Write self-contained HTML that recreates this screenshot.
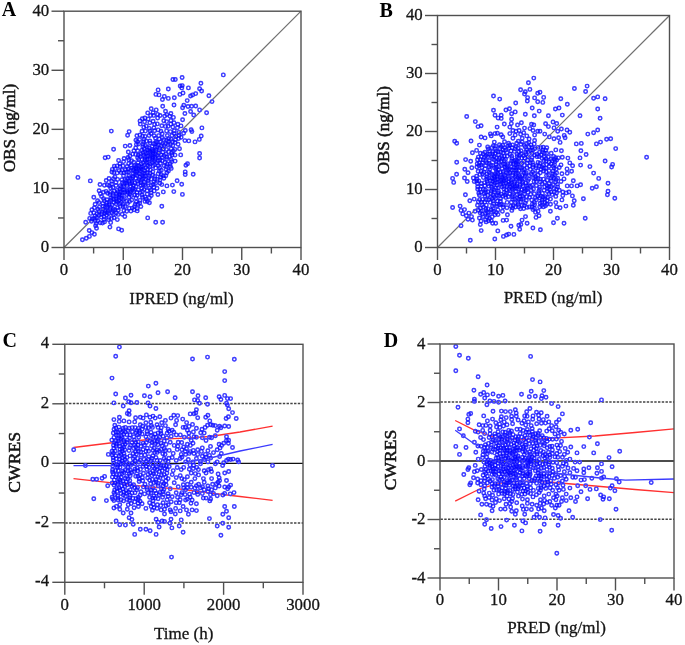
<!DOCTYPE html>
<html><head><meta charset="utf-8"><style>
html,body{margin:0;padding:0;background:#fff;}
body{width:685px;height:645px;overflow:hidden;}
svg{display:block;font-family:"Liberation Serif",serif;filter:blur(0.35px);}
</style></head><body>
<svg width="685" height="645" viewBox="0 0 685 645">
<line x1="64.00" y1="247.50" x2="301.00" y2="11.20" stroke="#707070" stroke-width="1.2" />
<path d="M225.05 74.9a1.75 1.75 0 1 0 -3.5 0a1.75 1.75 0 1 0 3.5 0M183.85 77.5a1.75 1.75 0 1 0 -3.5 0a1.75 1.75 0 1 0 3.5 0M174.65 79.5a1.75 1.75 0 1 0 -3.5 0a1.75 1.75 0 1 0 3.5 0M177.05 79.5a1.75 1.75 0 1 0 -3.5 0a1.75 1.75 0 1 0 3.5 0M202.65 83.3a1.75 1.75 0 1 0 -3.5 0a1.75 1.75 0 1 0 3.5 0M181.95 86.0a1.75 1.75 0 1 0 -3.5 0a1.75 1.75 0 1 0 3.5 0M183.95 85.6a1.75 1.75 0 1 0 -3.5 0a1.75 1.75 0 1 0 3.5 0M183.55 87.9a1.75 1.75 0 1 0 -3.5 0a1.75 1.75 0 1 0 3.5 0M190.15 87.9a1.75 1.75 0 1 0 -3.5 0a1.75 1.75 0 1 0 3.5 0M170.05 89.0a1.75 1.75 0 1 0 -3.5 0a1.75 1.75 0 1 0 3.5 0M201.35 88.7a1.75 1.75 0 1 0 -3.5 0a1.75 1.75 0 1 0 3.5 0M203.35 91.0a1.75 1.75 0 1 0 -3.5 0a1.75 1.75 0 1 0 3.5 0M159.85 89.9a1.75 1.75 0 1 0 -3.5 0a1.75 1.75 0 1 0 3.5 0M184.75 93.0a1.75 1.75 0 1 0 -3.5 0a1.75 1.75 0 1 0 3.5 0M181.65 94.4a1.75 1.75 0 1 0 -3.5 0a1.75 1.75 0 1 0 3.5 0M157.65 94.4a1.75 1.75 0 1 0 -3.5 0a1.75 1.75 0 1 0 3.5 0M160.75 94.9a1.75 1.75 0 1 0 -3.5 0a1.75 1.75 0 1 0 3.5 0M210.65 95.7a1.75 1.75 0 1 0 -3.5 0a1.75 1.75 0 1 0 3.5 0M197.45 93.6a1.75 1.75 0 1 0 -3.5 0a1.75 1.75 0 1 0 3.5 0M194.35 94.9a1.75 1.75 0 1 0 -3.5 0a1.75 1.75 0 1 0 3.5 0M192.35 96.0a1.75 1.75 0 1 0 -3.5 0a1.75 1.75 0 1 0 3.5 0M166.05 96.4a1.75 1.75 0 1 0 -3.5 0a1.75 1.75 0 1 0 3.5 0M170.05 98.4a1.75 1.75 0 1 0 -3.5 0a1.75 1.75 0 1 0 3.5 0M164.15 99.5a1.75 1.75 0 1 0 -3.5 0a1.75 1.75 0 1 0 3.5 0M176.05 97.7a1.75 1.75 0 1 0 -3.5 0a1.75 1.75 0 1 0 3.5 0M188.95 100.6a1.75 1.75 0 1 0 -3.5 0a1.75 1.75 0 1 0 3.5 0M213.75 101.6a1.75 1.75 0 1 0 -3.5 0a1.75 1.75 0 1 0 3.5 0M164.45 106.2a1.75 1.75 0 1 0 -3.5 0a1.75 1.75 0 1 0 3.5 0M175.75 105.0a1.75 1.75 0 1 0 -3.5 0a1.75 1.75 0 1 0 3.5 0M185.55 105.3a1.75 1.75 0 1 0 -3.5 0a1.75 1.75 0 1 0 3.5 0M184.35 107.8a1.75 1.75 0 1 0 -3.5 0a1.75 1.75 0 1 0 3.5 0M189.75 106.5a1.75 1.75 0 1 0 -3.5 0a1.75 1.75 0 1 0 3.5 0M193.35 106.2a1.75 1.75 0 1 0 -3.5 0a1.75 1.75 0 1 0 3.5 0M197.45 106.0a1.75 1.75 0 1 0 -3.5 0a1.75 1.75 0 1 0 3.5 0M201.35 109.9a1.75 1.75 0 1 0 -3.5 0a1.75 1.75 0 1 0 3.5 0M192.35 111.5a1.75 1.75 0 1 0 -3.5 0a1.75 1.75 0 1 0 3.5 0M195.45 115.0a1.75 1.75 0 1 0 -3.5 0a1.75 1.75 0 1 0 3.5 0M208.35 112.7a1.75 1.75 0 1 0 -3.5 0a1.75 1.75 0 1 0 3.5 0M152.95 108.8a1.75 1.75 0 1 0 -3.5 0a1.75 1.75 0 1 0 3.5 0M157.95 109.9a1.75 1.75 0 1 0 -3.5 0a1.75 1.75 0 1 0 3.5 0M154.85 112.7a1.75 1.75 0 1 0 -3.5 0a1.75 1.75 0 1 0 3.5 0M167.25 111.2a1.75 1.75 0 1 0 -3.5 0a1.75 1.75 0 1 0 3.5 0M172.65 113.5a1.75 1.75 0 1 0 -3.5 0a1.75 1.75 0 1 0 3.5 0M168.45 114.6a1.75 1.75 0 1 0 -3.5 0a1.75 1.75 0 1 0 3.5 0M161.85 115.5a1.75 1.75 0 1 0 -3.5 0a1.75 1.75 0 1 0 3.5 0M166.45 116.1a1.75 1.75 0 1 0 -3.5 0a1.75 1.75 0 1 0 3.5 0M186.65 113.5a1.75 1.75 0 1 0 -3.5 0a1.75 1.75 0 1 0 3.5 0M184.35 119.7a1.75 1.75 0 1 0 -3.5 0a1.75 1.75 0 1 0 3.5 0M154.85 121.2a1.75 1.75 0 1 0 -3.5 0a1.75 1.75 0 1 0 3.5 0M172.65 120.5a1.75 1.75 0 1 0 -3.5 0a1.75 1.75 0 1 0 3.5 0M175.75 122.8a1.75 1.75 0 1 0 -3.5 0a1.75 1.75 0 1 0 3.5 0M179.65 124.3a1.75 1.75 0 1 0 -3.5 0a1.75 1.75 0 1 0 3.5 0M182.75 125.9a1.75 1.75 0 1 0 -3.5 0a1.75 1.75 0 1 0 3.5 0M187.05 130.5a1.75 1.75 0 1 0 -3.5 0a1.75 1.75 0 1 0 3.5 0M192.85 129.8a1.75 1.75 0 1 0 -3.5 0a1.75 1.75 0 1 0 3.5 0M193.65 131.6a1.75 1.75 0 1 0 -3.5 0a1.75 1.75 0 1 0 3.5 0M203.65 127.9a1.75 1.75 0 1 0 -3.5 0a1.75 1.75 0 1 0 3.5 0M202.95 136.0a1.75 1.75 0 1 0 -3.5 0a1.75 1.75 0 1 0 3.5 0M201.05 139.4a1.75 1.75 0 1 0 -3.5 0a1.75 1.75 0 1 0 3.5 0M186.65 140.6a1.75 1.75 0 1 0 -3.5 0a1.75 1.75 0 1 0 3.5 0M190.55 140.9a1.75 1.75 0 1 0 -3.5 0a1.75 1.75 0 1 0 3.5 0M196.75 141.9a1.75 1.75 0 1 0 -3.5 0a1.75 1.75 0 1 0 3.5 0M181.25 148.7a1.75 1.75 0 1 0 -3.5 0a1.75 1.75 0 1 0 3.5 0M182.45 154.9a1.75 1.75 0 1 0 -3.5 0a1.75 1.75 0 1 0 3.5 0M201.35 153.5a1.75 1.75 0 1 0 -3.5 0a1.75 1.75 0 1 0 3.5 0M201.35 158.0a1.75 1.75 0 1 0 -3.5 0a1.75 1.75 0 1 0 3.5 0M173.45 152.7a1.75 1.75 0 1 0 -3.5 0a1.75 1.75 0 1 0 3.5 0M149.45 112.9a1.75 1.75 0 1 0 -3.5 0a1.75 1.75 0 1 0 3.5 0M144.05 118.7a1.75 1.75 0 1 0 -3.5 0a1.75 1.75 0 1 0 3.5 0M141.75 121.0a1.75 1.75 0 1 0 -3.5 0a1.75 1.75 0 1 0 3.5 0M146.35 121.8a1.75 1.75 0 1 0 -3.5 0a1.75 1.75 0 1 0 3.5 0M145.55 127.2a1.75 1.75 0 1 0 -3.5 0a1.75 1.75 0 1 0 3.5 0M147.15 131.1a1.75 1.75 0 1 0 -3.5 0a1.75 1.75 0 1 0 3.5 0M113.05 131.1a1.75 1.75 0 1 0 -3.5 0a1.75 1.75 0 1 0 3.5 0M130.85 131.6a1.75 1.75 0 1 0 -3.5 0a1.75 1.75 0 1 0 3.5 0M129.35 135.3a1.75 1.75 0 1 0 -3.5 0a1.75 1.75 0 1 0 3.5 0M138.65 135.7a1.75 1.75 0 1 0 -3.5 0a1.75 1.75 0 1 0 3.5 0M141.75 135.0a1.75 1.75 0 1 0 -3.5 0a1.75 1.75 0 1 0 3.5 0M115.35 149.2a1.75 1.75 0 1 0 -3.5 0a1.75 1.75 0 1 0 3.5 0M126.95 146.1a1.75 1.75 0 1 0 -3.5 0a1.75 1.75 0 1 0 3.5 0M131.65 145.5a1.75 1.75 0 1 0 -3.5 0a1.75 1.75 0 1 0 3.5 0M130.05 152.0a1.75 1.75 0 1 0 -3.5 0a1.75 1.75 0 1 0 3.5 0M106.85 157.8a1.75 1.75 0 1 0 -3.5 0a1.75 1.75 0 1 0 3.5 0M109.95 157.1a1.75 1.75 0 1 0 -3.5 0a1.75 1.75 0 1 0 3.5 0M79.65 177.4a1.75 1.75 0 1 0 -3.5 0a1.75 1.75 0 1 0 3.5 0M92.05 180.9a1.75 1.75 0 1 0 -3.5 0a1.75 1.75 0 1 0 3.5 0M101.75 184.5a1.75 1.75 0 1 0 -3.5 0a1.75 1.75 0 1 0 3.5 0M107.95 180.5a1.75 1.75 0 1 0 -3.5 0a1.75 1.75 0 1 0 3.5 0M95.55 197.3a1.75 1.75 0 1 0 -3.5 0a1.75 1.75 0 1 0 3.5 0M100.85 190.8a1.75 1.75 0 1 0 -3.5 0a1.75 1.75 0 1 0 3.5 0M87.45 222.3a1.75 1.75 0 1 0 -3.5 0a1.75 1.75 0 1 0 3.5 0M91.45 218.4a1.75 1.75 0 1 0 -3.5 0a1.75 1.75 0 1 0 3.5 0M92.45 213.4a1.75 1.75 0 1 0 -3.5 0a1.75 1.75 0 1 0 3.5 0M95.55 212.8a1.75 1.75 0 1 0 -3.5 0a1.75 1.75 0 1 0 3.5 0M90.95 230.5a1.75 1.75 0 1 0 -3.5 0a1.75 1.75 0 1 0 3.5 0M93.65 232.6a1.75 1.75 0 1 0 -3.5 0a1.75 1.75 0 1 0 3.5 0M96.15 234.2a1.75 1.75 0 1 0 -3.5 0a1.75 1.75 0 1 0 3.5 0M91.15 236.4a1.75 1.75 0 1 0 -3.5 0a1.75 1.75 0 1 0 3.5 0M88.05 238.2a1.75 1.75 0 1 0 -3.5 0a1.75 1.75 0 1 0 3.5 0M84.15 239.8a1.75 1.75 0 1 0 -3.5 0a1.75 1.75 0 1 0 3.5 0M97.35 225.8a1.75 1.75 0 1 0 -3.5 0a1.75 1.75 0 1 0 3.5 0M98.25 228.3a1.75 1.75 0 1 0 -3.5 0a1.75 1.75 0 1 0 3.5 0M120.35 228.9a1.75 1.75 0 1 0 -3.5 0a1.75 1.75 0 1 0 3.5 0M123.45 230.2a1.75 1.75 0 1 0 -3.5 0a1.75 1.75 0 1 0 3.5 0M111.65 227.1a1.75 1.75 0 1 0 -3.5 0a1.75 1.75 0 1 0 3.5 0M126.55 216.5a1.75 1.75 0 1 0 -3.5 0a1.75 1.75 0 1 0 3.5 0M135.85 209.7a1.75 1.75 0 1 0 -3.5 0a1.75 1.75 0 1 0 3.5 0M138.95 210.9a1.75 1.75 0 1 0 -3.5 0a1.75 1.75 0 1 0 3.5 0M142.65 206.6a1.75 1.75 0 1 0 -3.5 0a1.75 1.75 0 1 0 3.5 0M185.35 133.2a1.75 1.75 0 1 0 -3.5 0a1.75 1.75 0 1 0 3.5 0M189.25 163.7a1.75 1.75 0 1 0 -3.5 0a1.75 1.75 0 1 0 3.5 0M187.65 165.3a1.75 1.75 0 1 0 -3.5 0a1.75 1.75 0 1 0 3.5 0M176.85 161.1a1.75 1.75 0 1 0 -3.5 0a1.75 1.75 0 1 0 3.5 0M172.95 168.4a1.75 1.75 0 1 0 -3.5 0a1.75 1.75 0 1 0 3.5 0M168.65 172.7a1.75 1.75 0 1 0 -3.5 0a1.75 1.75 0 1 0 3.5 0M167.55 175.8a1.75 1.75 0 1 0 -3.5 0a1.75 1.75 0 1 0 3.5 0M186.95 171.9a1.75 1.75 0 1 0 -3.5 0a1.75 1.75 0 1 0 3.5 0M186.95 174.6a1.75 1.75 0 1 0 -3.5 0a1.75 1.75 0 1 0 3.5 0M194.95 174.3a1.75 1.75 0 1 0 -3.5 0a1.75 1.75 0 1 0 3.5 0M178.85 180.8a1.75 1.75 0 1 0 -3.5 0a1.75 1.75 0 1 0 3.5 0M174.15 185.1a1.75 1.75 0 1 0 -3.5 0a1.75 1.75 0 1 0 3.5 0M183.45 184.3a1.75 1.75 0 1 0 -3.5 0a1.75 1.75 0 1 0 3.5 0M168.65 185.9a1.75 1.75 0 1 0 -3.5 0a1.75 1.75 0 1 0 3.5 0M175.55 191.6a1.75 1.75 0 1 0 -3.5 0a1.75 1.75 0 1 0 3.5 0M184.15 194.4a1.75 1.75 0 1 0 -3.5 0a1.75 1.75 0 1 0 3.5 0M168.35 121.6a1.75 1.75 0 1 0 -3.5 0a1.75 1.75 0 1 0 3.5 0M169.85 126.2a1.75 1.75 0 1 0 -3.5 0a1.75 1.75 0 1 0 3.5 0M174.55 127.0a1.75 1.75 0 1 0 -3.5 0a1.75 1.75 0 1 0 3.5 0M179.15 127.8a1.75 1.75 0 1 0 -3.5 0a1.75 1.75 0 1 0 3.5 0M168.35 130.9a1.75 1.75 0 1 0 -3.5 0a1.75 1.75 0 1 0 3.5 0M172.15 131.6a1.75 1.75 0 1 0 -3.5 0a1.75 1.75 0 1 0 3.5 0M176.05 130.9a1.75 1.75 0 1 0 -3.5 0a1.75 1.75 0 1 0 3.5 0M180.75 132.4a1.75 1.75 0 1 0 -3.5 0a1.75 1.75 0 1 0 3.5 0M169.05 135.5a1.75 1.75 0 1 0 -3.5 0a1.75 1.75 0 1 0 3.5 0M173.75 135.5a1.75 1.75 0 1 0 -3.5 0a1.75 1.75 0 1 0 3.5 0M177.65 136.3a1.75 1.75 0 1 0 -3.5 0a1.75 1.75 0 1 0 3.5 0M180.75 135.5a1.75 1.75 0 1 0 -3.5 0a1.75 1.75 0 1 0 3.5 0M168.35 140.2a1.75 1.75 0 1 0 -3.5 0a1.75 1.75 0 1 0 3.5 0M172.95 139.4a1.75 1.75 0 1 0 -3.5 0a1.75 1.75 0 1 0 3.5 0M176.85 142.5a1.75 1.75 0 1 0 -3.5 0a1.75 1.75 0 1 0 3.5 0M169.85 144.8a1.75 1.75 0 1 0 -3.5 0a1.75 1.75 0 1 0 3.5 0M174.55 145.6a1.75 1.75 0 1 0 -3.5 0a1.75 1.75 0 1 0 3.5 0M168.35 149.5a1.75 1.75 0 1 0 -3.5 0a1.75 1.75 0 1 0 3.5 0M172.95 148.7a1.75 1.75 0 1 0 -3.5 0a1.75 1.75 0 1 0 3.5 0M167.55 154.1a1.75 1.75 0 1 0 -3.5 0a1.75 1.75 0 1 0 3.5 0M171.45 156.4a1.75 1.75 0 1 0 -3.5 0a1.75 1.75 0 1 0 3.5 0M168.35 159.5a1.75 1.75 0 1 0 -3.5 0a1.75 1.75 0 1 0 3.5 0M172.95 159.5a1.75 1.75 0 1 0 -3.5 0a1.75 1.75 0 1 0 3.5 0M169.05 164.2a1.75 1.75 0 1 0 -3.5 0a1.75 1.75 0 1 0 3.5 0M172.15 166.5a1.75 1.75 0 1 0 -3.5 0a1.75 1.75 0 1 0 3.5 0M167.95 169.6a1.75 1.75 0 1 0 -3.5 0a1.75 1.75 0 1 0 3.5 0M165.05 191.9a1.75 1.75 0 1 0 -3.5 0a1.75 1.75 0 1 0 3.5 0M159.65 194.5a1.75 1.75 0 1 0 -3.5 0a1.75 1.75 0 1 0 3.5 0M158.75 188.2a1.75 1.75 0 1 0 -3.5 0a1.75 1.75 0 1 0 3.5 0M163.55 184.6a1.75 1.75 0 1 0 -3.5 0a1.75 1.75 0 1 0 3.5 0M152.65 190.1a1.75 1.75 0 1 0 -3.5 0a1.75 1.75 0 1 0 3.5 0M151.15 197.7a1.75 1.75 0 1 0 -3.5 0a1.75 1.75 0 1 0 3.5 0M151.15 202.8a1.75 1.75 0 1 0 -3.5 0a1.75 1.75 0 1 0 3.5 0M146.75 201.4a1.75 1.75 0 1 0 -3.5 0a1.75 1.75 0 1 0 3.5 0M163.55 206.2a1.75 1.75 0 1 0 -3.5 0a1.75 1.75 0 1 0 3.5 0M149.45 217.9a1.75 1.75 0 1 0 -3.5 0a1.75 1.75 0 1 0 3.5 0M157.45 222.3a1.75 1.75 0 1 0 -3.5 0a1.75 1.75 0 1 0 3.5 0M164.35 222.3a1.75 1.75 0 1 0 -3.5 0a1.75 1.75 0 1 0 3.5 0M119.05 219.6a1.75 1.75 0 1 0 -3.5 0a1.75 1.75 0 1 0 3.5 0M112.45 222.6a1.75 1.75 0 1 0 -3.5 0a1.75 1.75 0 1 0 3.5 0M136.05 168.5a1.75 1.75 0 1 0 -3.5 0a1.75 1.75 0 1 0 3.5 0M138.65 170.9a1.75 1.75 0 1 0 -3.5 0a1.75 1.75 0 1 0 3.5 0M164.25 143.6a1.75 1.75 0 1 0 -3.5 0a1.75 1.75 0 1 0 3.5 0M121.45 203.7a1.75 1.75 0 1 0 -3.5 0a1.75 1.75 0 1 0 3.5 0M142.65 169.0a1.75 1.75 0 1 0 -3.5 0a1.75 1.75 0 1 0 3.5 0M145.25 173.4a1.75 1.75 0 1 0 -3.5 0a1.75 1.75 0 1 0 3.5 0M121.85 185.7a1.75 1.75 0 1 0 -3.5 0a1.75 1.75 0 1 0 3.5 0M148.45 162.5a1.75 1.75 0 1 0 -3.5 0a1.75 1.75 0 1 0 3.5 0M138.85 175.6a1.75 1.75 0 1 0 -3.5 0a1.75 1.75 0 1 0 3.5 0M132.05 191.8a1.75 1.75 0 1 0 -3.5 0a1.75 1.75 0 1 0 3.5 0M154.35 162.2a1.75 1.75 0 1 0 -3.5 0a1.75 1.75 0 1 0 3.5 0M126.45 192.2a1.75 1.75 0 1 0 -3.5 0a1.75 1.75 0 1 0 3.5 0M125.35 184.2a1.75 1.75 0 1 0 -3.5 0a1.75 1.75 0 1 0 3.5 0M134.75 188.2a1.75 1.75 0 1 0 -3.5 0a1.75 1.75 0 1 0 3.5 0M131.55 177.7a1.75 1.75 0 1 0 -3.5 0a1.75 1.75 0 1 0 3.5 0M154.75 152.6a1.75 1.75 0 1 0 -3.5 0a1.75 1.75 0 1 0 3.5 0M103.25 214.2a1.75 1.75 0 1 0 -3.5 0a1.75 1.75 0 1 0 3.5 0M112.45 200.2a1.75 1.75 0 1 0 -3.5 0a1.75 1.75 0 1 0 3.5 0M118.35 194.0a1.75 1.75 0 1 0 -3.5 0a1.75 1.75 0 1 0 3.5 0M123.05 202.5a1.75 1.75 0 1 0 -3.5 0a1.75 1.75 0 1 0 3.5 0M148.15 153.3a1.75 1.75 0 1 0 -3.5 0a1.75 1.75 0 1 0 3.5 0M111.15 204.5a1.75 1.75 0 1 0 -3.5 0a1.75 1.75 0 1 0 3.5 0M124.15 182.8a1.75 1.75 0 1 0 -3.5 0a1.75 1.75 0 1 0 3.5 0M154.65 156.5a1.75 1.75 0 1 0 -3.5 0a1.75 1.75 0 1 0 3.5 0M110.15 211.0a1.75 1.75 0 1 0 -3.5 0a1.75 1.75 0 1 0 3.5 0M133.85 181.5a1.75 1.75 0 1 0 -3.5 0a1.75 1.75 0 1 0 3.5 0M140.95 179.4a1.75 1.75 0 1 0 -3.5 0a1.75 1.75 0 1 0 3.5 0M130.75 181.6a1.75 1.75 0 1 0 -3.5 0a1.75 1.75 0 1 0 3.5 0M155.55 150.7a1.75 1.75 0 1 0 -3.5 0a1.75 1.75 0 1 0 3.5 0M137.25 174.4a1.75 1.75 0 1 0 -3.5 0a1.75 1.75 0 1 0 3.5 0M105.85 216.8a1.75 1.75 0 1 0 -3.5 0a1.75 1.75 0 1 0 3.5 0M154.15 160.2a1.75 1.75 0 1 0 -3.5 0a1.75 1.75 0 1 0 3.5 0M106.35 213.2a1.75 1.75 0 1 0 -3.5 0a1.75 1.75 0 1 0 3.5 0M107.15 206.8a1.75 1.75 0 1 0 -3.5 0a1.75 1.75 0 1 0 3.5 0M150.35 162.6a1.75 1.75 0 1 0 -3.5 0a1.75 1.75 0 1 0 3.5 0M161.55 148.3a1.75 1.75 0 1 0 -3.5 0a1.75 1.75 0 1 0 3.5 0M126.95 179.5a1.75 1.75 0 1 0 -3.5 0a1.75 1.75 0 1 0 3.5 0M139.25 181.3a1.75 1.75 0 1 0 -3.5 0a1.75 1.75 0 1 0 3.5 0M108.45 205.2a1.75 1.75 0 1 0 -3.5 0a1.75 1.75 0 1 0 3.5 0M148.95 159.7a1.75 1.75 0 1 0 -3.5 0a1.75 1.75 0 1 0 3.5 0M148.45 156.0a1.75 1.75 0 1 0 -3.5 0a1.75 1.75 0 1 0 3.5 0M144.95 162.7a1.75 1.75 0 1 0 -3.5 0a1.75 1.75 0 1 0 3.5 0M134.85 176.2a1.75 1.75 0 1 0 -3.5 0a1.75 1.75 0 1 0 3.5 0M158.95 155.5a1.75 1.75 0 1 0 -3.5 0a1.75 1.75 0 1 0 3.5 0M116.55 210.0a1.75 1.75 0 1 0 -3.5 0a1.75 1.75 0 1 0 3.5 0M161.05 149.9a1.75 1.75 0 1 0 -3.5 0a1.75 1.75 0 1 0 3.5 0M120.85 197.6a1.75 1.75 0 1 0 -3.5 0a1.75 1.75 0 1 0 3.5 0M115.05 210.7a1.75 1.75 0 1 0 -3.5 0a1.75 1.75 0 1 0 3.5 0M128.25 180.9a1.75 1.75 0 1 0 -3.5 0a1.75 1.75 0 1 0 3.5 0M156.95 156.8a1.75 1.75 0 1 0 -3.5 0a1.75 1.75 0 1 0 3.5 0M157.65 141.7a1.75 1.75 0 1 0 -3.5 0a1.75 1.75 0 1 0 3.5 0M143.05 163.7a1.75 1.75 0 1 0 -3.5 0a1.75 1.75 0 1 0 3.5 0M135.35 185.5a1.75 1.75 0 1 0 -3.5 0a1.75 1.75 0 1 0 3.5 0M145.45 155.5a1.75 1.75 0 1 0 -3.5 0a1.75 1.75 0 1 0 3.5 0M154.25 158.0a1.75 1.75 0 1 0 -3.5 0a1.75 1.75 0 1 0 3.5 0M115.95 199.3a1.75 1.75 0 1 0 -3.5 0a1.75 1.75 0 1 0 3.5 0M113.65 213.0a1.75 1.75 0 1 0 -3.5 0a1.75 1.75 0 1 0 3.5 0M144.25 169.5a1.75 1.75 0 1 0 -3.5 0a1.75 1.75 0 1 0 3.5 0M159.15 142.4a1.75 1.75 0 1 0 -3.5 0a1.75 1.75 0 1 0 3.5 0M118.55 195.9a1.75 1.75 0 1 0 -3.5 0a1.75 1.75 0 1 0 3.5 0M162.15 141.9a1.75 1.75 0 1 0 -3.5 0a1.75 1.75 0 1 0 3.5 0M129.25 178.5a1.75 1.75 0 1 0 -3.5 0a1.75 1.75 0 1 0 3.5 0M140.65 165.6a1.75 1.75 0 1 0 -3.5 0a1.75 1.75 0 1 0 3.5 0M114.35 198.7a1.75 1.75 0 1 0 -3.5 0a1.75 1.75 0 1 0 3.5 0M138.05 169.1a1.75 1.75 0 1 0 -3.5 0a1.75 1.75 0 1 0 3.5 0M111.55 209.0a1.75 1.75 0 1 0 -3.5 0a1.75 1.75 0 1 0 3.5 0M138.75 165.5a1.75 1.75 0 1 0 -3.5 0a1.75 1.75 0 1 0 3.5 0M118.35 200.7a1.75 1.75 0 1 0 -3.5 0a1.75 1.75 0 1 0 3.5 0M127.05 182.9a1.75 1.75 0 1 0 -3.5 0a1.75 1.75 0 1 0 3.5 0M152.05 157.3a1.75 1.75 0 1 0 -3.5 0a1.75 1.75 0 1 0 3.5 0M154.85 154.3a1.75 1.75 0 1 0 -3.5 0a1.75 1.75 0 1 0 3.5 0M134.85 169.9a1.75 1.75 0 1 0 -3.5 0a1.75 1.75 0 1 0 3.5 0M128.65 185.4a1.75 1.75 0 1 0 -3.5 0a1.75 1.75 0 1 0 3.5 0M128.95 191.4a1.75 1.75 0 1 0 -3.5 0a1.75 1.75 0 1 0 3.5 0M160.35 152.9a1.75 1.75 0 1 0 -3.5 0a1.75 1.75 0 1 0 3.5 0M150.15 152.4a1.75 1.75 0 1 0 -3.5 0a1.75 1.75 0 1 0 3.5 0M153.95 151.2a1.75 1.75 0 1 0 -3.5 0a1.75 1.75 0 1 0 3.5 0M142.05 170.8a1.75 1.75 0 1 0 -3.5 0a1.75 1.75 0 1 0 3.5 0M124.85 199.6a1.75 1.75 0 1 0 -3.5 0a1.75 1.75 0 1 0 3.5 0M141.15 173.7a1.75 1.75 0 1 0 -3.5 0a1.75 1.75 0 1 0 3.5 0M141.65 177.0a1.75 1.75 0 1 0 -3.5 0a1.75 1.75 0 1 0 3.5 0M110.35 213.1a1.75 1.75 0 1 0 -3.5 0a1.75 1.75 0 1 0 3.5 0M137.75 167.3a1.75 1.75 0 1 0 -3.5 0a1.75 1.75 0 1 0 3.5 0M143.05 174.6a1.75 1.75 0 1 0 -3.5 0a1.75 1.75 0 1 0 3.5 0M134.15 190.0a1.75 1.75 0 1 0 -3.5 0a1.75 1.75 0 1 0 3.5 0M104.85 209.4a1.75 1.75 0 1 0 -3.5 0a1.75 1.75 0 1 0 3.5 0M123.25 198.5a1.75 1.75 0 1 0 -3.5 0a1.75 1.75 0 1 0 3.5 0M147.25 160.7a1.75 1.75 0 1 0 -3.5 0a1.75 1.75 0 1 0 3.5 0M118.75 190.1a1.75 1.75 0 1 0 -3.5 0a1.75 1.75 0 1 0 3.5 0M149.55 165.5a1.75 1.75 0 1 0 -3.5 0a1.75 1.75 0 1 0 3.5 0M106.75 211.0a1.75 1.75 0 1 0 -3.5 0a1.75 1.75 0 1 0 3.5 0M108.55 212.5a1.75 1.75 0 1 0 -3.5 0a1.75 1.75 0 1 0 3.5 0M150.25 156.0a1.75 1.75 0 1 0 -3.5 0a1.75 1.75 0 1 0 3.5 0M123.95 195.0a1.75 1.75 0 1 0 -3.5 0a1.75 1.75 0 1 0 3.5 0M156.95 147.1a1.75 1.75 0 1 0 -3.5 0a1.75 1.75 0 1 0 3.5 0M158.75 146.7a1.75 1.75 0 1 0 -3.5 0a1.75 1.75 0 1 0 3.5 0M108.25 215.1a1.75 1.75 0 1 0 -3.5 0a1.75 1.75 0 1 0 3.5 0M121.75 189.0a1.75 1.75 0 1 0 -3.5 0a1.75 1.75 0 1 0 3.5 0M128.65 194.5a1.75 1.75 0 1 0 -3.5 0a1.75 1.75 0 1 0 3.5 0M115.75 202.5a1.75 1.75 0 1 0 -3.5 0a1.75 1.75 0 1 0 3.5 0M131.75 183.8a1.75 1.75 0 1 0 -3.5 0a1.75 1.75 0 1 0 3.5 0M124.35 189.8a1.75 1.75 0 1 0 -3.5 0a1.75 1.75 0 1 0 3.5 0M156.15 160.9a1.75 1.75 0 1 0 -3.5 0a1.75 1.75 0 1 0 3.5 0M129.15 189.7a1.75 1.75 0 1 0 -3.5 0a1.75 1.75 0 1 0 3.5 0M143.75 159.5a1.75 1.75 0 1 0 -3.5 0a1.75 1.75 0 1 0 3.5 0M133.15 178.9a1.75 1.75 0 1 0 -3.5 0a1.75 1.75 0 1 0 3.5 0M163.25 145.9a1.75 1.75 0 1 0 -3.5 0a1.75 1.75 0 1 0 3.5 0M134.45 177.8a1.75 1.75 0 1 0 -3.5 0a1.75 1.75 0 1 0 3.5 0M128.75 183.2a1.75 1.75 0 1 0 -3.5 0a1.75 1.75 0 1 0 3.5 0M144.45 175.7a1.75 1.75 0 1 0 -3.5 0a1.75 1.75 0 1 0 3.5 0M154.05 146.2a1.75 1.75 0 1 0 -3.5 0a1.75 1.75 0 1 0 3.5 0M112.35 207.2a1.75 1.75 0 1 0 -3.5 0a1.75 1.75 0 1 0 3.5 0M129.85 192.8a1.75 1.75 0 1 0 -3.5 0a1.75 1.75 0 1 0 3.5 0M111.05 202.2a1.75 1.75 0 1 0 -3.5 0a1.75 1.75 0 1 0 3.5 0M123.05 187.3a1.75 1.75 0 1 0 -3.5 0a1.75 1.75 0 1 0 3.5 0M118.05 198.6a1.75 1.75 0 1 0 -3.5 0a1.75 1.75 0 1 0 3.5 0M132.25 186.0a1.75 1.75 0 1 0 -3.5 0a1.75 1.75 0 1 0 3.5 0M152.15 152.2a1.75 1.75 0 1 0 -3.5 0a1.75 1.75 0 1 0 3.5 0M159.95 145.0a1.75 1.75 0 1 0 -3.5 0a1.75 1.75 0 1 0 3.5 0M155.35 143.7a1.75 1.75 0 1 0 -3.5 0a1.75 1.75 0 1 0 3.5 0M104.05 212.4a1.75 1.75 0 1 0 -3.5 0a1.75 1.75 0 1 0 3.5 0M113.65 204.9a1.75 1.75 0 1 0 -3.5 0a1.75 1.75 0 1 0 3.5 0M125.55 186.4a1.75 1.75 0 1 0 -3.5 0a1.75 1.75 0 1 0 3.5 0M122.25 195.5a1.75 1.75 0 1 0 -3.5 0a1.75 1.75 0 1 0 3.5 0M126.15 198.6a1.75 1.75 0 1 0 -3.5 0a1.75 1.75 0 1 0 3.5 0M117.75 203.7a1.75 1.75 0 1 0 -3.5 0a1.75 1.75 0 1 0 3.5 0M151.45 166.4a1.75 1.75 0 1 0 -3.5 0a1.75 1.75 0 1 0 3.5 0M135.05 173.8a1.75 1.75 0 1 0 -3.5 0a1.75 1.75 0 1 0 3.5 0M114.65 195.4a1.75 1.75 0 1 0 -3.5 0a1.75 1.75 0 1 0 3.5 0M156.95 158.6a1.75 1.75 0 1 0 -3.5 0a1.75 1.75 0 1 0 3.5 0M137.35 178.3a1.75 1.75 0 1 0 -3.5 0a1.75 1.75 0 1 0 3.5 0M120.65 200.2a1.75 1.75 0 1 0 -3.5 0a1.75 1.75 0 1 0 3.5 0M124.35 192.7a1.75 1.75 0 1 0 -3.5 0a1.75 1.75 0 1 0 3.5 0M138.35 172.6a1.75 1.75 0 1 0 -3.5 0a1.75 1.75 0 1 0 3.5 0M140.65 169.6a1.75 1.75 0 1 0 -3.5 0a1.75 1.75 0 1 0 3.5 0M130.65 175.7a1.75 1.75 0 1 0 -3.5 0a1.75 1.75 0 1 0 3.5 0M121.35 193.9a1.75 1.75 0 1 0 -3.5 0a1.75 1.75 0 1 0 3.5 0M133.65 183.2a1.75 1.75 0 1 0 -3.5 0a1.75 1.75 0 1 0 3.5 0M147.55 167.6a1.75 1.75 0 1 0 -3.5 0a1.75 1.75 0 1 0 3.5 0M144.25 166.6a1.75 1.75 0 1 0 -3.5 0a1.75 1.75 0 1 0 3.5 0M157.55 149.6a1.75 1.75 0 1 0 -3.5 0a1.75 1.75 0 1 0 3.5 0M122.25 191.7a1.75 1.75 0 1 0 -3.5 0a1.75 1.75 0 1 0 3.5 0M146.55 159.4a1.75 1.75 0 1 0 -3.5 0a1.75 1.75 0 1 0 3.5 0M146.25 170.7a1.75 1.75 0 1 0 -3.5 0a1.75 1.75 0 1 0 3.5 0M119.85 191.6a1.75 1.75 0 1 0 -3.5 0a1.75 1.75 0 1 0 3.5 0M108.95 207.2a1.75 1.75 0 1 0 -3.5 0a1.75 1.75 0 1 0 3.5 0M151.35 150.7a1.75 1.75 0 1 0 -3.5 0a1.75 1.75 0 1 0 3.5 0M147.05 173.2a1.75 1.75 0 1 0 -3.5 0a1.75 1.75 0 1 0 3.5 0M112.55 198.1a1.75 1.75 0 1 0 -3.5 0a1.75 1.75 0 1 0 3.5 0M142.45 167.3a1.75 1.75 0 1 0 -3.5 0a1.75 1.75 0 1 0 3.5 0M136.95 171.7a1.75 1.75 0 1 0 -3.5 0a1.75 1.75 0 1 0 3.5 0M146.85 157.0a1.75 1.75 0 1 0 -3.5 0a1.75 1.75 0 1 0 3.5 0M151.45 164.1a1.75 1.75 0 1 0 -3.5 0a1.75 1.75 0 1 0 3.5 0M151.55 158.9a1.75 1.75 0 1 0 -3.5 0a1.75 1.75 0 1 0 3.5 0M115.15 208.9a1.75 1.75 0 1 0 -3.5 0a1.75 1.75 0 1 0 3.5 0M157.05 154.2a1.75 1.75 0 1 0 -3.5 0a1.75 1.75 0 1 0 3.5 0M136.55 182.8a1.75 1.75 0 1 0 -3.5 0a1.75 1.75 0 1 0 3.5 0M146.15 165.3a1.75 1.75 0 1 0 -3.5 0a1.75 1.75 0 1 0 3.5 0M149.35 169.5a1.75 1.75 0 1 0 -3.5 0a1.75 1.75 0 1 0 3.5 0M131.25 190.0a1.75 1.75 0 1 0 -3.5 0a1.75 1.75 0 1 0 3.5 0M157.25 143.4a1.75 1.75 0 1 0 -3.5 0a1.75 1.75 0 1 0 3.5 0M154.05 149.6a1.75 1.75 0 1 0 -3.5 0a1.75 1.75 0 1 0 3.5 0M157.55 151.4a1.75 1.75 0 1 0 -3.5 0a1.75 1.75 0 1 0 3.5 0M153.05 155.6a1.75 1.75 0 1 0 -3.5 0a1.75 1.75 0 1 0 3.5 0M119.25 202.1a1.75 1.75 0 1 0 -3.5 0a1.75 1.75 0 1 0 3.5 0M120.45 195.4a1.75 1.75 0 1 0 -3.5 0a1.75 1.75 0 1 0 3.5 0M126.05 190.0a1.75 1.75 0 1 0 -3.5 0a1.75 1.75 0 1 0 3.5 0M149.05 172.7a1.75 1.75 0 1 0 -3.5 0a1.75 1.75 0 1 0 3.5 0M145.85 148.7a1.75 1.75 0 1 0 -3.5 0a1.75 1.75 0 1 0 3.5 0M150.55 177.7a1.75 1.75 0 1 0 -3.5 0a1.75 1.75 0 1 0 3.5 0M119.35 207.9a1.75 1.75 0 1 0 -3.5 0a1.75 1.75 0 1 0 3.5 0M144.85 152.5a1.75 1.75 0 1 0 -3.5 0a1.75 1.75 0 1 0 3.5 0M133.45 200.1a1.75 1.75 0 1 0 -3.5 0a1.75 1.75 0 1 0 3.5 0M138.85 192.4a1.75 1.75 0 1 0 -3.5 0a1.75 1.75 0 1 0 3.5 0M135.45 162.2a1.75 1.75 0 1 0 -3.5 0a1.75 1.75 0 1 0 3.5 0M139.35 157.8a1.75 1.75 0 1 0 -3.5 0a1.75 1.75 0 1 0 3.5 0M117.75 185.5a1.75 1.75 0 1 0 -3.5 0a1.75 1.75 0 1 0 3.5 0M141.95 192.6a1.75 1.75 0 1 0 -3.5 0a1.75 1.75 0 1 0 3.5 0M154.75 166.0a1.75 1.75 0 1 0 -3.5 0a1.75 1.75 0 1 0 3.5 0M154.45 175.1a1.75 1.75 0 1 0 -3.5 0a1.75 1.75 0 1 0 3.5 0M114.65 187.5a1.75 1.75 0 1 0 -3.5 0a1.75 1.75 0 1 0 3.5 0M158.35 162.7a1.75 1.75 0 1 0 -3.5 0a1.75 1.75 0 1 0 3.5 0M154.55 171.8a1.75 1.75 0 1 0 -3.5 0a1.75 1.75 0 1 0 3.5 0M124.75 204.2a1.75 1.75 0 1 0 -3.5 0a1.75 1.75 0 1 0 3.5 0M131.25 201.5a1.75 1.75 0 1 0 -3.5 0a1.75 1.75 0 1 0 3.5 0M135.65 191.4a1.75 1.75 0 1 0 -3.5 0a1.75 1.75 0 1 0 3.5 0M146.15 182.4a1.75 1.75 0 1 0 -3.5 0a1.75 1.75 0 1 0 3.5 0M130.85 197.1a1.75 1.75 0 1 0 -3.5 0a1.75 1.75 0 1 0 3.5 0M163.05 155.0a1.75 1.75 0 1 0 -3.5 0a1.75 1.75 0 1 0 3.5 0M150.95 175.7a1.75 1.75 0 1 0 -3.5 0a1.75 1.75 0 1 0 3.5 0M151.85 143.1a1.75 1.75 0 1 0 -3.5 0a1.75 1.75 0 1 0 3.5 0M128.55 201.4a1.75 1.75 0 1 0 -3.5 0a1.75 1.75 0 1 0 3.5 0M152.05 170.0a1.75 1.75 0 1 0 -3.5 0a1.75 1.75 0 1 0 3.5 0M147.45 186.5a1.75 1.75 0 1 0 -3.5 0a1.75 1.75 0 1 0 3.5 0M147.25 145.5a1.75 1.75 0 1 0 -3.5 0a1.75 1.75 0 1 0 3.5 0M156.25 164.7a1.75 1.75 0 1 0 -3.5 0a1.75 1.75 0 1 0 3.5 0M165.85 145.4a1.75 1.75 0 1 0 -3.5 0a1.75 1.75 0 1 0 3.5 0M114.65 193.5a1.75 1.75 0 1 0 -3.5 0a1.75 1.75 0 1 0 3.5 0M132.35 170.4a1.75 1.75 0 1 0 -3.5 0a1.75 1.75 0 1 0 3.5 0M146.75 175.9a1.75 1.75 0 1 0 -3.5 0a1.75 1.75 0 1 0 3.5 0M116.05 191.1a1.75 1.75 0 1 0 -3.5 0a1.75 1.75 0 1 0 3.5 0M161.55 160.0a1.75 1.75 0 1 0 -3.5 0a1.75 1.75 0 1 0 3.5 0M150.95 147.9a1.75 1.75 0 1 0 -3.5 0a1.75 1.75 0 1 0 3.5 0M108.65 199.8a1.75 1.75 0 1 0 -3.5 0a1.75 1.75 0 1 0 3.5 0M108.55 202.7a1.75 1.75 0 1 0 -3.5 0a1.75 1.75 0 1 0 3.5 0M164.55 152.2a1.75 1.75 0 1 0 -3.5 0a1.75 1.75 0 1 0 3.5 0M136.25 189.4a1.75 1.75 0 1 0 -3.5 0a1.75 1.75 0 1 0 3.5 0M140.15 189.9a1.75 1.75 0 1 0 -3.5 0a1.75 1.75 0 1 0 3.5 0M149.05 147.2a1.75 1.75 0 1 0 -3.5 0a1.75 1.75 0 1 0 3.5 0M144.65 184.6a1.75 1.75 0 1 0 -3.5 0a1.75 1.75 0 1 0 3.5 0M131.65 194.1a1.75 1.75 0 1 0 -3.5 0a1.75 1.75 0 1 0 3.5 0M125.25 175.7a1.75 1.75 0 1 0 -3.5 0a1.75 1.75 0 1 0 3.5 0M150.15 182.8a1.75 1.75 0 1 0 -3.5 0a1.75 1.75 0 1 0 3.5 0M144.15 179.1a1.75 1.75 0 1 0 -3.5 0a1.75 1.75 0 1 0 3.5 0M149.85 180.8a1.75 1.75 0 1 0 -3.5 0a1.75 1.75 0 1 0 3.5 0M157.45 167.9a1.75 1.75 0 1 0 -3.5 0a1.75 1.75 0 1 0 3.5 0M142.15 156.4a1.75 1.75 0 1 0 -3.5 0a1.75 1.75 0 1 0 3.5 0M160.25 157.7a1.75 1.75 0 1 0 -3.5 0a1.75 1.75 0 1 0 3.5 0M128.15 172.0a1.75 1.75 0 1 0 -3.5 0a1.75 1.75 0 1 0 3.5 0M143.45 188.2a1.75 1.75 0 1 0 -3.5 0a1.75 1.75 0 1 0 3.5 0M140.05 155.1a1.75 1.75 0 1 0 -3.5 0a1.75 1.75 0 1 0 3.5 0M123.55 179.7a1.75 1.75 0 1 0 -3.5 0a1.75 1.75 0 1 0 3.5 0M136.45 195.1a1.75 1.75 0 1 0 -3.5 0a1.75 1.75 0 1 0 3.5 0M151.85 173.2a1.75 1.75 0 1 0 -3.5 0a1.75 1.75 0 1 0 3.5 0M164.95 148.9a1.75 1.75 0 1 0 -3.5 0a1.75 1.75 0 1 0 3.5 0M149.45 149.9a1.75 1.75 0 1 0 -3.5 0a1.75 1.75 0 1 0 3.5 0M136.75 165.6a1.75 1.75 0 1 0 -3.5 0a1.75 1.75 0 1 0 3.5 0M145.75 189.6a1.75 1.75 0 1 0 -3.5 0a1.75 1.75 0 1 0 3.5 0M104.85 206.1a1.75 1.75 0 1 0 -3.5 0a1.75 1.75 0 1 0 3.5 0M121.95 206.4a1.75 1.75 0 1 0 -3.5 0a1.75 1.75 0 1 0 3.5 0M129.95 168.9a1.75 1.75 0 1 0 -3.5 0a1.75 1.75 0 1 0 3.5 0M132.75 165.3a1.75 1.75 0 1 0 -3.5 0a1.75 1.75 0 1 0 3.5 0M112.15 192.4a1.75 1.75 0 1 0 -3.5 0a1.75 1.75 0 1 0 3.5 0M152.85 179.1a1.75 1.75 0 1 0 -3.5 0a1.75 1.75 0 1 0 3.5 0M138.75 195.4a1.75 1.75 0 1 0 -3.5 0a1.75 1.75 0 1 0 3.5 0M142.75 180.5a1.75 1.75 0 1 0 -3.5 0a1.75 1.75 0 1 0 3.5 0M137.75 197.9a1.75 1.75 0 1 0 -3.5 0a1.75 1.75 0 1 0 3.5 0M142.65 182.8a1.75 1.75 0 1 0 -3.5 0a1.75 1.75 0 1 0 3.5 0M124.75 206.5a1.75 1.75 0 1 0 -3.5 0a1.75 1.75 0 1 0 3.5 0M133.15 195.6a1.75 1.75 0 1 0 -3.5 0a1.75 1.75 0 1 0 3.5 0M144.25 191.4a1.75 1.75 0 1 0 -3.5 0a1.75 1.75 0 1 0 3.5 0M133.45 168.1a1.75 1.75 0 1 0 -3.5 0a1.75 1.75 0 1 0 3.5 0M130.35 172.0a1.75 1.75 0 1 0 -3.5 0a1.75 1.75 0 1 0 3.5 0M120.05 210.1a1.75 1.75 0 1 0 -3.5 0a1.75 1.75 0 1 0 3.5 0M140.45 159.4a1.75 1.75 0 1 0 -3.5 0a1.75 1.75 0 1 0 3.5 0M142.35 154.3a1.75 1.75 0 1 0 -3.5 0a1.75 1.75 0 1 0 3.5 0M139.85 183.7a1.75 1.75 0 1 0 -3.5 0a1.75 1.75 0 1 0 3.5 0M125.75 172.9a1.75 1.75 0 1 0 -3.5 0a1.75 1.75 0 1 0 3.5 0M147.35 179.2a1.75 1.75 0 1 0 -3.5 0a1.75 1.75 0 1 0 3.5 0M145.65 177.8a1.75 1.75 0 1 0 -3.5 0a1.75 1.75 0 1 0 3.5 0M143.65 150.3a1.75 1.75 0 1 0 -3.5 0a1.75 1.75 0 1 0 3.5 0M160.15 165.8a1.75 1.75 0 1 0 -3.5 0a1.75 1.75 0 1 0 3.5 0M137.65 186.5a1.75 1.75 0 1 0 -3.5 0a1.75 1.75 0 1 0 3.5 0M146.65 151.7a1.75 1.75 0 1 0 -3.5 0a1.75 1.75 0 1 0 3.5 0M117.65 182.4a1.75 1.75 0 1 0 -3.5 0a1.75 1.75 0 1 0 3.5 0M146.85 184.7a1.75 1.75 0 1 0 -3.5 0a1.75 1.75 0 1 0 3.5 0M139.85 162.7a1.75 1.75 0 1 0 -3.5 0a1.75 1.75 0 1 0 3.5 0M159.75 160.8a1.75 1.75 0 1 0 -3.5 0a1.75 1.75 0 1 0 3.5 0M111.85 194.5a1.75 1.75 0 1 0 -3.5 0a1.75 1.75 0 1 0 3.5 0M164.15 157.4a1.75 1.75 0 1 0 -3.5 0a1.75 1.75 0 1 0 3.5 0M142.55 185.5a1.75 1.75 0 1 0 -3.5 0a1.75 1.75 0 1 0 3.5 0M129.25 203.6a1.75 1.75 0 1 0 -3.5 0a1.75 1.75 0 1 0 3.5 0M144.35 136.1a1.75 1.75 0 1 0 -3.5 0a1.75 1.75 0 1 0 3.5 0M125.85 158.5a1.75 1.75 0 1 0 -3.5 0a1.75 1.75 0 1 0 3.5 0M148.05 140.9a1.75 1.75 0 1 0 -3.5 0a1.75 1.75 0 1 0 3.5 0M99.35 200.8a1.75 1.75 0 1 0 -3.5 0a1.75 1.75 0 1 0 3.5 0M161.05 139.1a1.75 1.75 0 1 0 -3.5 0a1.75 1.75 0 1 0 3.5 0M115.75 217.8a1.75 1.75 0 1 0 -3.5 0a1.75 1.75 0 1 0 3.5 0M125.35 161.6a1.75 1.75 0 1 0 -3.5 0a1.75 1.75 0 1 0 3.5 0M164.05 137.8a1.75 1.75 0 1 0 -3.5 0a1.75 1.75 0 1 0 3.5 0M106.15 185.3a1.75 1.75 0 1 0 -3.5 0a1.75 1.75 0 1 0 3.5 0M155.65 187.2a1.75 1.75 0 1 0 -3.5 0a1.75 1.75 0 1 0 3.5 0M101.15 207.1a1.75 1.75 0 1 0 -3.5 0a1.75 1.75 0 1 0 3.5 0M137.45 147.9a1.75 1.75 0 1 0 -3.5 0a1.75 1.75 0 1 0 3.5 0M110.15 219.6a1.75 1.75 0 1 0 -3.5 0a1.75 1.75 0 1 0 3.5 0M165.95 155.6a1.75 1.75 0 1 0 -3.5 0a1.75 1.75 0 1 0 3.5 0M167.35 143.8a1.75 1.75 0 1 0 -3.5 0a1.75 1.75 0 1 0 3.5 0M113.45 183.9a1.75 1.75 0 1 0 -3.5 0a1.75 1.75 0 1 0 3.5 0M162.25 177.0a1.75 1.75 0 1 0 -3.5 0a1.75 1.75 0 1 0 3.5 0M120.35 160.4a1.75 1.75 0 1 0 -3.5 0a1.75 1.75 0 1 0 3.5 0M136.95 204.2a1.75 1.75 0 1 0 -3.5 0a1.75 1.75 0 1 0 3.5 0M125.65 210.5a1.75 1.75 0 1 0 -3.5 0a1.75 1.75 0 1 0 3.5 0M182.85 137.3a1.75 1.75 0 1 0 -3.5 0a1.75 1.75 0 1 0 3.5 0M122.75 172.6a1.75 1.75 0 1 0 -3.5 0a1.75 1.75 0 1 0 3.5 0M105.85 219.5a1.75 1.75 0 1 0 -3.5 0a1.75 1.75 0 1 0 3.5 0M129.75 157.5a1.75 1.75 0 1 0 -3.5 0a1.75 1.75 0 1 0 3.5 0M119.35 179.4a1.75 1.75 0 1 0 -3.5 0a1.75 1.75 0 1 0 3.5 0M163.05 174.7a1.75 1.75 0 1 0 -3.5 0a1.75 1.75 0 1 0 3.5 0M166.85 162.2a1.75 1.75 0 1 0 -3.5 0a1.75 1.75 0 1 0 3.5 0M131.65 156.0a1.75 1.75 0 1 0 -3.5 0a1.75 1.75 0 1 0 3.5 0M162.15 163.4a1.75 1.75 0 1 0 -3.5 0a1.75 1.75 0 1 0 3.5 0M141.45 203.0a1.75 1.75 0 1 0 -3.5 0a1.75 1.75 0 1 0 3.5 0M118.95 165.9a1.75 1.75 0 1 0 -3.5 0a1.75 1.75 0 1 0 3.5 0M106.05 200.8a1.75 1.75 0 1 0 -3.5 0a1.75 1.75 0 1 0 3.5 0M100.75 202.6a1.75 1.75 0 1 0 -3.5 0a1.75 1.75 0 1 0 3.5 0M113.45 181.3a1.75 1.75 0 1 0 -3.5 0a1.75 1.75 0 1 0 3.5 0M115.15 214.6a1.75 1.75 0 1 0 -3.5 0a1.75 1.75 0 1 0 3.5 0M168.15 166.5a1.75 1.75 0 1 0 -3.5 0a1.75 1.75 0 1 0 3.5 0M107.85 191.4a1.75 1.75 0 1 0 -3.5 0a1.75 1.75 0 1 0 3.5 0M139.45 150.7a1.75 1.75 0 1 0 -3.5 0a1.75 1.75 0 1 0 3.5 0M100.75 211.4a1.75 1.75 0 1 0 -3.5 0a1.75 1.75 0 1 0 3.5 0M179.85 144.2a1.75 1.75 0 1 0 -3.5 0a1.75 1.75 0 1 0 3.5 0M93.85 219.0a1.75 1.75 0 1 0 -3.5 0a1.75 1.75 0 1 0 3.5 0M134.05 208.1a1.75 1.75 0 1 0 -3.5 0a1.75 1.75 0 1 0 3.5 0M146.75 136.4a1.75 1.75 0 1 0 -3.5 0a1.75 1.75 0 1 0 3.5 0M144.55 146.8a1.75 1.75 0 1 0 -3.5 0a1.75 1.75 0 1 0 3.5 0M99.55 220.8a1.75 1.75 0 1 0 -3.5 0a1.75 1.75 0 1 0 3.5 0M109.15 184.9a1.75 1.75 0 1 0 -3.5 0a1.75 1.75 0 1 0 3.5 0M151.45 188.0a1.75 1.75 0 1 0 -3.5 0a1.75 1.75 0 1 0 3.5 0M123.75 170.2a1.75 1.75 0 1 0 -3.5 0a1.75 1.75 0 1 0 3.5 0M116.65 176.9a1.75 1.75 0 1 0 -3.5 0a1.75 1.75 0 1 0 3.5 0M96.15 207.8a1.75 1.75 0 1 0 -3.5 0a1.75 1.75 0 1 0 3.5 0M113.25 218.6a1.75 1.75 0 1 0 -3.5 0a1.75 1.75 0 1 0 3.5 0M131.05 208.2a1.75 1.75 0 1 0 -3.5 0a1.75 1.75 0 1 0 3.5 0M120.95 170.6a1.75 1.75 0 1 0 -3.5 0a1.75 1.75 0 1 0 3.5 0M161.15 171.3a1.75 1.75 0 1 0 -3.5 0a1.75 1.75 0 1 0 3.5 0M116.05 166.2a1.75 1.75 0 1 0 -3.5 0a1.75 1.75 0 1 0 3.5 0M173.35 161.7a1.75 1.75 0 1 0 -3.5 0a1.75 1.75 0 1 0 3.5 0M97.95 223.6a1.75 1.75 0 1 0 -3.5 0a1.75 1.75 0 1 0 3.5 0M148.95 194.1a1.75 1.75 0 1 0 -3.5 0a1.75 1.75 0 1 0 3.5 0M141.75 200.4a1.75 1.75 0 1 0 -3.5 0a1.75 1.75 0 1 0 3.5 0M93.65 209.8a1.75 1.75 0 1 0 -3.5 0a1.75 1.75 0 1 0 3.5 0M161.65 183.2a1.75 1.75 0 1 0 -3.5 0a1.75 1.75 0 1 0 3.5 0M98.95 213.8a1.75 1.75 0 1 0 -3.5 0a1.75 1.75 0 1 0 3.5 0M140.35 144.1a1.75 1.75 0 1 0 -3.5 0a1.75 1.75 0 1 0 3.5 0M124.65 165.9a1.75 1.75 0 1 0 -3.5 0a1.75 1.75 0 1 0 3.5 0M121.65 163.9a1.75 1.75 0 1 0 -3.5 0a1.75 1.75 0 1 0 3.5 0M137.95 202.1a1.75 1.75 0 1 0 -3.5 0a1.75 1.75 0 1 0 3.5 0M180.35 138.5a1.75 1.75 0 1 0 -3.5 0a1.75 1.75 0 1 0 3.5 0M98.25 217.8a1.75 1.75 0 1 0 -3.5 0a1.75 1.75 0 1 0 3.5 0M152.95 192.7a1.75 1.75 0 1 0 -3.5 0a1.75 1.75 0 1 0 3.5 0M177.25 139.7a1.75 1.75 0 1 0 -3.5 0a1.75 1.75 0 1 0 3.5 0M139.65 204.3a1.75 1.75 0 1 0 -3.5 0a1.75 1.75 0 1 0 3.5 0M123.95 214.3a1.75 1.75 0 1 0 -3.5 0a1.75 1.75 0 1 0 3.5 0M156.85 179.0a1.75 1.75 0 1 0 -3.5 0a1.75 1.75 0 1 0 3.5 0M153.05 185.5a1.75 1.75 0 1 0 -3.5 0a1.75 1.75 0 1 0 3.5 0M133.35 160.7a1.75 1.75 0 1 0 -3.5 0a1.75 1.75 0 1 0 3.5 0M135.65 150.8a1.75 1.75 0 1 0 -3.5 0a1.75 1.75 0 1 0 3.5 0M106.25 221.9a1.75 1.75 0 1 0 -3.5 0a1.75 1.75 0 1 0 3.5 0M149.05 201.5a1.75 1.75 0 1 0 -3.5 0a1.75 1.75 0 1 0 3.5 0M119.85 214.4a1.75 1.75 0 1 0 -3.5 0a1.75 1.75 0 1 0 3.5 0M163.05 170.2a1.75 1.75 0 1 0 -3.5 0a1.75 1.75 0 1 0 3.5 0M121.75 166.4a1.75 1.75 0 1 0 -3.5 0a1.75 1.75 0 1 0 3.5 0M155.75 181.8a1.75 1.75 0 1 0 -3.5 0a1.75 1.75 0 1 0 3.5 0M111.15 185.8a1.75 1.75 0 1 0 -3.5 0a1.75 1.75 0 1 0 3.5 0M137.65 140.3a1.75 1.75 0 1 0 -3.5 0a1.75 1.75 0 1 0 3.5 0M114.05 169.4a1.75 1.75 0 1 0 -3.5 0a1.75 1.75 0 1 0 3.5 0M159.15 179.4a1.75 1.75 0 1 0 -3.5 0a1.75 1.75 0 1 0 3.5 0M148.85 190.8a1.75 1.75 0 1 0 -3.5 0a1.75 1.75 0 1 0 3.5 0M96.85 204.2a1.75 1.75 0 1 0 -3.5 0a1.75 1.75 0 1 0 3.5 0M112.35 188.0a1.75 1.75 0 1 0 -3.5 0a1.75 1.75 0 1 0 3.5 0M136.15 206.6a1.75 1.75 0 1 0 -3.5 0a1.75 1.75 0 1 0 3.5 0M127.25 169.7a1.75 1.75 0 1 0 -3.5 0a1.75 1.75 0 1 0 3.5 0M93.15 221.2a1.75 1.75 0 1 0 -3.5 0a1.75 1.75 0 1 0 3.5 0M173.75 155.0a1.75 1.75 0 1 0 -3.5 0a1.75 1.75 0 1 0 3.5 0M115.25 178.8a1.75 1.75 0 1 0 -3.5 0a1.75 1.75 0 1 0 3.5 0M157.25 183.4a1.75 1.75 0 1 0 -3.5 0a1.75 1.75 0 1 0 3.5 0M176.75 155.1a1.75 1.75 0 1 0 -3.5 0a1.75 1.75 0 1 0 3.5 0M157.15 138.1a1.75 1.75 0 1 0 -3.5 0a1.75 1.75 0 1 0 3.5 0M161.65 180.0a1.75 1.75 0 1 0 -3.5 0a1.75 1.75 0 1 0 3.5 0M144.75 144.3a1.75 1.75 0 1 0 -3.5 0a1.75 1.75 0 1 0 3.5 0M105.25 198.6a1.75 1.75 0 1 0 -3.5 0a1.75 1.75 0 1 0 3.5 0M165.95 165.7a1.75 1.75 0 1 0 -3.5 0a1.75 1.75 0 1 0 3.5 0M155.95 135.7a1.75 1.75 0 1 0 -3.5 0a1.75 1.75 0 1 0 3.5 0M172.15 144.5a1.75 1.75 0 1 0 -3.5 0a1.75 1.75 0 1 0 3.5 0M156.45 176.4a1.75 1.75 0 1 0 -3.5 0a1.75 1.75 0 1 0 3.5 0M115.65 172.8a1.75 1.75 0 1 0 -3.5 0a1.75 1.75 0 1 0 3.5 0M151.65 141.0a1.75 1.75 0 1 0 -3.5 0a1.75 1.75 0 1 0 3.5 0M155.85 190.9a1.75 1.75 0 1 0 -3.5 0a1.75 1.75 0 1 0 3.5 0M113.65 172.0a1.75 1.75 0 1 0 -3.5 0a1.75 1.75 0 1 0 3.5 0M138.15 144.4a1.75 1.75 0 1 0 -3.5 0a1.75 1.75 0 1 0 3.5 0M161.45 167.7a1.75 1.75 0 1 0 -3.5 0a1.75 1.75 0 1 0 3.5 0M170.25 141.2a1.75 1.75 0 1 0 -3.5 0a1.75 1.75 0 1 0 3.5 0M96.85 215.9a1.75 1.75 0 1 0 -3.5 0a1.75 1.75 0 1 0 3.5 0M104.55 203.4a1.75 1.75 0 1 0 -3.5 0a1.75 1.75 0 1 0 3.5 0M97.05 220.5a1.75 1.75 0 1 0 -3.5 0a1.75 1.75 0 1 0 3.5 0M130.45 163.6a1.75 1.75 0 1 0 -3.5 0a1.75 1.75 0 1 0 3.5 0M103.35 196.4a1.75 1.75 0 1 0 -3.5 0a1.75 1.75 0 1 0 3.5 0M101.95 222.8a1.75 1.75 0 1 0 -3.5 0a1.75 1.75 0 1 0 3.5 0M109.35 193.3a1.75 1.75 0 1 0 -3.5 0a1.75 1.75 0 1 0 3.5 0M138.95 208.6a1.75 1.75 0 1 0 -3.5 0a1.75 1.75 0 1 0 3.5 0M170.35 138.8a1.75 1.75 0 1 0 -3.5 0a1.75 1.75 0 1 0 3.5 0M147.75 199.1a1.75 1.75 0 1 0 -3.5 0a1.75 1.75 0 1 0 3.5 0M165.15 175.9a1.75 1.75 0 1 0 -3.5 0a1.75 1.75 0 1 0 3.5 0M126.85 206.6a1.75 1.75 0 1 0 -3.5 0a1.75 1.75 0 1 0 3.5 0M165.65 178.2a1.75 1.75 0 1 0 -3.5 0a1.75 1.75 0 1 0 3.5 0M170.45 151.8a1.75 1.75 0 1 0 -3.5 0a1.75 1.75 0 1 0 3.5 0M118.15 213.0a1.75 1.75 0 1 0 -3.5 0a1.75 1.75 0 1 0 3.5 0M110.75 178.5a1.75 1.75 0 1 0 -3.5 0a1.75 1.75 0 1 0 3.5 0M160.45 135.6a1.75 1.75 0 1 0 -3.5 0a1.75 1.75 0 1 0 3.5 0M168.45 157.3a1.75 1.75 0 1 0 -3.5 0a1.75 1.75 0 1 0 3.5 0M137.45 154.4a1.75 1.75 0 1 0 -3.5 0a1.75 1.75 0 1 0 3.5 0M143.65 195.0a1.75 1.75 0 1 0 -3.5 0a1.75 1.75 0 1 0 3.5 0M99.65 209.2a1.75 1.75 0 1 0 -3.5 0a1.75 1.75 0 1 0 3.5 0M139.25 141.8a1.75 1.75 0 1 0 -3.5 0a1.75 1.75 0 1 0 3.5 0M144.35 197.2a1.75 1.75 0 1 0 -3.5 0a1.75 1.75 0 1 0 3.5 0M118.85 172.9a1.75 1.75 0 1 0 -3.5 0a1.75 1.75 0 1 0 3.5 0M110.55 217.4a1.75 1.75 0 1 0 -3.5 0a1.75 1.75 0 1 0 3.5 0M134.55 154.1a1.75 1.75 0 1 0 -3.5 0a1.75 1.75 0 1 0 3.5 0M176.65 149.4a1.75 1.75 0 1 0 -3.5 0a1.75 1.75 0 1 0 3.5 0M128.85 166.5a1.75 1.75 0 1 0 -3.5 0a1.75 1.75 0 1 0 3.5 0M102.15 193.8a1.75 1.75 0 1 0 -3.5 0a1.75 1.75 0 1 0 3.5 0M141.35 139.6a1.75 1.75 0 1 0 -3.5 0a1.75 1.75 0 1 0 3.5 0M145.35 142.0a1.75 1.75 0 1 0 -3.5 0a1.75 1.75 0 1 0 3.5 0M163.95 160.7a1.75 1.75 0 1 0 -3.5 0a1.75 1.75 0 1 0 3.5 0M132.65 211.1a1.75 1.75 0 1 0 -3.5 0a1.75 1.75 0 1 0 3.5 0M100.75 215.3a1.75 1.75 0 1 0 -3.5 0a1.75 1.75 0 1 0 3.5 0M146.75 196.9a1.75 1.75 0 1 0 -3.5 0a1.75 1.75 0 1 0 3.5 0M155.05 184.4a1.75 1.75 0 1 0 -3.5 0a1.75 1.75 0 1 0 3.5 0M165.55 139.6a1.75 1.75 0 1 0 -3.5 0a1.75 1.75 0 1 0 3.5 0M95.95 218.4a1.75 1.75 0 1 0 -3.5 0a1.75 1.75 0 1 0 3.5 0M159.95 173.8a1.75 1.75 0 1 0 -3.5 0a1.75 1.75 0 1 0 3.5 0M102.95 217.1a1.75 1.75 0 1 0 -3.5 0a1.75 1.75 0 1 0 3.5 0M130.55 159.7a1.75 1.75 0 1 0 -3.5 0a1.75 1.75 0 1 0 3.5 0M104.25 223.1a1.75 1.75 0 1 0 -3.5 0a1.75 1.75 0 1 0 3.5 0M150.85 135.5a1.75 1.75 0 1 0 -3.5 0a1.75 1.75 0 1 0 3.5 0M170.15 171.0a1.75 1.75 0 1 0 -3.5 0a1.75 1.75 0 1 0 3.5 0M153.05 195.6a1.75 1.75 0 1 0 -3.5 0a1.75 1.75 0 1 0 3.5 0M175.15 151.0a1.75 1.75 0 1 0 -3.5 0a1.75 1.75 0 1 0 3.5 0M128.45 211.3a1.75 1.75 0 1 0 -3.5 0a1.75 1.75 0 1 0 3.5 0M116.95 168.6a1.75 1.75 0 1 0 -3.5 0a1.75 1.75 0 1 0 3.5 0M145.95 139.4a1.75 1.75 0 1 0 -3.5 0a1.75 1.75 0 1 0 3.5 0M171.75 163.9a1.75 1.75 0 1 0 -3.5 0a1.75 1.75 0 1 0 3.5 0M105.15 192.3a1.75 1.75 0 1 0 -3.5 0a1.75 1.75 0 1 0 3.5 0M174.25 141.8a1.75 1.75 0 1 0 -3.5 0a1.75 1.75 0 1 0 3.5 0M151.75 131.0a1.75 1.75 0 1 0 -3.5 0a1.75 1.75 0 1 0 3.5 0M163.95 133.7a1.75 1.75 0 1 0 -3.5 0a1.75 1.75 0 1 0 3.5 0M142.05 124.1a1.75 1.75 0 1 0 -3.5 0a1.75 1.75 0 1 0 3.5 0M143.75 131.3a1.75 1.75 0 1 0 -3.5 0a1.75 1.75 0 1 0 3.5 0M152.75 133.5a1.75 1.75 0 1 0 -3.5 0a1.75 1.75 0 1 0 3.5 0M151.55 122.7a1.75 1.75 0 1 0 -3.5 0a1.75 1.75 0 1 0 3.5 0M172.55 124.1a1.75 1.75 0 1 0 -3.5 0a1.75 1.75 0 1 0 3.5 0M156.35 130.7a1.75 1.75 0 1 0 -3.5 0a1.75 1.75 0 1 0 3.5 0M159.05 123.9a1.75 1.75 0 1 0 -3.5 0a1.75 1.75 0 1 0 3.5 0M175.95 133.5a1.75 1.75 0 1 0 -3.5 0a1.75 1.75 0 1 0 3.5 0M155.65 127.9a1.75 1.75 0 1 0 -3.5 0a1.75 1.75 0 1 0 3.5 0M159.45 114.4a1.75 1.75 0 1 0 -3.5 0a1.75 1.75 0 1 0 3.5 0M171.55 116.1a1.75 1.75 0 1 0 -3.5 0a1.75 1.75 0 1 0 3.5 0M167.25 126.4a1.75 1.75 0 1 0 -3.5 0a1.75 1.75 0 1 0 3.5 0M147.95 126.1a1.75 1.75 0 1 0 -3.5 0a1.75 1.75 0 1 0 3.5 0M163.55 125.8a1.75 1.75 0 1 0 -3.5 0a1.75 1.75 0 1 0 3.5 0M149.95 119.0a1.75 1.75 0 1 0 -3.5 0a1.75 1.75 0 1 0 3.5 0M159.35 118.0a1.75 1.75 0 1 0 -3.5 0a1.75 1.75 0 1 0 3.5 0M162.65 131.2a1.75 1.75 0 1 0 -3.5 0a1.75 1.75 0 1 0 3.5 0M175.15 117.4a1.75 1.75 0 1 0 -3.5 0a1.75 1.75 0 1 0 3.5 0M146.65 118.0a1.75 1.75 0 1 0 -3.5 0a1.75 1.75 0 1 0 3.5 0M165.55 120.8a1.75 1.75 0 1 0 -3.5 0a1.75 1.75 0 1 0 3.5 0M156.35 124.4a1.75 1.75 0 1 0 -3.5 0a1.75 1.75 0 1 0 3.5 0M155.35 115.4a1.75 1.75 0 1 0 -3.5 0a1.75 1.75 0 1 0 3.5 0M159.95 129.9a1.75 1.75 0 1 0 -3.5 0a1.75 1.75 0 1 0 3.5 0M152.35 115.5a1.75 1.75 0 1 0 -3.5 0a1.75 1.75 0 1 0 3.5 0M151.05 128.4a1.75 1.75 0 1 0 -3.5 0a1.75 1.75 0 1 0 3.5 0" fill="none" stroke="#9a9aff" stroke-width="1.4"/>
<g fill="none" stroke="#0000ff" stroke-width="1.4" stroke-opacity="0.6"><circle cx="223.3" cy="74.9" r="1.75"/><circle cx="182.1" cy="77.5" r="1.75"/><circle cx="172.9" cy="79.5" r="1.75"/><circle cx="175.3" cy="79.5" r="1.75"/><circle cx="200.9" cy="83.3" r="1.75"/><circle cx="180.2" cy="86.0" r="1.75"/><circle cx="182.2" cy="85.6" r="1.75"/><circle cx="181.8" cy="87.9" r="1.75"/><circle cx="188.4" cy="87.9" r="1.75"/><circle cx="168.3" cy="89.0" r="1.75"/><circle cx="199.6" cy="88.7" r="1.75"/><circle cx="201.6" cy="91.0" r="1.75"/><circle cx="158.1" cy="89.9" r="1.75"/><circle cx="183.0" cy="93.0" r="1.75"/><circle cx="179.9" cy="94.4" r="1.75"/><circle cx="155.9" cy="94.4" r="1.75"/><circle cx="159.0" cy="94.9" r="1.75"/><circle cx="208.9" cy="95.7" r="1.75"/><circle cx="195.7" cy="93.6" r="1.75"/><circle cx="192.6" cy="94.9" r="1.75"/><circle cx="190.6" cy="96.0" r="1.75"/><circle cx="164.3" cy="96.4" r="1.75"/><circle cx="168.3" cy="98.4" r="1.75"/><circle cx="162.4" cy="99.5" r="1.75"/><circle cx="174.3" cy="97.7" r="1.75"/><circle cx="187.2" cy="100.6" r="1.75"/><circle cx="212.0" cy="101.6" r="1.75"/><circle cx="162.7" cy="106.2" r="1.75"/><circle cx="174.0" cy="105.0" r="1.75"/><circle cx="183.8" cy="105.3" r="1.75"/><circle cx="182.6" cy="107.8" r="1.75"/><circle cx="188.0" cy="106.5" r="1.75"/><circle cx="191.6" cy="106.2" r="1.75"/><circle cx="195.7" cy="106.0" r="1.75"/><circle cx="199.6" cy="109.9" r="1.75"/><circle cx="190.6" cy="111.5" r="1.75"/><circle cx="193.7" cy="115.0" r="1.75"/><circle cx="206.6" cy="112.7" r="1.75"/><circle cx="151.2" cy="108.8" r="1.75"/><circle cx="156.2" cy="109.9" r="1.75"/><circle cx="153.1" cy="112.7" r="1.75"/><circle cx="165.5" cy="111.2" r="1.75"/><circle cx="170.9" cy="113.5" r="1.75"/><circle cx="166.7" cy="114.6" r="1.75"/><circle cx="160.1" cy="115.5" r="1.75"/><circle cx="164.7" cy="116.1" r="1.75"/><circle cx="184.9" cy="113.5" r="1.75"/><circle cx="182.6" cy="119.7" r="1.75"/><circle cx="153.1" cy="121.2" r="1.75"/><circle cx="170.9" cy="120.5" r="1.75"/><circle cx="174.0" cy="122.8" r="1.75"/><circle cx="177.9" cy="124.3" r="1.75"/><circle cx="181.0" cy="125.9" r="1.75"/><circle cx="185.3" cy="130.5" r="1.75"/><circle cx="191.1" cy="129.8" r="1.75"/><circle cx="191.9" cy="131.6" r="1.75"/><circle cx="201.9" cy="127.9" r="1.75"/><circle cx="201.2" cy="136.0" r="1.75"/><circle cx="199.3" cy="139.4" r="1.75"/><circle cx="184.9" cy="140.6" r="1.75"/><circle cx="188.8" cy="140.9" r="1.75"/><circle cx="195.0" cy="141.9" r="1.75"/><circle cx="179.5" cy="148.7" r="1.75"/><circle cx="180.7" cy="154.9" r="1.75"/><circle cx="199.6" cy="153.5" r="1.75"/><circle cx="199.6" cy="158.0" r="1.75"/><circle cx="171.7" cy="152.7" r="1.75"/><circle cx="147.7" cy="112.9" r="1.75"/><circle cx="142.3" cy="118.7" r="1.75"/><circle cx="140.0" cy="121.0" r="1.75"/><circle cx="144.6" cy="121.8" r="1.75"/><circle cx="143.8" cy="127.2" r="1.75"/><circle cx="145.4" cy="131.1" r="1.75"/><circle cx="111.3" cy="131.1" r="1.75"/><circle cx="129.1" cy="131.6" r="1.75"/><circle cx="127.6" cy="135.3" r="1.75"/><circle cx="136.9" cy="135.7" r="1.75"/><circle cx="140.0" cy="135.0" r="1.75"/><circle cx="113.6" cy="149.2" r="1.75"/><circle cx="125.2" cy="146.1" r="1.75"/><circle cx="129.9" cy="145.5" r="1.75"/><circle cx="128.3" cy="152.0" r="1.75"/><circle cx="105.1" cy="157.8" r="1.75"/><circle cx="108.2" cy="157.1" r="1.75"/><circle cx="77.9" cy="177.4" r="1.75"/><circle cx="90.3" cy="180.9" r="1.75"/><circle cx="100.0" cy="184.5" r="1.75"/><circle cx="106.2" cy="180.5" r="1.75"/><circle cx="93.8" cy="197.3" r="1.75"/><circle cx="99.1" cy="190.8" r="1.75"/><circle cx="85.7" cy="222.3" r="1.75"/><circle cx="89.7" cy="218.4" r="1.75"/><circle cx="90.7" cy="213.4" r="1.75"/><circle cx="93.8" cy="212.8" r="1.75"/><circle cx="89.2" cy="230.5" r="1.75"/><circle cx="91.9" cy="232.6" r="1.75"/><circle cx="94.4" cy="234.2" r="1.75"/><circle cx="89.4" cy="236.4" r="1.75"/><circle cx="86.3" cy="238.2" r="1.75"/><circle cx="82.4" cy="239.8" r="1.75"/><circle cx="95.6" cy="225.8" r="1.75"/><circle cx="96.5" cy="228.3" r="1.75"/><circle cx="118.6" cy="228.9" r="1.75"/><circle cx="121.7" cy="230.2" r="1.75"/><circle cx="109.9" cy="227.1" r="1.75"/><circle cx="124.8" cy="216.5" r="1.75"/><circle cx="134.1" cy="209.7" r="1.75"/><circle cx="137.2" cy="210.9" r="1.75"/><circle cx="140.9" cy="206.6" r="1.75"/><circle cx="183.6" cy="133.2" r="1.75"/><circle cx="187.5" cy="163.7" r="1.75"/><circle cx="185.9" cy="165.3" r="1.75"/><circle cx="175.1" cy="161.1" r="1.75"/><circle cx="171.2" cy="168.4" r="1.75"/><circle cx="166.9" cy="172.7" r="1.75"/><circle cx="165.8" cy="175.8" r="1.75"/><circle cx="185.2" cy="171.9" r="1.75"/><circle cx="185.2" cy="174.6" r="1.75"/><circle cx="193.2" cy="174.3" r="1.75"/><circle cx="177.1" cy="180.8" r="1.75"/><circle cx="172.4" cy="185.1" r="1.75"/><circle cx="181.7" cy="184.3" r="1.75"/><circle cx="166.9" cy="185.9" r="1.75"/><circle cx="173.8" cy="191.6" r="1.75"/><circle cx="182.4" cy="194.4" r="1.75"/><circle cx="166.6" cy="121.6" r="1.75"/><circle cx="168.1" cy="126.2" r="1.75"/><circle cx="172.8" cy="127.0" r="1.75"/><circle cx="177.4" cy="127.8" r="1.75"/><circle cx="166.6" cy="130.9" r="1.75"/><circle cx="170.4" cy="131.6" r="1.75"/><circle cx="174.3" cy="130.9" r="1.75"/><circle cx="179.0" cy="132.4" r="1.75"/><circle cx="167.3" cy="135.5" r="1.75"/><circle cx="172.0" cy="135.5" r="1.75"/><circle cx="175.9" cy="136.3" r="1.75"/><circle cx="179.0" cy="135.5" r="1.75"/><circle cx="166.6" cy="140.2" r="1.75"/><circle cx="171.2" cy="139.4" r="1.75"/><circle cx="175.1" cy="142.5" r="1.75"/><circle cx="168.1" cy="144.8" r="1.75"/><circle cx="172.8" cy="145.6" r="1.75"/><circle cx="166.6" cy="149.5" r="1.75"/><circle cx="171.2" cy="148.7" r="1.75"/><circle cx="165.8" cy="154.1" r="1.75"/><circle cx="169.7" cy="156.4" r="1.75"/><circle cx="166.6" cy="159.5" r="1.75"/><circle cx="171.2" cy="159.5" r="1.75"/><circle cx="167.3" cy="164.2" r="1.75"/><circle cx="170.4" cy="166.5" r="1.75"/><circle cx="166.2" cy="169.6" r="1.75"/><circle cx="163.3" cy="191.9" r="1.75"/><circle cx="157.9" cy="194.5" r="1.75"/><circle cx="157.0" cy="188.2" r="1.75"/><circle cx="161.8" cy="184.6" r="1.75"/><circle cx="150.9" cy="190.1" r="1.75"/><circle cx="149.4" cy="197.7" r="1.75"/><circle cx="149.4" cy="202.8" r="1.75"/><circle cx="145.0" cy="201.4" r="1.75"/><circle cx="161.8" cy="206.2" r="1.75"/><circle cx="147.7" cy="217.9" r="1.75"/><circle cx="155.7" cy="222.3" r="1.75"/><circle cx="162.6" cy="222.3" r="1.75"/><circle cx="117.3" cy="219.6" r="1.75"/><circle cx="110.7" cy="222.6" r="1.75"/><circle cx="134.3" cy="168.5" r="1.75"/><circle cx="136.9" cy="170.9" r="1.75"/><circle cx="162.5" cy="143.6" r="1.75"/><circle cx="119.7" cy="203.7" r="1.75"/><circle cx="140.9" cy="169.0" r="1.75"/><circle cx="143.5" cy="173.4" r="1.75"/><circle cx="120.1" cy="185.7" r="1.75"/><circle cx="146.7" cy="162.5" r="1.75"/><circle cx="137.1" cy="175.6" r="1.75"/><circle cx="130.3" cy="191.8" r="1.75"/><circle cx="152.6" cy="162.2" r="1.75"/><circle cx="124.7" cy="192.2" r="1.75"/><circle cx="123.6" cy="184.2" r="1.75"/><circle cx="133.0" cy="188.2" r="1.75"/><circle cx="129.8" cy="177.7" r="1.75"/><circle cx="153.0" cy="152.6" r="1.75"/><circle cx="101.5" cy="214.2" r="1.75"/><circle cx="110.7" cy="200.2" r="1.75"/><circle cx="116.6" cy="194.0" r="1.75"/><circle cx="121.3" cy="202.5" r="1.75"/><circle cx="146.4" cy="153.3" r="1.75"/><circle cx="109.4" cy="204.5" r="1.75"/><circle cx="122.4" cy="182.8" r="1.75"/><circle cx="152.9" cy="156.5" r="1.75"/><circle cx="108.4" cy="211.0" r="1.75"/><circle cx="132.1" cy="181.5" r="1.75"/><circle cx="139.2" cy="179.4" r="1.75"/><circle cx="129.0" cy="181.6" r="1.75"/><circle cx="153.8" cy="150.7" r="1.75"/><circle cx="135.5" cy="174.4" r="1.75"/><circle cx="104.1" cy="216.8" r="1.75"/><circle cx="152.4" cy="160.2" r="1.75"/><circle cx="104.6" cy="213.2" r="1.75"/><circle cx="105.4" cy="206.8" r="1.75"/><circle cx="148.6" cy="162.6" r="1.75"/><circle cx="159.8" cy="148.3" r="1.75"/><circle cx="125.2" cy="179.5" r="1.75"/><circle cx="137.5" cy="181.3" r="1.75"/><circle cx="106.7" cy="205.2" r="1.75"/><circle cx="147.2" cy="159.7" r="1.75"/><circle cx="146.7" cy="156.0" r="1.75"/><circle cx="143.2" cy="162.7" r="1.75"/><circle cx="133.1" cy="176.2" r="1.75"/><circle cx="157.2" cy="155.5" r="1.75"/><circle cx="114.8" cy="210.0" r="1.75"/><circle cx="159.3" cy="149.9" r="1.75"/><circle cx="119.1" cy="197.6" r="1.75"/><circle cx="113.3" cy="210.7" r="1.75"/><circle cx="126.5" cy="180.9" r="1.75"/><circle cx="155.2" cy="156.8" r="1.75"/><circle cx="155.9" cy="141.7" r="1.75"/><circle cx="141.3" cy="163.7" r="1.75"/><circle cx="133.6" cy="185.5" r="1.75"/><circle cx="143.7" cy="155.5" r="1.75"/><circle cx="152.5" cy="158.0" r="1.75"/><circle cx="114.2" cy="199.3" r="1.75"/><circle cx="111.9" cy="213.0" r="1.75"/><circle cx="142.5" cy="169.5" r="1.75"/><circle cx="157.4" cy="142.4" r="1.75"/><circle cx="116.8" cy="195.9" r="1.75"/><circle cx="160.4" cy="141.9" r="1.75"/><circle cx="127.5" cy="178.5" r="1.75"/><circle cx="138.9" cy="165.6" r="1.75"/><circle cx="112.6" cy="198.7" r="1.75"/><circle cx="136.3" cy="169.1" r="1.75"/><circle cx="109.8" cy="209.0" r="1.75"/><circle cx="137.0" cy="165.5" r="1.75"/><circle cx="116.6" cy="200.7" r="1.75"/><circle cx="125.3" cy="182.9" r="1.75"/><circle cx="150.3" cy="157.3" r="1.75"/><circle cx="153.1" cy="154.3" r="1.75"/><circle cx="133.1" cy="169.9" r="1.75"/><circle cx="126.9" cy="185.4" r="1.75"/><circle cx="127.2" cy="191.4" r="1.75"/><circle cx="158.6" cy="152.9" r="1.75"/><circle cx="148.4" cy="152.4" r="1.75"/><circle cx="152.2" cy="151.2" r="1.75"/><circle cx="140.3" cy="170.8" r="1.75"/><circle cx="123.1" cy="199.6" r="1.75"/><circle cx="139.4" cy="173.7" r="1.75"/><circle cx="139.9" cy="177.0" r="1.75"/><circle cx="108.6" cy="213.1" r="1.75"/><circle cx="136.0" cy="167.3" r="1.75"/><circle cx="141.3" cy="174.6" r="1.75"/><circle cx="132.4" cy="190.0" r="1.75"/><circle cx="103.1" cy="209.4" r="1.75"/><circle cx="121.5" cy="198.5" r="1.75"/><circle cx="145.5" cy="160.7" r="1.75"/><circle cx="117.0" cy="190.1" r="1.75"/><circle cx="147.8" cy="165.5" r="1.75"/><circle cx="105.0" cy="211.0" r="1.75"/><circle cx="106.8" cy="212.5" r="1.75"/><circle cx="148.5" cy="156.0" r="1.75"/><circle cx="122.2" cy="195.0" r="1.75"/><circle cx="155.2" cy="147.1" r="1.75"/><circle cx="157.0" cy="146.7" r="1.75"/><circle cx="106.5" cy="215.1" r="1.75"/><circle cx="120.0" cy="189.0" r="1.75"/><circle cx="126.9" cy="194.5" r="1.75"/><circle cx="114.0" cy="202.5" r="1.75"/><circle cx="130.0" cy="183.8" r="1.75"/><circle cx="122.6" cy="189.8" r="1.75"/><circle cx="154.4" cy="160.9" r="1.75"/><circle cx="127.4" cy="189.7" r="1.75"/><circle cx="142.0" cy="159.5" r="1.75"/><circle cx="131.4" cy="178.9" r="1.75"/><circle cx="161.5" cy="145.9" r="1.75"/><circle cx="132.7" cy="177.8" r="1.75"/><circle cx="127.0" cy="183.2" r="1.75"/><circle cx="142.7" cy="175.7" r="1.75"/><circle cx="152.3" cy="146.2" r="1.75"/><circle cx="110.6" cy="207.2" r="1.75"/><circle cx="128.1" cy="192.8" r="1.75"/><circle cx="109.3" cy="202.2" r="1.75"/><circle cx="121.3" cy="187.3" r="1.75"/><circle cx="116.3" cy="198.6" r="1.75"/><circle cx="130.5" cy="186.0" r="1.75"/><circle cx="150.4" cy="152.2" r="1.75"/><circle cx="158.2" cy="145.0" r="1.75"/><circle cx="153.6" cy="143.7" r="1.75"/><circle cx="102.3" cy="212.4" r="1.75"/><circle cx="111.9" cy="204.9" r="1.75"/><circle cx="123.8" cy="186.4" r="1.75"/><circle cx="120.5" cy="195.5" r="1.75"/><circle cx="124.4" cy="198.6" r="1.75"/><circle cx="116.0" cy="203.7" r="1.75"/><circle cx="149.7" cy="166.4" r="1.75"/><circle cx="133.3" cy="173.8" r="1.75"/><circle cx="112.9" cy="195.4" r="1.75"/><circle cx="155.2" cy="158.6" r="1.75"/><circle cx="135.6" cy="178.3" r="1.75"/><circle cx="118.9" cy="200.2" r="1.75"/><circle cx="122.6" cy="192.7" r="1.75"/><circle cx="136.6" cy="172.6" r="1.75"/><circle cx="138.9" cy="169.6" r="1.75"/><circle cx="128.9" cy="175.7" r="1.75"/><circle cx="119.6" cy="193.9" r="1.75"/><circle cx="131.9" cy="183.2" r="1.75"/><circle cx="145.8" cy="167.6" r="1.75"/><circle cx="142.5" cy="166.6" r="1.75"/><circle cx="155.8" cy="149.6" r="1.75"/><circle cx="120.5" cy="191.7" r="1.75"/><circle cx="144.8" cy="159.4" r="1.75"/><circle cx="144.5" cy="170.7" r="1.75"/><circle cx="118.1" cy="191.6" r="1.75"/><circle cx="107.2" cy="207.2" r="1.75"/><circle cx="149.6" cy="150.7" r="1.75"/><circle cx="145.3" cy="173.2" r="1.75"/><circle cx="110.8" cy="198.1" r="1.75"/><circle cx="140.7" cy="167.3" r="1.75"/><circle cx="135.2" cy="171.7" r="1.75"/><circle cx="145.1" cy="157.0" r="1.75"/><circle cx="149.7" cy="164.1" r="1.75"/><circle cx="149.8" cy="158.9" r="1.75"/><circle cx="113.4" cy="208.9" r="1.75"/><circle cx="155.3" cy="154.2" r="1.75"/><circle cx="134.8" cy="182.8" r="1.75"/><circle cx="144.4" cy="165.3" r="1.75"/><circle cx="147.6" cy="169.5" r="1.75"/><circle cx="129.5" cy="190.0" r="1.75"/><circle cx="155.5" cy="143.4" r="1.75"/><circle cx="152.3" cy="149.6" r="1.75"/><circle cx="155.8" cy="151.4" r="1.75"/><circle cx="151.3" cy="155.6" r="1.75"/><circle cx="117.5" cy="202.1" r="1.75"/><circle cx="118.7" cy="195.4" r="1.75"/><circle cx="124.3" cy="190.0" r="1.75"/><circle cx="147.3" cy="172.7" r="1.75"/><circle cx="144.1" cy="148.7" r="1.75"/><circle cx="148.8" cy="177.7" r="1.75"/><circle cx="117.6" cy="207.9" r="1.75"/><circle cx="143.1" cy="152.5" r="1.75"/><circle cx="131.7" cy="200.1" r="1.75"/><circle cx="137.1" cy="192.4" r="1.75"/><circle cx="133.7" cy="162.2" r="1.75"/><circle cx="137.6" cy="157.8" r="1.75"/><circle cx="116.0" cy="185.5" r="1.75"/><circle cx="140.2" cy="192.6" r="1.75"/><circle cx="153.0" cy="166.0" r="1.75"/><circle cx="152.7" cy="175.1" r="1.75"/><circle cx="112.9" cy="187.5" r="1.75"/><circle cx="156.6" cy="162.7" r="1.75"/><circle cx="152.8" cy="171.8" r="1.75"/><circle cx="123.0" cy="204.2" r="1.75"/><circle cx="129.5" cy="201.5" r="1.75"/><circle cx="133.9" cy="191.4" r="1.75"/><circle cx="144.4" cy="182.4" r="1.75"/><circle cx="129.1" cy="197.1" r="1.75"/><circle cx="161.3" cy="155.0" r="1.75"/><circle cx="149.2" cy="175.7" r="1.75"/><circle cx="150.1" cy="143.1" r="1.75"/><circle cx="126.8" cy="201.4" r="1.75"/><circle cx="150.3" cy="170.0" r="1.75"/><circle cx="145.7" cy="186.5" r="1.75"/><circle cx="145.5" cy="145.5" r="1.75"/><circle cx="154.5" cy="164.7" r="1.75"/><circle cx="164.1" cy="145.4" r="1.75"/><circle cx="112.9" cy="193.5" r="1.75"/><circle cx="130.6" cy="170.4" r="1.75"/><circle cx="145.0" cy="175.9" r="1.75"/><circle cx="114.3" cy="191.1" r="1.75"/><circle cx="159.8" cy="160.0" r="1.75"/><circle cx="149.2" cy="147.9" r="1.75"/><circle cx="106.9" cy="199.8" r="1.75"/><circle cx="106.8" cy="202.7" r="1.75"/><circle cx="162.8" cy="152.2" r="1.75"/><circle cx="134.5" cy="189.4" r="1.75"/><circle cx="138.4" cy="189.9" r="1.75"/><circle cx="147.3" cy="147.2" r="1.75"/><circle cx="142.9" cy="184.6" r="1.75"/><circle cx="129.9" cy="194.1" r="1.75"/><circle cx="123.5" cy="175.7" r="1.75"/><circle cx="148.4" cy="182.8" r="1.75"/><circle cx="142.4" cy="179.1" r="1.75"/><circle cx="148.1" cy="180.8" r="1.75"/><circle cx="155.7" cy="167.9" r="1.75"/><circle cx="140.4" cy="156.4" r="1.75"/><circle cx="158.5" cy="157.7" r="1.75"/><circle cx="126.4" cy="172.0" r="1.75"/><circle cx="141.7" cy="188.2" r="1.75"/><circle cx="138.3" cy="155.1" r="1.75"/><circle cx="121.8" cy="179.7" r="1.75"/><circle cx="134.7" cy="195.1" r="1.75"/><circle cx="150.1" cy="173.2" r="1.75"/><circle cx="163.2" cy="148.9" r="1.75"/><circle cx="147.7" cy="149.9" r="1.75"/><circle cx="135.0" cy="165.6" r="1.75"/><circle cx="144.0" cy="189.6" r="1.75"/><circle cx="103.1" cy="206.1" r="1.75"/><circle cx="120.2" cy="206.4" r="1.75"/><circle cx="128.2" cy="168.9" r="1.75"/><circle cx="131.0" cy="165.3" r="1.75"/><circle cx="110.4" cy="192.4" r="1.75"/><circle cx="151.1" cy="179.1" r="1.75"/><circle cx="137.0" cy="195.4" r="1.75"/><circle cx="141.0" cy="180.5" r="1.75"/><circle cx="136.0" cy="197.9" r="1.75"/><circle cx="140.9" cy="182.8" r="1.75"/><circle cx="123.0" cy="206.5" r="1.75"/><circle cx="131.4" cy="195.6" r="1.75"/><circle cx="142.5" cy="191.4" r="1.75"/><circle cx="131.7" cy="168.1" r="1.75"/><circle cx="128.6" cy="172.0" r="1.75"/><circle cx="118.3" cy="210.1" r="1.75"/><circle cx="138.7" cy="159.4" r="1.75"/><circle cx="140.6" cy="154.3" r="1.75"/><circle cx="138.1" cy="183.7" r="1.75"/><circle cx="124.0" cy="172.9" r="1.75"/><circle cx="145.6" cy="179.2" r="1.75"/><circle cx="143.9" cy="177.8" r="1.75"/><circle cx="141.9" cy="150.3" r="1.75"/><circle cx="158.4" cy="165.8" r="1.75"/><circle cx="135.9" cy="186.5" r="1.75"/><circle cx="144.9" cy="151.7" r="1.75"/><circle cx="115.9" cy="182.4" r="1.75"/><circle cx="145.1" cy="184.7" r="1.75"/><circle cx="138.1" cy="162.7" r="1.75"/><circle cx="158.0" cy="160.8" r="1.75"/><circle cx="110.1" cy="194.5" r="1.75"/><circle cx="162.4" cy="157.4" r="1.75"/><circle cx="140.8" cy="185.5" r="1.75"/><circle cx="127.5" cy="203.6" r="1.75"/><circle cx="142.6" cy="136.1" r="1.75"/><circle cx="124.1" cy="158.5" r="1.75"/><circle cx="146.3" cy="140.9" r="1.75"/><circle cx="97.6" cy="200.8" r="1.75"/><circle cx="159.3" cy="139.1" r="1.75"/><circle cx="114.0" cy="217.8" r="1.75"/><circle cx="123.6" cy="161.6" r="1.75"/><circle cx="162.3" cy="137.8" r="1.75"/><circle cx="104.4" cy="185.3" r="1.75"/><circle cx="153.9" cy="187.2" r="1.75"/><circle cx="99.4" cy="207.1" r="1.75"/><circle cx="135.7" cy="147.9" r="1.75"/><circle cx="108.4" cy="219.6" r="1.75"/><circle cx="164.2" cy="155.6" r="1.75"/><circle cx="165.6" cy="143.8" r="1.75"/><circle cx="111.7" cy="183.9" r="1.75"/><circle cx="160.5" cy="177.0" r="1.75"/><circle cx="118.6" cy="160.4" r="1.75"/><circle cx="135.2" cy="204.2" r="1.75"/><circle cx="123.9" cy="210.5" r="1.75"/><circle cx="181.1" cy="137.3" r="1.75"/><circle cx="121.0" cy="172.6" r="1.75"/><circle cx="104.1" cy="219.5" r="1.75"/><circle cx="128.0" cy="157.5" r="1.75"/><circle cx="117.6" cy="179.4" r="1.75"/><circle cx="161.3" cy="174.7" r="1.75"/><circle cx="165.1" cy="162.2" r="1.75"/><circle cx="129.9" cy="156.0" r="1.75"/><circle cx="160.4" cy="163.4" r="1.75"/><circle cx="139.7" cy="203.0" r="1.75"/><circle cx="117.2" cy="165.9" r="1.75"/><circle cx="104.3" cy="200.8" r="1.75"/><circle cx="99.0" cy="202.6" r="1.75"/><circle cx="111.7" cy="181.3" r="1.75"/><circle cx="113.4" cy="214.6" r="1.75"/><circle cx="166.4" cy="166.5" r="1.75"/><circle cx="106.1" cy="191.4" r="1.75"/><circle cx="137.7" cy="150.7" r="1.75"/><circle cx="99.0" cy="211.4" r="1.75"/><circle cx="178.1" cy="144.2" r="1.75"/><circle cx="92.1" cy="219.0" r="1.75"/><circle cx="132.3" cy="208.1" r="1.75"/><circle cx="145.0" cy="136.4" r="1.75"/><circle cx="142.8" cy="146.8" r="1.75"/><circle cx="97.8" cy="220.8" r="1.75"/><circle cx="107.4" cy="184.9" r="1.75"/><circle cx="149.7" cy="188.0" r="1.75"/><circle cx="122.0" cy="170.2" r="1.75"/><circle cx="114.9" cy="176.9" r="1.75"/><circle cx="94.4" cy="207.8" r="1.75"/><circle cx="111.5" cy="218.6" r="1.75"/><circle cx="129.3" cy="208.2" r="1.75"/><circle cx="119.2" cy="170.6" r="1.75"/><circle cx="159.4" cy="171.3" r="1.75"/><circle cx="114.3" cy="166.2" r="1.75"/><circle cx="171.6" cy="161.7" r="1.75"/><circle cx="96.2" cy="223.6" r="1.75"/><circle cx="147.2" cy="194.1" r="1.75"/><circle cx="140.0" cy="200.4" r="1.75"/><circle cx="91.9" cy="209.8" r="1.75"/><circle cx="159.9" cy="183.2" r="1.75"/><circle cx="97.2" cy="213.8" r="1.75"/><circle cx="138.6" cy="144.1" r="1.75"/><circle cx="122.9" cy="165.9" r="1.75"/><circle cx="119.9" cy="163.9" r="1.75"/><circle cx="136.2" cy="202.1" r="1.75"/><circle cx="178.6" cy="138.5" r="1.75"/><circle cx="96.5" cy="217.8" r="1.75"/><circle cx="151.2" cy="192.7" r="1.75"/><circle cx="175.5" cy="139.7" r="1.75"/><circle cx="137.9" cy="204.3" r="1.75"/><circle cx="122.2" cy="214.3" r="1.75"/><circle cx="155.1" cy="179.0" r="1.75"/><circle cx="151.3" cy="185.5" r="1.75"/><circle cx="131.6" cy="160.7" r="1.75"/><circle cx="133.9" cy="150.8" r="1.75"/><circle cx="104.5" cy="221.9" r="1.75"/><circle cx="147.3" cy="201.5" r="1.75"/><circle cx="118.1" cy="214.4" r="1.75"/><circle cx="161.3" cy="170.2" r="1.75"/><circle cx="120.0" cy="166.4" r="1.75"/><circle cx="154.0" cy="181.8" r="1.75"/><circle cx="109.4" cy="185.8" r="1.75"/><circle cx="135.9" cy="140.3" r="1.75"/><circle cx="112.3" cy="169.4" r="1.75"/><circle cx="157.4" cy="179.4" r="1.75"/><circle cx="147.1" cy="190.8" r="1.75"/><circle cx="95.1" cy="204.2" r="1.75"/><circle cx="110.6" cy="188.0" r="1.75"/><circle cx="134.4" cy="206.6" r="1.75"/><circle cx="125.5" cy="169.7" r="1.75"/><circle cx="91.4" cy="221.2" r="1.75"/><circle cx="172.0" cy="155.0" r="1.75"/><circle cx="113.5" cy="178.8" r="1.75"/><circle cx="155.5" cy="183.4" r="1.75"/><circle cx="175.0" cy="155.1" r="1.75"/><circle cx="155.4" cy="138.1" r="1.75"/><circle cx="159.9" cy="180.0" r="1.75"/><circle cx="143.0" cy="144.3" r="1.75"/><circle cx="103.5" cy="198.6" r="1.75"/><circle cx="164.2" cy="165.7" r="1.75"/><circle cx="154.2" cy="135.7" r="1.75"/><circle cx="170.4" cy="144.5" r="1.75"/><circle cx="154.7" cy="176.4" r="1.75"/><circle cx="113.9" cy="172.8" r="1.75"/><circle cx="149.9" cy="141.0" r="1.75"/><circle cx="154.1" cy="190.9" r="1.75"/><circle cx="111.9" cy="172.0" r="1.75"/><circle cx="136.4" cy="144.4" r="1.75"/><circle cx="159.7" cy="167.7" r="1.75"/><circle cx="168.5" cy="141.2" r="1.75"/><circle cx="95.1" cy="215.9" r="1.75"/><circle cx="102.8" cy="203.4" r="1.75"/><circle cx="95.3" cy="220.5" r="1.75"/><circle cx="128.7" cy="163.6" r="1.75"/><circle cx="101.6" cy="196.4" r="1.75"/><circle cx="100.2" cy="222.8" r="1.75"/><circle cx="107.6" cy="193.3" r="1.75"/><circle cx="137.2" cy="208.6" r="1.75"/><circle cx="168.6" cy="138.8" r="1.75"/><circle cx="146.0" cy="199.1" r="1.75"/><circle cx="163.4" cy="175.9" r="1.75"/><circle cx="125.1" cy="206.6" r="1.75"/><circle cx="163.9" cy="178.2" r="1.75"/><circle cx="168.7" cy="151.8" r="1.75"/><circle cx="116.4" cy="213.0" r="1.75"/><circle cx="109.0" cy="178.5" r="1.75"/><circle cx="158.7" cy="135.6" r="1.75"/><circle cx="166.7" cy="157.3" r="1.75"/><circle cx="135.7" cy="154.4" r="1.75"/><circle cx="141.9" cy="195.0" r="1.75"/><circle cx="97.9" cy="209.2" r="1.75"/><circle cx="137.5" cy="141.8" r="1.75"/><circle cx="142.6" cy="197.2" r="1.75"/><circle cx="117.1" cy="172.9" r="1.75"/><circle cx="108.8" cy="217.4" r="1.75"/><circle cx="132.8" cy="154.1" r="1.75"/><circle cx="174.9" cy="149.4" r="1.75"/><circle cx="127.1" cy="166.5" r="1.75"/><circle cx="100.4" cy="193.8" r="1.75"/><circle cx="139.6" cy="139.6" r="1.75"/><circle cx="143.6" cy="142.0" r="1.75"/><circle cx="162.2" cy="160.7" r="1.75"/><circle cx="130.9" cy="211.1" r="1.75"/><circle cx="99.0" cy="215.3" r="1.75"/><circle cx="145.0" cy="196.9" r="1.75"/><circle cx="153.3" cy="184.4" r="1.75"/><circle cx="163.8" cy="139.6" r="1.75"/><circle cx="94.2" cy="218.4" r="1.75"/><circle cx="158.2" cy="173.8" r="1.75"/><circle cx="101.2" cy="217.1" r="1.75"/><circle cx="128.8" cy="159.7" r="1.75"/><circle cx="102.5" cy="223.1" r="1.75"/><circle cx="149.1" cy="135.5" r="1.75"/><circle cx="168.4" cy="171.0" r="1.75"/><circle cx="151.3" cy="195.6" r="1.75"/><circle cx="173.4" cy="151.0" r="1.75"/><circle cx="126.7" cy="211.3" r="1.75"/><circle cx="115.2" cy="168.6" r="1.75"/><circle cx="144.2" cy="139.4" r="1.75"/><circle cx="170.0" cy="163.9" r="1.75"/><circle cx="103.4" cy="192.3" r="1.75"/><circle cx="172.5" cy="141.8" r="1.75"/><circle cx="150.0" cy="131.0" r="1.75"/><circle cx="162.2" cy="133.7" r="1.75"/><circle cx="140.3" cy="124.1" r="1.75"/><circle cx="142.0" cy="131.3" r="1.75"/><circle cx="151.0" cy="133.5" r="1.75"/><circle cx="149.8" cy="122.7" r="1.75"/><circle cx="170.8" cy="124.1" r="1.75"/><circle cx="154.6" cy="130.7" r="1.75"/><circle cx="157.3" cy="123.9" r="1.75"/><circle cx="174.2" cy="133.5" r="1.75"/><circle cx="153.9" cy="127.9" r="1.75"/><circle cx="157.7" cy="114.4" r="1.75"/><circle cx="169.8" cy="116.1" r="1.75"/><circle cx="165.5" cy="126.4" r="1.75"/><circle cx="146.2" cy="126.1" r="1.75"/><circle cx="161.8" cy="125.8" r="1.75"/><circle cx="148.2" cy="119.0" r="1.75"/><circle cx="157.6" cy="118.0" r="1.75"/><circle cx="160.9" cy="131.2" r="1.75"/><circle cx="173.4" cy="117.4" r="1.75"/><circle cx="144.9" cy="118.0" r="1.75"/><circle cx="163.8" cy="120.8" r="1.75"/><circle cx="154.6" cy="124.4" r="1.75"/><circle cx="153.6" cy="115.4" r="1.75"/><circle cx="158.2" cy="129.9" r="1.75"/><circle cx="150.6" cy="115.5" r="1.75"/><circle cx="149.3" cy="128.4" r="1.75"/></g>
<rect x="64.00" y="11.20" width="237.00" height="236.30" fill="none" stroke="#505050" stroke-width="1.4"/>
<line x1="64.00" y1="247.50" x2="64.00" y2="260.00" stroke="#505050" stroke-width="1.4" />
<text x="64.00" y="275.00" font-size="16.8" text-anchor="middle" font-weight="normal" fill="#151515" stroke="#151515" stroke-width="0.3">0</text>
<line x1="123.25" y1="247.50" x2="123.25" y2="260.00" stroke="#505050" stroke-width="1.4" />
<text x="123.25" y="275.00" font-size="16.8" text-anchor="middle" font-weight="normal" fill="#151515" stroke="#151515" stroke-width="0.3">10</text>
<line x1="182.50" y1="247.50" x2="182.50" y2="260.00" stroke="#505050" stroke-width="1.4" />
<text x="182.50" y="275.00" font-size="16.8" text-anchor="middle" font-weight="normal" fill="#151515" stroke="#151515" stroke-width="0.3">20</text>
<line x1="241.75" y1="247.50" x2="241.75" y2="260.00" stroke="#505050" stroke-width="1.4" />
<text x="241.75" y="275.00" font-size="16.8" text-anchor="middle" font-weight="normal" fill="#151515" stroke="#151515" stroke-width="0.3">30</text>
<line x1="301.00" y1="247.50" x2="301.00" y2="260.00" stroke="#505050" stroke-width="1.4" />
<text x="301.00" y="275.00" font-size="16.8" text-anchor="middle" font-weight="normal" fill="#151515" stroke="#151515" stroke-width="0.3">40</text>
<line x1="93.62" y1="247.50" x2="93.62" y2="253.50" stroke="#505050" stroke-width="1.4" />
<line x1="152.88" y1="247.50" x2="152.88" y2="253.50" stroke="#505050" stroke-width="1.4" />
<line x1="212.12" y1="247.50" x2="212.12" y2="253.50" stroke="#505050" stroke-width="1.4" />
<line x1="271.38" y1="247.50" x2="271.38" y2="253.50" stroke="#505050" stroke-width="1.4" />
<line x1="51.50" y1="247.50" x2="64.00" y2="247.50" stroke="#505050" stroke-width="1.4" />
<text x="49.20" y="252.30" font-size="16.8" text-anchor="end" font-weight="normal" fill="#151515" stroke="#151515" stroke-width="0.3">0</text>
<line x1="51.50" y1="188.43" x2="64.00" y2="188.43" stroke="#505050" stroke-width="1.4" />
<text x="49.20" y="193.23" font-size="16.8" text-anchor="end" font-weight="normal" fill="#151515" stroke="#151515" stroke-width="0.3">10</text>
<line x1="51.50" y1="129.35" x2="64.00" y2="129.35" stroke="#505050" stroke-width="1.4" />
<text x="49.20" y="134.15" font-size="16.8" text-anchor="end" font-weight="normal" fill="#151515" stroke="#151515" stroke-width="0.3">20</text>
<line x1="51.50" y1="70.28" x2="64.00" y2="70.28" stroke="#505050" stroke-width="1.4" />
<text x="49.20" y="75.08" font-size="16.8" text-anchor="end" font-weight="normal" fill="#151515" stroke="#151515" stroke-width="0.3">30</text>
<line x1="51.50" y1="11.20" x2="64.00" y2="11.20" stroke="#505050" stroke-width="1.4" />
<text x="49.20" y="16.00" font-size="16.8" text-anchor="end" font-weight="normal" fill="#151515" stroke="#151515" stroke-width="0.3">40</text>
<line x1="58.00" y1="217.96" x2="64.00" y2="217.96" stroke="#505050" stroke-width="1.4" />
<line x1="58.00" y1="158.89" x2="64.00" y2="158.89" stroke="#505050" stroke-width="1.4" />
<line x1="58.00" y1="99.81" x2="64.00" y2="99.81" stroke="#505050" stroke-width="1.4" />
<line x1="58.00" y1="40.74" x2="64.00" y2="40.74" stroke="#505050" stroke-width="1.4" />
<line x1="437.50" y1="247.50" x2="669.50" y2="15.50" stroke="#707070" stroke-width="1.2" />
<path d="M535.55 78.1a1.75 1.75 0 1 0 -3.5 0a1.75 1.75 0 1 0 3.5 0M530.15 82.7a1.75 1.75 0 1 0 -3.5 0a1.75 1.75 0 1 0 3.5 0M522.35 89.8a1.75 1.75 0 1 0 -3.5 0a1.75 1.75 0 1 0 3.5 0M527.05 91.7a1.75 1.75 0 1 0 -3.5 0a1.75 1.75 0 1 0 3.5 0M531.65 89.4a1.75 1.75 0 1 0 -3.5 0a1.75 1.75 0 1 0 3.5 0M526.25 94.0a1.75 1.75 0 1 0 -3.5 0a1.75 1.75 0 1 0 3.5 0M529.35 97.6a1.75 1.75 0 1 0 -3.5 0a1.75 1.75 0 1 0 3.5 0M529.05 101.0a1.75 1.75 0 1 0 -3.5 0a1.75 1.75 0 1 0 3.5 0M536.35 97.9a1.75 1.75 0 1 0 -3.5 0a1.75 1.75 0 1 0 3.5 0M539.45 93.3a1.75 1.75 0 1 0 -3.5 0a1.75 1.75 0 1 0 3.5 0M539.45 101.8a1.75 1.75 0 1 0 -3.5 0a1.75 1.75 0 1 0 3.5 0M495.25 96.0a1.75 1.75 0 1 0 -3.5 0a1.75 1.75 0 1 0 3.5 0M501.45 99.1a1.75 1.75 0 1 0 -3.5 0a1.75 1.75 0 1 0 3.5 0M517.45 103.0a1.75 1.75 0 1 0 -3.5 0a1.75 1.75 0 1 0 3.5 0M533.95 108.0a1.75 1.75 0 1 0 -3.5 0a1.75 1.75 0 1 0 3.5 0M540.95 111.1a1.75 1.75 0 1 0 -3.5 0a1.75 1.75 0 1 0 3.5 0M495.25 110.3a1.75 1.75 0 1 0 -3.5 0a1.75 1.75 0 1 0 3.5 0M507.65 110.0a1.75 1.75 0 1 0 -3.5 0a1.75 1.75 0 1 0 3.5 0M511.25 108.8a1.75 1.75 0 1 0 -3.5 0a1.75 1.75 0 1 0 3.5 0M516.95 111.9a1.75 1.75 0 1 0 -3.5 0a1.75 1.75 0 1 0 3.5 0M513.35 113.7a1.75 1.75 0 1 0 -3.5 0a1.75 1.75 0 1 0 3.5 0M468.45 116.5a1.75 1.75 0 1 0 -3.5 0a1.75 1.75 0 1 0 3.5 0M496.75 115.3a1.75 1.75 0 1 0 -3.5 0a1.75 1.75 0 1 0 3.5 0M499.85 118.1a1.75 1.75 0 1 0 -3.5 0a1.75 1.75 0 1 0 3.5 0M502.95 115.3a1.75 1.75 0 1 0 -3.5 0a1.75 1.75 0 1 0 3.5 0M502.95 118.4a1.75 1.75 0 1 0 -3.5 0a1.75 1.75 0 1 0 3.5 0M527.05 114.2a1.75 1.75 0 1 0 -3.5 0a1.75 1.75 0 1 0 3.5 0M536.05 115.7a1.75 1.75 0 1 0 -3.5 0a1.75 1.75 0 1 0 3.5 0M513.35 119.3a1.75 1.75 0 1 0 -3.5 0a1.75 1.75 0 1 0 3.5 0M477.05 121.6a1.75 1.75 0 1 0 -3.5 0a1.75 1.75 0 1 0 3.5 0M479.75 126.6a1.75 1.75 0 1 0 -3.5 0a1.75 1.75 0 1 0 3.5 0M482.85 125.8a1.75 1.75 0 1 0 -3.5 0a1.75 1.75 0 1 0 3.5 0M506.05 124.0a1.75 1.75 0 1 0 -3.5 0a1.75 1.75 0 1 0 3.5 0M513.05 123.5a1.75 1.75 0 1 0 -3.5 0a1.75 1.75 0 1 0 3.5 0M523.15 122.7a1.75 1.75 0 1 0 -3.5 0a1.75 1.75 0 1 0 3.5 0M519.25 125.0a1.75 1.75 0 1 0 -3.5 0a1.75 1.75 0 1 0 3.5 0M533.25 124.3a1.75 1.75 0 1 0 -3.5 0a1.75 1.75 0 1 0 3.5 0M535.55 125.0a1.75 1.75 0 1 0 -3.5 0a1.75 1.75 0 1 0 3.5 0M498.85 127.1a1.75 1.75 0 1 0 -3.5 0a1.75 1.75 0 1 0 3.5 0M511.55 127.1a1.75 1.75 0 1 0 -3.5 0a1.75 1.75 0 1 0 3.5 0M526.25 128.1a1.75 1.75 0 1 0 -3.5 0a1.75 1.75 0 1 0 3.5 0M531.65 128.6a1.75 1.75 0 1 0 -3.5 0a1.75 1.75 0 1 0 3.5 0M539.45 131.2a1.75 1.75 0 1 0 -3.5 0a1.75 1.75 0 1 0 3.5 0M514.65 130.5a1.75 1.75 0 1 0 -3.5 0a1.75 1.75 0 1 0 3.5 0M517.75 131.2a1.75 1.75 0 1 0 -3.5 0a1.75 1.75 0 1 0 3.5 0M520.85 130.5a1.75 1.75 0 1 0 -3.5 0a1.75 1.75 0 1 0 3.5 0M525.45 132.8a1.75 1.75 0 1 0 -3.5 0a1.75 1.75 0 1 0 3.5 0M534.75 130.5a1.75 1.75 0 1 0 -3.5 0a1.75 1.75 0 1 0 3.5 0M536.35 135.1a1.75 1.75 0 1 0 -3.5 0a1.75 1.75 0 1 0 3.5 0M482.85 137.0a1.75 1.75 0 1 0 -3.5 0a1.75 1.75 0 1 0 3.5 0M486.75 137.9a1.75 1.75 0 1 0 -3.5 0a1.75 1.75 0 1 0 3.5 0M492.15 133.9a1.75 1.75 0 1 0 -3.5 0a1.75 1.75 0 1 0 3.5 0M492.95 135.9a1.75 1.75 0 1 0 -3.5 0a1.75 1.75 0 1 0 3.5 0M496.75 133.6a1.75 1.75 0 1 0 -3.5 0a1.75 1.75 0 1 0 3.5 0M499.15 133.3a1.75 1.75 0 1 0 -3.5 0a1.75 1.75 0 1 0 3.5 0M502.95 134.8a1.75 1.75 0 1 0 -3.5 0a1.75 1.75 0 1 0 3.5 0M504.55 137.0a1.75 1.75 0 1 0 -3.5 0a1.75 1.75 0 1 0 3.5 0M511.55 133.6a1.75 1.75 0 1 0 -3.5 0a1.75 1.75 0 1 0 3.5 0M516.95 135.1a1.75 1.75 0 1 0 -3.5 0a1.75 1.75 0 1 0 3.5 0M514.65 138.2a1.75 1.75 0 1 0 -3.5 0a1.75 1.75 0 1 0 3.5 0M522.35 134.3a1.75 1.75 0 1 0 -3.5 0a1.75 1.75 0 1 0 3.5 0M523.95 138.2a1.75 1.75 0 1 0 -3.5 0a1.75 1.75 0 1 0 3.5 0M528.55 135.9a1.75 1.75 0 1 0 -3.5 0a1.75 1.75 0 1 0 3.5 0M530.85 139.0a1.75 1.75 0 1 0 -3.5 0a1.75 1.75 0 1 0 3.5 0M456.45 141.3a1.75 1.75 0 1 0 -3.5 0a1.75 1.75 0 1 0 3.5 0M458.45 143.3a1.75 1.75 0 1 0 -3.5 0a1.75 1.75 0 1 0 3.5 0M472.75 141.0a1.75 1.75 0 1 0 -3.5 0a1.75 1.75 0 1 0 3.5 0M496.05 142.1a1.75 1.75 0 1 0 -3.5 0a1.75 1.75 0 1 0 3.5 0M520.05 141.3a1.75 1.75 0 1 0 -3.5 0a1.75 1.75 0 1 0 3.5 0M523.95 142.1a1.75 1.75 0 1 0 -3.5 0a1.75 1.75 0 1 0 3.5 0M530.45 142.6a1.75 1.75 0 1 0 -3.5 0a1.75 1.75 0 1 0 3.5 0M536.35 140.5a1.75 1.75 0 1 0 -3.5 0a1.75 1.75 0 1 0 3.5 0M458.45 162.2a1.75 1.75 0 1 0 -3.5 0a1.75 1.75 0 1 0 3.5 0M467.35 159.6a1.75 1.75 0 1 0 -3.5 0a1.75 1.75 0 1 0 3.5 0M472.45 161.2a1.75 1.75 0 1 0 -3.5 0a1.75 1.75 0 1 0 3.5 0M478.95 163.8a1.75 1.75 0 1 0 -3.5 0a1.75 1.75 0 1 0 3.5 0M466.55 169.2a1.75 1.75 0 1 0 -3.5 0a1.75 1.75 0 1 0 3.5 0M473.55 167.7a1.75 1.75 0 1 0 -3.5 0a1.75 1.75 0 1 0 3.5 0M576.15 88.5a1.75 1.75 0 1 0 -3.5 0a1.75 1.75 0 1 0 3.5 0M588.85 86.1a1.75 1.75 0 1 0 -3.5 0a1.75 1.75 0 1 0 3.5 0M587.35 91.5a1.75 1.75 0 1 0 -3.5 0a1.75 1.75 0 1 0 3.5 0M541.75 92.2a1.75 1.75 0 1 0 -3.5 0a1.75 1.75 0 1 0 3.5 0M545.45 97.4a1.75 1.75 0 1 0 -3.5 0a1.75 1.75 0 1 0 3.5 0M544.55 102.4a1.75 1.75 0 1 0 -3.5 0a1.75 1.75 0 1 0 3.5 0M562.55 98.7a1.75 1.75 0 1 0 -3.5 0a1.75 1.75 0 1 0 3.5 0M569.05 104.3a1.75 1.75 0 1 0 -3.5 0a1.75 1.75 0 1 0 3.5 0M595.35 98.2a1.75 1.75 0 1 0 -3.5 0a1.75 1.75 0 1 0 3.5 0M599.45 96.9a1.75 1.75 0 1 0 -3.5 0a1.75 1.75 0 1 0 3.5 0M606.85 98.7a1.75 1.75 0 1 0 -3.5 0a1.75 1.75 0 1 0 3.5 0M557.15 109.0a1.75 1.75 0 1 0 -3.5 0a1.75 1.75 0 1 0 3.5 0M560.75 108.0a1.75 1.75 0 1 0 -3.5 0a1.75 1.75 0 1 0 3.5 0M599.45 109.0a1.75 1.75 0 1 0 -3.5 0a1.75 1.75 0 1 0 3.5 0M550.15 115.8a1.75 1.75 0 1 0 -3.5 0a1.75 1.75 0 1 0 3.5 0M564.05 115.1a1.75 1.75 0 1 0 -3.5 0a1.75 1.75 0 1 0 3.5 0M581.75 115.8a1.75 1.75 0 1 0 -3.5 0a1.75 1.75 0 1 0 3.5 0M601.85 118.3a1.75 1.75 0 1 0 -3.5 0a1.75 1.75 0 1 0 3.5 0M554.75 122.0a1.75 1.75 0 1 0 -3.5 0a1.75 1.75 0 1 0 3.5 0M558.45 123.5a1.75 1.75 0 1 0 -3.5 0a1.75 1.75 0 1 0 3.5 0M547.35 123.8a1.75 1.75 0 1 0 -3.5 0a1.75 1.75 0 1 0 3.5 0M550.15 126.6a1.75 1.75 0 1 0 -3.5 0a1.75 1.75 0 1 0 3.5 0M555.75 127.9a1.75 1.75 0 1 0 -3.5 0a1.75 1.75 0 1 0 3.5 0M559.45 131.3a1.75 1.75 0 1 0 -3.5 0a1.75 1.75 0 1 0 3.5 0M563.15 129.0a1.75 1.75 0 1 0 -3.5 0a1.75 1.75 0 1 0 3.5 0M568.75 130.0a1.75 1.75 0 1 0 -3.5 0a1.75 1.75 0 1 0 3.5 0M571.55 132.2a1.75 1.75 0 1 0 -3.5 0a1.75 1.75 0 1 0 3.5 0M565.95 135.4a1.75 1.75 0 1 0 -3.5 0a1.75 1.75 0 1 0 3.5 0M566.85 137.8a1.75 1.75 0 1 0 -3.5 0a1.75 1.75 0 1 0 3.5 0M599.45 130.0a1.75 1.75 0 1 0 -3.5 0a1.75 1.75 0 1 0 3.5 0M595.35 132.8a1.75 1.75 0 1 0 -3.5 0a1.75 1.75 0 1 0 3.5 0M589.55 134.1a1.75 1.75 0 1 0 -3.5 0a1.75 1.75 0 1 0 3.5 0M541.75 131.3a1.75 1.75 0 1 0 -3.5 0a1.75 1.75 0 1 0 3.5 0M546.45 134.1a1.75 1.75 0 1 0 -3.5 0a1.75 1.75 0 1 0 3.5 0M551.05 136.9a1.75 1.75 0 1 0 -3.5 0a1.75 1.75 0 1 0 3.5 0M555.75 138.7a1.75 1.75 0 1 0 -3.5 0a1.75 1.75 0 1 0 3.5 0M560.35 137.8a1.75 1.75 0 1 0 -3.5 0a1.75 1.75 0 1 0 3.5 0M578.05 143.9a1.75 1.75 0 1 0 -3.5 0a1.75 1.75 0 1 0 3.5 0M583.05 143.4a1.75 1.75 0 1 0 -3.5 0a1.75 1.75 0 1 0 3.5 0M561.85 142.4a1.75 1.75 0 1 0 -3.5 0a1.75 1.75 0 1 0 3.5 0M563.15 150.8a1.75 1.75 0 1 0 -3.5 0a1.75 1.75 0 1 0 3.5 0M564.05 157.3a1.75 1.75 0 1 0 -3.5 0a1.75 1.75 0 1 0 3.5 0M558.45 160.1a1.75 1.75 0 1 0 -3.5 0a1.75 1.75 0 1 0 3.5 0M557.55 149.9a1.75 1.75 0 1 0 -3.5 0a1.75 1.75 0 1 0 3.5 0M598.15 143.9a1.75 1.75 0 1 0 -3.5 0a1.75 1.75 0 1 0 3.5 0M602.25 142.1a1.75 1.75 0 1 0 -3.5 0a1.75 1.75 0 1 0 3.5 0M608.35 139.3a1.75 1.75 0 1 0 -3.5 0a1.75 1.75 0 1 0 3.5 0M612.45 138.7a1.75 1.75 0 1 0 -3.5 0a1.75 1.75 0 1 0 3.5 0M617.45 148.6a1.75 1.75 0 1 0 -3.5 0a1.75 1.75 0 1 0 3.5 0M582.65 150.8a1.75 1.75 0 1 0 -3.5 0a1.75 1.75 0 1 0 3.5 0M587.85 154.5a1.75 1.75 0 1 0 -3.5 0a1.75 1.75 0 1 0 3.5 0M581.75 157.9a1.75 1.75 0 1 0 -3.5 0a1.75 1.75 0 1 0 3.5 0M606.85 161.0a1.75 1.75 0 1 0 -3.5 0a1.75 1.75 0 1 0 3.5 0M614.35 164.4a1.75 1.75 0 1 0 -3.5 0a1.75 1.75 0 1 0 3.5 0M613.35 167.0a1.75 1.75 0 1 0 -3.5 0a1.75 1.75 0 1 0 3.5 0M591.65 166.6a1.75 1.75 0 1 0 -3.5 0a1.75 1.75 0 1 0 3.5 0M595.35 173.1a1.75 1.75 0 1 0 -3.5 0a1.75 1.75 0 1 0 3.5 0M582.35 165.1a1.75 1.75 0 1 0 -3.5 0a1.75 1.75 0 1 0 3.5 0M571.55 162.9a1.75 1.75 0 1 0 -3.5 0a1.75 1.75 0 1 0 3.5 0M574.35 165.7a1.75 1.75 0 1 0 -3.5 0a1.75 1.75 0 1 0 3.5 0M568.75 168.9a1.75 1.75 0 1 0 -3.5 0a1.75 1.75 0 1 0 3.5 0M573.35 171.3a1.75 1.75 0 1 0 -3.5 0a1.75 1.75 0 1 0 3.5 0M648.35 157.3a1.75 1.75 0 1 0 -3.5 0a1.75 1.75 0 1 0 3.5 0M469.75 172.8a1.75 1.75 0 1 0 -3.5 0a1.75 1.75 0 1 0 3.5 0M458.35 174.2a1.75 1.75 0 1 0 -3.5 0a1.75 1.75 0 1 0 3.5 0M454.35 178.4a1.75 1.75 0 1 0 -3.5 0a1.75 1.75 0 1 0 3.5 0M455.45 182.4a1.75 1.75 0 1 0 -3.5 0a1.75 1.75 0 1 0 3.5 0M466.25 178.0a1.75 1.75 0 1 0 -3.5 0a1.75 1.75 0 1 0 3.5 0M468.95 181.5a1.75 1.75 0 1 0 -3.5 0a1.75 1.75 0 1 0 3.5 0M475.05 178.0a1.75 1.75 0 1 0 -3.5 0a1.75 1.75 0 1 0 3.5 0M475.95 181.5a1.75 1.75 0 1 0 -3.5 0a1.75 1.75 0 1 0 3.5 0M479.45 186.8a1.75 1.75 0 1 0 -3.5 0a1.75 1.75 0 1 0 3.5 0M467.15 194.7a1.75 1.75 0 1 0 -3.5 0a1.75 1.75 0 1 0 3.5 0M471.55 200.8a1.75 1.75 0 1 0 -3.5 0a1.75 1.75 0 1 0 3.5 0M475.95 199.1a1.75 1.75 0 1 0 -3.5 0a1.75 1.75 0 1 0 3.5 0M454.35 207.5a1.75 1.75 0 1 0 -3.5 0a1.75 1.75 0 1 0 3.5 0M461.85 206.1a1.75 1.75 0 1 0 -3.5 0a1.75 1.75 0 1 0 3.5 0M462.75 210.4a1.75 1.75 0 1 0 -3.5 0a1.75 1.75 0 1 0 3.5 0M466.25 209.6a1.75 1.75 0 1 0 -3.5 0a1.75 1.75 0 1 0 3.5 0M464.55 213.9a1.75 1.75 0 1 0 -3.5 0a1.75 1.75 0 1 0 3.5 0M468.05 215.7a1.75 1.75 0 1 0 -3.5 0a1.75 1.75 0 1 0 3.5 0M470.65 213.1a1.75 1.75 0 1 0 -3.5 0a1.75 1.75 0 1 0 3.5 0M473.25 216.6a1.75 1.75 0 1 0 -3.5 0a1.75 1.75 0 1 0 3.5 0M474.15 220.1a1.75 1.75 0 1 0 -3.5 0a1.75 1.75 0 1 0 3.5 0M469.75 219.2a1.75 1.75 0 1 0 -3.5 0a1.75 1.75 0 1 0 3.5 0M476.75 211.3a1.75 1.75 0 1 0 -3.5 0a1.75 1.75 0 1 0 3.5 0M462.75 225.7a1.75 1.75 0 1 0 -3.5 0a1.75 1.75 0 1 0 3.5 0M482.05 224.5a1.75 1.75 0 1 0 -3.5 0a1.75 1.75 0 1 0 3.5 0M482.95 230.6a1.75 1.75 0 1 0 -3.5 0a1.75 1.75 0 1 0 3.5 0M494.35 223.2a1.75 1.75 0 1 0 -3.5 0a1.75 1.75 0 1 0 3.5 0M497.45 223.2a1.75 1.75 0 1 0 -3.5 0a1.75 1.75 0 1 0 3.5 0M499.55 230.9a1.75 1.75 0 1 0 -3.5 0a1.75 1.75 0 1 0 3.5 0M512.75 226.2a1.75 1.75 0 1 0 -3.5 0a1.75 1.75 0 1 0 3.5 0M508.35 220.1a1.75 1.75 0 1 0 -3.5 0a1.75 1.75 0 1 0 3.5 0M504.85 220.4a1.75 1.75 0 1 0 -3.5 0a1.75 1.75 0 1 0 3.5 0M472.05 240.2a1.75 1.75 0 1 0 -3.5 0a1.75 1.75 0 1 0 3.5 0M496.55 239.0a1.75 1.75 0 1 0 -3.5 0a1.75 1.75 0 1 0 3.5 0M505.15 236.4a1.75 1.75 0 1 0 -3.5 0a1.75 1.75 0 1 0 3.5 0M508.35 235.0a1.75 1.75 0 1 0 -3.5 0a1.75 1.75 0 1 0 3.5 0M510.45 234.1a1.75 1.75 0 1 0 -3.5 0a1.75 1.75 0 1 0 3.5 0M515.65 234.4a1.75 1.75 0 1 0 -3.5 0a1.75 1.75 0 1 0 3.5 0M520.55 225.3a1.75 1.75 0 1 0 -3.5 0a1.75 1.75 0 1 0 3.5 0M521.45 229.2a1.75 1.75 0 1 0 -3.5 0a1.75 1.75 0 1 0 3.5 0M522.65 224.5a1.75 1.75 0 1 0 -3.5 0a1.75 1.75 0 1 0 3.5 0M527.25 216.6a1.75 1.75 0 1 0 -3.5 0a1.75 1.75 0 1 0 3.5 0M523.75 220.1a1.75 1.75 0 1 0 -3.5 0a1.75 1.75 0 1 0 3.5 0M528.85 223.2a1.75 1.75 0 1 0 -3.5 0a1.75 1.75 0 1 0 3.5 0M534.65 228.0a1.75 1.75 0 1 0 -3.5 0a1.75 1.75 0 1 0 3.5 0M542.15 229.7a1.75 1.75 0 1 0 -3.5 0a1.75 1.75 0 1 0 3.5 0M531.05 206.9a1.75 1.75 0 1 0 -3.5 0a1.75 1.75 0 1 0 3.5 0M534.65 209.6a1.75 1.75 0 1 0 -3.5 0a1.75 1.75 0 1 0 3.5 0M537.25 212.2a1.75 1.75 0 1 0 -3.5 0a1.75 1.75 0 1 0 3.5 0M537.75 217.4a1.75 1.75 0 1 0 -3.5 0a1.75 1.75 0 1 0 3.5 0M540.75 215.7a1.75 1.75 0 1 0 -3.5 0a1.75 1.75 0 1 0 3.5 0M539.85 211.3a1.75 1.75 0 1 0 -3.5 0a1.75 1.75 0 1 0 3.5 0M545.15 206.9a1.75 1.75 0 1 0 -3.5 0a1.75 1.75 0 1 0 3.5 0M546.85 202.6a1.75 1.75 0 1 0 -3.5 0a1.75 1.75 0 1 0 3.5 0M552.15 211.3a1.75 1.75 0 1 0 -3.5 0a1.75 1.75 0 1 0 3.5 0M555.25 222.7a1.75 1.75 0 1 0 -3.5 0a1.75 1.75 0 1 0 3.5 0M559.15 218.3a1.75 1.75 0 1 0 -3.5 0a1.75 1.75 0 1 0 3.5 0M558.25 206.9a1.75 1.75 0 1 0 -3.5 0a1.75 1.75 0 1 0 3.5 0M520.55 206.9a1.75 1.75 0 1 0 -3.5 0a1.75 1.75 0 1 0 3.5 0M513.55 210.4a1.75 1.75 0 1 0 -3.5 0a1.75 1.75 0 1 0 3.5 0M509.15 214.8a1.75 1.75 0 1 0 -3.5 0a1.75 1.75 0 1 0 3.5 0M560.15 157.9a1.75 1.75 0 1 0 -3.5 0a1.75 1.75 0 1 0 3.5 0M562.75 164.9a1.75 1.75 0 1 0 -3.5 0a1.75 1.75 0 1 0 3.5 0M561.05 167.5a1.75 1.75 0 1 0 -3.5 0a1.75 1.75 0 1 0 3.5 0M568.95 173.3a1.75 1.75 0 1 0 -3.5 0a1.75 1.75 0 1 0 3.5 0M563.65 173.7a1.75 1.75 0 1 0 -3.5 0a1.75 1.75 0 1 0 3.5 0M600.45 178.4a1.75 1.75 0 1 0 -3.5 0a1.75 1.75 0 1 0 3.5 0M575.05 180.7a1.75 1.75 0 1 0 -3.5 0a1.75 1.75 0 1 0 3.5 0M565.75 178.9a1.75 1.75 0 1 0 -3.5 0a1.75 1.75 0 1 0 3.5 0M562.75 181.5a1.75 1.75 0 1 0 -3.5 0a1.75 1.75 0 1 0 3.5 0M559.25 184.2a1.75 1.75 0 1 0 -3.5 0a1.75 1.75 0 1 0 3.5 0M568.95 185.9a1.75 1.75 0 1 0 -3.5 0a1.75 1.75 0 1 0 3.5 0M573.25 185.9a1.75 1.75 0 1 0 -3.5 0a1.75 1.75 0 1 0 3.5 0M578.85 185.9a1.75 1.75 0 1 0 -3.5 0a1.75 1.75 0 1 0 3.5 0M582.35 184.7a1.75 1.75 0 1 0 -3.5 0a1.75 1.75 0 1 0 3.5 0M593.95 188.2a1.75 1.75 0 1 0 -3.5 0a1.75 1.75 0 1 0 3.5 0M598.15 186.8a1.75 1.75 0 1 0 -3.5 0a1.75 1.75 0 1 0 3.5 0M609.75 183.3a1.75 1.75 0 1 0 -3.5 0a1.75 1.75 0 1 0 3.5 0M609.75 191.2a1.75 1.75 0 1 0 -3.5 0a1.75 1.75 0 1 0 3.5 0M609.15 194.7a1.75 1.75 0 1 0 -3.5 0a1.75 1.75 0 1 0 3.5 0M616.55 198.2a1.75 1.75 0 1 0 -3.5 0a1.75 1.75 0 1 0 3.5 0M585.15 198.7a1.75 1.75 0 1 0 -3.5 0a1.75 1.75 0 1 0 3.5 0M574.15 195.9a1.75 1.75 0 1 0 -3.5 0a1.75 1.75 0 1 0 3.5 0M575.95 200.8a1.75 1.75 0 1 0 -3.5 0a1.75 1.75 0 1 0 3.5 0M575.05 205.2a1.75 1.75 0 1 0 -3.5 0a1.75 1.75 0 1 0 3.5 0M567.65 206.1a1.75 1.75 0 1 0 -3.5 0a1.75 1.75 0 1 0 3.5 0M563.65 199.9a1.75 1.75 0 1 0 -3.5 0a1.75 1.75 0 1 0 3.5 0M561.85 207.8a1.75 1.75 0 1 0 -3.5 0a1.75 1.75 0 1 0 3.5 0M557.55 202.6a1.75 1.75 0 1 0 -3.5 0a1.75 1.75 0 1 0 3.5 0M552.25 204.3a1.75 1.75 0 1 0 -3.5 0a1.75 1.75 0 1 0 3.5 0M565.75 223.2a1.75 1.75 0 1 0 -3.5 0a1.75 1.75 0 1 0 3.5 0M586.95 218.3a1.75 1.75 0 1 0 -3.5 0a1.75 1.75 0 1 0 3.5 0M561.05 190.3a1.75 1.75 0 1 0 -3.5 0a1.75 1.75 0 1 0 3.5 0M564.55 192.0a1.75 1.75 0 1 0 -3.5 0a1.75 1.75 0 1 0 3.5 0M568.05 192.9a1.75 1.75 0 1 0 -3.5 0a1.75 1.75 0 1 0 3.5 0M570.65 192.0a1.75 1.75 0 1 0 -3.5 0a1.75 1.75 0 1 0 3.5 0M564.55 195.6a1.75 1.75 0 1 0 -3.5 0a1.75 1.75 0 1 0 3.5 0M557.55 196.4a1.75 1.75 0 1 0 -3.5 0a1.75 1.75 0 1 0 3.5 0M552.25 199.1a1.75 1.75 0 1 0 -3.5 0a1.75 1.75 0 1 0 3.5 0M548.75 200.8a1.75 1.75 0 1 0 -3.5 0a1.75 1.75 0 1 0 3.5 0M519.05 194.5a1.75 1.75 0 1 0 -3.5 0a1.75 1.75 0 1 0 3.5 0M505.95 160.6a1.75 1.75 0 1 0 -3.5 0a1.75 1.75 0 1 0 3.5 0M523.35 168.3a1.75 1.75 0 1 0 -3.5 0a1.75 1.75 0 1 0 3.5 0M519.35 177.6a1.75 1.75 0 1 0 -3.5 0a1.75 1.75 0 1 0 3.5 0M507.25 159.2a1.75 1.75 0 1 0 -3.5 0a1.75 1.75 0 1 0 3.5 0M497.75 187.9a1.75 1.75 0 1 0 -3.5 0a1.75 1.75 0 1 0 3.5 0M507.95 193.3a1.75 1.75 0 1 0 -3.5 0a1.75 1.75 0 1 0 3.5 0M523.25 179.4a1.75 1.75 0 1 0 -3.5 0a1.75 1.75 0 1 0 3.5 0M505.35 179.3a1.75 1.75 0 1 0 -3.5 0a1.75 1.75 0 1 0 3.5 0M494.35 181.2a1.75 1.75 0 1 0 -3.5 0a1.75 1.75 0 1 0 3.5 0M499.65 173.3a1.75 1.75 0 1 0 -3.5 0a1.75 1.75 0 1 0 3.5 0M508.25 169.6a1.75 1.75 0 1 0 -3.5 0a1.75 1.75 0 1 0 3.5 0M495.25 184.7a1.75 1.75 0 1 0 -3.5 0a1.75 1.75 0 1 0 3.5 0M515.35 161.2a1.75 1.75 0 1 0 -3.5 0a1.75 1.75 0 1 0 3.5 0M497.55 169.3a1.75 1.75 0 1 0 -3.5 0a1.75 1.75 0 1 0 3.5 0M503.75 177.6a1.75 1.75 0 1 0 -3.5 0a1.75 1.75 0 1 0 3.5 0M513.05 183.0a1.75 1.75 0 1 0 -3.5 0a1.75 1.75 0 1 0 3.5 0M521.95 177.2a1.75 1.75 0 1 0 -3.5 0a1.75 1.75 0 1 0 3.5 0M490.75 172.3a1.75 1.75 0 1 0 -3.5 0a1.75 1.75 0 1 0 3.5 0M523.65 175.4a1.75 1.75 0 1 0 -3.5 0a1.75 1.75 0 1 0 3.5 0M504.95 183.6a1.75 1.75 0 1 0 -3.5 0a1.75 1.75 0 1 0 3.5 0M489.55 183.9a1.75 1.75 0 1 0 -3.5 0a1.75 1.75 0 1 0 3.5 0M517.95 162.5a1.75 1.75 0 1 0 -3.5 0a1.75 1.75 0 1 0 3.5 0M506.15 192.2a1.75 1.75 0 1 0 -3.5 0a1.75 1.75 0 1 0 3.5 0M499.25 179.2a1.75 1.75 0 1 0 -3.5 0a1.75 1.75 0 1 0 3.5 0M502.95 180.1a1.75 1.75 0 1 0 -3.5 0a1.75 1.75 0 1 0 3.5 0M504.95 171.8a1.75 1.75 0 1 0 -3.5 0a1.75 1.75 0 1 0 3.5 0M528.45 185.7a1.75 1.75 0 1 0 -3.5 0a1.75 1.75 0 1 0 3.5 0M508.25 172.6a1.75 1.75 0 1 0 -3.5 0a1.75 1.75 0 1 0 3.5 0M525.85 172.7a1.75 1.75 0 1 0 -3.5 0a1.75 1.75 0 1 0 3.5 0M517.65 165.1a1.75 1.75 0 1 0 -3.5 0a1.75 1.75 0 1 0 3.5 0M511.65 168.8a1.75 1.75 0 1 0 -3.5 0a1.75 1.75 0 1 0 3.5 0M527.95 172.7a1.75 1.75 0 1 0 -3.5 0a1.75 1.75 0 1 0 3.5 0M529.65 180.7a1.75 1.75 0 1 0 -3.5 0a1.75 1.75 0 1 0 3.5 0M514.95 163.6a1.75 1.75 0 1 0 -3.5 0a1.75 1.75 0 1 0 3.5 0M524.35 183.6a1.75 1.75 0 1 0 -3.5 0a1.75 1.75 0 1 0 3.5 0M516.25 170.2a1.75 1.75 0 1 0 -3.5 0a1.75 1.75 0 1 0 3.5 0M521.35 179.1a1.75 1.75 0 1 0 -3.5 0a1.75 1.75 0 1 0 3.5 0M521.75 185.2a1.75 1.75 0 1 0 -3.5 0a1.75 1.75 0 1 0 3.5 0M524.75 185.8a1.75 1.75 0 1 0 -3.5 0a1.75 1.75 0 1 0 3.5 0M504.65 196.2a1.75 1.75 0 1 0 -3.5 0a1.75 1.75 0 1 0 3.5 0M506.85 178.0a1.75 1.75 0 1 0 -3.5 0a1.75 1.75 0 1 0 3.5 0M524.35 181.8a1.75 1.75 0 1 0 -3.5 0a1.75 1.75 0 1 0 3.5 0M508.25 190.1a1.75 1.75 0 1 0 -3.5 0a1.75 1.75 0 1 0 3.5 0M488.65 174.0a1.75 1.75 0 1 0 -3.5 0a1.75 1.75 0 1 0 3.5 0M498.75 182.3a1.75 1.75 0 1 0 -3.5 0a1.75 1.75 0 1 0 3.5 0M503.35 182.3a1.75 1.75 0 1 0 -3.5 0a1.75 1.75 0 1 0 3.5 0M527.25 174.4a1.75 1.75 0 1 0 -3.5 0a1.75 1.75 0 1 0 3.5 0M501.95 176.9a1.75 1.75 0 1 0 -3.5 0a1.75 1.75 0 1 0 3.5 0M512.95 166.9a1.75 1.75 0 1 0 -3.5 0a1.75 1.75 0 1 0 3.5 0M516.15 183.6a1.75 1.75 0 1 0 -3.5 0a1.75 1.75 0 1 0 3.5 0M500.75 162.1a1.75 1.75 0 1 0 -3.5 0a1.75 1.75 0 1 0 3.5 0M500.45 166.5a1.75 1.75 0 1 0 -3.5 0a1.75 1.75 0 1 0 3.5 0M499.85 187.8a1.75 1.75 0 1 0 -3.5 0a1.75 1.75 0 1 0 3.5 0M523.55 189.9a1.75 1.75 0 1 0 -3.5 0a1.75 1.75 0 1 0 3.5 0M488.85 181.5a1.75 1.75 0 1 0 -3.5 0a1.75 1.75 0 1 0 3.5 0M514.35 175.0a1.75 1.75 0 1 0 -3.5 0a1.75 1.75 0 1 0 3.5 0M508.45 165.5a1.75 1.75 0 1 0 -3.5 0a1.75 1.75 0 1 0 3.5 0M517.35 191.4a1.75 1.75 0 1 0 -3.5 0a1.75 1.75 0 1 0 3.5 0M505.55 188.7a1.75 1.75 0 1 0 -3.5 0a1.75 1.75 0 1 0 3.5 0M493.55 178.2a1.75 1.75 0 1 0 -3.5 0a1.75 1.75 0 1 0 3.5 0M517.85 179.4a1.75 1.75 0 1 0 -3.5 0a1.75 1.75 0 1 0 3.5 0M514.25 179.0a1.75 1.75 0 1 0 -3.5 0a1.75 1.75 0 1 0 3.5 0M526.15 165.4a1.75 1.75 0 1 0 -3.5 0a1.75 1.75 0 1 0 3.5 0M519.45 173.1a1.75 1.75 0 1 0 -3.5 0a1.75 1.75 0 1 0 3.5 0M518.55 185.9a1.75 1.75 0 1 0 -3.5 0a1.75 1.75 0 1 0 3.5 0M519.25 164.1a1.75 1.75 0 1 0 -3.5 0a1.75 1.75 0 1 0 3.5 0M498.35 175.6a1.75 1.75 0 1 0 -3.5 0a1.75 1.75 0 1 0 3.5 0M513.35 161.3a1.75 1.75 0 1 0 -3.5 0a1.75 1.75 0 1 0 3.5 0M510.05 169.6a1.75 1.75 0 1 0 -3.5 0a1.75 1.75 0 1 0 3.5 0M490.45 186.1a1.75 1.75 0 1 0 -3.5 0a1.75 1.75 0 1 0 3.5 0M510.25 176.2a1.75 1.75 0 1 0 -3.5 0a1.75 1.75 0 1 0 3.5 0M521.25 193.8a1.75 1.75 0 1 0 -3.5 0a1.75 1.75 0 1 0 3.5 0M531.15 175.5a1.75 1.75 0 1 0 -3.5 0a1.75 1.75 0 1 0 3.5 0M500.25 191.2a1.75 1.75 0 1 0 -3.5 0a1.75 1.75 0 1 0 3.5 0M508.45 167.9a1.75 1.75 0 1 0 -3.5 0a1.75 1.75 0 1 0 3.5 0M517.75 168.4a1.75 1.75 0 1 0 -3.5 0a1.75 1.75 0 1 0 3.5 0M511.45 193.8a1.75 1.75 0 1 0 -3.5 0a1.75 1.75 0 1 0 3.5 0M506.75 167.2a1.75 1.75 0 1 0 -3.5 0a1.75 1.75 0 1 0 3.5 0M511.45 183.9a1.75 1.75 0 1 0 -3.5 0a1.75 1.75 0 1 0 3.5 0M512.25 187.1a1.75 1.75 0 1 0 -3.5 0a1.75 1.75 0 1 0 3.5 0M504.95 163.9a1.75 1.75 0 1 0 -3.5 0a1.75 1.75 0 1 0 3.5 0M518.75 160.7a1.75 1.75 0 1 0 -3.5 0a1.75 1.75 0 1 0 3.5 0M493.25 186.7a1.75 1.75 0 1 0 -3.5 0a1.75 1.75 0 1 0 3.5 0M510.15 196.7a1.75 1.75 0 1 0 -3.5 0a1.75 1.75 0 1 0 3.5 0M502.85 175.4a1.75 1.75 0 1 0 -3.5 0a1.75 1.75 0 1 0 3.5 0M512.75 180.3a1.75 1.75 0 1 0 -3.5 0a1.75 1.75 0 1 0 3.5 0M492.25 180.6a1.75 1.75 0 1 0 -3.5 0a1.75 1.75 0 1 0 3.5 0M528.65 167.7a1.75 1.75 0 1 0 -3.5 0a1.75 1.75 0 1 0 3.5 0M513.95 189.0a1.75 1.75 0 1 0 -3.5 0a1.75 1.75 0 1 0 3.5 0M490.85 167.3a1.75 1.75 0 1 0 -3.5 0a1.75 1.75 0 1 0 3.5 0M521.35 187.1a1.75 1.75 0 1 0 -3.5 0a1.75 1.75 0 1 0 3.5 0M516.25 167.5a1.75 1.75 0 1 0 -3.5 0a1.75 1.75 0 1 0 3.5 0M514.75 173.1a1.75 1.75 0 1 0 -3.5 0a1.75 1.75 0 1 0 3.5 0M518.25 188.4a1.75 1.75 0 1 0 -3.5 0a1.75 1.75 0 1 0 3.5 0M506.85 195.1a1.75 1.75 0 1 0 -3.5 0a1.75 1.75 0 1 0 3.5 0M496.15 167.8a1.75 1.75 0 1 0 -3.5 0a1.75 1.75 0 1 0 3.5 0M509.25 163.8a1.75 1.75 0 1 0 -3.5 0a1.75 1.75 0 1 0 3.5 0M505.65 186.4a1.75 1.75 0 1 0 -3.5 0a1.75 1.75 0 1 0 3.5 0M499.15 177.1a1.75 1.75 0 1 0 -3.5 0a1.75 1.75 0 1 0 3.5 0M500.75 195.4a1.75 1.75 0 1 0 -3.5 0a1.75 1.75 0 1 0 3.5 0M493.95 174.5a1.75 1.75 0 1 0 -3.5 0a1.75 1.75 0 1 0 3.5 0M526.25 191.0a1.75 1.75 0 1 0 -3.5 0a1.75 1.75 0 1 0 3.5 0M493.45 184.0a1.75 1.75 0 1 0 -3.5 0a1.75 1.75 0 1 0 3.5 0M511.75 172.8a1.75 1.75 0 1 0 -3.5 0a1.75 1.75 0 1 0 3.5 0M519.05 166.8a1.75 1.75 0 1 0 -3.5 0a1.75 1.75 0 1 0 3.5 0M493.85 189.0a1.75 1.75 0 1 0 -3.5 0a1.75 1.75 0 1 0 3.5 0M495.85 190.0a1.75 1.75 0 1 0 -3.5 0a1.75 1.75 0 1 0 3.5 0M521.25 175.5a1.75 1.75 0 1 0 -3.5 0a1.75 1.75 0 1 0 3.5 0M503.95 168.6a1.75 1.75 0 1 0 -3.5 0a1.75 1.75 0 1 0 3.5 0M506.75 164.1a1.75 1.75 0 1 0 -3.5 0a1.75 1.75 0 1 0 3.5 0M497.85 164.3a1.75 1.75 0 1 0 -3.5 0a1.75 1.75 0 1 0 3.5 0M506.35 175.5a1.75 1.75 0 1 0 -3.5 0a1.75 1.75 0 1 0 3.5 0M526.05 169.4a1.75 1.75 0 1 0 -3.5 0a1.75 1.75 0 1 0 3.5 0M488.65 179.3a1.75 1.75 0 1 0 -3.5 0a1.75 1.75 0 1 0 3.5 0M513.25 170.2a1.75 1.75 0 1 0 -3.5 0a1.75 1.75 0 1 0 3.5 0M515.25 193.4a1.75 1.75 0 1 0 -3.5 0a1.75 1.75 0 1 0 3.5 0M508.85 186.5a1.75 1.75 0 1 0 -3.5 0a1.75 1.75 0 1 0 3.5 0M504.15 158.7a1.75 1.75 0 1 0 -3.5 0a1.75 1.75 0 1 0 3.5 0M521.75 167.3a1.75 1.75 0 1 0 -3.5 0a1.75 1.75 0 1 0 3.5 0M496.15 192.1a1.75 1.75 0 1 0 -3.5 0a1.75 1.75 0 1 0 3.5 0M512.65 163.4a1.75 1.75 0 1 0 -3.5 0a1.75 1.75 0 1 0 3.5 0M510.65 188.9a1.75 1.75 0 1 0 -3.5 0a1.75 1.75 0 1 0 3.5 0M513.95 185.1a1.75 1.75 0 1 0 -3.5 0a1.75 1.75 0 1 0 3.5 0M514.25 194.9a1.75 1.75 0 1 0 -3.5 0a1.75 1.75 0 1 0 3.5 0M505.15 173.8a1.75 1.75 0 1 0 -3.5 0a1.75 1.75 0 1 0 3.5 0M524.35 170.4a1.75 1.75 0 1 0 -3.5 0a1.75 1.75 0 1 0 3.5 0M514.25 196.9a1.75 1.75 0 1 0 -3.5 0a1.75 1.75 0 1 0 3.5 0M497.15 173.7a1.75 1.75 0 1 0 -3.5 0a1.75 1.75 0 1 0 3.5 0M521.65 180.9a1.75 1.75 0 1 0 -3.5 0a1.75 1.75 0 1 0 3.5 0M499.85 193.0a1.75 1.75 0 1 0 -3.5 0a1.75 1.75 0 1 0 3.5 0M492.95 191.1a1.75 1.75 0 1 0 -3.5 0a1.75 1.75 0 1 0 3.5 0M492.45 165.3a1.75 1.75 0 1 0 -3.5 0a1.75 1.75 0 1 0 3.5 0M488.85 176.8a1.75 1.75 0 1 0 -3.5 0a1.75 1.75 0 1 0 3.5 0M507.55 179.8a1.75 1.75 0 1 0 -3.5 0a1.75 1.75 0 1 0 3.5 0M510.55 182.0a1.75 1.75 0 1 0 -3.5 0a1.75 1.75 0 1 0 3.5 0M502.65 184.0a1.75 1.75 0 1 0 -3.5 0a1.75 1.75 0 1 0 3.5 0M517.45 173.4a1.75 1.75 0 1 0 -3.5 0a1.75 1.75 0 1 0 3.5 0M497.95 162.0a1.75 1.75 0 1 0 -3.5 0a1.75 1.75 0 1 0 3.5 0M500.15 169.9a1.75 1.75 0 1 0 -3.5 0a1.75 1.75 0 1 0 3.5 0M530.65 179.1a1.75 1.75 0 1 0 -3.5 0a1.75 1.75 0 1 0 3.5 0M511.85 190.6a1.75 1.75 0 1 0 -3.5 0a1.75 1.75 0 1 0 3.5 0M510.75 178.5a1.75 1.75 0 1 0 -3.5 0a1.75 1.75 0 1 0 3.5 0M503.15 165.4a1.75 1.75 0 1 0 -3.5 0a1.75 1.75 0 1 0 3.5 0M500.25 159.6a1.75 1.75 0 1 0 -3.5 0a1.75 1.75 0 1 0 3.5 0M506.05 180.9a1.75 1.75 0 1 0 -3.5 0a1.75 1.75 0 1 0 3.5 0M507.65 182.9a1.75 1.75 0 1 0 -3.5 0a1.75 1.75 0 1 0 3.5 0M498.85 195.2a1.75 1.75 0 1 0 -3.5 0a1.75 1.75 0 1 0 3.5 0M490.35 178.1a1.75 1.75 0 1 0 -3.5 0a1.75 1.75 0 1 0 3.5 0M514.55 187.4a1.75 1.75 0 1 0 -3.5 0a1.75 1.75 0 1 0 3.5 0M517.65 175.4a1.75 1.75 0 1 0 -3.5 0a1.75 1.75 0 1 0 3.5 0M517.05 177.3a1.75 1.75 0 1 0 -3.5 0a1.75 1.75 0 1 0 3.5 0M509.45 184.5a1.75 1.75 0 1 0 -3.5 0a1.75 1.75 0 1 0 3.5 0M516.75 186.4a1.75 1.75 0 1 0 -3.5 0a1.75 1.75 0 1 0 3.5 0M516.15 188.6a1.75 1.75 0 1 0 -3.5 0a1.75 1.75 0 1 0 3.5 0M491.55 169.5a1.75 1.75 0 1 0 -3.5 0a1.75 1.75 0 1 0 3.5 0M517.05 160.3a1.75 1.75 0 1 0 -3.5 0a1.75 1.75 0 1 0 3.5 0M501.45 181.3a1.75 1.75 0 1 0 -3.5 0a1.75 1.75 0 1 0 3.5 0M501.85 172.1a1.75 1.75 0 1 0 -3.5 0a1.75 1.75 0 1 0 3.5 0M528.15 189.9a1.75 1.75 0 1 0 -3.5 0a1.75 1.75 0 1 0 3.5 0M498.35 171.8a1.75 1.75 0 1 0 -3.5 0a1.75 1.75 0 1 0 3.5 0M498.35 167.5a1.75 1.75 0 1 0 -3.5 0a1.75 1.75 0 1 0 3.5 0M526.25 189.3a1.75 1.75 0 1 0 -3.5 0a1.75 1.75 0 1 0 3.5 0M496.35 177.5a1.75 1.75 0 1 0 -3.5 0a1.75 1.75 0 1 0 3.5 0M513.65 158.4a1.75 1.75 0 1 0 -3.5 0a1.75 1.75 0 1 0 3.5 0M502.95 161.4a1.75 1.75 0 1 0 -3.5 0a1.75 1.75 0 1 0 3.5 0M520.35 188.9a1.75 1.75 0 1 0 -3.5 0a1.75 1.75 0 1 0 3.5 0M520.15 161.9a1.75 1.75 0 1 0 -3.5 0a1.75 1.75 0 1 0 3.5 0M530.25 185.5a1.75 1.75 0 1 0 -3.5 0a1.75 1.75 0 1 0 3.5 0M509.95 173.8a1.75 1.75 0 1 0 -3.5 0a1.75 1.75 0 1 0 3.5 0M518.75 184.0a1.75 1.75 0 1 0 -3.5 0a1.75 1.75 0 1 0 3.5 0M529.25 187.9a1.75 1.75 0 1 0 -3.5 0a1.75 1.75 0 1 0 3.5 0M516.75 181.8a1.75 1.75 0 1 0 -3.5 0a1.75 1.75 0 1 0 3.5 0M498.75 185.0a1.75 1.75 0 1 0 -3.5 0a1.75 1.75 0 1 0 3.5 0M527.65 183.0a1.75 1.75 0 1 0 -3.5 0a1.75 1.75 0 1 0 3.5 0M494.45 165.5a1.75 1.75 0 1 0 -3.5 0a1.75 1.75 0 1 0 3.5 0M526.65 176.5a1.75 1.75 0 1 0 -3.5 0a1.75 1.75 0 1 0 3.5 0M518.15 170.5a1.75 1.75 0 1 0 -3.5 0a1.75 1.75 0 1 0 3.5 0M492.35 173.4a1.75 1.75 0 1 0 -3.5 0a1.75 1.75 0 1 0 3.5 0M507.65 197.5a1.75 1.75 0 1 0 -3.5 0a1.75 1.75 0 1 0 3.5 0M497.05 182.9a1.75 1.75 0 1 0 -3.5 0a1.75 1.75 0 1 0 3.5 0M523.25 163.5a1.75 1.75 0 1 0 -3.5 0a1.75 1.75 0 1 0 3.5 0M503.85 186.9a1.75 1.75 0 1 0 -3.5 0a1.75 1.75 0 1 0 3.5 0M495.15 179.0a1.75 1.75 0 1 0 -3.5 0a1.75 1.75 0 1 0 3.5 0M522.55 192.5a1.75 1.75 0 1 0 -3.5 0a1.75 1.75 0 1 0 3.5 0M525.95 178.6a1.75 1.75 0 1 0 -3.5 0a1.75 1.75 0 1 0 3.5 0M502.85 194.3a1.75 1.75 0 1 0 -3.5 0a1.75 1.75 0 1 0 3.5 0M496.95 180.2a1.75 1.75 0 1 0 -3.5 0a1.75 1.75 0 1 0 3.5 0M496.05 175.8a1.75 1.75 0 1 0 -3.5 0a1.75 1.75 0 1 0 3.5 0M520.65 170.9a1.75 1.75 0 1 0 -3.5 0a1.75 1.75 0 1 0 3.5 0M492.05 202.2a1.75 1.75 0 1 0 -3.5 0a1.75 1.75 0 1 0 3.5 0M495.05 208.4a1.75 1.75 0 1 0 -3.5 0a1.75 1.75 0 1 0 3.5 0M485.15 207.1a1.75 1.75 0 1 0 -3.5 0a1.75 1.75 0 1 0 3.5 0M487.25 213.1a1.75 1.75 0 1 0 -3.5 0a1.75 1.75 0 1 0 3.5 0M482.75 221.0a1.75 1.75 0 1 0 -3.5 0a1.75 1.75 0 1 0 3.5 0M488.15 210.8a1.75 1.75 0 1 0 -3.5 0a1.75 1.75 0 1 0 3.5 0M492.25 197.4a1.75 1.75 0 1 0 -3.5 0a1.75 1.75 0 1 0 3.5 0M489.85 215.2a1.75 1.75 0 1 0 -3.5 0a1.75 1.75 0 1 0 3.5 0M496.65 214.8a1.75 1.75 0 1 0 -3.5 0a1.75 1.75 0 1 0 3.5 0M494.05 198.5a1.75 1.75 0 1 0 -3.5 0a1.75 1.75 0 1 0 3.5 0M487.55 208.7a1.75 1.75 0 1 0 -3.5 0a1.75 1.75 0 1 0 3.5 0M480.25 210.2a1.75 1.75 0 1 0 -3.5 0a1.75 1.75 0 1 0 3.5 0M484.15 199.4a1.75 1.75 0 1 0 -3.5 0a1.75 1.75 0 1 0 3.5 0M495.35 211.4a1.75 1.75 0 1 0 -3.5 0a1.75 1.75 0 1 0 3.5 0M491.25 218.6a1.75 1.75 0 1 0 -3.5 0a1.75 1.75 0 1 0 3.5 0M479.25 205.2a1.75 1.75 0 1 0 -3.5 0a1.75 1.75 0 1 0 3.5 0M483.05 211.1a1.75 1.75 0 1 0 -3.5 0a1.75 1.75 0 1 0 3.5 0M487.25 219.9a1.75 1.75 0 1 0 -3.5 0a1.75 1.75 0 1 0 3.5 0M483.35 202.3a1.75 1.75 0 1 0 -3.5 0a1.75 1.75 0 1 0 3.5 0M499.75 214.5a1.75 1.75 0 1 0 -3.5 0a1.75 1.75 0 1 0 3.5 0M488.05 205.1a1.75 1.75 0 1 0 -3.5 0a1.75 1.75 0 1 0 3.5 0M495.05 201.1a1.75 1.75 0 1 0 -3.5 0a1.75 1.75 0 1 0 3.5 0M484.75 216.6a1.75 1.75 0 1 0 -3.5 0a1.75 1.75 0 1 0 3.5 0M494.25 206.2a1.75 1.75 0 1 0 -3.5 0a1.75 1.75 0 1 0 3.5 0M481.15 218.0a1.75 1.75 0 1 0 -3.5 0a1.75 1.75 0 1 0 3.5 0M486.65 202.0a1.75 1.75 0 1 0 -3.5 0a1.75 1.75 0 1 0 3.5 0M490.35 220.7a1.75 1.75 0 1 0 -3.5 0a1.75 1.75 0 1 0 3.5 0M480.05 201.8a1.75 1.75 0 1 0 -3.5 0a1.75 1.75 0 1 0 3.5 0M500.95 204.9a1.75 1.75 0 1 0 -3.5 0a1.75 1.75 0 1 0 3.5 0M490.05 208.9a1.75 1.75 0 1 0 -3.5 0a1.75 1.75 0 1 0 3.5 0M482.15 208.2a1.75 1.75 0 1 0 -3.5 0a1.75 1.75 0 1 0 3.5 0M498.95 204.1a1.75 1.75 0 1 0 -3.5 0a1.75 1.75 0 1 0 3.5 0M488.85 216.9a1.75 1.75 0 1 0 -3.5 0a1.75 1.75 0 1 0 3.5 0M483.85 205.0a1.75 1.75 0 1 0 -3.5 0a1.75 1.75 0 1 0 3.5 0M498.05 212.5a1.75 1.75 0 1 0 -3.5 0a1.75 1.75 0 1 0 3.5 0M489.45 195.4a1.75 1.75 0 1 0 -3.5 0a1.75 1.75 0 1 0 3.5 0M487.85 221.9a1.75 1.75 0 1 0 -3.5 0a1.75 1.75 0 1 0 3.5 0M481.35 199.6a1.75 1.75 0 1 0 -3.5 0a1.75 1.75 0 1 0 3.5 0M488.05 199.7a1.75 1.75 0 1 0 -3.5 0a1.75 1.75 0 1 0 3.5 0M481.15 195.3a1.75 1.75 0 1 0 -3.5 0a1.75 1.75 0 1 0 3.5 0M490.45 199.8a1.75 1.75 0 1 0 -3.5 0a1.75 1.75 0 1 0 3.5 0M493.95 216.8a1.75 1.75 0 1 0 -3.5 0a1.75 1.75 0 1 0 3.5 0M489.35 212.7a1.75 1.75 0 1 0 -3.5 0a1.75 1.75 0 1 0 3.5 0M495.35 203.8a1.75 1.75 0 1 0 -3.5 0a1.75 1.75 0 1 0 3.5 0M499.65 209.9a1.75 1.75 0 1 0 -3.5 0a1.75 1.75 0 1 0 3.5 0M493.05 220.6a1.75 1.75 0 1 0 -3.5 0a1.75 1.75 0 1 0 3.5 0M484.15 214.2a1.75 1.75 0 1 0 -3.5 0a1.75 1.75 0 1 0 3.5 0M481.85 212.8a1.75 1.75 0 1 0 -3.5 0a1.75 1.75 0 1 0 3.5 0M493.45 212.1a1.75 1.75 0 1 0 -3.5 0a1.75 1.75 0 1 0 3.5 0M499.05 206.1a1.75 1.75 0 1 0 -3.5 0a1.75 1.75 0 1 0 3.5 0M486.85 196.0a1.75 1.75 0 1 0 -3.5 0a1.75 1.75 0 1 0 3.5 0M492.95 209.9a1.75 1.75 0 1 0 -3.5 0a1.75 1.75 0 1 0 3.5 0M481.15 163.0a1.75 1.75 0 1 0 -3.5 0a1.75 1.75 0 1 0 3.5 0M497.35 198.6a1.75 1.75 0 1 0 -3.5 0a1.75 1.75 0 1 0 3.5 0M492.65 193.5a1.75 1.75 0 1 0 -3.5 0a1.75 1.75 0 1 0 3.5 0M525.45 161.1a1.75 1.75 0 1 0 -3.5 0a1.75 1.75 0 1 0 3.5 0M539.75 147.4a1.75 1.75 0 1 0 -3.5 0a1.75 1.75 0 1 0 3.5 0M533.25 160.0a1.75 1.75 0 1 0 -3.5 0a1.75 1.75 0 1 0 3.5 0M556.25 164.7a1.75 1.75 0 1 0 -3.5 0a1.75 1.75 0 1 0 3.5 0M532.65 144.9a1.75 1.75 0 1 0 -3.5 0a1.75 1.75 0 1 0 3.5 0M554.75 184.8a1.75 1.75 0 1 0 -3.5 0a1.75 1.75 0 1 0 3.5 0M552.75 192.1a1.75 1.75 0 1 0 -3.5 0a1.75 1.75 0 1 0 3.5 0M482.65 192.1a1.75 1.75 0 1 0 -3.5 0a1.75 1.75 0 1 0 3.5 0M508.95 156.2a1.75 1.75 0 1 0 -3.5 0a1.75 1.75 0 1 0 3.5 0M550.75 186.8a1.75 1.75 0 1 0 -3.5 0a1.75 1.75 0 1 0 3.5 0M506.35 147.7a1.75 1.75 0 1 0 -3.5 0a1.75 1.75 0 1 0 3.5 0M530.95 146.9a1.75 1.75 0 1 0 -3.5 0a1.75 1.75 0 1 0 3.5 0M497.35 146.2a1.75 1.75 0 1 0 -3.5 0a1.75 1.75 0 1 0 3.5 0M538.15 185.5a1.75 1.75 0 1 0 -3.5 0a1.75 1.75 0 1 0 3.5 0M527.35 152.2a1.75 1.75 0 1 0 -3.5 0a1.75 1.75 0 1 0 3.5 0M521.25 155.4a1.75 1.75 0 1 0 -3.5 0a1.75 1.75 0 1 0 3.5 0M484.85 159.9a1.75 1.75 0 1 0 -3.5 0a1.75 1.75 0 1 0 3.5 0M541.65 163.3a1.75 1.75 0 1 0 -3.5 0a1.75 1.75 0 1 0 3.5 0M544.15 193.4a1.75 1.75 0 1 0 -3.5 0a1.75 1.75 0 1 0 3.5 0M558.25 189.1a1.75 1.75 0 1 0 -3.5 0a1.75 1.75 0 1 0 3.5 0M480.05 157.1a1.75 1.75 0 1 0 -3.5 0a1.75 1.75 0 1 0 3.5 0M493.65 147.6a1.75 1.75 0 1 0 -3.5 0a1.75 1.75 0 1 0 3.5 0M542.05 172.8a1.75 1.75 0 1 0 -3.5 0a1.75 1.75 0 1 0 3.5 0M541.85 203.3a1.75 1.75 0 1 0 -3.5 0a1.75 1.75 0 1 0 3.5 0M505.05 204.9a1.75 1.75 0 1 0 -3.5 0a1.75 1.75 0 1 0 3.5 0M537.05 197.7a1.75 1.75 0 1 0 -3.5 0a1.75 1.75 0 1 0 3.5 0M489.25 154.4a1.75 1.75 0 1 0 -3.5 0a1.75 1.75 0 1 0 3.5 0M533.05 190.3a1.75 1.75 0 1 0 -3.5 0a1.75 1.75 0 1 0 3.5 0M543.95 158.4a1.75 1.75 0 1 0 -3.5 0a1.75 1.75 0 1 0 3.5 0M518.45 143.3a1.75 1.75 0 1 0 -3.5 0a1.75 1.75 0 1 0 3.5 0M533.85 157.6a1.75 1.75 0 1 0 -3.5 0a1.75 1.75 0 1 0 3.5 0M532.15 169.4a1.75 1.75 0 1 0 -3.5 0a1.75 1.75 0 1 0 3.5 0M531.25 197.3a1.75 1.75 0 1 0 -3.5 0a1.75 1.75 0 1 0 3.5 0M533.45 200.0a1.75 1.75 0 1 0 -3.5 0a1.75 1.75 0 1 0 3.5 0M532.35 194.4a1.75 1.75 0 1 0 -3.5 0a1.75 1.75 0 1 0 3.5 0M546.45 182.3a1.75 1.75 0 1 0 -3.5 0a1.75 1.75 0 1 0 3.5 0M497.15 148.7a1.75 1.75 0 1 0 -3.5 0a1.75 1.75 0 1 0 3.5 0M486.85 168.9a1.75 1.75 0 1 0 -3.5 0a1.75 1.75 0 1 0 3.5 0M545.65 160.7a1.75 1.75 0 1 0 -3.5 0a1.75 1.75 0 1 0 3.5 0M495.85 156.5a1.75 1.75 0 1 0 -3.5 0a1.75 1.75 0 1 0 3.5 0M543.95 200.1a1.75 1.75 0 1 0 -3.5 0a1.75 1.75 0 1 0 3.5 0M548.55 147.8a1.75 1.75 0 1 0 -3.5 0a1.75 1.75 0 1 0 3.5 0M535.25 178.0a1.75 1.75 0 1 0 -3.5 0a1.75 1.75 0 1 0 3.5 0M504.75 152.9a1.75 1.75 0 1 0 -3.5 0a1.75 1.75 0 1 0 3.5 0M487.15 190.0a1.75 1.75 0 1 0 -3.5 0a1.75 1.75 0 1 0 3.5 0M544.25 152.1a1.75 1.75 0 1 0 -3.5 0a1.75 1.75 0 1 0 3.5 0M521.85 196.5a1.75 1.75 0 1 0 -3.5 0a1.75 1.75 0 1 0 3.5 0M553.85 194.6a1.75 1.75 0 1 0 -3.5 0a1.75 1.75 0 1 0 3.5 0M550.85 166.3a1.75 1.75 0 1 0 -3.5 0a1.75 1.75 0 1 0 3.5 0M557.85 179.6a1.75 1.75 0 1 0 -3.5 0a1.75 1.75 0 1 0 3.5 0M520.45 157.9a1.75 1.75 0 1 0 -3.5 0a1.75 1.75 0 1 0 3.5 0M550.75 170.7a1.75 1.75 0 1 0 -3.5 0a1.75 1.75 0 1 0 3.5 0M545.45 171.0a1.75 1.75 0 1 0 -3.5 0a1.75 1.75 0 1 0 3.5 0M541.15 166.0a1.75 1.75 0 1 0 -3.5 0a1.75 1.75 0 1 0 3.5 0M529.05 163.0a1.75 1.75 0 1 0 -3.5 0a1.75 1.75 0 1 0 3.5 0M541.25 189.5a1.75 1.75 0 1 0 -3.5 0a1.75 1.75 0 1 0 3.5 0M527.75 154.5a1.75 1.75 0 1 0 -3.5 0a1.75 1.75 0 1 0 3.5 0M518.85 198.0a1.75 1.75 0 1 0 -3.5 0a1.75 1.75 0 1 0 3.5 0M542.05 182.0a1.75 1.75 0 1 0 -3.5 0a1.75 1.75 0 1 0 3.5 0M479.25 159.7a1.75 1.75 0 1 0 -3.5 0a1.75 1.75 0 1 0 3.5 0M553.95 160.9a1.75 1.75 0 1 0 -3.5 0a1.75 1.75 0 1 0 3.5 0M498.15 151.1a1.75 1.75 0 1 0 -3.5 0a1.75 1.75 0 1 0 3.5 0M504.85 149.8a1.75 1.75 0 1 0 -3.5 0a1.75 1.75 0 1 0 3.5 0M518.05 146.8a1.75 1.75 0 1 0 -3.5 0a1.75 1.75 0 1 0 3.5 0M552.55 159.2a1.75 1.75 0 1 0 -3.5 0a1.75 1.75 0 1 0 3.5 0M540.85 156.5a1.75 1.75 0 1 0 -3.5 0a1.75 1.75 0 1 0 3.5 0M499.95 152.0a1.75 1.75 0 1 0 -3.5 0a1.75 1.75 0 1 0 3.5 0M491.25 151.1a1.75 1.75 0 1 0 -3.5 0a1.75 1.75 0 1 0 3.5 0M534.15 185.1a1.75 1.75 0 1 0 -3.5 0a1.75 1.75 0 1 0 3.5 0M552.75 178.2a1.75 1.75 0 1 0 -3.5 0a1.75 1.75 0 1 0 3.5 0M508.65 207.7a1.75 1.75 0 1 0 -3.5 0a1.75 1.75 0 1 0 3.5 0M548.35 153.2a1.75 1.75 0 1 0 -3.5 0a1.75 1.75 0 1 0 3.5 0M547.85 171.8a1.75 1.75 0 1 0 -3.5 0a1.75 1.75 0 1 0 3.5 0M542.75 169.1a1.75 1.75 0 1 0 -3.5 0a1.75 1.75 0 1 0 3.5 0M556.15 191.9a1.75 1.75 0 1 0 -3.5 0a1.75 1.75 0 1 0 3.5 0M502.15 201.3a1.75 1.75 0 1 0 -3.5 0a1.75 1.75 0 1 0 3.5 0M555.45 156.4a1.75 1.75 0 1 0 -3.5 0a1.75 1.75 0 1 0 3.5 0M491.35 154.3a1.75 1.75 0 1 0 -3.5 0a1.75 1.75 0 1 0 3.5 0M480.65 165.6a1.75 1.75 0 1 0 -3.5 0a1.75 1.75 0 1 0 3.5 0M517.25 202.7a1.75 1.75 0 1 0 -3.5 0a1.75 1.75 0 1 0 3.5 0M548.25 175.6a1.75 1.75 0 1 0 -3.5 0a1.75 1.75 0 1 0 3.5 0M524.95 198.6a1.75 1.75 0 1 0 -3.5 0a1.75 1.75 0 1 0 3.5 0M539.95 178.6a1.75 1.75 0 1 0 -3.5 0a1.75 1.75 0 1 0 3.5 0M516.15 151.4a1.75 1.75 0 1 0 -3.5 0a1.75 1.75 0 1 0 3.5 0M536.05 202.5a1.75 1.75 0 1 0 -3.5 0a1.75 1.75 0 1 0 3.5 0M513.95 147.7a1.75 1.75 0 1 0 -3.5 0a1.75 1.75 0 1 0 3.5 0M555.95 188.6a1.75 1.75 0 1 0 -3.5 0a1.75 1.75 0 1 0 3.5 0M509.55 146.3a1.75 1.75 0 1 0 -3.5 0a1.75 1.75 0 1 0 3.5 0M532.05 162.6a1.75 1.75 0 1 0 -3.5 0a1.75 1.75 0 1 0 3.5 0M559.45 178.3a1.75 1.75 0 1 0 -3.5 0a1.75 1.75 0 1 0 3.5 0M494.45 158.7a1.75 1.75 0 1 0 -3.5 0a1.75 1.75 0 1 0 3.5 0M489.45 156.8a1.75 1.75 0 1 0 -3.5 0a1.75 1.75 0 1 0 3.5 0M512.05 154.2a1.75 1.75 0 1 0 -3.5 0a1.75 1.75 0 1 0 3.5 0M481.75 174.6a1.75 1.75 0 1 0 -3.5 0a1.75 1.75 0 1 0 3.5 0M550.65 183.6a1.75 1.75 0 1 0 -3.5 0a1.75 1.75 0 1 0 3.5 0M482.15 153.3a1.75 1.75 0 1 0 -3.5 0a1.75 1.75 0 1 0 3.5 0M495.15 145.8a1.75 1.75 0 1 0 -3.5 0a1.75 1.75 0 1 0 3.5 0M534.55 167.3a1.75 1.75 0 1 0 -3.5 0a1.75 1.75 0 1 0 3.5 0M501.65 148.5a1.75 1.75 0 1 0 -3.5 0a1.75 1.75 0 1 0 3.5 0M516.45 198.9a1.75 1.75 0 1 0 -3.5 0a1.75 1.75 0 1 0 3.5 0M554.55 173.7a1.75 1.75 0 1 0 -3.5 0a1.75 1.75 0 1 0 3.5 0M512.55 206.2a1.75 1.75 0 1 0 -3.5 0a1.75 1.75 0 1 0 3.5 0M548.55 204.2a1.75 1.75 0 1 0 -3.5 0a1.75 1.75 0 1 0 3.5 0M500.25 154.8a1.75 1.75 0 1 0 -3.5 0a1.75 1.75 0 1 0 3.5 0M554.85 166.3a1.75 1.75 0 1 0 -3.5 0a1.75 1.75 0 1 0 3.5 0M543.65 202.2a1.75 1.75 0 1 0 -3.5 0a1.75 1.75 0 1 0 3.5 0M519.85 204.6a1.75 1.75 0 1 0 -3.5 0a1.75 1.75 0 1 0 3.5 0M528.05 200.5a1.75 1.75 0 1 0 -3.5 0a1.75 1.75 0 1 0 3.5 0M552.95 180.7a1.75 1.75 0 1 0 -3.5 0a1.75 1.75 0 1 0 3.5 0M542.85 196.3a1.75 1.75 0 1 0 -3.5 0a1.75 1.75 0 1 0 3.5 0M534.45 172.0a1.75 1.75 0 1 0 -3.5 0a1.75 1.75 0 1 0 3.5 0M522.95 199.2a1.75 1.75 0 1 0 -3.5 0a1.75 1.75 0 1 0 3.5 0M486.65 152.3a1.75 1.75 0 1 0 -3.5 0a1.75 1.75 0 1 0 3.5 0M526.25 194.2a1.75 1.75 0 1 0 -3.5 0a1.75 1.75 0 1 0 3.5 0M552.95 153.2a1.75 1.75 0 1 0 -3.5 0a1.75 1.75 0 1 0 3.5 0M508.65 152.5a1.75 1.75 0 1 0 -3.5 0a1.75 1.75 0 1 0 3.5 0M518.85 154.4a1.75 1.75 0 1 0 -3.5 0a1.75 1.75 0 1 0 3.5 0M549.35 188.3a1.75 1.75 0 1 0 -3.5 0a1.75 1.75 0 1 0 3.5 0M556.15 159.5a1.75 1.75 0 1 0 -3.5 0a1.75 1.75 0 1 0 3.5 0M487.35 165.5a1.75 1.75 0 1 0 -3.5 0a1.75 1.75 0 1 0 3.5 0M503.05 204.2a1.75 1.75 0 1 0 -3.5 0a1.75 1.75 0 1 0 3.5 0M558.25 193.0a1.75 1.75 0 1 0 -3.5 0a1.75 1.75 0 1 0 3.5 0M482.95 165.1a1.75 1.75 0 1 0 -3.5 0a1.75 1.75 0 1 0 3.5 0M514.35 199.2a1.75 1.75 0 1 0 -3.5 0a1.75 1.75 0 1 0 3.5 0M515.05 205.8a1.75 1.75 0 1 0 -3.5 0a1.75 1.75 0 1 0 3.5 0M485.75 172.2a1.75 1.75 0 1 0 -3.5 0a1.75 1.75 0 1 0 3.5 0M546.15 153.2a1.75 1.75 0 1 0 -3.5 0a1.75 1.75 0 1 0 3.5 0M483.15 156.6a1.75 1.75 0 1 0 -3.5 0a1.75 1.75 0 1 0 3.5 0M536.15 208.2a1.75 1.75 0 1 0 -3.5 0a1.75 1.75 0 1 0 3.5 0M481.85 189.4a1.75 1.75 0 1 0 -3.5 0a1.75 1.75 0 1 0 3.5 0M542.85 154.8a1.75 1.75 0 1 0 -3.5 0a1.75 1.75 0 1 0 3.5 0M542.55 147.6a1.75 1.75 0 1 0 -3.5 0a1.75 1.75 0 1 0 3.5 0M490.05 149.0a1.75 1.75 0 1 0 -3.5 0a1.75 1.75 0 1 0 3.5 0M523.05 153.9a1.75 1.75 0 1 0 -3.5 0a1.75 1.75 0 1 0 3.5 0M504.95 207.0a1.75 1.75 0 1 0 -3.5 0a1.75 1.75 0 1 0 3.5 0M533.85 207.0a1.75 1.75 0 1 0 -3.5 0a1.75 1.75 0 1 0 3.5 0M505.95 156.3a1.75 1.75 0 1 0 -3.5 0a1.75 1.75 0 1 0 3.5 0M518.85 156.5a1.75 1.75 0 1 0 -3.5 0a1.75 1.75 0 1 0 3.5 0M479.85 171.2a1.75 1.75 0 1 0 -3.5 0a1.75 1.75 0 1 0 3.5 0M494.35 154.0a1.75 1.75 0 1 0 -3.5 0a1.75 1.75 0 1 0 3.5 0M526.05 205.5a1.75 1.75 0 1 0 -3.5 0a1.75 1.75 0 1 0 3.5 0M554.65 171.3a1.75 1.75 0 1 0 -3.5 0a1.75 1.75 0 1 0 3.5 0M513.05 202.3a1.75 1.75 0 1 0 -3.5 0a1.75 1.75 0 1 0 3.5 0M550.85 162.0a1.75 1.75 0 1 0 -3.5 0a1.75 1.75 0 1 0 3.5 0M502.65 146.6a1.75 1.75 0 1 0 -3.5 0a1.75 1.75 0 1 0 3.5 0M486.25 182.6a1.75 1.75 0 1 0 -3.5 0a1.75 1.75 0 1 0 3.5 0M535.95 143.9a1.75 1.75 0 1 0 -3.5 0a1.75 1.75 0 1 0 3.5 0M546.45 186.7a1.75 1.75 0 1 0 -3.5 0a1.75 1.75 0 1 0 3.5 0M496.15 196.7a1.75 1.75 0 1 0 -3.5 0a1.75 1.75 0 1 0 3.5 0M539.75 175.1a1.75 1.75 0 1 0 -3.5 0a1.75 1.75 0 1 0 3.5 0M512.75 151.0a1.75 1.75 0 1 0 -3.5 0a1.75 1.75 0 1 0 3.5 0M554.15 176.5a1.75 1.75 0 1 0 -3.5 0a1.75 1.75 0 1 0 3.5 0M547.85 161.0a1.75 1.75 0 1 0 -3.5 0a1.75 1.75 0 1 0 3.5 0M533.85 153.4a1.75 1.75 0 1 0 -3.5 0a1.75 1.75 0 1 0 3.5 0M559.35 186.9a1.75 1.75 0 1 0 -3.5 0a1.75 1.75 0 1 0 3.5 0M487.25 192.3a1.75 1.75 0 1 0 -3.5 0a1.75 1.75 0 1 0 3.5 0M504.45 145.3a1.75 1.75 0 1 0 -3.5 0a1.75 1.75 0 1 0 3.5 0M503.55 156.6a1.75 1.75 0 1 0 -3.5 0a1.75 1.75 0 1 0 3.5 0M538.85 156.7a1.75 1.75 0 1 0 -3.5 0a1.75 1.75 0 1 0 3.5 0M552.75 163.9a1.75 1.75 0 1 0 -3.5 0a1.75 1.75 0 1 0 3.5 0M494.95 194.9a1.75 1.75 0 1 0 -3.5 0a1.75 1.75 0 1 0 3.5 0M519.85 148.0a1.75 1.75 0 1 0 -3.5 0a1.75 1.75 0 1 0 3.5 0M519.55 202.6a1.75 1.75 0 1 0 -3.5 0a1.75 1.75 0 1 0 3.5 0M523.45 158.1a1.75 1.75 0 1 0 -3.5 0a1.75 1.75 0 1 0 3.5 0M539.65 196.0a1.75 1.75 0 1 0 -3.5 0a1.75 1.75 0 1 0 3.5 0M536.05 193.8a1.75 1.75 0 1 0 -3.5 0a1.75 1.75 0 1 0 3.5 0M530.05 151.6a1.75 1.75 0 1 0 -3.5 0a1.75 1.75 0 1 0 3.5 0M529.45 160.3a1.75 1.75 0 1 0 -3.5 0a1.75 1.75 0 1 0 3.5 0M527.05 203.0a1.75 1.75 0 1 0 -3.5 0a1.75 1.75 0 1 0 3.5 0M541.35 187.2a1.75 1.75 0 1 0 -3.5 0a1.75 1.75 0 1 0 3.5 0M522.45 201.7a1.75 1.75 0 1 0 -3.5 0a1.75 1.75 0 1 0 3.5 0M557.25 157.6a1.75 1.75 0 1 0 -3.5 0a1.75 1.75 0 1 0 3.5 0M528.35 149.7a1.75 1.75 0 1 0 -3.5 0a1.75 1.75 0 1 0 3.5 0M555.75 178.3a1.75 1.75 0 1 0 -3.5 0a1.75 1.75 0 1 0 3.5 0M479.45 189.3a1.75 1.75 0 1 0 -3.5 0a1.75 1.75 0 1 0 3.5 0M550.75 193.6a1.75 1.75 0 1 0 -3.5 0a1.75 1.75 0 1 0 3.5 0M484.25 162.9a1.75 1.75 0 1 0 -3.5 0a1.75 1.75 0 1 0 3.5 0M520.65 151.8a1.75 1.75 0 1 0 -3.5 0a1.75 1.75 0 1 0 3.5 0M550.05 157.0a1.75 1.75 0 1 0 -3.5 0a1.75 1.75 0 1 0 3.5 0M556.85 161.6a1.75 1.75 0 1 0 -3.5 0a1.75 1.75 0 1 0 3.5 0M533.65 147.6a1.75 1.75 0 1 0 -3.5 0a1.75 1.75 0 1 0 3.5 0M478.65 179.0a1.75 1.75 0 1 0 -3.5 0a1.75 1.75 0 1 0 3.5 0M553.15 186.4a1.75 1.75 0 1 0 -3.5 0a1.75 1.75 0 1 0 3.5 0M545.85 156.8a1.75 1.75 0 1 0 -3.5 0a1.75 1.75 0 1 0 3.5 0M547.45 168.1a1.75 1.75 0 1 0 -3.5 0a1.75 1.75 0 1 0 3.5 0M547.85 158.7a1.75 1.75 0 1 0 -3.5 0a1.75 1.75 0 1 0 3.5 0M496.05 160.1a1.75 1.75 0 1 0 -3.5 0a1.75 1.75 0 1 0 3.5 0M556.55 174.5a1.75 1.75 0 1 0 -3.5 0a1.75 1.75 0 1 0 3.5 0M514.35 144.9a1.75 1.75 0 1 0 -3.5 0a1.75 1.75 0 1 0 3.5 0M487.25 160.7a1.75 1.75 0 1 0 -3.5 0a1.75 1.75 0 1 0 3.5 0M483.15 183.5a1.75 1.75 0 1 0 -3.5 0a1.75 1.75 0 1 0 3.5 0M537.95 181.6a1.75 1.75 0 1 0 -3.5 0a1.75 1.75 0 1 0 3.5 0M478.65 167.0a1.75 1.75 0 1 0 -3.5 0a1.75 1.75 0 1 0 3.5 0M531.35 166.1a1.75 1.75 0 1 0 -3.5 0a1.75 1.75 0 1 0 3.5 0M550.35 175.3a1.75 1.75 0 1 0 -3.5 0a1.75 1.75 0 1 0 3.5 0M522.25 208.7a1.75 1.75 0 1 0 -3.5 0a1.75 1.75 0 1 0 3.5 0M526.55 157.9a1.75 1.75 0 1 0 -3.5 0a1.75 1.75 0 1 0 3.5 0M507.25 150.2a1.75 1.75 0 1 0 -3.5 0a1.75 1.75 0 1 0 3.5 0M478.45 181.0a1.75 1.75 0 1 0 -3.5 0a1.75 1.75 0 1 0 3.5 0M536.35 204.6a1.75 1.75 0 1 0 -3.5 0a1.75 1.75 0 1 0 3.5 0M478.35 176.1a1.75 1.75 0 1 0 -3.5 0a1.75 1.75 0 1 0 3.5 0M538.65 154.2a1.75 1.75 0 1 0 -3.5 0a1.75 1.75 0 1 0 3.5 0M494.45 151.7a1.75 1.75 0 1 0 -3.5 0a1.75 1.75 0 1 0 3.5 0M557.95 169.3a1.75 1.75 0 1 0 -3.5 0a1.75 1.75 0 1 0 3.5 0M536.15 173.5a1.75 1.75 0 1 0 -3.5 0a1.75 1.75 0 1 0 3.5 0M493.55 156.4a1.75 1.75 0 1 0 -3.5 0a1.75 1.75 0 1 0 3.5 0M546.65 198.7a1.75 1.75 0 1 0 -3.5 0a1.75 1.75 0 1 0 3.5 0M537.25 176.8a1.75 1.75 0 1 0 -3.5 0a1.75 1.75 0 1 0 3.5 0M538.05 199.7a1.75 1.75 0 1 0 -3.5 0a1.75 1.75 0 1 0 3.5 0M540.45 191.4a1.75 1.75 0 1 0 -3.5 0a1.75 1.75 0 1 0 3.5 0M482.85 171.2a1.75 1.75 0 1 0 -3.5 0a1.75 1.75 0 1 0 3.5 0M525.45 208.6a1.75 1.75 0 1 0 -3.5 0a1.75 1.75 0 1 0 3.5 0M483.05 186.3a1.75 1.75 0 1 0 -3.5 0a1.75 1.75 0 1 0 3.5 0M529.75 156.6a1.75 1.75 0 1 0 -3.5 0a1.75 1.75 0 1 0 3.5 0M489.55 191.8a1.75 1.75 0 1 0 -3.5 0a1.75 1.75 0 1 0 3.5 0M534.45 149.9a1.75 1.75 0 1 0 -3.5 0a1.75 1.75 0 1 0 3.5 0M547.55 150.1a1.75 1.75 0 1 0 -3.5 0a1.75 1.75 0 1 0 3.5 0M534.25 162.4a1.75 1.75 0 1 0 -3.5 0a1.75 1.75 0 1 0 3.5 0M524.45 196.4a1.75 1.75 0 1 0 -3.5 0a1.75 1.75 0 1 0 3.5 0M545.85 190.2a1.75 1.75 0 1 0 -3.5 0a1.75 1.75 0 1 0 3.5 0M486.05 157.4a1.75 1.75 0 1 0 -3.5 0a1.75 1.75 0 1 0 3.5 0M540.45 193.6a1.75 1.75 0 1 0 -3.5 0a1.75 1.75 0 1 0 3.5 0M547.05 196.6a1.75 1.75 0 1 0 -3.5 0a1.75 1.75 0 1 0 3.5 0M543.95 183.8a1.75 1.75 0 1 0 -3.5 0a1.75 1.75 0 1 0 3.5 0M548.85 185.7a1.75 1.75 0 1 0 -3.5 0a1.75 1.75 0 1 0 3.5 0M539.75 162.4a1.75 1.75 0 1 0 -3.5 0a1.75 1.75 0 1 0 3.5 0M532.25 186.3a1.75 1.75 0 1 0 -3.5 0a1.75 1.75 0 1 0 3.5 0M479.15 183.5a1.75 1.75 0 1 0 -3.5 0a1.75 1.75 0 1 0 3.5 0M513.45 156.3a1.75 1.75 0 1 0 -3.5 0a1.75 1.75 0 1 0 3.5 0M532.95 173.9a1.75 1.75 0 1 0 -3.5 0a1.75 1.75 0 1 0 3.5 0M491.05 160.7a1.75 1.75 0 1 0 -3.5 0a1.75 1.75 0 1 0 3.5 0M529.75 192.2a1.75 1.75 0 1 0 -3.5 0a1.75 1.75 0 1 0 3.5 0M547.25 205.8a1.75 1.75 0 1 0 -3.5 0a1.75 1.75 0 1 0 3.5 0M544.75 197.3a1.75 1.75 0 1 0 -3.5 0a1.75 1.75 0 1 0 3.5 0M522.75 144.2a1.75 1.75 0 1 0 -3.5 0a1.75 1.75 0 1 0 3.5 0M484.95 153.7a1.75 1.75 0 1 0 -3.5 0a1.75 1.75 0 1 0 3.5 0M549.25 191.6a1.75 1.75 0 1 0 -3.5 0a1.75 1.75 0 1 0 3.5 0M485.75 193.8a1.75 1.75 0 1 0 -3.5 0a1.75 1.75 0 1 0 3.5 0M489.45 146.9a1.75 1.75 0 1 0 -3.5 0a1.75 1.75 0 1 0 3.5 0M544.65 149.9a1.75 1.75 0 1 0 -3.5 0a1.75 1.75 0 1 0 3.5 0M522.75 150.7a1.75 1.75 0 1 0 -3.5 0a1.75 1.75 0 1 0 3.5 0M544.95 147.2a1.75 1.75 0 1 0 -3.5 0a1.75 1.75 0 1 0 3.5 0M523.95 205.4a1.75 1.75 0 1 0 -3.5 0a1.75 1.75 0 1 0 3.5 0M483.55 167.4a1.75 1.75 0 1 0 -3.5 0a1.75 1.75 0 1 0 3.5 0M542.05 179.1a1.75 1.75 0 1 0 -3.5 0a1.75 1.75 0 1 0 3.5 0M526.15 145.6a1.75 1.75 0 1 0 -3.5 0a1.75 1.75 0 1 0 3.5 0M528.85 207.4a1.75 1.75 0 1 0 -3.5 0a1.75 1.75 0 1 0 3.5 0M543.55 166.9a1.75 1.75 0 1 0 -3.5 0a1.75 1.75 0 1 0 3.5 0M502.85 152.1a1.75 1.75 0 1 0 -3.5 0a1.75 1.75 0 1 0 3.5 0M486.65 185.8a1.75 1.75 0 1 0 -3.5 0a1.75 1.75 0 1 0 3.5 0M490.95 163.1a1.75 1.75 0 1 0 -3.5 0a1.75 1.75 0 1 0 3.5 0M558.35 173.0a1.75 1.75 0 1 0 -3.5 0a1.75 1.75 0 1 0 3.5 0M551.45 189.5a1.75 1.75 0 1 0 -3.5 0a1.75 1.75 0 1 0 3.5 0M502.25 198.7a1.75 1.75 0 1 0 -3.5 0a1.75 1.75 0 1 0 3.5 0M527.05 147.3a1.75 1.75 0 1 0 -3.5 0a1.75 1.75 0 1 0 3.5 0M541.55 197.9a1.75 1.75 0 1 0 -3.5 0a1.75 1.75 0 1 0 3.5 0M514.25 208.0a1.75 1.75 0 1 0 -3.5 0a1.75 1.75 0 1 0 3.5 0M535.75 181.6a1.75 1.75 0 1 0 -3.5 0a1.75 1.75 0 1 0 3.5 0M528.35 143.5a1.75 1.75 0 1 0 -3.5 0a1.75 1.75 0 1 0 3.5 0M539.55 170.7a1.75 1.75 0 1 0 -3.5 0a1.75 1.75 0 1 0 3.5 0M534.75 165.1a1.75 1.75 0 1 0 -3.5 0a1.75 1.75 0 1 0 3.5 0M501.25 144.7a1.75 1.75 0 1 0 -3.5 0a1.75 1.75 0 1 0 3.5 0M485.15 177.6a1.75 1.75 0 1 0 -3.5 0a1.75 1.75 0 1 0 3.5 0M496.95 153.5a1.75 1.75 0 1 0 -3.5 0a1.75 1.75 0 1 0 3.5 0M537.35 178.8a1.75 1.75 0 1 0 -3.5 0a1.75 1.75 0 1 0 3.5 0M536.25 155.0a1.75 1.75 0 1 0 -3.5 0a1.75 1.75 0 1 0 3.5 0M480.55 180.9a1.75 1.75 0 1 0 -3.5 0a1.75 1.75 0 1 0 3.5 0M548.95 180.3a1.75 1.75 0 1 0 -3.5 0a1.75 1.75 0 1 0 3.5 0M482.25 159.6a1.75 1.75 0 1 0 -3.5 0a1.75 1.75 0 1 0 3.5 0M537.75 167.8a1.75 1.75 0 1 0 -3.5 0a1.75 1.75 0 1 0 3.5 0M543.25 205.6a1.75 1.75 0 1 0 -3.5 0a1.75 1.75 0 1 0 3.5 0M538.05 165.8a1.75 1.75 0 1 0 -3.5 0a1.75 1.75 0 1 0 3.5 0M510.35 143.3a1.75 1.75 0 1 0 -3.5 0a1.75 1.75 0 1 0 3.5 0M508.85 202.4a1.75 1.75 0 1 0 -3.5 0a1.75 1.75 0 1 0 3.5 0M525.35 155.8a1.75 1.75 0 1 0 -3.5 0a1.75 1.75 0 1 0 3.5 0M557.35 182.0a1.75 1.75 0 1 0 -3.5 0a1.75 1.75 0 1 0 3.5 0M555.95 168.1a1.75 1.75 0 1 0 -3.5 0a1.75 1.75 0 1 0 3.5 0M545.05 165.3a1.75 1.75 0 1 0 -3.5 0a1.75 1.75 0 1 0 3.5 0M487.55 155.8a1.75 1.75 0 1 0 -3.5 0a1.75 1.75 0 1 0 3.5 0M516.75 148.9a1.75 1.75 0 1 0 -3.5 0a1.75 1.75 0 1 0 3.5 0M488.35 162.7a1.75 1.75 0 1 0 -3.5 0a1.75 1.75 0 1 0 3.5 0M480.55 193.3a1.75 1.75 0 1 0 -3.5 0a1.75 1.75 0 1 0 3.5 0M541.25 152.3a1.75 1.75 0 1 0 -3.5 0a1.75 1.75 0 1 0 3.5 0M511.45 145.0a1.75 1.75 0 1 0 -3.5 0a1.75 1.75 0 1 0 3.5 0M498.25 158.0a1.75 1.75 0 1 0 -3.5 0a1.75 1.75 0 1 0 3.5 0M485.15 189.3a1.75 1.75 0 1 0 -3.5 0a1.75 1.75 0 1 0 3.5 0M545.35 168.2a1.75 1.75 0 1 0 -3.5 0a1.75 1.75 0 1 0 3.5 0M532.25 150.5a1.75 1.75 0 1 0 -3.5 0a1.75 1.75 0 1 0 3.5 0M499.15 201.1a1.75 1.75 0 1 0 -3.5 0a1.75 1.75 0 1 0 3.5 0M541.45 206.9a1.75 1.75 0 1 0 -3.5 0a1.75 1.75 0 1 0 3.5 0M517.15 207.0a1.75 1.75 0 1 0 -3.5 0a1.75 1.75 0 1 0 3.5 0M535.25 189.0a1.75 1.75 0 1 0 -3.5 0a1.75 1.75 0 1 0 3.5 0M545.25 179.1a1.75 1.75 0 1 0 -3.5 0a1.75 1.75 0 1 0 3.5 0M548.45 164.6a1.75 1.75 0 1 0 -3.5 0a1.75 1.75 0 1 0 3.5 0M536.35 148.7a1.75 1.75 0 1 0 -3.5 0a1.75 1.75 0 1 0 3.5 0M549.25 197.3a1.75 1.75 0 1 0 -3.5 0a1.75 1.75 0 1 0 3.5 0M484.25 173.7a1.75 1.75 0 1 0 -3.5 0a1.75 1.75 0 1 0 3.5 0M528.45 196.6a1.75 1.75 0 1 0 -3.5 0a1.75 1.75 0 1 0 3.5 0M510.65 148.2a1.75 1.75 0 1 0 -3.5 0a1.75 1.75 0 1 0 3.5 0M501.35 157.9a1.75 1.75 0 1 0 -3.5 0a1.75 1.75 0 1 0 3.5 0M520.65 199.1a1.75 1.75 0 1 0 -3.5 0a1.75 1.75 0 1 0 3.5 0M534.15 204.0a1.75 1.75 0 1 0 -3.5 0a1.75 1.75 0 1 0 3.5 0M478.35 150.4a1.75 1.75 0 1 0 -3.5 0a1.75 1.75 0 1 0 3.5 0M569.65 158.1a1.75 1.75 0 1 0 -3.5 0a1.75 1.75 0 1 0 3.5 0M481.15 145.1a1.75 1.75 0 1 0 -3.5 0a1.75 1.75 0 1 0 3.5 0M504.15 211.3a1.75 1.75 0 1 0 -3.5 0a1.75 1.75 0 1 0 3.5 0M474.15 152.8a1.75 1.75 0 1 0 -3.5 0a1.75 1.75 0 1 0 3.5 0M506.25 141.8a1.75 1.75 0 1 0 -3.5 0a1.75 1.75 0 1 0 3.5 0" fill="none" stroke="#9a9aff" stroke-width="1.4"/>
<g fill="none" stroke="#0000ff" stroke-width="1.4" stroke-opacity="0.6"><circle cx="533.8" cy="78.1" r="1.75"/><circle cx="528.4" cy="82.7" r="1.75"/><circle cx="520.6" cy="89.8" r="1.75"/><circle cx="525.3" cy="91.7" r="1.75"/><circle cx="529.9" cy="89.4" r="1.75"/><circle cx="524.5" cy="94.0" r="1.75"/><circle cx="527.6" cy="97.6" r="1.75"/><circle cx="527.3" cy="101.0" r="1.75"/><circle cx="534.6" cy="97.9" r="1.75"/><circle cx="537.7" cy="93.3" r="1.75"/><circle cx="537.7" cy="101.8" r="1.75"/><circle cx="493.5" cy="96.0" r="1.75"/><circle cx="499.7" cy="99.1" r="1.75"/><circle cx="515.7" cy="103.0" r="1.75"/><circle cx="532.2" cy="108.0" r="1.75"/><circle cx="539.2" cy="111.1" r="1.75"/><circle cx="493.5" cy="110.3" r="1.75"/><circle cx="505.9" cy="110.0" r="1.75"/><circle cx="509.5" cy="108.8" r="1.75"/><circle cx="515.2" cy="111.9" r="1.75"/><circle cx="511.6" cy="113.7" r="1.75"/><circle cx="466.7" cy="116.5" r="1.75"/><circle cx="495.0" cy="115.3" r="1.75"/><circle cx="498.1" cy="118.1" r="1.75"/><circle cx="501.2" cy="115.3" r="1.75"/><circle cx="501.2" cy="118.4" r="1.75"/><circle cx="525.3" cy="114.2" r="1.75"/><circle cx="534.3" cy="115.7" r="1.75"/><circle cx="511.6" cy="119.3" r="1.75"/><circle cx="475.3" cy="121.6" r="1.75"/><circle cx="478.0" cy="126.6" r="1.75"/><circle cx="481.1" cy="125.8" r="1.75"/><circle cx="504.3" cy="124.0" r="1.75"/><circle cx="511.3" cy="123.5" r="1.75"/><circle cx="521.4" cy="122.7" r="1.75"/><circle cx="517.5" cy="125.0" r="1.75"/><circle cx="531.5" cy="124.3" r="1.75"/><circle cx="533.8" cy="125.0" r="1.75"/><circle cx="497.1" cy="127.1" r="1.75"/><circle cx="509.8" cy="127.1" r="1.75"/><circle cx="524.5" cy="128.1" r="1.75"/><circle cx="529.9" cy="128.6" r="1.75"/><circle cx="537.7" cy="131.2" r="1.75"/><circle cx="512.9" cy="130.5" r="1.75"/><circle cx="516.0" cy="131.2" r="1.75"/><circle cx="519.1" cy="130.5" r="1.75"/><circle cx="523.7" cy="132.8" r="1.75"/><circle cx="533.0" cy="130.5" r="1.75"/><circle cx="534.6" cy="135.1" r="1.75"/><circle cx="481.1" cy="137.0" r="1.75"/><circle cx="485.0" cy="137.9" r="1.75"/><circle cx="490.4" cy="133.9" r="1.75"/><circle cx="491.2" cy="135.9" r="1.75"/><circle cx="495.0" cy="133.6" r="1.75"/><circle cx="497.4" cy="133.3" r="1.75"/><circle cx="501.2" cy="134.8" r="1.75"/><circle cx="502.8" cy="137.0" r="1.75"/><circle cx="509.8" cy="133.6" r="1.75"/><circle cx="515.2" cy="135.1" r="1.75"/><circle cx="512.9" cy="138.2" r="1.75"/><circle cx="520.6" cy="134.3" r="1.75"/><circle cx="522.2" cy="138.2" r="1.75"/><circle cx="526.8" cy="135.9" r="1.75"/><circle cx="529.1" cy="139.0" r="1.75"/><circle cx="454.7" cy="141.3" r="1.75"/><circle cx="456.7" cy="143.3" r="1.75"/><circle cx="471.0" cy="141.0" r="1.75"/><circle cx="494.3" cy="142.1" r="1.75"/><circle cx="518.3" cy="141.3" r="1.75"/><circle cx="522.2" cy="142.1" r="1.75"/><circle cx="528.7" cy="142.6" r="1.75"/><circle cx="534.6" cy="140.5" r="1.75"/><circle cx="456.7" cy="162.2" r="1.75"/><circle cx="465.6" cy="159.6" r="1.75"/><circle cx="470.7" cy="161.2" r="1.75"/><circle cx="477.2" cy="163.8" r="1.75"/><circle cx="464.8" cy="169.2" r="1.75"/><circle cx="471.8" cy="167.7" r="1.75"/><circle cx="574.4" cy="88.5" r="1.75"/><circle cx="587.1" cy="86.1" r="1.75"/><circle cx="585.6" cy="91.5" r="1.75"/><circle cx="540.0" cy="92.2" r="1.75"/><circle cx="543.7" cy="97.4" r="1.75"/><circle cx="542.8" cy="102.4" r="1.75"/><circle cx="560.8" cy="98.7" r="1.75"/><circle cx="567.3" cy="104.3" r="1.75"/><circle cx="593.6" cy="98.2" r="1.75"/><circle cx="597.7" cy="96.9" r="1.75"/><circle cx="605.1" cy="98.7" r="1.75"/><circle cx="555.4" cy="109.0" r="1.75"/><circle cx="559.0" cy="108.0" r="1.75"/><circle cx="597.7" cy="109.0" r="1.75"/><circle cx="548.4" cy="115.8" r="1.75"/><circle cx="562.3" cy="115.1" r="1.75"/><circle cx="580.0" cy="115.8" r="1.75"/><circle cx="600.1" cy="118.3" r="1.75"/><circle cx="553.0" cy="122.0" r="1.75"/><circle cx="556.7" cy="123.5" r="1.75"/><circle cx="545.6" cy="123.8" r="1.75"/><circle cx="548.4" cy="126.6" r="1.75"/><circle cx="554.0" cy="127.9" r="1.75"/><circle cx="557.7" cy="131.3" r="1.75"/><circle cx="561.4" cy="129.0" r="1.75"/><circle cx="567.0" cy="130.0" r="1.75"/><circle cx="569.8" cy="132.2" r="1.75"/><circle cx="564.2" cy="135.4" r="1.75"/><circle cx="565.1" cy="137.8" r="1.75"/><circle cx="597.7" cy="130.0" r="1.75"/><circle cx="593.6" cy="132.8" r="1.75"/><circle cx="587.8" cy="134.1" r="1.75"/><circle cx="540.0" cy="131.3" r="1.75"/><circle cx="544.7" cy="134.1" r="1.75"/><circle cx="549.3" cy="136.9" r="1.75"/><circle cx="554.0" cy="138.7" r="1.75"/><circle cx="558.6" cy="137.8" r="1.75"/><circle cx="576.3" cy="143.9" r="1.75"/><circle cx="581.3" cy="143.4" r="1.75"/><circle cx="560.1" cy="142.4" r="1.75"/><circle cx="561.4" cy="150.8" r="1.75"/><circle cx="562.3" cy="157.3" r="1.75"/><circle cx="556.7" cy="160.1" r="1.75"/><circle cx="555.8" cy="149.9" r="1.75"/><circle cx="596.4" cy="143.9" r="1.75"/><circle cx="600.5" cy="142.1" r="1.75"/><circle cx="606.6" cy="139.3" r="1.75"/><circle cx="610.7" cy="138.7" r="1.75"/><circle cx="615.7" cy="148.6" r="1.75"/><circle cx="580.9" cy="150.8" r="1.75"/><circle cx="586.1" cy="154.5" r="1.75"/><circle cx="580.0" cy="157.9" r="1.75"/><circle cx="605.1" cy="161.0" r="1.75"/><circle cx="612.6" cy="164.4" r="1.75"/><circle cx="611.6" cy="167.0" r="1.75"/><circle cx="589.9" cy="166.6" r="1.75"/><circle cx="593.6" cy="173.1" r="1.75"/><circle cx="580.6" cy="165.1" r="1.75"/><circle cx="569.8" cy="162.9" r="1.75"/><circle cx="572.6" cy="165.7" r="1.75"/><circle cx="567.0" cy="168.9" r="1.75"/><circle cx="571.6" cy="171.3" r="1.75"/><circle cx="646.6" cy="157.3" r="1.75"/><circle cx="468.0" cy="172.8" r="1.75"/><circle cx="456.6" cy="174.2" r="1.75"/><circle cx="452.6" cy="178.4" r="1.75"/><circle cx="453.7" cy="182.4" r="1.75"/><circle cx="464.5" cy="178.0" r="1.75"/><circle cx="467.2" cy="181.5" r="1.75"/><circle cx="473.3" cy="178.0" r="1.75"/><circle cx="474.2" cy="181.5" r="1.75"/><circle cx="477.7" cy="186.8" r="1.75"/><circle cx="465.4" cy="194.7" r="1.75"/><circle cx="469.8" cy="200.8" r="1.75"/><circle cx="474.2" cy="199.1" r="1.75"/><circle cx="452.6" cy="207.5" r="1.75"/><circle cx="460.1" cy="206.1" r="1.75"/><circle cx="461.0" cy="210.4" r="1.75"/><circle cx="464.5" cy="209.6" r="1.75"/><circle cx="462.8" cy="213.9" r="1.75"/><circle cx="466.3" cy="215.7" r="1.75"/><circle cx="468.9" cy="213.1" r="1.75"/><circle cx="471.5" cy="216.6" r="1.75"/><circle cx="472.4" cy="220.1" r="1.75"/><circle cx="468.0" cy="219.2" r="1.75"/><circle cx="475.0" cy="211.3" r="1.75"/><circle cx="461.0" cy="225.7" r="1.75"/><circle cx="480.3" cy="224.5" r="1.75"/><circle cx="481.2" cy="230.6" r="1.75"/><circle cx="492.6" cy="223.2" r="1.75"/><circle cx="495.7" cy="223.2" r="1.75"/><circle cx="497.8" cy="230.9" r="1.75"/><circle cx="511.0" cy="226.2" r="1.75"/><circle cx="506.6" cy="220.1" r="1.75"/><circle cx="503.1" cy="220.4" r="1.75"/><circle cx="470.3" cy="240.2" r="1.75"/><circle cx="494.8" cy="239.0" r="1.75"/><circle cx="503.4" cy="236.4" r="1.75"/><circle cx="506.6" cy="235.0" r="1.75"/><circle cx="508.7" cy="234.1" r="1.75"/><circle cx="513.9" cy="234.4" r="1.75"/><circle cx="518.8" cy="225.3" r="1.75"/><circle cx="519.7" cy="229.2" r="1.75"/><circle cx="520.9" cy="224.5" r="1.75"/><circle cx="525.5" cy="216.6" r="1.75"/><circle cx="522.0" cy="220.1" r="1.75"/><circle cx="527.1" cy="223.2" r="1.75"/><circle cx="532.9" cy="228.0" r="1.75"/><circle cx="540.4" cy="229.7" r="1.75"/><circle cx="529.3" cy="206.9" r="1.75"/><circle cx="532.9" cy="209.6" r="1.75"/><circle cx="535.5" cy="212.2" r="1.75"/><circle cx="536.0" cy="217.4" r="1.75"/><circle cx="539.0" cy="215.7" r="1.75"/><circle cx="538.1" cy="211.3" r="1.75"/><circle cx="543.4" cy="206.9" r="1.75"/><circle cx="545.1" cy="202.6" r="1.75"/><circle cx="550.4" cy="211.3" r="1.75"/><circle cx="553.5" cy="222.7" r="1.75"/><circle cx="557.4" cy="218.3" r="1.75"/><circle cx="556.5" cy="206.9" r="1.75"/><circle cx="518.8" cy="206.9" r="1.75"/><circle cx="511.8" cy="210.4" r="1.75"/><circle cx="507.4" cy="214.8" r="1.75"/><circle cx="558.4" cy="157.9" r="1.75"/><circle cx="561.0" cy="164.9" r="1.75"/><circle cx="559.3" cy="167.5" r="1.75"/><circle cx="567.2" cy="173.3" r="1.75"/><circle cx="561.9" cy="173.7" r="1.75"/><circle cx="598.7" cy="178.4" r="1.75"/><circle cx="573.3" cy="180.7" r="1.75"/><circle cx="564.0" cy="178.9" r="1.75"/><circle cx="561.0" cy="181.5" r="1.75"/><circle cx="557.5" cy="184.2" r="1.75"/><circle cx="567.2" cy="185.9" r="1.75"/><circle cx="571.5" cy="185.9" r="1.75"/><circle cx="577.1" cy="185.9" r="1.75"/><circle cx="580.6" cy="184.7" r="1.75"/><circle cx="592.2" cy="188.2" r="1.75"/><circle cx="596.4" cy="186.8" r="1.75"/><circle cx="608.0" cy="183.3" r="1.75"/><circle cx="608.0" cy="191.2" r="1.75"/><circle cx="607.4" cy="194.7" r="1.75"/><circle cx="614.8" cy="198.2" r="1.75"/><circle cx="583.4" cy="198.7" r="1.75"/><circle cx="572.4" cy="195.9" r="1.75"/><circle cx="574.2" cy="200.8" r="1.75"/><circle cx="573.3" cy="205.2" r="1.75"/><circle cx="565.9" cy="206.1" r="1.75"/><circle cx="561.9" cy="199.9" r="1.75"/><circle cx="560.1" cy="207.8" r="1.75"/><circle cx="555.8" cy="202.6" r="1.75"/><circle cx="550.5" cy="204.3" r="1.75"/><circle cx="564.0" cy="223.2" r="1.75"/><circle cx="585.2" cy="218.3" r="1.75"/><circle cx="559.3" cy="190.3" r="1.75"/><circle cx="562.8" cy="192.0" r="1.75"/><circle cx="566.3" cy="192.9" r="1.75"/><circle cx="568.9" cy="192.0" r="1.75"/><circle cx="562.8" cy="195.6" r="1.75"/><circle cx="555.8" cy="196.4" r="1.75"/><circle cx="550.5" cy="199.1" r="1.75"/><circle cx="547.0" cy="200.8" r="1.75"/><circle cx="517.3" cy="194.5" r="1.75"/><circle cx="504.2" cy="160.6" r="1.75"/><circle cx="521.6" cy="168.3" r="1.75"/><circle cx="517.6" cy="177.6" r="1.75"/><circle cx="505.5" cy="159.2" r="1.75"/><circle cx="496.0" cy="187.9" r="1.75"/><circle cx="506.2" cy="193.3" r="1.75"/><circle cx="521.5" cy="179.4" r="1.75"/><circle cx="503.6" cy="179.3" r="1.75"/><circle cx="492.6" cy="181.2" r="1.75"/><circle cx="497.9" cy="173.3" r="1.75"/><circle cx="506.5" cy="169.6" r="1.75"/><circle cx="493.5" cy="184.7" r="1.75"/><circle cx="513.6" cy="161.2" r="1.75"/><circle cx="495.8" cy="169.3" r="1.75"/><circle cx="502.0" cy="177.6" r="1.75"/><circle cx="511.3" cy="183.0" r="1.75"/><circle cx="520.2" cy="177.2" r="1.75"/><circle cx="489.0" cy="172.3" r="1.75"/><circle cx="521.9" cy="175.4" r="1.75"/><circle cx="503.2" cy="183.6" r="1.75"/><circle cx="487.8" cy="183.9" r="1.75"/><circle cx="516.2" cy="162.5" r="1.75"/><circle cx="504.4" cy="192.2" r="1.75"/><circle cx="497.5" cy="179.2" r="1.75"/><circle cx="501.2" cy="180.1" r="1.75"/><circle cx="503.2" cy="171.8" r="1.75"/><circle cx="526.7" cy="185.7" r="1.75"/><circle cx="506.5" cy="172.6" r="1.75"/><circle cx="524.1" cy="172.7" r="1.75"/><circle cx="515.9" cy="165.1" r="1.75"/><circle cx="509.9" cy="168.8" r="1.75"/><circle cx="526.2" cy="172.7" r="1.75"/><circle cx="527.9" cy="180.7" r="1.75"/><circle cx="513.2" cy="163.6" r="1.75"/><circle cx="522.6" cy="183.6" r="1.75"/><circle cx="514.5" cy="170.2" r="1.75"/><circle cx="519.6" cy="179.1" r="1.75"/><circle cx="520.0" cy="185.2" r="1.75"/><circle cx="523.0" cy="185.8" r="1.75"/><circle cx="502.9" cy="196.2" r="1.75"/><circle cx="505.1" cy="178.0" r="1.75"/><circle cx="522.6" cy="181.8" r="1.75"/><circle cx="506.5" cy="190.1" r="1.75"/><circle cx="486.9" cy="174.0" r="1.75"/><circle cx="497.0" cy="182.3" r="1.75"/><circle cx="501.6" cy="182.3" r="1.75"/><circle cx="525.5" cy="174.4" r="1.75"/><circle cx="500.2" cy="176.9" r="1.75"/><circle cx="511.2" cy="166.9" r="1.75"/><circle cx="514.4" cy="183.6" r="1.75"/><circle cx="499.0" cy="162.1" r="1.75"/><circle cx="498.7" cy="166.5" r="1.75"/><circle cx="498.1" cy="187.8" r="1.75"/><circle cx="521.8" cy="189.9" r="1.75"/><circle cx="487.1" cy="181.5" r="1.75"/><circle cx="512.6" cy="175.0" r="1.75"/><circle cx="506.7" cy="165.5" r="1.75"/><circle cx="515.6" cy="191.4" r="1.75"/><circle cx="503.8" cy="188.7" r="1.75"/><circle cx="491.8" cy="178.2" r="1.75"/><circle cx="516.1" cy="179.4" r="1.75"/><circle cx="512.5" cy="179.0" r="1.75"/><circle cx="524.4" cy="165.4" r="1.75"/><circle cx="517.7" cy="173.1" r="1.75"/><circle cx="516.8" cy="185.9" r="1.75"/><circle cx="517.5" cy="164.1" r="1.75"/><circle cx="496.6" cy="175.6" r="1.75"/><circle cx="511.6" cy="161.3" r="1.75"/><circle cx="508.3" cy="169.6" r="1.75"/><circle cx="488.7" cy="186.1" r="1.75"/><circle cx="508.5" cy="176.2" r="1.75"/><circle cx="519.5" cy="193.8" r="1.75"/><circle cx="529.4" cy="175.5" r="1.75"/><circle cx="498.5" cy="191.2" r="1.75"/><circle cx="506.7" cy="167.9" r="1.75"/><circle cx="516.0" cy="168.4" r="1.75"/><circle cx="509.7" cy="193.8" r="1.75"/><circle cx="505.0" cy="167.2" r="1.75"/><circle cx="509.7" cy="183.9" r="1.75"/><circle cx="510.5" cy="187.1" r="1.75"/><circle cx="503.2" cy="163.9" r="1.75"/><circle cx="517.0" cy="160.7" r="1.75"/><circle cx="491.5" cy="186.7" r="1.75"/><circle cx="508.4" cy="196.7" r="1.75"/><circle cx="501.1" cy="175.4" r="1.75"/><circle cx="511.0" cy="180.3" r="1.75"/><circle cx="490.5" cy="180.6" r="1.75"/><circle cx="526.9" cy="167.7" r="1.75"/><circle cx="512.2" cy="189.0" r="1.75"/><circle cx="489.1" cy="167.3" r="1.75"/><circle cx="519.6" cy="187.1" r="1.75"/><circle cx="514.5" cy="167.5" r="1.75"/><circle cx="513.0" cy="173.1" r="1.75"/><circle cx="516.5" cy="188.4" r="1.75"/><circle cx="505.1" cy="195.1" r="1.75"/><circle cx="494.4" cy="167.8" r="1.75"/><circle cx="507.5" cy="163.8" r="1.75"/><circle cx="503.9" cy="186.4" r="1.75"/><circle cx="497.4" cy="177.1" r="1.75"/><circle cx="499.0" cy="195.4" r="1.75"/><circle cx="492.2" cy="174.5" r="1.75"/><circle cx="524.5" cy="191.0" r="1.75"/><circle cx="491.7" cy="184.0" r="1.75"/><circle cx="510.0" cy="172.8" r="1.75"/><circle cx="517.3" cy="166.8" r="1.75"/><circle cx="492.1" cy="189.0" r="1.75"/><circle cx="494.1" cy="190.0" r="1.75"/><circle cx="519.5" cy="175.5" r="1.75"/><circle cx="502.2" cy="168.6" r="1.75"/><circle cx="505.0" cy="164.1" r="1.75"/><circle cx="496.1" cy="164.3" r="1.75"/><circle cx="504.6" cy="175.5" r="1.75"/><circle cx="524.3" cy="169.4" r="1.75"/><circle cx="486.9" cy="179.3" r="1.75"/><circle cx="511.5" cy="170.2" r="1.75"/><circle cx="513.5" cy="193.4" r="1.75"/><circle cx="507.1" cy="186.5" r="1.75"/><circle cx="502.4" cy="158.7" r="1.75"/><circle cx="520.0" cy="167.3" r="1.75"/><circle cx="494.4" cy="192.1" r="1.75"/><circle cx="510.9" cy="163.4" r="1.75"/><circle cx="508.9" cy="188.9" r="1.75"/><circle cx="512.2" cy="185.1" r="1.75"/><circle cx="512.5" cy="194.9" r="1.75"/><circle cx="503.4" cy="173.8" r="1.75"/><circle cx="522.6" cy="170.4" r="1.75"/><circle cx="512.5" cy="196.9" r="1.75"/><circle cx="495.4" cy="173.7" r="1.75"/><circle cx="519.9" cy="180.9" r="1.75"/><circle cx="498.1" cy="193.0" r="1.75"/><circle cx="491.2" cy="191.1" r="1.75"/><circle cx="490.7" cy="165.3" r="1.75"/><circle cx="487.1" cy="176.8" r="1.75"/><circle cx="505.8" cy="179.8" r="1.75"/><circle cx="508.8" cy="182.0" r="1.75"/><circle cx="500.9" cy="184.0" r="1.75"/><circle cx="515.7" cy="173.4" r="1.75"/><circle cx="496.2" cy="162.0" r="1.75"/><circle cx="498.4" cy="169.9" r="1.75"/><circle cx="528.9" cy="179.1" r="1.75"/><circle cx="510.1" cy="190.6" r="1.75"/><circle cx="509.0" cy="178.5" r="1.75"/><circle cx="501.4" cy="165.4" r="1.75"/><circle cx="498.5" cy="159.6" r="1.75"/><circle cx="504.3" cy="180.9" r="1.75"/><circle cx="505.9" cy="182.9" r="1.75"/><circle cx="497.1" cy="195.2" r="1.75"/><circle cx="488.6" cy="178.1" r="1.75"/><circle cx="512.8" cy="187.4" r="1.75"/><circle cx="515.9" cy="175.4" r="1.75"/><circle cx="515.3" cy="177.3" r="1.75"/><circle cx="507.7" cy="184.5" r="1.75"/><circle cx="515.0" cy="186.4" r="1.75"/><circle cx="514.4" cy="188.6" r="1.75"/><circle cx="489.8" cy="169.5" r="1.75"/><circle cx="515.3" cy="160.3" r="1.75"/><circle cx="499.7" cy="181.3" r="1.75"/><circle cx="500.1" cy="172.1" r="1.75"/><circle cx="526.4" cy="189.9" r="1.75"/><circle cx="496.6" cy="171.8" r="1.75"/><circle cx="496.6" cy="167.5" r="1.75"/><circle cx="524.5" cy="189.3" r="1.75"/><circle cx="494.6" cy="177.5" r="1.75"/><circle cx="511.9" cy="158.4" r="1.75"/><circle cx="501.2" cy="161.4" r="1.75"/><circle cx="518.6" cy="188.9" r="1.75"/><circle cx="518.4" cy="161.9" r="1.75"/><circle cx="528.5" cy="185.5" r="1.75"/><circle cx="508.2" cy="173.8" r="1.75"/><circle cx="517.0" cy="184.0" r="1.75"/><circle cx="527.5" cy="187.9" r="1.75"/><circle cx="515.0" cy="181.8" r="1.75"/><circle cx="497.0" cy="185.0" r="1.75"/><circle cx="525.9" cy="183.0" r="1.75"/><circle cx="492.7" cy="165.5" r="1.75"/><circle cx="524.9" cy="176.5" r="1.75"/><circle cx="516.4" cy="170.5" r="1.75"/><circle cx="490.6" cy="173.4" r="1.75"/><circle cx="505.9" cy="197.5" r="1.75"/><circle cx="495.3" cy="182.9" r="1.75"/><circle cx="521.5" cy="163.5" r="1.75"/><circle cx="502.1" cy="186.9" r="1.75"/><circle cx="493.4" cy="179.0" r="1.75"/><circle cx="520.8" cy="192.5" r="1.75"/><circle cx="524.2" cy="178.6" r="1.75"/><circle cx="501.1" cy="194.3" r="1.75"/><circle cx="495.2" cy="180.2" r="1.75"/><circle cx="494.3" cy="175.8" r="1.75"/><circle cx="518.9" cy="170.9" r="1.75"/><circle cx="490.3" cy="202.2" r="1.75"/><circle cx="493.3" cy="208.4" r="1.75"/><circle cx="483.4" cy="207.1" r="1.75"/><circle cx="485.5" cy="213.1" r="1.75"/><circle cx="481.0" cy="221.0" r="1.75"/><circle cx="486.4" cy="210.8" r="1.75"/><circle cx="490.5" cy="197.4" r="1.75"/><circle cx="488.1" cy="215.2" r="1.75"/><circle cx="494.9" cy="214.8" r="1.75"/><circle cx="492.3" cy="198.5" r="1.75"/><circle cx="485.8" cy="208.7" r="1.75"/><circle cx="478.5" cy="210.2" r="1.75"/><circle cx="482.4" cy="199.4" r="1.75"/><circle cx="493.6" cy="211.4" r="1.75"/><circle cx="489.5" cy="218.6" r="1.75"/><circle cx="477.5" cy="205.2" r="1.75"/><circle cx="481.3" cy="211.1" r="1.75"/><circle cx="485.5" cy="219.9" r="1.75"/><circle cx="481.6" cy="202.3" r="1.75"/><circle cx="498.0" cy="214.5" r="1.75"/><circle cx="486.3" cy="205.1" r="1.75"/><circle cx="493.3" cy="201.1" r="1.75"/><circle cx="483.0" cy="216.6" r="1.75"/><circle cx="492.5" cy="206.2" r="1.75"/><circle cx="479.4" cy="218.0" r="1.75"/><circle cx="484.9" cy="202.0" r="1.75"/><circle cx="488.6" cy="220.7" r="1.75"/><circle cx="478.3" cy="201.8" r="1.75"/><circle cx="499.2" cy="204.9" r="1.75"/><circle cx="488.3" cy="208.9" r="1.75"/><circle cx="480.4" cy="208.2" r="1.75"/><circle cx="497.2" cy="204.1" r="1.75"/><circle cx="487.1" cy="216.9" r="1.75"/><circle cx="482.1" cy="205.0" r="1.75"/><circle cx="496.3" cy="212.5" r="1.75"/><circle cx="487.7" cy="195.4" r="1.75"/><circle cx="486.1" cy="221.9" r="1.75"/><circle cx="479.6" cy="199.6" r="1.75"/><circle cx="486.3" cy="199.7" r="1.75"/><circle cx="479.4" cy="195.3" r="1.75"/><circle cx="488.7" cy="199.8" r="1.75"/><circle cx="492.2" cy="216.8" r="1.75"/><circle cx="487.6" cy="212.7" r="1.75"/><circle cx="493.6" cy="203.8" r="1.75"/><circle cx="497.9" cy="209.9" r="1.75"/><circle cx="491.3" cy="220.6" r="1.75"/><circle cx="482.4" cy="214.2" r="1.75"/><circle cx="480.1" cy="212.8" r="1.75"/><circle cx="491.7" cy="212.1" r="1.75"/><circle cx="497.3" cy="206.1" r="1.75"/><circle cx="485.1" cy="196.0" r="1.75"/><circle cx="491.2" cy="209.9" r="1.75"/><circle cx="479.4" cy="163.0" r="1.75"/><circle cx="495.6" cy="198.6" r="1.75"/><circle cx="490.9" cy="193.5" r="1.75"/><circle cx="523.7" cy="161.1" r="1.75"/><circle cx="538.0" cy="147.4" r="1.75"/><circle cx="531.5" cy="160.0" r="1.75"/><circle cx="554.5" cy="164.7" r="1.75"/><circle cx="530.9" cy="144.9" r="1.75"/><circle cx="553.0" cy="184.8" r="1.75"/><circle cx="551.0" cy="192.1" r="1.75"/><circle cx="480.9" cy="192.1" r="1.75"/><circle cx="507.2" cy="156.2" r="1.75"/><circle cx="549.0" cy="186.8" r="1.75"/><circle cx="504.6" cy="147.7" r="1.75"/><circle cx="529.2" cy="146.9" r="1.75"/><circle cx="495.6" cy="146.2" r="1.75"/><circle cx="536.4" cy="185.5" r="1.75"/><circle cx="525.6" cy="152.2" r="1.75"/><circle cx="519.5" cy="155.4" r="1.75"/><circle cx="483.1" cy="159.9" r="1.75"/><circle cx="539.9" cy="163.3" r="1.75"/><circle cx="542.4" cy="193.4" r="1.75"/><circle cx="556.5" cy="189.1" r="1.75"/><circle cx="478.3" cy="157.1" r="1.75"/><circle cx="491.9" cy="147.6" r="1.75"/><circle cx="540.3" cy="172.8" r="1.75"/><circle cx="540.1" cy="203.3" r="1.75"/><circle cx="503.3" cy="204.9" r="1.75"/><circle cx="535.3" cy="197.7" r="1.75"/><circle cx="487.5" cy="154.4" r="1.75"/><circle cx="531.3" cy="190.3" r="1.75"/><circle cx="542.2" cy="158.4" r="1.75"/><circle cx="516.7" cy="143.3" r="1.75"/><circle cx="532.1" cy="157.6" r="1.75"/><circle cx="530.4" cy="169.4" r="1.75"/><circle cx="529.5" cy="197.3" r="1.75"/><circle cx="531.7" cy="200.0" r="1.75"/><circle cx="530.6" cy="194.4" r="1.75"/><circle cx="544.7" cy="182.3" r="1.75"/><circle cx="495.4" cy="148.7" r="1.75"/><circle cx="485.1" cy="168.9" r="1.75"/><circle cx="543.9" cy="160.7" r="1.75"/><circle cx="494.1" cy="156.5" r="1.75"/><circle cx="542.2" cy="200.1" r="1.75"/><circle cx="546.8" cy="147.8" r="1.75"/><circle cx="533.5" cy="178.0" r="1.75"/><circle cx="503.0" cy="152.9" r="1.75"/><circle cx="485.4" cy="190.0" r="1.75"/><circle cx="542.5" cy="152.1" r="1.75"/><circle cx="520.1" cy="196.5" r="1.75"/><circle cx="552.1" cy="194.6" r="1.75"/><circle cx="549.1" cy="166.3" r="1.75"/><circle cx="556.1" cy="179.6" r="1.75"/><circle cx="518.7" cy="157.9" r="1.75"/><circle cx="549.0" cy="170.7" r="1.75"/><circle cx="543.7" cy="171.0" r="1.75"/><circle cx="539.4" cy="166.0" r="1.75"/><circle cx="527.3" cy="163.0" r="1.75"/><circle cx="539.5" cy="189.5" r="1.75"/><circle cx="526.0" cy="154.5" r="1.75"/><circle cx="517.1" cy="198.0" r="1.75"/><circle cx="540.3" cy="182.0" r="1.75"/><circle cx="477.5" cy="159.7" r="1.75"/><circle cx="552.2" cy="160.9" r="1.75"/><circle cx="496.4" cy="151.1" r="1.75"/><circle cx="503.1" cy="149.8" r="1.75"/><circle cx="516.3" cy="146.8" r="1.75"/><circle cx="550.8" cy="159.2" r="1.75"/><circle cx="539.1" cy="156.5" r="1.75"/><circle cx="498.2" cy="152.0" r="1.75"/><circle cx="489.5" cy="151.1" r="1.75"/><circle cx="532.4" cy="185.1" r="1.75"/><circle cx="551.0" cy="178.2" r="1.75"/><circle cx="506.9" cy="207.7" r="1.75"/><circle cx="546.6" cy="153.2" r="1.75"/><circle cx="546.1" cy="171.8" r="1.75"/><circle cx="541.0" cy="169.1" r="1.75"/><circle cx="554.4" cy="191.9" r="1.75"/><circle cx="500.4" cy="201.3" r="1.75"/><circle cx="553.7" cy="156.4" r="1.75"/><circle cx="489.6" cy="154.3" r="1.75"/><circle cx="478.9" cy="165.6" r="1.75"/><circle cx="515.5" cy="202.7" r="1.75"/><circle cx="546.5" cy="175.6" r="1.75"/><circle cx="523.2" cy="198.6" r="1.75"/><circle cx="538.2" cy="178.6" r="1.75"/><circle cx="514.4" cy="151.4" r="1.75"/><circle cx="534.3" cy="202.5" r="1.75"/><circle cx="512.2" cy="147.7" r="1.75"/><circle cx="554.2" cy="188.6" r="1.75"/><circle cx="507.8" cy="146.3" r="1.75"/><circle cx="530.3" cy="162.6" r="1.75"/><circle cx="557.7" cy="178.3" r="1.75"/><circle cx="492.7" cy="158.7" r="1.75"/><circle cx="487.7" cy="156.8" r="1.75"/><circle cx="510.3" cy="154.2" r="1.75"/><circle cx="480.0" cy="174.6" r="1.75"/><circle cx="548.9" cy="183.6" r="1.75"/><circle cx="480.4" cy="153.3" r="1.75"/><circle cx="493.4" cy="145.8" r="1.75"/><circle cx="532.8" cy="167.3" r="1.75"/><circle cx="499.9" cy="148.5" r="1.75"/><circle cx="514.7" cy="198.9" r="1.75"/><circle cx="552.8" cy="173.7" r="1.75"/><circle cx="510.8" cy="206.2" r="1.75"/><circle cx="546.8" cy="204.2" r="1.75"/><circle cx="498.5" cy="154.8" r="1.75"/><circle cx="553.1" cy="166.3" r="1.75"/><circle cx="541.9" cy="202.2" r="1.75"/><circle cx="518.1" cy="204.6" r="1.75"/><circle cx="526.3" cy="200.5" r="1.75"/><circle cx="551.2" cy="180.7" r="1.75"/><circle cx="541.1" cy="196.3" r="1.75"/><circle cx="532.7" cy="172.0" r="1.75"/><circle cx="521.2" cy="199.2" r="1.75"/><circle cx="484.9" cy="152.3" r="1.75"/><circle cx="524.5" cy="194.2" r="1.75"/><circle cx="551.2" cy="153.2" r="1.75"/><circle cx="506.9" cy="152.5" r="1.75"/><circle cx="517.1" cy="154.4" r="1.75"/><circle cx="547.6" cy="188.3" r="1.75"/><circle cx="554.4" cy="159.5" r="1.75"/><circle cx="485.6" cy="165.5" r="1.75"/><circle cx="501.3" cy="204.2" r="1.75"/><circle cx="556.5" cy="193.0" r="1.75"/><circle cx="481.2" cy="165.1" r="1.75"/><circle cx="512.6" cy="199.2" r="1.75"/><circle cx="513.3" cy="205.8" r="1.75"/><circle cx="484.0" cy="172.2" r="1.75"/><circle cx="544.4" cy="153.2" r="1.75"/><circle cx="481.4" cy="156.6" r="1.75"/><circle cx="534.4" cy="208.2" r="1.75"/><circle cx="480.1" cy="189.4" r="1.75"/><circle cx="541.1" cy="154.8" r="1.75"/><circle cx="540.8" cy="147.6" r="1.75"/><circle cx="488.3" cy="149.0" r="1.75"/><circle cx="521.3" cy="153.9" r="1.75"/><circle cx="503.2" cy="207.0" r="1.75"/><circle cx="532.1" cy="207.0" r="1.75"/><circle cx="504.2" cy="156.3" r="1.75"/><circle cx="517.1" cy="156.5" r="1.75"/><circle cx="478.1" cy="171.2" r="1.75"/><circle cx="492.6" cy="154.0" r="1.75"/><circle cx="524.3" cy="205.5" r="1.75"/><circle cx="552.9" cy="171.3" r="1.75"/><circle cx="511.3" cy="202.3" r="1.75"/><circle cx="549.1" cy="162.0" r="1.75"/><circle cx="500.9" cy="146.6" r="1.75"/><circle cx="484.5" cy="182.6" r="1.75"/><circle cx="534.2" cy="143.9" r="1.75"/><circle cx="544.7" cy="186.7" r="1.75"/><circle cx="494.4" cy="196.7" r="1.75"/><circle cx="538.0" cy="175.1" r="1.75"/><circle cx="511.0" cy="151.0" r="1.75"/><circle cx="552.4" cy="176.5" r="1.75"/><circle cx="546.1" cy="161.0" r="1.75"/><circle cx="532.1" cy="153.4" r="1.75"/><circle cx="557.6" cy="186.9" r="1.75"/><circle cx="485.5" cy="192.3" r="1.75"/><circle cx="502.7" cy="145.3" r="1.75"/><circle cx="501.8" cy="156.6" r="1.75"/><circle cx="537.1" cy="156.7" r="1.75"/><circle cx="551.0" cy="163.9" r="1.75"/><circle cx="493.2" cy="194.9" r="1.75"/><circle cx="518.1" cy="148.0" r="1.75"/><circle cx="517.8" cy="202.6" r="1.75"/><circle cx="521.7" cy="158.1" r="1.75"/><circle cx="537.9" cy="196.0" r="1.75"/><circle cx="534.3" cy="193.8" r="1.75"/><circle cx="528.3" cy="151.6" r="1.75"/><circle cx="527.7" cy="160.3" r="1.75"/><circle cx="525.3" cy="203.0" r="1.75"/><circle cx="539.6" cy="187.2" r="1.75"/><circle cx="520.7" cy="201.7" r="1.75"/><circle cx="555.5" cy="157.6" r="1.75"/><circle cx="526.6" cy="149.7" r="1.75"/><circle cx="554.0" cy="178.3" r="1.75"/><circle cx="477.7" cy="189.3" r="1.75"/><circle cx="549.0" cy="193.6" r="1.75"/><circle cx="482.5" cy="162.9" r="1.75"/><circle cx="518.9" cy="151.8" r="1.75"/><circle cx="548.3" cy="157.0" r="1.75"/><circle cx="555.1" cy="161.6" r="1.75"/><circle cx="531.9" cy="147.6" r="1.75"/><circle cx="476.9" cy="179.0" r="1.75"/><circle cx="551.4" cy="186.4" r="1.75"/><circle cx="544.1" cy="156.8" r="1.75"/><circle cx="545.7" cy="168.1" r="1.75"/><circle cx="546.1" cy="158.7" r="1.75"/><circle cx="494.3" cy="160.1" r="1.75"/><circle cx="554.8" cy="174.5" r="1.75"/><circle cx="512.6" cy="144.9" r="1.75"/><circle cx="485.5" cy="160.7" r="1.75"/><circle cx="481.4" cy="183.5" r="1.75"/><circle cx="536.2" cy="181.6" r="1.75"/><circle cx="476.9" cy="167.0" r="1.75"/><circle cx="529.6" cy="166.1" r="1.75"/><circle cx="548.6" cy="175.3" r="1.75"/><circle cx="520.5" cy="208.7" r="1.75"/><circle cx="524.8" cy="157.9" r="1.75"/><circle cx="505.5" cy="150.2" r="1.75"/><circle cx="476.7" cy="181.0" r="1.75"/><circle cx="534.6" cy="204.6" r="1.75"/><circle cx="476.6" cy="176.1" r="1.75"/><circle cx="536.9" cy="154.2" r="1.75"/><circle cx="492.7" cy="151.7" r="1.75"/><circle cx="556.2" cy="169.3" r="1.75"/><circle cx="534.4" cy="173.5" r="1.75"/><circle cx="491.8" cy="156.4" r="1.75"/><circle cx="544.9" cy="198.7" r="1.75"/><circle cx="535.5" cy="176.8" r="1.75"/><circle cx="536.3" cy="199.7" r="1.75"/><circle cx="538.7" cy="191.4" r="1.75"/><circle cx="481.1" cy="171.2" r="1.75"/><circle cx="523.7" cy="208.6" r="1.75"/><circle cx="481.3" cy="186.3" r="1.75"/><circle cx="528.0" cy="156.6" r="1.75"/><circle cx="487.8" cy="191.8" r="1.75"/><circle cx="532.7" cy="149.9" r="1.75"/><circle cx="545.8" cy="150.1" r="1.75"/><circle cx="532.5" cy="162.4" r="1.75"/><circle cx="522.7" cy="196.4" r="1.75"/><circle cx="544.1" cy="190.2" r="1.75"/><circle cx="484.3" cy="157.4" r="1.75"/><circle cx="538.7" cy="193.6" r="1.75"/><circle cx="545.3" cy="196.6" r="1.75"/><circle cx="542.2" cy="183.8" r="1.75"/><circle cx="547.1" cy="185.7" r="1.75"/><circle cx="538.0" cy="162.4" r="1.75"/><circle cx="530.5" cy="186.3" r="1.75"/><circle cx="477.4" cy="183.5" r="1.75"/><circle cx="511.7" cy="156.3" r="1.75"/><circle cx="531.2" cy="173.9" r="1.75"/><circle cx="489.3" cy="160.7" r="1.75"/><circle cx="528.0" cy="192.2" r="1.75"/><circle cx="545.5" cy="205.8" r="1.75"/><circle cx="543.0" cy="197.3" r="1.75"/><circle cx="521.0" cy="144.2" r="1.75"/><circle cx="483.2" cy="153.7" r="1.75"/><circle cx="547.5" cy="191.6" r="1.75"/><circle cx="484.0" cy="193.8" r="1.75"/><circle cx="487.7" cy="146.9" r="1.75"/><circle cx="542.9" cy="149.9" r="1.75"/><circle cx="521.0" cy="150.7" r="1.75"/><circle cx="543.2" cy="147.2" r="1.75"/><circle cx="522.2" cy="205.4" r="1.75"/><circle cx="481.8" cy="167.4" r="1.75"/><circle cx="540.3" cy="179.1" r="1.75"/><circle cx="524.4" cy="145.6" r="1.75"/><circle cx="527.1" cy="207.4" r="1.75"/><circle cx="541.8" cy="166.9" r="1.75"/><circle cx="501.1" cy="152.1" r="1.75"/><circle cx="484.9" cy="185.8" r="1.75"/><circle cx="489.2" cy="163.1" r="1.75"/><circle cx="556.6" cy="173.0" r="1.75"/><circle cx="549.7" cy="189.5" r="1.75"/><circle cx="500.5" cy="198.7" r="1.75"/><circle cx="525.3" cy="147.3" r="1.75"/><circle cx="539.8" cy="197.9" r="1.75"/><circle cx="512.5" cy="208.0" r="1.75"/><circle cx="534.0" cy="181.6" r="1.75"/><circle cx="526.6" cy="143.5" r="1.75"/><circle cx="537.8" cy="170.7" r="1.75"/><circle cx="533.0" cy="165.1" r="1.75"/><circle cx="499.5" cy="144.7" r="1.75"/><circle cx="483.4" cy="177.6" r="1.75"/><circle cx="495.2" cy="153.5" r="1.75"/><circle cx="535.6" cy="178.8" r="1.75"/><circle cx="534.5" cy="155.0" r="1.75"/><circle cx="478.8" cy="180.9" r="1.75"/><circle cx="547.2" cy="180.3" r="1.75"/><circle cx="480.5" cy="159.6" r="1.75"/><circle cx="536.0" cy="167.8" r="1.75"/><circle cx="541.5" cy="205.6" r="1.75"/><circle cx="536.3" cy="165.8" r="1.75"/><circle cx="508.6" cy="143.3" r="1.75"/><circle cx="507.1" cy="202.4" r="1.75"/><circle cx="523.6" cy="155.8" r="1.75"/><circle cx="555.6" cy="182.0" r="1.75"/><circle cx="554.2" cy="168.1" r="1.75"/><circle cx="543.3" cy="165.3" r="1.75"/><circle cx="485.8" cy="155.8" r="1.75"/><circle cx="515.0" cy="148.9" r="1.75"/><circle cx="486.6" cy="162.7" r="1.75"/><circle cx="478.8" cy="193.3" r="1.75"/><circle cx="539.5" cy="152.3" r="1.75"/><circle cx="509.7" cy="145.0" r="1.75"/><circle cx="496.5" cy="158.0" r="1.75"/><circle cx="483.4" cy="189.3" r="1.75"/><circle cx="543.6" cy="168.2" r="1.75"/><circle cx="530.5" cy="150.5" r="1.75"/><circle cx="497.4" cy="201.1" r="1.75"/><circle cx="539.7" cy="206.9" r="1.75"/><circle cx="515.4" cy="207.0" r="1.75"/><circle cx="533.5" cy="189.0" r="1.75"/><circle cx="543.5" cy="179.1" r="1.75"/><circle cx="546.7" cy="164.6" r="1.75"/><circle cx="534.6" cy="148.7" r="1.75"/><circle cx="547.5" cy="197.3" r="1.75"/><circle cx="482.5" cy="173.7" r="1.75"/><circle cx="526.7" cy="196.6" r="1.75"/><circle cx="508.9" cy="148.2" r="1.75"/><circle cx="499.6" cy="157.9" r="1.75"/><circle cx="518.9" cy="199.1" r="1.75"/><circle cx="532.4" cy="204.0" r="1.75"/><circle cx="476.6" cy="150.4" r="1.75"/><circle cx="567.9" cy="158.1" r="1.75"/><circle cx="479.4" cy="145.1" r="1.75"/><circle cx="502.4" cy="211.3" r="1.75"/><circle cx="472.4" cy="152.8" r="1.75"/><circle cx="504.5" cy="141.8" r="1.75"/></g>
<rect x="437.50" y="15.50" width="232.00" height="232.00" fill="none" stroke="#505050" stroke-width="1.4"/>
<line x1="437.50" y1="247.50" x2="437.50" y2="260.00" stroke="#505050" stroke-width="1.4" />
<text x="437.50" y="275.00" font-size="16.8" text-anchor="middle" font-weight="normal" fill="#151515" stroke="#151515" stroke-width="0.3">0</text>
<line x1="495.50" y1="247.50" x2="495.50" y2="260.00" stroke="#505050" stroke-width="1.4" />
<text x="495.50" y="275.00" font-size="16.8" text-anchor="middle" font-weight="normal" fill="#151515" stroke="#151515" stroke-width="0.3">10</text>
<line x1="553.50" y1="247.50" x2="553.50" y2="260.00" stroke="#505050" stroke-width="1.4" />
<text x="553.50" y="275.00" font-size="16.8" text-anchor="middle" font-weight="normal" fill="#151515" stroke="#151515" stroke-width="0.3">20</text>
<line x1="611.50" y1="247.50" x2="611.50" y2="260.00" stroke="#505050" stroke-width="1.4" />
<text x="611.50" y="275.00" font-size="16.8" text-anchor="middle" font-weight="normal" fill="#151515" stroke="#151515" stroke-width="0.3">30</text>
<line x1="669.50" y1="247.50" x2="669.50" y2="260.00" stroke="#505050" stroke-width="1.4" />
<text x="669.50" y="275.00" font-size="16.8" text-anchor="middle" font-weight="normal" fill="#151515" stroke="#151515" stroke-width="0.3">40</text>
<line x1="466.50" y1="247.50" x2="466.50" y2="253.50" stroke="#505050" stroke-width="1.4" />
<line x1="524.50" y1="247.50" x2="524.50" y2="253.50" stroke="#505050" stroke-width="1.4" />
<line x1="582.50" y1="247.50" x2="582.50" y2="253.50" stroke="#505050" stroke-width="1.4" />
<line x1="640.50" y1="247.50" x2="640.50" y2="253.50" stroke="#505050" stroke-width="1.4" />
<line x1="425.00" y1="247.50" x2="437.50" y2="247.50" stroke="#505050" stroke-width="1.4" />
<text x="422.70" y="252.30" font-size="16.8" text-anchor="end" font-weight="normal" fill="#151515" stroke="#151515" stroke-width="0.3">0</text>
<line x1="425.00" y1="189.50" x2="437.50" y2="189.50" stroke="#505050" stroke-width="1.4" />
<text x="422.70" y="194.30" font-size="16.8" text-anchor="end" font-weight="normal" fill="#151515" stroke="#151515" stroke-width="0.3">10</text>
<line x1="425.00" y1="131.50" x2="437.50" y2="131.50" stroke="#505050" stroke-width="1.4" />
<text x="422.70" y="136.30" font-size="16.8" text-anchor="end" font-weight="normal" fill="#151515" stroke="#151515" stroke-width="0.3">20</text>
<line x1="425.00" y1="73.50" x2="437.50" y2="73.50" stroke="#505050" stroke-width="1.4" />
<text x="422.70" y="78.30" font-size="16.8" text-anchor="end" font-weight="normal" fill="#151515" stroke="#151515" stroke-width="0.3">30</text>
<line x1="425.00" y1="15.50" x2="437.50" y2="15.50" stroke="#505050" stroke-width="1.4" />
<text x="422.70" y="20.30" font-size="16.8" text-anchor="end" font-weight="normal" fill="#151515" stroke="#151515" stroke-width="0.3">40</text>
<line x1="431.50" y1="218.50" x2="437.50" y2="218.50" stroke="#505050" stroke-width="1.4" />
<line x1="431.50" y1="160.50" x2="437.50" y2="160.50" stroke="#505050" stroke-width="1.4" />
<line x1="431.50" y1="102.50" x2="437.50" y2="102.50" stroke="#505050" stroke-width="1.4" />
<line x1="431.50" y1="44.50" x2="437.50" y2="44.50" stroke="#505050" stroke-width="1.4" />
<polyline points="73.5,447.5 110.0,443.0 150.0,439.5 180.0,438.3 210.0,436.5 240.0,432.0 272.6,426.1" fill="none" stroke="#ff3030" stroke-width="1.3"/>
<polyline points="73.5,465.7 110.0,465.6 150.0,465.3 180.0,463.5 210.0,458.0 240.0,451.0 272.6,444.4" fill="none" stroke="#3a3aff" stroke-width="1.3"/>
<polyline points="73.5,478.7 110.0,482.7 150.0,487.0 180.0,489.0 210.0,493.0 240.0,496.5 272.6,500.3" fill="none" stroke="#ff3030" stroke-width="1.3"/>
<polyline points="455.2,420.5 473.8,429.8 497.0,438.3 520.0,439.5 548.4,438.4 595.0,436.0 635.0,432.5 674.0,428.8" fill="none" stroke="#ff3030" stroke-width="1.3"/>
<polyline points="455.2,430.3 473.0,443.0 497.0,456.0 520.0,466.0 548.0,472.5 571.7,475.0 600.0,478.0 625.4,480.2 674.0,479.0" fill="none" stroke="#3a3aff" stroke-width="1.3"/>
<polyline points="455.2,501.1 481.5,488.0 505.0,482.0 533.5,481.0 548.4,482.0 595.0,486.0 635.0,489.5 674.0,492.6" fill="none" stroke="#ff3030" stroke-width="1.3"/>
<line x1="65.30" y1="403.40" x2="303.00" y2="403.40" stroke="#444" stroke-width="1.45" stroke-dasharray="2.4 1.35"/>
<line x1="65.30" y1="523.00" x2="303.00" y2="523.00" stroke="#444" stroke-width="1.45" stroke-dasharray="2.4 1.35"/>
<line x1="64.80" y1="463.30" x2="303.00" y2="463.30" stroke="#111" stroke-width="1.3" />
<path d="M121.15 347.1a1.75 1.75 0 1 0 -3.5 0a1.75 1.75 0 1 0 3.5 0M117.45 356.2a1.75 1.75 0 1 0 -3.5 0a1.75 1.75 0 1 0 3.5 0M113.75 378.1a1.75 1.75 0 1 0 -3.5 0a1.75 1.75 0 1 0 3.5 0M150.05 386.1a1.75 1.75 0 1 0 -3.5 0a1.75 1.75 0 1 0 3.5 0M157.65 383.2a1.75 1.75 0 1 0 -3.5 0a1.75 1.75 0 1 0 3.5 0M159.75 392.7a1.75 1.75 0 1 0 -3.5 0a1.75 1.75 0 1 0 3.5 0M169.35 391.7a1.75 1.75 0 1 0 -3.5 0a1.75 1.75 0 1 0 3.5 0M176.85 397.7a1.75 1.75 0 1 0 -3.5 0a1.75 1.75 0 1 0 3.5 0M117.45 394.0a1.75 1.75 0 1 0 -3.5 0a1.75 1.75 0 1 0 3.5 0M127.15 398.0a1.75 1.75 0 1 0 -3.5 0a1.75 1.75 0 1 0 3.5 0M132.75 395.3a1.75 1.75 0 1 0 -3.5 0a1.75 1.75 0 1 0 3.5 0M146.15 395.8a1.75 1.75 0 1 0 -3.5 0a1.75 1.75 0 1 0 3.5 0M151.75 396.7a1.75 1.75 0 1 0 -3.5 0a1.75 1.75 0 1 0 3.5 0M115.65 402.9a1.75 1.75 0 1 0 -3.5 0a1.75 1.75 0 1 0 3.5 0M130.45 401.8a1.75 1.75 0 1 0 -3.5 0a1.75 1.75 0 1 0 3.5 0M132.75 402.7a1.75 1.75 0 1 0 -3.5 0a1.75 1.75 0 1 0 3.5 0M138.65 402.5a1.75 1.75 0 1 0 -3.5 0a1.75 1.75 0 1 0 3.5 0M149.85 402.9a1.75 1.75 0 1 0 -3.5 0a1.75 1.75 0 1 0 3.5 0M151.75 406.0a1.75 1.75 0 1 0 -3.5 0a1.75 1.75 0 1 0 3.5 0M124.95 406.0a1.75 1.75 0 1 0 -3.5 0a1.75 1.75 0 1 0 3.5 0M157.65 408.5a1.75 1.75 0 1 0 -3.5 0a1.75 1.75 0 1 0 3.5 0M130.85 410.7a1.75 1.75 0 1 0 -3.5 0a1.75 1.75 0 1 0 3.5 0M129.05 413.5a1.75 1.75 0 1 0 -3.5 0a1.75 1.75 0 1 0 3.5 0M130.85 414.4a1.75 1.75 0 1 0 -3.5 0a1.75 1.75 0 1 0 3.5 0M115.65 419.6a1.75 1.75 0 1 0 -3.5 0a1.75 1.75 0 1 0 3.5 0M121.15 417.2a1.75 1.75 0 1 0 -3.5 0a1.75 1.75 0 1 0 3.5 0M125.65 420.9a1.75 1.75 0 1 0 -3.5 0a1.75 1.75 0 1 0 3.5 0M130.85 421.9a1.75 1.75 0 1 0 -3.5 0a1.75 1.75 0 1 0 3.5 0M136.45 421.9a1.75 1.75 0 1 0 -3.5 0a1.75 1.75 0 1 0 3.5 0M137.35 417.8a1.75 1.75 0 1 0 -3.5 0a1.75 1.75 0 1 0 3.5 0M142.05 417.2a1.75 1.75 0 1 0 -3.5 0a1.75 1.75 0 1 0 3.5 0M144.85 418.1a1.75 1.75 0 1 0 -3.5 0a1.75 1.75 0 1 0 3.5 0M151.75 417.2a1.75 1.75 0 1 0 -3.5 0a1.75 1.75 0 1 0 3.5 0M156.95 418.1a1.75 1.75 0 1 0 -3.5 0a1.75 1.75 0 1 0 3.5 0M161.55 416.7a1.75 1.75 0 1 0 -3.5 0a1.75 1.75 0 1 0 3.5 0M167.15 420.4a1.75 1.75 0 1 0 -3.5 0a1.75 1.75 0 1 0 3.5 0M172.75 418.1a1.75 1.75 0 1 0 -3.5 0a1.75 1.75 0 1 0 3.5 0M175.55 415.3a1.75 1.75 0 1 0 -3.5 0a1.75 1.75 0 1 0 3.5 0M178.35 420.4a1.75 1.75 0 1 0 -3.5 0a1.75 1.75 0 1 0 3.5 0M184.45 419.1a1.75 1.75 0 1 0 -3.5 0a1.75 1.75 0 1 0 3.5 0M147.65 422.8a1.75 1.75 0 1 0 -3.5 0a1.75 1.75 0 1 0 3.5 0M153.15 425.6a1.75 1.75 0 1 0 -3.5 0a1.75 1.75 0 1 0 3.5 0M158.75 424.7a1.75 1.75 0 1 0 -3.5 0a1.75 1.75 0 1 0 3.5 0M163.45 422.8a1.75 1.75 0 1 0 -3.5 0a1.75 1.75 0 1 0 3.5 0M75.45 449.8a1.75 1.75 0 1 0 -3.5 0a1.75 1.75 0 1 0 3.5 0M110.05 454.4a1.75 1.75 0 1 0 -3.5 0a1.75 1.75 0 1 0 3.5 0M142.05 424.7a1.75 1.75 0 1 0 -3.5 0a1.75 1.75 0 1 0 3.5 0M140.15 428.4a1.75 1.75 0 1 0 -3.5 0a1.75 1.75 0 1 0 3.5 0M143.85 429.3a1.75 1.75 0 1 0 -3.5 0a1.75 1.75 0 1 0 3.5 0M147.65 427.4a1.75 1.75 0 1 0 -3.5 0a1.75 1.75 0 1 0 3.5 0M154.15 427.4a1.75 1.75 0 1 0 -3.5 0a1.75 1.75 0 1 0 3.5 0M159.75 427.4a1.75 1.75 0 1 0 -3.5 0a1.75 1.75 0 1 0 3.5 0M162.45 431.2a1.75 1.75 0 1 0 -3.5 0a1.75 1.75 0 1 0 3.5 0M167.15 425.6a1.75 1.75 0 1 0 -3.5 0a1.75 1.75 0 1 0 3.5 0M170.85 431.2a1.75 1.75 0 1 0 -3.5 0a1.75 1.75 0 1 0 3.5 0M175.55 432.1a1.75 1.75 0 1 0 -3.5 0a1.75 1.75 0 1 0 3.5 0M177.35 424.7a1.75 1.75 0 1 0 -3.5 0a1.75 1.75 0 1 0 3.5 0M182.05 434.9a1.75 1.75 0 1 0 -3.5 0a1.75 1.75 0 1 0 3.5 0M184.85 427.4a1.75 1.75 0 1 0 -3.5 0a1.75 1.75 0 1 0 3.5 0M115.05 433.0a1.75 1.75 0 1 0 -3.5 0a1.75 1.75 0 1 0 3.5 0M119.75 432.1a1.75 1.75 0 1 0 -3.5 0a1.75 1.75 0 1 0 3.5 0M123.45 432.1a1.75 1.75 0 1 0 -3.5 0a1.75 1.75 0 1 0 3.5 0M127.15 432.1a1.75 1.75 0 1 0 -3.5 0a1.75 1.75 0 1 0 3.5 0M131.75 434.9a1.75 1.75 0 1 0 -3.5 0a1.75 1.75 0 1 0 3.5 0M135.55 436.7a1.75 1.75 0 1 0 -3.5 0a1.75 1.75 0 1 0 3.5 0M139.25 434.9a1.75 1.75 0 1 0 -3.5 0a1.75 1.75 0 1 0 3.5 0M143.85 434.0a1.75 1.75 0 1 0 -3.5 0a1.75 1.75 0 1 0 3.5 0M147.65 436.7a1.75 1.75 0 1 0 -3.5 0a1.75 1.75 0 1 0 3.5 0M153.15 435.8a1.75 1.75 0 1 0 -3.5 0a1.75 1.75 0 1 0 3.5 0M156.95 434.0a1.75 1.75 0 1 0 -3.5 0a1.75 1.75 0 1 0 3.5 0M194.25 359.0a1.75 1.75 0 1 0 -3.5 0a1.75 1.75 0 1 0 3.5 0M209.25 357.1a1.75 1.75 0 1 0 -3.5 0a1.75 1.75 0 1 0 3.5 0M236.05 359.3a1.75 1.75 0 1 0 -3.5 0a1.75 1.75 0 1 0 3.5 0M226.45 371.6a1.75 1.75 0 1 0 -3.5 0a1.75 1.75 0 1 0 3.5 0M226.45 380.6a1.75 1.75 0 1 0 -3.5 0a1.75 1.75 0 1 0 3.5 0M194.25 391.7a1.75 1.75 0 1 0 -3.5 0a1.75 1.75 0 1 0 3.5 0M199.75 395.8a1.75 1.75 0 1 0 -3.5 0a1.75 1.75 0 1 0 3.5 0M196.25 399.9a1.75 1.75 0 1 0 -3.5 0a1.75 1.75 0 1 0 3.5 0M199.45 400.5a1.75 1.75 0 1 0 -3.5 0a1.75 1.75 0 1 0 3.5 0M201.25 403.3a1.75 1.75 0 1 0 -3.5 0a1.75 1.75 0 1 0 3.5 0M207.45 397.7a1.75 1.75 0 1 0 -3.5 0a1.75 1.75 0 1 0 3.5 0M209.25 404.2a1.75 1.75 0 1 0 -3.5 0a1.75 1.75 0 1 0 3.5 0M220.85 396.7a1.75 1.75 0 1 0 -3.5 0a1.75 1.75 0 1 0 3.5 0M222.65 399.5a1.75 1.75 0 1 0 -3.5 0a1.75 1.75 0 1 0 3.5 0M226.45 395.4a1.75 1.75 0 1 0 -3.5 0a1.75 1.75 0 1 0 3.5 0M229.15 398.6a1.75 1.75 0 1 0 -3.5 0a1.75 1.75 0 1 0 3.5 0M232.35 398.6a1.75 1.75 0 1 0 -3.5 0a1.75 1.75 0 1 0 3.5 0M228.25 403.3a1.75 1.75 0 1 0 -3.5 0a1.75 1.75 0 1 0 3.5 0M229.15 405.1a1.75 1.75 0 1 0 -3.5 0a1.75 1.75 0 1 0 3.5 0M230.45 408.8a1.75 1.75 0 1 0 -3.5 0a1.75 1.75 0 1 0 3.5 0M234.25 412.6a1.75 1.75 0 1 0 -3.5 0a1.75 1.75 0 1 0 3.5 0M237.95 418.5a1.75 1.75 0 1 0 -3.5 0a1.75 1.75 0 1 0 3.5 0M230.15 416.7a1.75 1.75 0 1 0 -3.5 0a1.75 1.75 0 1 0 3.5 0M227.85 418.5a1.75 1.75 0 1 0 -3.5 0a1.75 1.75 0 1 0 3.5 0M191.95 413.9a1.75 1.75 0 1 0 -3.5 0a1.75 1.75 0 1 0 3.5 0M198.15 409.8a1.75 1.75 0 1 0 -3.5 0a1.75 1.75 0 1 0 3.5 0M197.55 412.9a1.75 1.75 0 1 0 -3.5 0a1.75 1.75 0 1 0 3.5 0M199.45 417.8a1.75 1.75 0 1 0 -3.5 0a1.75 1.75 0 1 0 3.5 0M207.45 417.2a1.75 1.75 0 1 0 -3.5 0a1.75 1.75 0 1 0 3.5 0M209.65 415.3a1.75 1.75 0 1 0 -3.5 0a1.75 1.75 0 1 0 3.5 0M211.55 420.9a1.75 1.75 0 1 0 -3.5 0a1.75 1.75 0 1 0 3.5 0M189.15 430.2a1.75 1.75 0 1 0 -3.5 0a1.75 1.75 0 1 0 3.5 0M190.65 433.0a1.75 1.75 0 1 0 -3.5 0a1.75 1.75 0 1 0 3.5 0M195.75 436.7a1.75 1.75 0 1 0 -3.5 0a1.75 1.75 0 1 0 3.5 0M203.75 429.3a1.75 1.75 0 1 0 -3.5 0a1.75 1.75 0 1 0 3.5 0M205.95 433.0a1.75 1.75 0 1 0 -3.5 0a1.75 1.75 0 1 0 3.5 0M206.85 427.4a1.75 1.75 0 1 0 -3.5 0a1.75 1.75 0 1 0 3.5 0M212.45 424.7a1.75 1.75 0 1 0 -3.5 0a1.75 1.75 0 1 0 3.5 0M217.05 425.6a1.75 1.75 0 1 0 -3.5 0a1.75 1.75 0 1 0 3.5 0M218.95 430.2a1.75 1.75 0 1 0 -3.5 0a1.75 1.75 0 1 0 3.5 0M222.65 427.8a1.75 1.75 0 1 0 -3.5 0a1.75 1.75 0 1 0 3.5 0M226.45 426.0a1.75 1.75 0 1 0 -3.5 0a1.75 1.75 0 1 0 3.5 0M230.45 426.5a1.75 1.75 0 1 0 -3.5 0a1.75 1.75 0 1 0 3.5 0M204.05 437.7a1.75 1.75 0 1 0 -3.5 0a1.75 1.75 0 1 0 3.5 0M207.75 440.5a1.75 1.75 0 1 0 -3.5 0a1.75 1.75 0 1 0 3.5 0M213.35 437.7a1.75 1.75 0 1 0 -3.5 0a1.75 1.75 0 1 0 3.5 0M217.05 435.8a1.75 1.75 0 1 0 -3.5 0a1.75 1.75 0 1 0 3.5 0M228.25 436.7a1.75 1.75 0 1 0 -3.5 0a1.75 1.75 0 1 0 3.5 0M228.25 440.5a1.75 1.75 0 1 0 -3.5 0a1.75 1.75 0 1 0 3.5 0M230.15 443.3a1.75 1.75 0 1 0 -3.5 0a1.75 1.75 0 1 0 3.5 0M225.45 443.3a1.75 1.75 0 1 0 -3.5 0a1.75 1.75 0 1 0 3.5 0M220.85 444.2a1.75 1.75 0 1 0 -3.5 0a1.75 1.75 0 1 0 3.5 0M221.75 447.9a1.75 1.75 0 1 0 -3.5 0a1.75 1.75 0 1 0 3.5 0M218.95 449.8a1.75 1.75 0 1 0 -3.5 0a1.75 1.75 0 1 0 3.5 0M215.25 452.6a1.75 1.75 0 1 0 -3.5 0a1.75 1.75 0 1 0 3.5 0M209.65 450.7a1.75 1.75 0 1 0 -3.5 0a1.75 1.75 0 1 0 3.5 0M204.05 447.9a1.75 1.75 0 1 0 -3.5 0a1.75 1.75 0 1 0 3.5 0M199.45 449.8a1.75 1.75 0 1 0 -3.5 0a1.75 1.75 0 1 0 3.5 0M234.25 447.5a1.75 1.75 0 1 0 -3.5 0a1.75 1.75 0 1 0 3.5 0M223.05 453.5a1.75 1.75 0 1 0 -3.5 0a1.75 1.75 0 1 0 3.5 0M192.95 440.5a1.75 1.75 0 1 0 -3.5 0a1.75 1.75 0 1 0 3.5 0M194.75 443.3a1.75 1.75 0 1 0 -3.5 0a1.75 1.75 0 1 0 3.5 0M189.15 444.2a1.75 1.75 0 1 0 -3.5 0a1.75 1.75 0 1 0 3.5 0M185.45 447.0a1.75 1.75 0 1 0 -3.5 0a1.75 1.75 0 1 0 3.5 0M183.65 449.8a1.75 1.75 0 1 0 -3.5 0a1.75 1.75 0 1 0 3.5 0M188.25 448.8a1.75 1.75 0 1 0 -3.5 0a1.75 1.75 0 1 0 3.5 0M191.95 451.6a1.75 1.75 0 1 0 -3.5 0a1.75 1.75 0 1 0 3.5 0M195.75 453.5a1.75 1.75 0 1 0 -3.5 0a1.75 1.75 0 1 0 3.5 0M199.45 454.4a1.75 1.75 0 1 0 -3.5 0a1.75 1.75 0 1 0 3.5 0M204.05 456.3a1.75 1.75 0 1 0 -3.5 0a1.75 1.75 0 1 0 3.5 0M207.75 457.2a1.75 1.75 0 1 0 -3.5 0a1.75 1.75 0 1 0 3.5 0M187.35 454.4a1.75 1.75 0 1 0 -3.5 0a1.75 1.75 0 1 0 3.5 0M183.65 457.2a1.75 1.75 0 1 0 -3.5 0a1.75 1.75 0 1 0 3.5 0M212.45 458.1a1.75 1.75 0 1 0 -3.5 0a1.75 1.75 0 1 0 3.5 0M230.15 459.1a1.75 1.75 0 1 0 -3.5 0a1.75 1.75 0 1 0 3.5 0M234.75 459.1a1.75 1.75 0 1 0 -3.5 0a1.75 1.75 0 1 0 3.5 0M239.45 460.0a1.75 1.75 0 1 0 -3.5 0a1.75 1.75 0 1 0 3.5 0M87.15 465.6a1.75 1.75 0 1 0 -3.5 0a1.75 1.75 0 1 0 3.5 0M94.55 479.2a1.75 1.75 0 1 0 -3.5 0a1.75 1.75 0 1 0 3.5 0M98.35 479.2a1.75 1.75 0 1 0 -3.5 0a1.75 1.75 0 1 0 3.5 0M103.85 478.2a1.75 1.75 0 1 0 -3.5 0a1.75 1.75 0 1 0 3.5 0M106.35 476.4a1.75 1.75 0 1 0 -3.5 0a1.75 1.75 0 1 0 3.5 0M109.45 485.7a1.75 1.75 0 1 0 -3.5 0a1.75 1.75 0 1 0 3.5 0M95.55 498.7a1.75 1.75 0 1 0 -3.5 0a1.75 1.75 0 1 0 3.5 0M108.15 500.6a1.75 1.75 0 1 0 -3.5 0a1.75 1.75 0 1 0 3.5 0M115.65 492.6a1.75 1.75 0 1 0 -3.5 0a1.75 1.75 0 1 0 3.5 0M115.65 500.6a1.75 1.75 0 1 0 -3.5 0a1.75 1.75 0 1 0 3.5 0M115.65 508.0a1.75 1.75 0 1 0 -3.5 0a1.75 1.75 0 1 0 3.5 0M119.75 500.0a1.75 1.75 0 1 0 -3.5 0a1.75 1.75 0 1 0 3.5 0M121.55 504.7a1.75 1.75 0 1 0 -3.5 0a1.75 1.75 0 1 0 3.5 0M124.95 513.0a1.75 1.75 0 1 0 -3.5 0a1.75 1.75 0 1 0 3.5 0M129.05 509.3a1.75 1.75 0 1 0 -3.5 0a1.75 1.75 0 1 0 3.5 0M132.75 513.0a1.75 1.75 0 1 0 -3.5 0a1.75 1.75 0 1 0 3.5 0M130.85 517.7a1.75 1.75 0 1 0 -3.5 0a1.75 1.75 0 1 0 3.5 0M133.65 519.5a1.75 1.75 0 1 0 -3.5 0a1.75 1.75 0 1 0 3.5 0M117.85 521.0a1.75 1.75 0 1 0 -3.5 0a1.75 1.75 0 1 0 3.5 0M121.55 524.7a1.75 1.75 0 1 0 -3.5 0a1.75 1.75 0 1 0 3.5 0M127.15 525.1a1.75 1.75 0 1 0 -3.5 0a1.75 1.75 0 1 0 3.5 0M134.95 524.2a1.75 1.75 0 1 0 -3.5 0a1.75 1.75 0 1 0 3.5 0M142.05 529.2a1.75 1.75 0 1 0 -3.5 0a1.75 1.75 0 1 0 3.5 0M147.65 529.2a1.75 1.75 0 1 0 -3.5 0a1.75 1.75 0 1 0 3.5 0M151.85 530.7a1.75 1.75 0 1 0 -3.5 0a1.75 1.75 0 1 0 3.5 0M136.45 534.4a1.75 1.75 0 1 0 -3.5 0a1.75 1.75 0 1 0 3.5 0M157.85 534.4a1.75 1.75 0 1 0 -3.5 0a1.75 1.75 0 1 0 3.5 0M157.85 519.2a1.75 1.75 0 1 0 -3.5 0a1.75 1.75 0 1 0 3.5 0M159.75 522.3a1.75 1.75 0 1 0 -3.5 0a1.75 1.75 0 1 0 3.5 0M166.25 521.4a1.75 1.75 0 1 0 -3.5 0a1.75 1.75 0 1 0 3.5 0M172.75 519.2a1.75 1.75 0 1 0 -3.5 0a1.75 1.75 0 1 0 3.5 0M171.75 523.3a1.75 1.75 0 1 0 -3.5 0a1.75 1.75 0 1 0 3.5 0M173.65 527.9a1.75 1.75 0 1 0 -3.5 0a1.75 1.75 0 1 0 3.5 0M182.95 519.9a1.75 1.75 0 1 0 -3.5 0a1.75 1.75 0 1 0 3.5 0M184.85 532.2a1.75 1.75 0 1 0 -3.5 0a1.75 1.75 0 1 0 3.5 0M177.05 514.0a1.75 1.75 0 1 0 -3.5 0a1.75 1.75 0 1 0 3.5 0M166.25 514.0a1.75 1.75 0 1 0 -3.5 0a1.75 1.75 0 1 0 3.5 0M172.75 511.7a1.75 1.75 0 1 0 -3.5 0a1.75 1.75 0 1 0 3.5 0M173.25 557.1a1.75 1.75 0 1 0 -3.5 0a1.75 1.75 0 1 0 3.5 0M125.25 500.9a1.75 1.75 0 1 0 -3.5 0a1.75 1.75 0 1 0 3.5 0M129.95 504.7a1.75 1.75 0 1 0 -3.5 0a1.75 1.75 0 1 0 3.5 0M136.45 501.9a1.75 1.75 0 1 0 -3.5 0a1.75 1.75 0 1 0 3.5 0M140.15 506.5a1.75 1.75 0 1 0 -3.5 0a1.75 1.75 0 1 0 3.5 0M143.85 503.7a1.75 1.75 0 1 0 -3.5 0a1.75 1.75 0 1 0 3.5 0M147.65 508.4a1.75 1.75 0 1 0 -3.5 0a1.75 1.75 0 1 0 3.5 0M151.35 502.8a1.75 1.75 0 1 0 -3.5 0a1.75 1.75 0 1 0 3.5 0M154.15 510.2a1.75 1.75 0 1 0 -3.5 0a1.75 1.75 0 1 0 3.5 0M158.75 508.4a1.75 1.75 0 1 0 -3.5 0a1.75 1.75 0 1 0 3.5 0M162.45 505.6a1.75 1.75 0 1 0 -3.5 0a1.75 1.75 0 1 0 3.5 0M166.25 509.3a1.75 1.75 0 1 0 -3.5 0a1.75 1.75 0 1 0 3.5 0M169.95 504.7a1.75 1.75 0 1 0 -3.5 0a1.75 1.75 0 1 0 3.5 0M177.35 508.4a1.75 1.75 0 1 0 -3.5 0a1.75 1.75 0 1 0 3.5 0M181.05 502.8a1.75 1.75 0 1 0 -3.5 0a1.75 1.75 0 1 0 3.5 0M184.85 506.5a1.75 1.75 0 1 0 -3.5 0a1.75 1.75 0 1 0 3.5 0M127.15 496.3a1.75 1.75 0 1 0 -3.5 0a1.75 1.75 0 1 0 3.5 0M140.15 497.2a1.75 1.75 0 1 0 -3.5 0a1.75 1.75 0 1 0 3.5 0M151.35 497.2a1.75 1.75 0 1 0 -3.5 0a1.75 1.75 0 1 0 3.5 0M156.95 498.1a1.75 1.75 0 1 0 -3.5 0a1.75 1.75 0 1 0 3.5 0M164.35 497.2a1.75 1.75 0 1 0 -3.5 0a1.75 1.75 0 1 0 3.5 0M169.95 496.3a1.75 1.75 0 1 0 -3.5 0a1.75 1.75 0 1 0 3.5 0M179.25 497.2a1.75 1.75 0 1 0 -3.5 0a1.75 1.75 0 1 0 3.5 0M274.25 465.6a1.75 1.75 0 1 0 -3.5 0a1.75 1.75 0 1 0 3.5 0M240.35 461.9a1.75 1.75 0 1 0 -3.5 0a1.75 1.75 0 1 0 3.5 0M235.75 492.6a1.75 1.75 0 1 0 -3.5 0a1.75 1.75 0 1 0 3.5 0M231.95 493.9a1.75 1.75 0 1 0 -3.5 0a1.75 1.75 0 1 0 3.5 0M226.45 493.5a1.75 1.75 0 1 0 -3.5 0a1.75 1.75 0 1 0 3.5 0M224.55 495.0a1.75 1.75 0 1 0 -3.5 0a1.75 1.75 0 1 0 3.5 0M218.95 495.7a1.75 1.75 0 1 0 -3.5 0a1.75 1.75 0 1 0 3.5 0M230.45 471.5a1.75 1.75 0 1 0 -3.5 0a1.75 1.75 0 1 0 3.5 0M226.45 473.0a1.75 1.75 0 1 0 -3.5 0a1.75 1.75 0 1 0 3.5 0M228.25 480.5a1.75 1.75 0 1 0 -3.5 0a1.75 1.75 0 1 0 3.5 0M232.35 485.1a1.75 1.75 0 1 0 -3.5 0a1.75 1.75 0 1 0 3.5 0M230.45 487.0a1.75 1.75 0 1 0 -3.5 0a1.75 1.75 0 1 0 3.5 0M226.45 487.0a1.75 1.75 0 1 0 -3.5 0a1.75 1.75 0 1 0 3.5 0M220.85 486.0a1.75 1.75 0 1 0 -3.5 0a1.75 1.75 0 1 0 3.5 0M219.85 482.3a1.75 1.75 0 1 0 -3.5 0a1.75 1.75 0 1 0 3.5 0M220.85 477.7a1.75 1.75 0 1 0 -3.5 0a1.75 1.75 0 1 0 3.5 0M219.85 474.0a1.75 1.75 0 1 0 -3.5 0a1.75 1.75 0 1 0 3.5 0M217.05 463.7a1.75 1.75 0 1 0 -3.5 0a1.75 1.75 0 1 0 3.5 0M213.35 478.6a1.75 1.75 0 1 0 -3.5 0a1.75 1.75 0 1 0 3.5 0M212.45 468.9a1.75 1.75 0 1 0 -3.5 0a1.75 1.75 0 1 0 3.5 0M207.75 473.0a1.75 1.75 0 1 0 -3.5 0a1.75 1.75 0 1 0 3.5 0M205.95 470.8a1.75 1.75 0 1 0 -3.5 0a1.75 1.75 0 1 0 3.5 0M213.35 489.8a1.75 1.75 0 1 0 -3.5 0a1.75 1.75 0 1 0 3.5 0M209.65 491.6a1.75 1.75 0 1 0 -3.5 0a1.75 1.75 0 1 0 3.5 0M212.45 499.1a1.75 1.75 0 1 0 -3.5 0a1.75 1.75 0 1 0 3.5 0M211.55 500.9a1.75 1.75 0 1 0 -3.5 0a1.75 1.75 0 1 0 3.5 0M207.75 498.1a1.75 1.75 0 1 0 -3.5 0a1.75 1.75 0 1 0 3.5 0M205.05 498.1a1.75 1.75 0 1 0 -3.5 0a1.75 1.75 0 1 0 3.5 0M204.05 493.5a1.75 1.75 0 1 0 -3.5 0a1.75 1.75 0 1 0 3.5 0M199.45 494.4a1.75 1.75 0 1 0 -3.5 0a1.75 1.75 0 1 0 3.5 0M195.75 492.6a1.75 1.75 0 1 0 -3.5 0a1.75 1.75 0 1 0 3.5 0M191.95 497.2a1.75 1.75 0 1 0 -3.5 0a1.75 1.75 0 1 0 3.5 0M193.85 500.0a1.75 1.75 0 1 0 -3.5 0a1.75 1.75 0 1 0 3.5 0M187.35 500.0a1.75 1.75 0 1 0 -3.5 0a1.75 1.75 0 1 0 3.5 0M189.15 499.1a1.75 1.75 0 1 0 -3.5 0a1.75 1.75 0 1 0 3.5 0M198.15 503.7a1.75 1.75 0 1 0 -3.5 0a1.75 1.75 0 1 0 3.5 0M226.45 506.5a1.75 1.75 0 1 0 -3.5 0a1.75 1.75 0 1 0 3.5 0M236.05 506.5a1.75 1.75 0 1 0 -3.5 0a1.75 1.75 0 1 0 3.5 0M228.25 511.2a1.75 1.75 0 1 0 -3.5 0a1.75 1.75 0 1 0 3.5 0M224.55 514.3a1.75 1.75 0 1 0 -3.5 0a1.75 1.75 0 1 0 3.5 0M230.45 517.7a1.75 1.75 0 1 0 -3.5 0a1.75 1.75 0 1 0 3.5 0M211.15 518.6a1.75 1.75 0 1 0 -3.5 0a1.75 1.75 0 1 0 3.5 0M188.25 509.9a1.75 1.75 0 1 0 -3.5 0a1.75 1.75 0 1 0 3.5 0M193.85 509.9a1.75 1.75 0 1 0 -3.5 0a1.75 1.75 0 1 0 3.5 0M198.15 510.6a1.75 1.75 0 1 0 -3.5 0a1.75 1.75 0 1 0 3.5 0M190.15 514.3a1.75 1.75 0 1 0 -3.5 0a1.75 1.75 0 1 0 3.5 0M218.95 526.0a1.75 1.75 0 1 0 -3.5 0a1.75 1.75 0 1 0 3.5 0M224.55 523.3a1.75 1.75 0 1 0 -3.5 0a1.75 1.75 0 1 0 3.5 0M230.45 527.3a1.75 1.75 0 1 0 -3.5 0a1.75 1.75 0 1 0 3.5 0M222.65 535.3a1.75 1.75 0 1 0 -3.5 0a1.75 1.75 0 1 0 3.5 0M200.35 484.2a1.75 1.75 0 1 0 -3.5 0a1.75 1.75 0 1 0 3.5 0M196.65 487.9a1.75 1.75 0 1 0 -3.5 0a1.75 1.75 0 1 0 3.5 0M192.95 482.3a1.75 1.75 0 1 0 -3.5 0a1.75 1.75 0 1 0 3.5 0M189.15 484.2a1.75 1.75 0 1 0 -3.5 0a1.75 1.75 0 1 0 3.5 0M185.45 487.9a1.75 1.75 0 1 0 -3.5 0a1.75 1.75 0 1 0 3.5 0M183.65 492.6a1.75 1.75 0 1 0 -3.5 0a1.75 1.75 0 1 0 3.5 0M187.35 489.8a1.75 1.75 0 1 0 -3.5 0a1.75 1.75 0 1 0 3.5 0M183.65 478.6a1.75 1.75 0 1 0 -3.5 0a1.75 1.75 0 1 0 3.5 0M189.15 476.7a1.75 1.75 0 1 0 -3.5 0a1.75 1.75 0 1 0 3.5 0M192.95 473.0a1.75 1.75 0 1 0 -3.5 0a1.75 1.75 0 1 0 3.5 0M198.45 467.4a1.75 1.75 0 1 0 -3.5 0a1.75 1.75 0 1 0 3.5 0M200.35 474.9a1.75 1.75 0 1 0 -3.5 0a1.75 1.75 0 1 0 3.5 0M196.65 478.6a1.75 1.75 0 1 0 -3.5 0a1.75 1.75 0 1 0 3.5 0M191.05 469.3a1.75 1.75 0 1 0 -3.5 0a1.75 1.75 0 1 0 3.5 0M185.45 467.4a1.75 1.75 0 1 0 -3.5 0a1.75 1.75 0 1 0 3.5 0M187.35 461.9a1.75 1.75 0 1 0 -3.5 0a1.75 1.75 0 1 0 3.5 0M194.75 461.9a1.75 1.75 0 1 0 -3.5 0a1.75 1.75 0 1 0 3.5 0M202.25 463.7a1.75 1.75 0 1 0 -3.5 0a1.75 1.75 0 1 0 3.5 0M209.65 461.9a1.75 1.75 0 1 0 -3.5 0a1.75 1.75 0 1 0 3.5 0M218.95 461.9a1.75 1.75 0 1 0 -3.5 0a1.75 1.75 0 1 0 3.5 0M225.45 462.8a1.75 1.75 0 1 0 -3.5 0a1.75 1.75 0 1 0 3.5 0M205.95 482.3a1.75 1.75 0 1 0 -3.5 0a1.75 1.75 0 1 0 3.5 0M209.65 486.0a1.75 1.75 0 1 0 -3.5 0a1.75 1.75 0 1 0 3.5 0M214.35 484.2a1.75 1.75 0 1 0 -3.5 0a1.75 1.75 0 1 0 3.5 0M217.05 487.9a1.75 1.75 0 1 0 -3.5 0a1.75 1.75 0 1 0 3.5 0M215.25 493.5a1.75 1.75 0 1 0 -3.5 0a1.75 1.75 0 1 0 3.5 0M205.95 489.8a1.75 1.75 0 1 0 -3.5 0a1.75 1.75 0 1 0 3.5 0M202.25 487.9a1.75 1.75 0 1 0 -3.5 0a1.75 1.75 0 1 0 3.5 0M195.75 413.7a1.75 1.75 0 1 0 -3.5 0a1.75 1.75 0 1 0 3.5 0M154.75 416.1a1.75 1.75 0 1 0 -3.5 0a1.75 1.75 0 1 0 3.5 0M214.65 425.2a1.75 1.75 0 1 0 -3.5 0a1.75 1.75 0 1 0 3.5 0M221.35 426.2a1.75 1.75 0 1 0 -3.5 0a1.75 1.75 0 1 0 3.5 0M169.85 429.2a1.75 1.75 0 1 0 -3.5 0a1.75 1.75 0 1 0 3.5 0M173.95 430.2a1.75 1.75 0 1 0 -3.5 0a1.75 1.75 0 1 0 3.5 0M187.05 427.2a1.75 1.75 0 1 0 -3.5 0a1.75 1.75 0 1 0 3.5 0M198.15 428.2a1.75 1.75 0 1 0 -3.5 0a1.75 1.75 0 1 0 3.5 0M209.25 425.2a1.75 1.75 0 1 0 -3.5 0a1.75 1.75 0 1 0 3.5 0M152.75 432.3a1.75 1.75 0 1 0 -3.5 0a1.75 1.75 0 1 0 3.5 0M164.85 436.3a1.75 1.75 0 1 0 -3.5 0a1.75 1.75 0 1 0 3.5 0M168.85 433.3a1.75 1.75 0 1 0 -3.5 0a1.75 1.75 0 1 0 3.5 0M172.95 436.3a1.75 1.75 0 1 0 -3.5 0a1.75 1.75 0 1 0 3.5 0M186.05 437.3a1.75 1.75 0 1 0 -3.5 0a1.75 1.75 0 1 0 3.5 0M198.15 437.3a1.75 1.75 0 1 0 -3.5 0a1.75 1.75 0 1 0 3.5 0M211.25 437.3a1.75 1.75 0 1 0 -3.5 0a1.75 1.75 0 1 0 3.5 0M230.35 440.3a1.75 1.75 0 1 0 -3.5 0a1.75 1.75 0 1 0 3.5 0M153.75 442.3a1.75 1.75 0 1 0 -3.5 0a1.75 1.75 0 1 0 3.5 0M158.85 441.3a1.75 1.75 0 1 0 -3.5 0a1.75 1.75 0 1 0 3.5 0M162.85 443.3a1.75 1.75 0 1 0 -3.5 0a1.75 1.75 0 1 0 3.5 0M167.85 444.4a1.75 1.75 0 1 0 -3.5 0a1.75 1.75 0 1 0 3.5 0M171.95 442.3a1.75 1.75 0 1 0 -3.5 0a1.75 1.75 0 1 0 3.5 0M175.95 445.4a1.75 1.75 0 1 0 -3.5 0a1.75 1.75 0 1 0 3.5 0M179.95 442.3a1.75 1.75 0 1 0 -3.5 0a1.75 1.75 0 1 0 3.5 0M192.05 445.4a1.75 1.75 0 1 0 -3.5 0a1.75 1.75 0 1 0 3.5 0M212.25 446.4a1.75 1.75 0 1 0 -3.5 0a1.75 1.75 0 1 0 3.5 0M223.35 445.4a1.75 1.75 0 1 0 -3.5 0a1.75 1.75 0 1 0 3.5 0M154.75 450.4a1.75 1.75 0 1 0 -3.5 0a1.75 1.75 0 1 0 3.5 0M158.85 452.4a1.75 1.75 0 1 0 -3.5 0a1.75 1.75 0 1 0 3.5 0M162.85 449.4a1.75 1.75 0 1 0 -3.5 0a1.75 1.75 0 1 0 3.5 0M166.85 454.4a1.75 1.75 0 1 0 -3.5 0a1.75 1.75 0 1 0 3.5 0M170.95 450.4a1.75 1.75 0 1 0 -3.5 0a1.75 1.75 0 1 0 3.5 0M174.95 453.4a1.75 1.75 0 1 0 -3.5 0a1.75 1.75 0 1 0 3.5 0M178.95 449.4a1.75 1.75 0 1 0 -3.5 0a1.75 1.75 0 1 0 3.5 0M182.95 454.4a1.75 1.75 0 1 0 -3.5 0a1.75 1.75 0 1 0 3.5 0M187.05 451.4a1.75 1.75 0 1 0 -3.5 0a1.75 1.75 0 1 0 3.5 0M191.05 453.4a1.75 1.75 0 1 0 -3.5 0a1.75 1.75 0 1 0 3.5 0M195.05 450.4a1.75 1.75 0 1 0 -3.5 0a1.75 1.75 0 1 0 3.5 0M203.15 451.4a1.75 1.75 0 1 0 -3.5 0a1.75 1.75 0 1 0 3.5 0M207.15 454.4a1.75 1.75 0 1 0 -3.5 0a1.75 1.75 0 1 0 3.5 0M211.25 455.4a1.75 1.75 0 1 0 -3.5 0a1.75 1.75 0 1 0 3.5 0M221.35 456.5a1.75 1.75 0 1 0 -3.5 0a1.75 1.75 0 1 0 3.5 0M153.75 458.5a1.75 1.75 0 1 0 -3.5 0a1.75 1.75 0 1 0 3.5 0M157.75 457.5a1.75 1.75 0 1 0 -3.5 0a1.75 1.75 0 1 0 3.5 0M161.85 460.5a1.75 1.75 0 1 0 -3.5 0a1.75 1.75 0 1 0 3.5 0M165.85 458.5a1.75 1.75 0 1 0 -3.5 0a1.75 1.75 0 1 0 3.5 0M169.85 461.5a1.75 1.75 0 1 0 -3.5 0a1.75 1.75 0 1 0 3.5 0M173.95 457.5a1.75 1.75 0 1 0 -3.5 0a1.75 1.75 0 1 0 3.5 0M177.95 460.5a1.75 1.75 0 1 0 -3.5 0a1.75 1.75 0 1 0 3.5 0M181.95 458.5a1.75 1.75 0 1 0 -3.5 0a1.75 1.75 0 1 0 3.5 0M190.05 459.5a1.75 1.75 0 1 0 -3.5 0a1.75 1.75 0 1 0 3.5 0M198.15 458.5a1.75 1.75 0 1 0 -3.5 0a1.75 1.75 0 1 0 3.5 0M202.15 461.5a1.75 1.75 0 1 0 -3.5 0a1.75 1.75 0 1 0 3.5 0M206.15 459.5a1.75 1.75 0 1 0 -3.5 0a1.75 1.75 0 1 0 3.5 0M224.35 465.5a1.75 1.75 0 1 0 -3.5 0a1.75 1.75 0 1 0 3.5 0M228.35 460.5a1.75 1.75 0 1 0 -3.5 0a1.75 1.75 0 1 0 3.5 0M232.35 459.5a1.75 1.75 0 1 0 -3.5 0a1.75 1.75 0 1 0 3.5 0M154.75 466.5a1.75 1.75 0 1 0 -3.5 0a1.75 1.75 0 1 0 3.5 0M158.85 469.6a1.75 1.75 0 1 0 -3.5 0a1.75 1.75 0 1 0 3.5 0M162.85 465.5a1.75 1.75 0 1 0 -3.5 0a1.75 1.75 0 1 0 3.5 0M166.85 468.5a1.75 1.75 0 1 0 -3.5 0a1.75 1.75 0 1 0 3.5 0M170.95 466.5a1.75 1.75 0 1 0 -3.5 0a1.75 1.75 0 1 0 3.5 0M174.95 470.6a1.75 1.75 0 1 0 -3.5 0a1.75 1.75 0 1 0 3.5 0M178.95 467.5a1.75 1.75 0 1 0 -3.5 0a1.75 1.75 0 1 0 3.5 0M182.95 469.6a1.75 1.75 0 1 0 -3.5 0a1.75 1.75 0 1 0 3.5 0M195.05 468.5a1.75 1.75 0 1 0 -3.5 0a1.75 1.75 0 1 0 3.5 0M200.15 469.6a1.75 1.75 0 1 0 -3.5 0a1.75 1.75 0 1 0 3.5 0M210.25 469.6a1.75 1.75 0 1 0 -3.5 0a1.75 1.75 0 1 0 3.5 0M213.25 471.6a1.75 1.75 0 1 0 -3.5 0a1.75 1.75 0 1 0 3.5 0M153.75 475.6a1.75 1.75 0 1 0 -3.5 0a1.75 1.75 0 1 0 3.5 0M157.75 473.6a1.75 1.75 0 1 0 -3.5 0a1.75 1.75 0 1 0 3.5 0M161.85 477.6a1.75 1.75 0 1 0 -3.5 0a1.75 1.75 0 1 0 3.5 0M165.85 474.6a1.75 1.75 0 1 0 -3.5 0a1.75 1.75 0 1 0 3.5 0M169.85 478.6a1.75 1.75 0 1 0 -3.5 0a1.75 1.75 0 1 0 3.5 0M173.95 474.6a1.75 1.75 0 1 0 -3.5 0a1.75 1.75 0 1 0 3.5 0M177.95 477.6a1.75 1.75 0 1 0 -3.5 0a1.75 1.75 0 1 0 3.5 0M181.95 475.6a1.75 1.75 0 1 0 -3.5 0a1.75 1.75 0 1 0 3.5 0M186.05 479.6a1.75 1.75 0 1 0 -3.5 0a1.75 1.75 0 1 0 3.5 0M205.15 478.6a1.75 1.75 0 1 0 -3.5 0a1.75 1.75 0 1 0 3.5 0M221.35 480.6a1.75 1.75 0 1 0 -3.5 0a1.75 1.75 0 1 0 3.5 0M155.75 482.7a1.75 1.75 0 1 0 -3.5 0a1.75 1.75 0 1 0 3.5 0M159.85 485.7a1.75 1.75 0 1 0 -3.5 0a1.75 1.75 0 1 0 3.5 0M163.85 481.7a1.75 1.75 0 1 0 -3.5 0a1.75 1.75 0 1 0 3.5 0M167.85 484.7a1.75 1.75 0 1 0 -3.5 0a1.75 1.75 0 1 0 3.5 0M171.95 488.7a1.75 1.75 0 1 0 -3.5 0a1.75 1.75 0 1 0 3.5 0M175.95 482.7a1.75 1.75 0 1 0 -3.5 0a1.75 1.75 0 1 0 3.5 0M179.95 486.7a1.75 1.75 0 1 0 -3.5 0a1.75 1.75 0 1 0 3.5 0M185.05 484.7a1.75 1.75 0 1 0 -3.5 0a1.75 1.75 0 1 0 3.5 0M189.05 487.7a1.75 1.75 0 1 0 -3.5 0a1.75 1.75 0 1 0 3.5 0M198.15 485.7a1.75 1.75 0 1 0 -3.5 0a1.75 1.75 0 1 0 3.5 0M204.15 486.7a1.75 1.75 0 1 0 -3.5 0a1.75 1.75 0 1 0 3.5 0M210.25 488.7a1.75 1.75 0 1 0 -3.5 0a1.75 1.75 0 1 0 3.5 0M218.25 483.7a1.75 1.75 0 1 0 -3.5 0a1.75 1.75 0 1 0 3.5 0M229.35 488.7a1.75 1.75 0 1 0 -3.5 0a1.75 1.75 0 1 0 3.5 0M152.75 492.7a1.75 1.75 0 1 0 -3.5 0a1.75 1.75 0 1 0 3.5 0M156.75 490.7a1.75 1.75 0 1 0 -3.5 0a1.75 1.75 0 1 0 3.5 0M160.85 494.8a1.75 1.75 0 1 0 -3.5 0a1.75 1.75 0 1 0 3.5 0M164.85 491.7a1.75 1.75 0 1 0 -3.5 0a1.75 1.75 0 1 0 3.5 0M169.85 493.8a1.75 1.75 0 1 0 -3.5 0a1.75 1.75 0 1 0 3.5 0M173.95 496.8a1.75 1.75 0 1 0 -3.5 0a1.75 1.75 0 1 0 3.5 0M177.95 492.7a1.75 1.75 0 1 0 -3.5 0a1.75 1.75 0 1 0 3.5 0M182.95 494.8a1.75 1.75 0 1 0 -3.5 0a1.75 1.75 0 1 0 3.5 0M199.15 491.7a1.75 1.75 0 1 0 -3.5 0a1.75 1.75 0 1 0 3.5 0M212.25 494.8a1.75 1.75 0 1 0 -3.5 0a1.75 1.75 0 1 0 3.5 0M154.75 500.8a1.75 1.75 0 1 0 -3.5 0a1.75 1.75 0 1 0 3.5 0M159.85 498.8a1.75 1.75 0 1 0 -3.5 0a1.75 1.75 0 1 0 3.5 0M164.85 502.8a1.75 1.75 0 1 0 -3.5 0a1.75 1.75 0 1 0 3.5 0M168.85 499.8a1.75 1.75 0 1 0 -3.5 0a1.75 1.75 0 1 0 3.5 0M172.95 501.8a1.75 1.75 0 1 0 -3.5 0a1.75 1.75 0 1 0 3.5 0M177.95 502.8a1.75 1.75 0 1 0 -3.5 0a1.75 1.75 0 1 0 3.5 0M181.95 499.8a1.75 1.75 0 1 0 -3.5 0a1.75 1.75 0 1 0 3.5 0M162.85 509.9a1.75 1.75 0 1 0 -3.5 0a1.75 1.75 0 1 0 3.5 0M167.85 505.8a1.75 1.75 0 1 0 -3.5 0a1.75 1.75 0 1 0 3.5 0M171.95 509.9a1.75 1.75 0 1 0 -3.5 0a1.75 1.75 0 1 0 3.5 0M181.95 510.9a1.75 1.75 0 1 0 -3.5 0a1.75 1.75 0 1 0 3.5 0M163.85 521.0a1.75 1.75 0 1 0 -3.5 0a1.75 1.75 0 1 0 3.5 0M160.85 527.0a1.75 1.75 0 1 0 -3.5 0a1.75 1.75 0 1 0 3.5 0M180.95 526.0a1.75 1.75 0 1 0 -3.5 0a1.75 1.75 0 1 0 3.5 0M124.95 428.3a1.75 1.75 0 1 0 -3.5 0a1.75 1.75 0 1 0 3.5 0M119.45 496.0a1.75 1.75 0 1 0 -3.5 0a1.75 1.75 0 1 0 3.5 0M118.05 464.4a1.75 1.75 0 1 0 -3.5 0a1.75 1.75 0 1 0 3.5 0M121.15 456.0a1.75 1.75 0 1 0 -3.5 0a1.75 1.75 0 1 0 3.5 0M124.95 463.5a1.75 1.75 0 1 0 -3.5 0a1.75 1.75 0 1 0 3.5 0M118.65 488.6a1.75 1.75 0 1 0 -3.5 0a1.75 1.75 0 1 0 3.5 0M122.15 481.8a1.75 1.75 0 1 0 -3.5 0a1.75 1.75 0 1 0 3.5 0M123.85 437.6a1.75 1.75 0 1 0 -3.5 0a1.75 1.75 0 1 0 3.5 0M120.35 440.8a1.75 1.75 0 1 0 -3.5 0a1.75 1.75 0 1 0 3.5 0M125.85 484.1a1.75 1.75 0 1 0 -3.5 0a1.75 1.75 0 1 0 3.5 0M119.35 484.2a1.75 1.75 0 1 0 -3.5 0a1.75 1.75 0 1 0 3.5 0M121.35 474.4a1.75 1.75 0 1 0 -3.5 0a1.75 1.75 0 1 0 3.5 0M117.05 483.1a1.75 1.75 0 1 0 -3.5 0a1.75 1.75 0 1 0 3.5 0M122.85 499.8a1.75 1.75 0 1 0 -3.5 0a1.75 1.75 0 1 0 3.5 0M117.45 455.8a1.75 1.75 0 1 0 -3.5 0a1.75 1.75 0 1 0 3.5 0M124.65 445.1a1.75 1.75 0 1 0 -3.5 0a1.75 1.75 0 1 0 3.5 0M124.45 488.9a1.75 1.75 0 1 0 -3.5 0a1.75 1.75 0 1 0 3.5 0M116.05 479.9a1.75 1.75 0 1 0 -3.5 0a1.75 1.75 0 1 0 3.5 0M117.85 446.2a1.75 1.75 0 1 0 -3.5 0a1.75 1.75 0 1 0 3.5 0M122.65 454.4a1.75 1.75 0 1 0 -3.5 0a1.75 1.75 0 1 0 3.5 0M123.35 486.1a1.75 1.75 0 1 0 -3.5 0a1.75 1.75 0 1 0 3.5 0M116.45 490.0a1.75 1.75 0 1 0 -3.5 0a1.75 1.75 0 1 0 3.5 0M125.75 441.8a1.75 1.75 0 1 0 -3.5 0a1.75 1.75 0 1 0 3.5 0M120.35 478.5a1.75 1.75 0 1 0 -3.5 0a1.75 1.75 0 1 0 3.5 0M113.95 455.0a1.75 1.75 0 1 0 -3.5 0a1.75 1.75 0 1 0 3.5 0M121.35 459.2a1.75 1.75 0 1 0 -3.5 0a1.75 1.75 0 1 0 3.5 0M120.85 487.9a1.75 1.75 0 1 0 -3.5 0a1.75 1.75 0 1 0 3.5 0M117.75 432.2a1.75 1.75 0 1 0 -3.5 0a1.75 1.75 0 1 0 3.5 0M120.25 435.6a1.75 1.75 0 1 0 -3.5 0a1.75 1.75 0 1 0 3.5 0M120.15 438.5a1.75 1.75 0 1 0 -3.5 0a1.75 1.75 0 1 0 3.5 0M119.95 470.7a1.75 1.75 0 1 0 -3.5 0a1.75 1.75 0 1 0 3.5 0M123.15 435.6a1.75 1.75 0 1 0 -3.5 0a1.75 1.75 0 1 0 3.5 0M125.65 453.5a1.75 1.75 0 1 0 -3.5 0a1.75 1.75 0 1 0 3.5 0M114.95 457.8a1.75 1.75 0 1 0 -3.5 0a1.75 1.75 0 1 0 3.5 0M123.95 449.0a1.75 1.75 0 1 0 -3.5 0a1.75 1.75 0 1 0 3.5 0M125.15 495.0a1.75 1.75 0 1 0 -3.5 0a1.75 1.75 0 1 0 3.5 0M125.15 430.6a1.75 1.75 0 1 0 -3.5 0a1.75 1.75 0 1 0 3.5 0M119.65 465.4a1.75 1.75 0 1 0 -3.5 0a1.75 1.75 0 1 0 3.5 0M122.85 493.6a1.75 1.75 0 1 0 -3.5 0a1.75 1.75 0 1 0 3.5 0M124.35 458.0a1.75 1.75 0 1 0 -3.5 0a1.75 1.75 0 1 0 3.5 0M119.15 467.3a1.75 1.75 0 1 0 -3.5 0a1.75 1.75 0 1 0 3.5 0M119.95 482.4a1.75 1.75 0 1 0 -3.5 0a1.75 1.75 0 1 0 3.5 0M116.95 451.0a1.75 1.75 0 1 0 -3.5 0a1.75 1.75 0 1 0 3.5 0M115.25 445.3a1.75 1.75 0 1 0 -3.5 0a1.75 1.75 0 1 0 3.5 0M117.65 477.0a1.75 1.75 0 1 0 -3.5 0a1.75 1.75 0 1 0 3.5 0M115.75 437.4a1.75 1.75 0 1 0 -3.5 0a1.75 1.75 0 1 0 3.5 0M124.35 471.1a1.75 1.75 0 1 0 -3.5 0a1.75 1.75 0 1 0 3.5 0M127.25 465.5a1.75 1.75 0 1 0 -3.5 0a1.75 1.75 0 1 0 3.5 0M115.05 460.3a1.75 1.75 0 1 0 -3.5 0a1.75 1.75 0 1 0 3.5 0M115.05 452.9a1.75 1.75 0 1 0 -3.5 0a1.75 1.75 0 1 0 3.5 0M114.35 469.7a1.75 1.75 0 1 0 -3.5 0a1.75 1.75 0 1 0 3.5 0M116.25 442.6a1.75 1.75 0 1 0 -3.5 0a1.75 1.75 0 1 0 3.5 0M118.25 444.2a1.75 1.75 0 1 0 -3.5 0a1.75 1.75 0 1 0 3.5 0M121.65 479.9a1.75 1.75 0 1 0 -3.5 0a1.75 1.75 0 1 0 3.5 0M117.65 428.0a1.75 1.75 0 1 0 -3.5 0a1.75 1.75 0 1 0 3.5 0M121.75 449.2a1.75 1.75 0 1 0 -3.5 0a1.75 1.75 0 1 0 3.5 0M126.95 470.3a1.75 1.75 0 1 0 -3.5 0a1.75 1.75 0 1 0 3.5 0M114.45 499.1a1.75 1.75 0 1 0 -3.5 0a1.75 1.75 0 1 0 3.5 0M113.95 483.0a1.75 1.75 0 1 0 -3.5 0a1.75 1.75 0 1 0 3.5 0M114.95 473.9a1.75 1.75 0 1 0 -3.5 0a1.75 1.75 0 1 0 3.5 0M115.55 448.3a1.75 1.75 0 1 0 -3.5 0a1.75 1.75 0 1 0 3.5 0M114.45 465.9a1.75 1.75 0 1 0 -3.5 0a1.75 1.75 0 1 0 3.5 0M121.85 490.0a1.75 1.75 0 1 0 -3.5 0a1.75 1.75 0 1 0 3.5 0M126.85 444.2a1.75 1.75 0 1 0 -3.5 0a1.75 1.75 0 1 0 3.5 0M126.55 449.8a1.75 1.75 0 1 0 -3.5 0a1.75 1.75 0 1 0 3.5 0M115.55 463.1a1.75 1.75 0 1 0 -3.5 0a1.75 1.75 0 1 0 3.5 0M121.75 467.3a1.75 1.75 0 1 0 -3.5 0a1.75 1.75 0 1 0 3.5 0M121.05 443.4a1.75 1.75 0 1 0 -3.5 0a1.75 1.75 0 1 0 3.5 0M120.65 427.1a1.75 1.75 0 1 0 -3.5 0a1.75 1.75 0 1 0 3.5 0M114.25 472.0a1.75 1.75 0 1 0 -3.5 0a1.75 1.75 0 1 0 3.5 0M114.05 477.1a1.75 1.75 0 1 0 -3.5 0a1.75 1.75 0 1 0 3.5 0M125.65 447.0a1.75 1.75 0 1 0 -3.5 0a1.75 1.75 0 1 0 3.5 0M124.65 481.2a1.75 1.75 0 1 0 -3.5 0a1.75 1.75 0 1 0 3.5 0M116.55 494.5a1.75 1.75 0 1 0 -3.5 0a1.75 1.75 0 1 0 3.5 0M117.25 470.5a1.75 1.75 0 1 0 -3.5 0a1.75 1.75 0 1 0 3.5 0M124.15 451.3a1.75 1.75 0 1 0 -3.5 0a1.75 1.75 0 1 0 3.5 0M118.25 435.2a1.75 1.75 0 1 0 -3.5 0a1.75 1.75 0 1 0 3.5 0M126.85 459.7a1.75 1.75 0 1 0 -3.5 0a1.75 1.75 0 1 0 3.5 0M123.85 460.8a1.75 1.75 0 1 0 -3.5 0a1.75 1.75 0 1 0 3.5 0M117.35 440.8a1.75 1.75 0 1 0 -3.5 0a1.75 1.75 0 1 0 3.5 0M117.95 458.7a1.75 1.75 0 1 0 -3.5 0a1.75 1.75 0 1 0 3.5 0M125.15 440.1a1.75 1.75 0 1 0 -3.5 0a1.75 1.75 0 1 0 3.5 0M121.35 446.0a1.75 1.75 0 1 0 -3.5 0a1.75 1.75 0 1 0 3.5 0M118.95 491.4a1.75 1.75 0 1 0 -3.5 0a1.75 1.75 0 1 0 3.5 0M121.15 462.3a1.75 1.75 0 1 0 -3.5 0a1.75 1.75 0 1 0 3.5 0M122.55 439.1a1.75 1.75 0 1 0 -3.5 0a1.75 1.75 0 1 0 3.5 0M113.85 497.3a1.75 1.75 0 1 0 -3.5 0a1.75 1.75 0 1 0 3.5 0M125.65 472.5a1.75 1.75 0 1 0 -3.5 0a1.75 1.75 0 1 0 3.5 0M121.55 452.5a1.75 1.75 0 1 0 -3.5 0a1.75 1.75 0 1 0 3.5 0M121.65 430.4a1.75 1.75 0 1 0 -3.5 0a1.75 1.75 0 1 0 3.5 0M113.75 451.3a1.75 1.75 0 1 0 -3.5 0a1.75 1.75 0 1 0 3.5 0M118.25 474.7a1.75 1.75 0 1 0 -3.5 0a1.75 1.75 0 1 0 3.5 0M122.85 477.3a1.75 1.75 0 1 0 -3.5 0a1.75 1.75 0 1 0 3.5 0M125.45 434.2a1.75 1.75 0 1 0 -3.5 0a1.75 1.75 0 1 0 3.5 0M115.75 429.2a1.75 1.75 0 1 0 -3.5 0a1.75 1.75 0 1 0 3.5 0M123.55 473.8a1.75 1.75 0 1 0 -3.5 0a1.75 1.75 0 1 0 3.5 0M126.15 456.3a1.75 1.75 0 1 0 -3.5 0a1.75 1.75 0 1 0 3.5 0M122.65 463.7a1.75 1.75 0 1 0 -3.5 0a1.75 1.75 0 1 0 3.5 0M119.65 498.1a1.75 1.75 0 1 0 -3.5 0a1.75 1.75 0 1 0 3.5 0M125.65 492.1a1.75 1.75 0 1 0 -3.5 0a1.75 1.75 0 1 0 3.5 0M115.75 485.0a1.75 1.75 0 1 0 -3.5 0a1.75 1.75 0 1 0 3.5 0M156.05 441.4a1.75 1.75 0 1 0 -3.5 0a1.75 1.75 0 1 0 3.5 0M133.55 442.5a1.75 1.75 0 1 0 -3.5 0a1.75 1.75 0 1 0 3.5 0M155.35 473.8a1.75 1.75 0 1 0 -3.5 0a1.75 1.75 0 1 0 3.5 0M131.55 480.4a1.75 1.75 0 1 0 -3.5 0a1.75 1.75 0 1 0 3.5 0M151.95 472.7a1.75 1.75 0 1 0 -3.5 0a1.75 1.75 0 1 0 3.5 0M164.55 453.7a1.75 1.75 0 1 0 -3.5 0a1.75 1.75 0 1 0 3.5 0M142.05 460.2a1.75 1.75 0 1 0 -3.5 0a1.75 1.75 0 1 0 3.5 0M159.85 483.4a1.75 1.75 0 1 0 -3.5 0a1.75 1.75 0 1 0 3.5 0M157.85 479.5a1.75 1.75 0 1 0 -3.5 0a1.75 1.75 0 1 0 3.5 0M148.05 442.6a1.75 1.75 0 1 0 -3.5 0a1.75 1.75 0 1 0 3.5 0M131.95 489.9a1.75 1.75 0 1 0 -3.5 0a1.75 1.75 0 1 0 3.5 0M161.55 492.5a1.75 1.75 0 1 0 -3.5 0a1.75 1.75 0 1 0 3.5 0M165.25 494.4a1.75 1.75 0 1 0 -3.5 0a1.75 1.75 0 1 0 3.5 0M131.45 497.7a1.75 1.75 0 1 0 -3.5 0a1.75 1.75 0 1 0 3.5 0M162.25 467.8a1.75 1.75 0 1 0 -3.5 0a1.75 1.75 0 1 0 3.5 0M167.15 450.5a1.75 1.75 0 1 0 -3.5 0a1.75 1.75 0 1 0 3.5 0M163.15 488.7a1.75 1.75 0 1 0 -3.5 0a1.75 1.75 0 1 0 3.5 0M137.45 476.3a1.75 1.75 0 1 0 -3.5 0a1.75 1.75 0 1 0 3.5 0M129.25 439.9a1.75 1.75 0 1 0 -3.5 0a1.75 1.75 0 1 0 3.5 0M140.75 462.3a1.75 1.75 0 1 0 -3.5 0a1.75 1.75 0 1 0 3.5 0M140.85 481.5a1.75 1.75 0 1 0 -3.5 0a1.75 1.75 0 1 0 3.5 0M131.65 455.9a1.75 1.75 0 1 0 -3.5 0a1.75 1.75 0 1 0 3.5 0M154.35 487.5a1.75 1.75 0 1 0 -3.5 0a1.75 1.75 0 1 0 3.5 0M137.15 451.7a1.75 1.75 0 1 0 -3.5 0a1.75 1.75 0 1 0 3.5 0M142.75 491.8a1.75 1.75 0 1 0 -3.5 0a1.75 1.75 0 1 0 3.5 0M140.05 499.5a1.75 1.75 0 1 0 -3.5 0a1.75 1.75 0 1 0 3.5 0M136.65 460.9a1.75 1.75 0 1 0 -3.5 0a1.75 1.75 0 1 0 3.5 0M148.65 469.5a1.75 1.75 0 1 0 -3.5 0a1.75 1.75 0 1 0 3.5 0M168.05 466.2a1.75 1.75 0 1 0 -3.5 0a1.75 1.75 0 1 0 3.5 0M148.05 466.3a1.75 1.75 0 1 0 -3.5 0a1.75 1.75 0 1 0 3.5 0M140.25 451.3a1.75 1.75 0 1 0 -3.5 0a1.75 1.75 0 1 0 3.5 0M130.75 450.6a1.75 1.75 0 1 0 -3.5 0a1.75 1.75 0 1 0 3.5 0M144.15 477.5a1.75 1.75 0 1 0 -3.5 0a1.75 1.75 0 1 0 3.5 0M132.15 470.3a1.75 1.75 0 1 0 -3.5 0a1.75 1.75 0 1 0 3.5 0M144.75 466.5a1.75 1.75 0 1 0 -3.5 0a1.75 1.75 0 1 0 3.5 0M142.55 446.3a1.75 1.75 0 1 0 -3.5 0a1.75 1.75 0 1 0 3.5 0M131.95 475.7a1.75 1.75 0 1 0 -3.5 0a1.75 1.75 0 1 0 3.5 0M133.25 472.5a1.75 1.75 0 1 0 -3.5 0a1.75 1.75 0 1 0 3.5 0M127.05 478.3a1.75 1.75 0 1 0 -3.5 0a1.75 1.75 0 1 0 3.5 0M141.75 474.9a1.75 1.75 0 1 0 -3.5 0a1.75 1.75 0 1 0 3.5 0M156.45 452.6a1.75 1.75 0 1 0 -3.5 0a1.75 1.75 0 1 0 3.5 0M128.35 476.4a1.75 1.75 0 1 0 -3.5 0a1.75 1.75 0 1 0 3.5 0M130.75 463.8a1.75 1.75 0 1 0 -3.5 0a1.75 1.75 0 1 0 3.5 0M126.55 486.4a1.75 1.75 0 1 0 -3.5 0a1.75 1.75 0 1 0 3.5 0M157.85 493.2a1.75 1.75 0 1 0 -3.5 0a1.75 1.75 0 1 0 3.5 0M159.55 444.8a1.75 1.75 0 1 0 -3.5 0a1.75 1.75 0 1 0 3.5 0M135.45 448.4a1.75 1.75 0 1 0 -3.5 0a1.75 1.75 0 1 0 3.5 0M129.75 471.0a1.75 1.75 0 1 0 -3.5 0a1.75 1.75 0 1 0 3.5 0M167.25 460.5a1.75 1.75 0 1 0 -3.5 0a1.75 1.75 0 1 0 3.5 0M139.45 470.8a1.75 1.75 0 1 0 -3.5 0a1.75 1.75 0 1 0 3.5 0M134.65 498.3a1.75 1.75 0 1 0 -3.5 0a1.75 1.75 0 1 0 3.5 0M152.35 483.7a1.75 1.75 0 1 0 -3.5 0a1.75 1.75 0 1 0 3.5 0M141.85 495.2a1.75 1.75 0 1 0 -3.5 0a1.75 1.75 0 1 0 3.5 0M151.35 480.1a1.75 1.75 0 1 0 -3.5 0a1.75 1.75 0 1 0 3.5 0M133.75 492.9a1.75 1.75 0 1 0 -3.5 0a1.75 1.75 0 1 0 3.5 0M136.55 487.8a1.75 1.75 0 1 0 -3.5 0a1.75 1.75 0 1 0 3.5 0M136.75 492.8a1.75 1.75 0 1 0 -3.5 0a1.75 1.75 0 1 0 3.5 0M128.75 457.4a1.75 1.75 0 1 0 -3.5 0a1.75 1.75 0 1 0 3.5 0M141.45 432.9a1.75 1.75 0 1 0 -3.5 0a1.75 1.75 0 1 0 3.5 0M128.75 442.3a1.75 1.75 0 1 0 -3.5 0a1.75 1.75 0 1 0 3.5 0M138.55 430.6a1.75 1.75 0 1 0 -3.5 0a1.75 1.75 0 1 0 3.5 0M149.35 478.0a1.75 1.75 0 1 0 -3.5 0a1.75 1.75 0 1 0 3.5 0M136.85 427.6a1.75 1.75 0 1 0 -3.5 0a1.75 1.75 0 1 0 3.5 0M163.85 445.8a1.75 1.75 0 1 0 -3.5 0a1.75 1.75 0 1 0 3.5 0M149.05 448.3a1.75 1.75 0 1 0 -3.5 0a1.75 1.75 0 1 0 3.5 0M139.75 476.2a1.75 1.75 0 1 0 -3.5 0a1.75 1.75 0 1 0 3.5 0M128.75 434.8a1.75 1.75 0 1 0 -3.5 0a1.75 1.75 0 1 0 3.5 0M161.05 471.5a1.75 1.75 0 1 0 -3.5 0a1.75 1.75 0 1 0 3.5 0M146.35 493.9a1.75 1.75 0 1 0 -3.5 0a1.75 1.75 0 1 0 3.5 0M150.35 451.2a1.75 1.75 0 1 0 -3.5 0a1.75 1.75 0 1 0 3.5 0M153.35 445.7a1.75 1.75 0 1 0 -3.5 0a1.75 1.75 0 1 0 3.5 0M157.15 443.6a1.75 1.75 0 1 0 -3.5 0a1.75 1.75 0 1 0 3.5 0M148.75 431.6a1.75 1.75 0 1 0 -3.5 0a1.75 1.75 0 1 0 3.5 0M148.85 487.4a1.75 1.75 0 1 0 -3.5 0a1.75 1.75 0 1 0 3.5 0M134.95 458.7a1.75 1.75 0 1 0 -3.5 0a1.75 1.75 0 1 0 3.5 0M150.15 492.8a1.75 1.75 0 1 0 -3.5 0a1.75 1.75 0 1 0 3.5 0M127.75 490.6a1.75 1.75 0 1 0 -3.5 0a1.75 1.75 0 1 0 3.5 0M138.95 468.0a1.75 1.75 0 1 0 -3.5 0a1.75 1.75 0 1 0 3.5 0M149.05 433.9a1.75 1.75 0 1 0 -3.5 0a1.75 1.75 0 1 0 3.5 0M132.35 445.3a1.75 1.75 0 1 0 -3.5 0a1.75 1.75 0 1 0 3.5 0M155.65 496.0a1.75 1.75 0 1 0 -3.5 0a1.75 1.75 0 1 0 3.5 0M138.15 454.0a1.75 1.75 0 1 0 -3.5 0a1.75 1.75 0 1 0 3.5 0M149.65 463.9a1.75 1.75 0 1 0 -3.5 0a1.75 1.75 0 1 0 3.5 0M139.25 487.6a1.75 1.75 0 1 0 -3.5 0a1.75 1.75 0 1 0 3.5 0M131.25 500.3a1.75 1.75 0 1 0 -3.5 0a1.75 1.75 0 1 0 3.5 0M164.65 485.9a1.75 1.75 0 1 0 -3.5 0a1.75 1.75 0 1 0 3.5 0M162.95 427.7a1.75 1.75 0 1 0 -3.5 0a1.75 1.75 0 1 0 3.5 0M142.15 469.4a1.75 1.75 0 1 0 -3.5 0a1.75 1.75 0 1 0 3.5 0M136.75 469.3a1.75 1.75 0 1 0 -3.5 0a1.75 1.75 0 1 0 3.5 0M144.85 449.5a1.75 1.75 0 1 0 -3.5 0a1.75 1.75 0 1 0 3.5 0M148.85 489.6a1.75 1.75 0 1 0 -3.5 0a1.75 1.75 0 1 0 3.5 0M140.05 441.9a1.75 1.75 0 1 0 -3.5 0a1.75 1.75 0 1 0 3.5 0M159.85 432.9a1.75 1.75 0 1 0 -3.5 0a1.75 1.75 0 1 0 3.5 0M144.95 443.1a1.75 1.75 0 1 0 -3.5 0a1.75 1.75 0 1 0 3.5 0M142.95 455.3a1.75 1.75 0 1 0 -3.5 0a1.75 1.75 0 1 0 3.5 0M128.95 499.6a1.75 1.75 0 1 0 -3.5 0a1.75 1.75 0 1 0 3.5 0M155.15 437.1a1.75 1.75 0 1 0 -3.5 0a1.75 1.75 0 1 0 3.5 0M165.35 465.5a1.75 1.75 0 1 0 -3.5 0a1.75 1.75 0 1 0 3.5 0M134.85 453.5a1.75 1.75 0 1 0 -3.5 0a1.75 1.75 0 1 0 3.5 0M129.65 478.9a1.75 1.75 0 1 0 -3.5 0a1.75 1.75 0 1 0 3.5 0M136.15 440.3a1.75 1.75 0 1 0 -3.5 0a1.75 1.75 0 1 0 3.5 0M145.15 486.9a1.75 1.75 0 1 0 -3.5 0a1.75 1.75 0 1 0 3.5 0M137.65 432.7a1.75 1.75 0 1 0 -3.5 0a1.75 1.75 0 1 0 3.5 0M139.85 503.3a1.75 1.75 0 1 0 -3.5 0a1.75 1.75 0 1 0 3.5 0M153.05 460.8a1.75 1.75 0 1 0 -3.5 0a1.75 1.75 0 1 0 3.5 0M137.55 447.1a1.75 1.75 0 1 0 -3.5 0a1.75 1.75 0 1 0 3.5 0M136.15 471.5a1.75 1.75 0 1 0 -3.5 0a1.75 1.75 0 1 0 3.5 0M136.65 463.8a1.75 1.75 0 1 0 -3.5 0a1.75 1.75 0 1 0 3.5 0M163.85 470.8a1.75 1.75 0 1 0 -3.5 0a1.75 1.75 0 1 0 3.5 0M156.05 448.2a1.75 1.75 0 1 0 -3.5 0a1.75 1.75 0 1 0 3.5 0M130.85 428.2a1.75 1.75 0 1 0 -3.5 0a1.75 1.75 0 1 0 3.5 0M150.55 456.6a1.75 1.75 0 1 0 -3.5 0a1.75 1.75 0 1 0 3.5 0M159.05 449.9a1.75 1.75 0 1 0 -3.5 0a1.75 1.75 0 1 0 3.5 0M159.65 477.1a1.75 1.75 0 1 0 -3.5 0a1.75 1.75 0 1 0 3.5 0M156.55 468.5a1.75 1.75 0 1 0 -3.5 0a1.75 1.75 0 1 0 3.5 0M137.85 498.5a1.75 1.75 0 1 0 -3.5 0a1.75 1.75 0 1 0 3.5 0M146.65 455.0a1.75 1.75 0 1 0 -3.5 0a1.75 1.75 0 1 0 3.5 0M158.85 460.4a1.75 1.75 0 1 0 -3.5 0a1.75 1.75 0 1 0 3.5 0M168.65 473.1a1.75 1.75 0 1 0 -3.5 0a1.75 1.75 0 1 0 3.5 0M154.05 479.4a1.75 1.75 0 1 0 -3.5 0a1.75 1.75 0 1 0 3.5 0M145.25 473.2a1.75 1.75 0 1 0 -3.5 0a1.75 1.75 0 1 0 3.5 0M139.45 458.4a1.75 1.75 0 1 0 -3.5 0a1.75 1.75 0 1 0 3.5 0M161.05 450.9a1.75 1.75 0 1 0 -3.5 0a1.75 1.75 0 1 0 3.5 0M151.75 440.8a1.75 1.75 0 1 0 -3.5 0a1.75 1.75 0 1 0 3.5 0M144.45 480.8a1.75 1.75 0 1 0 -3.5 0a1.75 1.75 0 1 0 3.5 0M165.65 483.6a1.75 1.75 0 1 0 -3.5 0a1.75 1.75 0 1 0 3.5 0M165.65 489.5a1.75 1.75 0 1 0 -3.5 0a1.75 1.75 0 1 0 3.5 0M166.05 448.5a1.75 1.75 0 1 0 -3.5 0a1.75 1.75 0 1 0 3.5 0M128.95 484.8a1.75 1.75 0 1 0 -3.5 0a1.75 1.75 0 1 0 3.5 0M149.85 474.3a1.75 1.75 0 1 0 -3.5 0a1.75 1.75 0 1 0 3.5 0M160.55 463.7a1.75 1.75 0 1 0 -3.5 0a1.75 1.75 0 1 0 3.5 0M146.75 484.2a1.75 1.75 0 1 0 -3.5 0a1.75 1.75 0 1 0 3.5 0M130.35 492.0a1.75 1.75 0 1 0 -3.5 0a1.75 1.75 0 1 0 3.5 0M144.35 426.1a1.75 1.75 0 1 0 -3.5 0a1.75 1.75 0 1 0 3.5 0M161.45 437.2a1.75 1.75 0 1 0 -3.5 0a1.75 1.75 0 1 0 3.5 0M157.85 481.9a1.75 1.75 0 1 0 -3.5 0a1.75 1.75 0 1 0 3.5 0M137.45 442.5a1.75 1.75 0 1 0 -3.5 0a1.75 1.75 0 1 0 3.5 0M129.65 466.7a1.75 1.75 0 1 0 -3.5 0a1.75 1.75 0 1 0 3.5 0M167.55 477.1a1.75 1.75 0 1 0 -3.5 0a1.75 1.75 0 1 0 3.5 0M145.85 459.2a1.75 1.75 0 1 0 -3.5 0a1.75 1.75 0 1 0 3.5 0M154.45 471.1a1.75 1.75 0 1 0 -3.5 0a1.75 1.75 0 1 0 3.5 0M134.15 431.7a1.75 1.75 0 1 0 -3.5 0a1.75 1.75 0 1 0 3.5 0M142.45 452.0a1.75 1.75 0 1 0 -3.5 0a1.75 1.75 0 1 0 3.5 0M149.85 459.4a1.75 1.75 0 1 0 -3.5 0a1.75 1.75 0 1 0 3.5 0M167.75 480.9a1.75 1.75 0 1 0 -3.5 0a1.75 1.75 0 1 0 3.5 0M129.75 430.6a1.75 1.75 0 1 0 -3.5 0a1.75 1.75 0 1 0 3.5 0M132.95 503.5a1.75 1.75 0 1 0 -3.5 0a1.75 1.75 0 1 0 3.5 0M150.05 427.8a1.75 1.75 0 1 0 -3.5 0a1.75 1.75 0 1 0 3.5 0M138.45 489.8a1.75 1.75 0 1 0 -3.5 0a1.75 1.75 0 1 0 3.5 0M141.25 430.7a1.75 1.75 0 1 0 -3.5 0a1.75 1.75 0 1 0 3.5 0M150.85 467.5a1.75 1.75 0 1 0 -3.5 0a1.75 1.75 0 1 0 3.5 0M136.15 456.6a1.75 1.75 0 1 0 -3.5 0a1.75 1.75 0 1 0 3.5 0M113.55 440.1a1.75 1.75 0 1 0 -3.5 0a1.75 1.75 0 1 0 3.5 0M145.25 464.0a1.75 1.75 0 1 0 -3.5 0a1.75 1.75 0 1 0 3.5 0M131.85 484.2a1.75 1.75 0 1 0 -3.5 0a1.75 1.75 0 1 0 3.5 0M133.55 486.3a1.75 1.75 0 1 0 -3.5 0a1.75 1.75 0 1 0 3.5 0M148.25 461.2a1.75 1.75 0 1 0 -3.5 0a1.75 1.75 0 1 0 3.5 0M141.85 501.3a1.75 1.75 0 1 0 -3.5 0a1.75 1.75 0 1 0 3.5 0M147.75 451.3a1.75 1.75 0 1 0 -3.5 0a1.75 1.75 0 1 0 3.5 0M165.95 441.0a1.75 1.75 0 1 0 -3.5 0a1.75 1.75 0 1 0 3.5 0M168.85 469.8a1.75 1.75 0 1 0 -3.5 0a1.75 1.75 0 1 0 3.5 0M140.45 437.2a1.75 1.75 0 1 0 -3.5 0a1.75 1.75 0 1 0 3.5 0M131.75 495.4a1.75 1.75 0 1 0 -3.5 0a1.75 1.75 0 1 0 3.5 0M154.45 498.1a1.75 1.75 0 1 0 -3.5 0a1.75 1.75 0 1 0 3.5 0M146.25 444.9a1.75 1.75 0 1 0 -3.5 0a1.75 1.75 0 1 0 3.5 0M152.95 490.3a1.75 1.75 0 1 0 -3.5 0a1.75 1.75 0 1 0 3.5 0M128.25 461.6a1.75 1.75 0 1 0 -3.5 0a1.75 1.75 0 1 0 3.5 0M135.35 484.7a1.75 1.75 0 1 0 -3.5 0a1.75 1.75 0 1 0 3.5 0M128.35 493.1a1.75 1.75 0 1 0 -3.5 0a1.75 1.75 0 1 0 3.5 0M149.25 439.6a1.75 1.75 0 1 0 -3.5 0a1.75 1.75 0 1 0 3.5 0M131.35 438.1a1.75 1.75 0 1 0 -3.5 0a1.75 1.75 0 1 0 3.5 0M139.85 445.0a1.75 1.75 0 1 0 -3.5 0a1.75 1.75 0 1 0 3.5 0M141.05 479.0a1.75 1.75 0 1 0 -3.5 0a1.75 1.75 0 1 0 3.5 0M131.45 447.6a1.75 1.75 0 1 0 -3.5 0a1.75 1.75 0 1 0 3.5 0M132.25 465.4a1.75 1.75 0 1 0 -3.5 0a1.75 1.75 0 1 0 3.5 0M133.95 427.6a1.75 1.75 0 1 0 -3.5 0a1.75 1.75 0 1 0 3.5 0M160.05 439.4a1.75 1.75 0 1 0 -3.5 0a1.75 1.75 0 1 0 3.5 0M131.05 473.6a1.75 1.75 0 1 0 -3.5 0a1.75 1.75 0 1 0 3.5 0M154.65 455.8a1.75 1.75 0 1 0 -3.5 0a1.75 1.75 0 1 0 3.5 0M134.35 463.0a1.75 1.75 0 1 0 -3.5 0a1.75 1.75 0 1 0 3.5 0M163.25 475.2a1.75 1.75 0 1 0 -3.5 0a1.75 1.75 0 1 0 3.5 0M136.35 445.1a1.75 1.75 0 1 0 -3.5 0a1.75 1.75 0 1 0 3.5 0M154.75 463.2a1.75 1.75 0 1 0 -3.5 0a1.75 1.75 0 1 0 3.5 0M139.25 448.6a1.75 1.75 0 1 0 -3.5 0a1.75 1.75 0 1 0 3.5 0M127.15 427.4a1.75 1.75 0 1 0 -3.5 0a1.75 1.75 0 1 0 3.5 0M162.65 433.5a1.75 1.75 0 1 0 -3.5 0a1.75 1.75 0 1 0 3.5 0M157.75 437.3a1.75 1.75 0 1 0 -3.5 0a1.75 1.75 0 1 0 3.5 0M127.85 482.1a1.75 1.75 0 1 0 -3.5 0a1.75 1.75 0 1 0 3.5 0M158.15 466.7a1.75 1.75 0 1 0 -3.5 0a1.75 1.75 0 1 0 3.5 0M148.15 414.9a1.75 1.75 0 1 0 -3.5 0a1.75 1.75 0 1 0 3.5 0M190.85 426.4a1.75 1.75 0 1 0 -3.5 0a1.75 1.75 0 1 0 3.5 0M190.45 437.1a1.75 1.75 0 1 0 -3.5 0a1.75 1.75 0 1 0 3.5 0M135.85 507.7a1.75 1.75 0 1 0 -3.5 0a1.75 1.75 0 1 0 3.5 0M186.85 494.6a1.75 1.75 0 1 0 -3.5 0a1.75 1.75 0 1 0 3.5 0M191.25 494.1a1.75 1.75 0 1 0 -3.5 0a1.75 1.75 0 1 0 3.5 0M192.75 503.2a1.75 1.75 0 1 0 -3.5 0a1.75 1.75 0 1 0 3.5 0M121.55 509.3a1.75 1.75 0 1 0 -3.5 0a1.75 1.75 0 1 0 3.5 0M116.55 425.2a1.75 1.75 0 1 0 -3.5 0a1.75 1.75 0 1 0 3.5 0M179.55 446.2a1.75 1.75 0 1 0 -3.5 0a1.75 1.75 0 1 0 3.5 0M194.25 424.4a1.75 1.75 0 1 0 -3.5 0a1.75 1.75 0 1 0 3.5 0M159.15 504.7a1.75 1.75 0 1 0 -3.5 0a1.75 1.75 0 1 0 3.5 0M195.15 431.9a1.75 1.75 0 1 0 -3.5 0a1.75 1.75 0 1 0 3.5 0M188.35 422.6a1.75 1.75 0 1 0 -3.5 0a1.75 1.75 0 1 0 3.5 0M195.35 465.2a1.75 1.75 0 1 0 -3.5 0a1.75 1.75 0 1 0 3.5 0M120.95 421.4a1.75 1.75 0 1 0 -3.5 0a1.75 1.75 0 1 0 3.5 0M118.15 506.4a1.75 1.75 0 1 0 -3.5 0a1.75 1.75 0 1 0 3.5 0M183.45 442.5a1.75 1.75 0 1 0 -3.5 0a1.75 1.75 0 1 0 3.5 0M179.45 415.6a1.75 1.75 0 1 0 -3.5 0a1.75 1.75 0 1 0 3.5 0M197.05 473.6a1.75 1.75 0 1 0 -3.5 0a1.75 1.75 0 1 0 3.5 0M178.05 434.9a1.75 1.75 0 1 0 -3.5 0a1.75 1.75 0 1 0 3.5 0M155.75 507.6a1.75 1.75 0 1 0 -3.5 0a1.75 1.75 0 1 0 3.5 0M168.65 437.9a1.75 1.75 0 1 0 -3.5 0a1.75 1.75 0 1 0 3.5 0M170.65 458.3a1.75 1.75 0 1 0 -3.5 0a1.75 1.75 0 1 0 3.5 0M191.75 465.1a1.75 1.75 0 1 0 -3.5 0a1.75 1.75 0 1 0 3.5 0M152.45 422.3a1.75 1.75 0 1 0 -3.5 0a1.75 1.75 0 1 0 3.5 0M192.95 487.2a1.75 1.75 0 1 0 -3.5 0a1.75 1.75 0 1 0 3.5 0M152.85 506.5a1.75 1.75 0 1 0 -3.5 0a1.75 1.75 0 1 0 3.5 0M154.95 504.2a1.75 1.75 0 1 0 -3.5 0a1.75 1.75 0 1 0 3.5 0M202.45 432.8a1.75 1.75 0 1 0 -3.5 0a1.75 1.75 0 1 0 3.5 0" fill="none" stroke="#9a9aff" stroke-width="1.4"/>
<g fill="none" stroke="#0000ff" stroke-width="1.4" stroke-opacity="0.6"><circle cx="119.4" cy="347.1" r="1.75"/><circle cx="115.7" cy="356.2" r="1.75"/><circle cx="112.0" cy="378.1" r="1.75"/><circle cx="148.3" cy="386.1" r="1.75"/><circle cx="155.9" cy="383.2" r="1.75"/><circle cx="158.0" cy="392.7" r="1.75"/><circle cx="167.6" cy="391.7" r="1.75"/><circle cx="175.1" cy="397.7" r="1.75"/><circle cx="115.7" cy="394.0" r="1.75"/><circle cx="125.4" cy="398.0" r="1.75"/><circle cx="131.0" cy="395.3" r="1.75"/><circle cx="144.4" cy="395.8" r="1.75"/><circle cx="150.0" cy="396.7" r="1.75"/><circle cx="113.9" cy="402.9" r="1.75"/><circle cx="128.7" cy="401.8" r="1.75"/><circle cx="131.0" cy="402.7" r="1.75"/><circle cx="136.9" cy="402.5" r="1.75"/><circle cx="148.1" cy="402.9" r="1.75"/><circle cx="150.0" cy="406.0" r="1.75"/><circle cx="123.2" cy="406.0" r="1.75"/><circle cx="155.9" cy="408.5" r="1.75"/><circle cx="129.1" cy="410.7" r="1.75"/><circle cx="127.3" cy="413.5" r="1.75"/><circle cx="129.1" cy="414.4" r="1.75"/><circle cx="113.9" cy="419.6" r="1.75"/><circle cx="119.4" cy="417.2" r="1.75"/><circle cx="123.9" cy="420.9" r="1.75"/><circle cx="129.1" cy="421.9" r="1.75"/><circle cx="134.7" cy="421.9" r="1.75"/><circle cx="135.6" cy="417.8" r="1.75"/><circle cx="140.3" cy="417.2" r="1.75"/><circle cx="143.1" cy="418.1" r="1.75"/><circle cx="150.0" cy="417.2" r="1.75"/><circle cx="155.2" cy="418.1" r="1.75"/><circle cx="159.8" cy="416.7" r="1.75"/><circle cx="165.4" cy="420.4" r="1.75"/><circle cx="171.0" cy="418.1" r="1.75"/><circle cx="173.8" cy="415.3" r="1.75"/><circle cx="176.6" cy="420.4" r="1.75"/><circle cx="182.7" cy="419.1" r="1.75"/><circle cx="145.9" cy="422.8" r="1.75"/><circle cx="151.4" cy="425.6" r="1.75"/><circle cx="157.0" cy="424.7" r="1.75"/><circle cx="161.7" cy="422.8" r="1.75"/><circle cx="73.7" cy="449.8" r="1.75"/><circle cx="108.3" cy="454.4" r="1.75"/><circle cx="140.3" cy="424.7" r="1.75"/><circle cx="138.4" cy="428.4" r="1.75"/><circle cx="142.1" cy="429.3" r="1.75"/><circle cx="145.9" cy="427.4" r="1.75"/><circle cx="152.4" cy="427.4" r="1.75"/><circle cx="158.0" cy="427.4" r="1.75"/><circle cx="160.7" cy="431.2" r="1.75"/><circle cx="165.4" cy="425.6" r="1.75"/><circle cx="169.1" cy="431.2" r="1.75"/><circle cx="173.8" cy="432.1" r="1.75"/><circle cx="175.6" cy="424.7" r="1.75"/><circle cx="180.3" cy="434.9" r="1.75"/><circle cx="183.1" cy="427.4" r="1.75"/><circle cx="113.3" cy="433.0" r="1.75"/><circle cx="118.0" cy="432.1" r="1.75"/><circle cx="121.7" cy="432.1" r="1.75"/><circle cx="125.4" cy="432.1" r="1.75"/><circle cx="130.0" cy="434.9" r="1.75"/><circle cx="133.8" cy="436.7" r="1.75"/><circle cx="137.5" cy="434.9" r="1.75"/><circle cx="142.1" cy="434.0" r="1.75"/><circle cx="145.9" cy="436.7" r="1.75"/><circle cx="151.4" cy="435.8" r="1.75"/><circle cx="155.2" cy="434.0" r="1.75"/><circle cx="192.5" cy="359.0" r="1.75"/><circle cx="207.5" cy="357.1" r="1.75"/><circle cx="234.3" cy="359.3" r="1.75"/><circle cx="224.7" cy="371.6" r="1.75"/><circle cx="224.7" cy="380.6" r="1.75"/><circle cx="192.5" cy="391.7" r="1.75"/><circle cx="198.0" cy="395.8" r="1.75"/><circle cx="194.5" cy="399.9" r="1.75"/><circle cx="197.7" cy="400.5" r="1.75"/><circle cx="199.5" cy="403.3" r="1.75"/><circle cx="205.7" cy="397.7" r="1.75"/><circle cx="207.5" cy="404.2" r="1.75"/><circle cx="219.1" cy="396.7" r="1.75"/><circle cx="220.9" cy="399.5" r="1.75"/><circle cx="224.7" cy="395.4" r="1.75"/><circle cx="227.4" cy="398.6" r="1.75"/><circle cx="230.6" cy="398.6" r="1.75"/><circle cx="226.5" cy="403.3" r="1.75"/><circle cx="227.4" cy="405.1" r="1.75"/><circle cx="228.7" cy="408.8" r="1.75"/><circle cx="232.5" cy="412.6" r="1.75"/><circle cx="236.2" cy="418.5" r="1.75"/><circle cx="228.4" cy="416.7" r="1.75"/><circle cx="226.1" cy="418.5" r="1.75"/><circle cx="190.2" cy="413.9" r="1.75"/><circle cx="196.4" cy="409.8" r="1.75"/><circle cx="195.8" cy="412.9" r="1.75"/><circle cx="197.7" cy="417.8" r="1.75"/><circle cx="205.7" cy="417.2" r="1.75"/><circle cx="207.9" cy="415.3" r="1.75"/><circle cx="209.8" cy="420.9" r="1.75"/><circle cx="187.4" cy="430.2" r="1.75"/><circle cx="188.9" cy="433.0" r="1.75"/><circle cx="194.0" cy="436.7" r="1.75"/><circle cx="202.0" cy="429.3" r="1.75"/><circle cx="204.2" cy="433.0" r="1.75"/><circle cx="205.1" cy="427.4" r="1.75"/><circle cx="210.7" cy="424.7" r="1.75"/><circle cx="215.3" cy="425.6" r="1.75"/><circle cx="217.2" cy="430.2" r="1.75"/><circle cx="220.9" cy="427.8" r="1.75"/><circle cx="224.7" cy="426.0" r="1.75"/><circle cx="228.7" cy="426.5" r="1.75"/><circle cx="202.3" cy="437.7" r="1.75"/><circle cx="206.0" cy="440.5" r="1.75"/><circle cx="211.6" cy="437.7" r="1.75"/><circle cx="215.3" cy="435.8" r="1.75"/><circle cx="226.5" cy="436.7" r="1.75"/><circle cx="226.5" cy="440.5" r="1.75"/><circle cx="228.4" cy="443.3" r="1.75"/><circle cx="223.7" cy="443.3" r="1.75"/><circle cx="219.1" cy="444.2" r="1.75"/><circle cx="220.0" cy="447.9" r="1.75"/><circle cx="217.2" cy="449.8" r="1.75"/><circle cx="213.5" cy="452.6" r="1.75"/><circle cx="207.9" cy="450.7" r="1.75"/><circle cx="202.3" cy="447.9" r="1.75"/><circle cx="197.7" cy="449.8" r="1.75"/><circle cx="232.5" cy="447.5" r="1.75"/><circle cx="221.3" cy="453.5" r="1.75"/><circle cx="191.2" cy="440.5" r="1.75"/><circle cx="193.0" cy="443.3" r="1.75"/><circle cx="187.4" cy="444.2" r="1.75"/><circle cx="183.7" cy="447.0" r="1.75"/><circle cx="181.9" cy="449.8" r="1.75"/><circle cx="186.5" cy="448.8" r="1.75"/><circle cx="190.2" cy="451.6" r="1.75"/><circle cx="194.0" cy="453.5" r="1.75"/><circle cx="197.7" cy="454.4" r="1.75"/><circle cx="202.3" cy="456.3" r="1.75"/><circle cx="206.0" cy="457.2" r="1.75"/><circle cx="185.6" cy="454.4" r="1.75"/><circle cx="181.9" cy="457.2" r="1.75"/><circle cx="210.7" cy="458.1" r="1.75"/><circle cx="228.4" cy="459.1" r="1.75"/><circle cx="233.0" cy="459.1" r="1.75"/><circle cx="237.7" cy="460.0" r="1.75"/><circle cx="85.4" cy="465.6" r="1.75"/><circle cx="92.8" cy="479.2" r="1.75"/><circle cx="96.6" cy="479.2" r="1.75"/><circle cx="102.1" cy="478.2" r="1.75"/><circle cx="104.6" cy="476.4" r="1.75"/><circle cx="107.7" cy="485.7" r="1.75"/><circle cx="93.8" cy="498.7" r="1.75"/><circle cx="106.4" cy="500.6" r="1.75"/><circle cx="113.9" cy="492.6" r="1.75"/><circle cx="113.9" cy="500.6" r="1.75"/><circle cx="113.9" cy="508.0" r="1.75"/><circle cx="118.0" cy="500.0" r="1.75"/><circle cx="119.8" cy="504.7" r="1.75"/><circle cx="123.2" cy="513.0" r="1.75"/><circle cx="127.3" cy="509.3" r="1.75"/><circle cx="131.0" cy="513.0" r="1.75"/><circle cx="129.1" cy="517.7" r="1.75"/><circle cx="131.9" cy="519.5" r="1.75"/><circle cx="116.1" cy="521.0" r="1.75"/><circle cx="119.8" cy="524.7" r="1.75"/><circle cx="125.4" cy="525.1" r="1.75"/><circle cx="133.2" cy="524.2" r="1.75"/><circle cx="140.3" cy="529.2" r="1.75"/><circle cx="145.9" cy="529.2" r="1.75"/><circle cx="150.1" cy="530.7" r="1.75"/><circle cx="134.7" cy="534.4" r="1.75"/><circle cx="156.1" cy="534.4" r="1.75"/><circle cx="156.1" cy="519.2" r="1.75"/><circle cx="158.0" cy="522.3" r="1.75"/><circle cx="164.5" cy="521.4" r="1.75"/><circle cx="171.0" cy="519.2" r="1.75"/><circle cx="170.0" cy="523.3" r="1.75"/><circle cx="171.9" cy="527.9" r="1.75"/><circle cx="181.2" cy="519.9" r="1.75"/><circle cx="183.1" cy="532.2" r="1.75"/><circle cx="175.3" cy="514.0" r="1.75"/><circle cx="164.5" cy="514.0" r="1.75"/><circle cx="171.0" cy="511.7" r="1.75"/><circle cx="171.5" cy="557.1" r="1.75"/><circle cx="123.5" cy="500.9" r="1.75"/><circle cx="128.2" cy="504.7" r="1.75"/><circle cx="134.7" cy="501.9" r="1.75"/><circle cx="138.4" cy="506.5" r="1.75"/><circle cx="142.1" cy="503.7" r="1.75"/><circle cx="145.9" cy="508.4" r="1.75"/><circle cx="149.6" cy="502.8" r="1.75"/><circle cx="152.4" cy="510.2" r="1.75"/><circle cx="157.0" cy="508.4" r="1.75"/><circle cx="160.7" cy="505.6" r="1.75"/><circle cx="164.5" cy="509.3" r="1.75"/><circle cx="168.2" cy="504.7" r="1.75"/><circle cx="175.6" cy="508.4" r="1.75"/><circle cx="179.3" cy="502.8" r="1.75"/><circle cx="183.1" cy="506.5" r="1.75"/><circle cx="125.4" cy="496.3" r="1.75"/><circle cx="138.4" cy="497.2" r="1.75"/><circle cx="149.6" cy="497.2" r="1.75"/><circle cx="155.2" cy="498.1" r="1.75"/><circle cx="162.6" cy="497.2" r="1.75"/><circle cx="168.2" cy="496.3" r="1.75"/><circle cx="177.5" cy="497.2" r="1.75"/><circle cx="272.5" cy="465.6" r="1.75"/><circle cx="238.6" cy="461.9" r="1.75"/><circle cx="234.0" cy="492.6" r="1.75"/><circle cx="230.2" cy="493.9" r="1.75"/><circle cx="224.7" cy="493.5" r="1.75"/><circle cx="222.8" cy="495.0" r="1.75"/><circle cx="217.2" cy="495.7" r="1.75"/><circle cx="228.7" cy="471.5" r="1.75"/><circle cx="224.7" cy="473.0" r="1.75"/><circle cx="226.5" cy="480.5" r="1.75"/><circle cx="230.6" cy="485.1" r="1.75"/><circle cx="228.7" cy="487.0" r="1.75"/><circle cx="224.7" cy="487.0" r="1.75"/><circle cx="219.1" cy="486.0" r="1.75"/><circle cx="218.1" cy="482.3" r="1.75"/><circle cx="219.1" cy="477.7" r="1.75"/><circle cx="218.1" cy="474.0" r="1.75"/><circle cx="215.3" cy="463.7" r="1.75"/><circle cx="211.6" cy="478.6" r="1.75"/><circle cx="210.7" cy="468.9" r="1.75"/><circle cx="206.0" cy="473.0" r="1.75"/><circle cx="204.2" cy="470.8" r="1.75"/><circle cx="211.6" cy="489.8" r="1.75"/><circle cx="207.9" cy="491.6" r="1.75"/><circle cx="210.7" cy="499.1" r="1.75"/><circle cx="209.8" cy="500.9" r="1.75"/><circle cx="206.0" cy="498.1" r="1.75"/><circle cx="203.3" cy="498.1" r="1.75"/><circle cx="202.3" cy="493.5" r="1.75"/><circle cx="197.7" cy="494.4" r="1.75"/><circle cx="194.0" cy="492.6" r="1.75"/><circle cx="190.2" cy="497.2" r="1.75"/><circle cx="192.1" cy="500.0" r="1.75"/><circle cx="185.6" cy="500.0" r="1.75"/><circle cx="187.4" cy="499.1" r="1.75"/><circle cx="196.4" cy="503.7" r="1.75"/><circle cx="224.7" cy="506.5" r="1.75"/><circle cx="234.3" cy="506.5" r="1.75"/><circle cx="226.5" cy="511.2" r="1.75"/><circle cx="222.8" cy="514.3" r="1.75"/><circle cx="228.7" cy="517.7" r="1.75"/><circle cx="209.4" cy="518.6" r="1.75"/><circle cx="186.5" cy="509.9" r="1.75"/><circle cx="192.1" cy="509.9" r="1.75"/><circle cx="196.4" cy="510.6" r="1.75"/><circle cx="188.4" cy="514.3" r="1.75"/><circle cx="217.2" cy="526.0" r="1.75"/><circle cx="222.8" cy="523.3" r="1.75"/><circle cx="228.7" cy="527.3" r="1.75"/><circle cx="220.9" cy="535.3" r="1.75"/><circle cx="198.6" cy="484.2" r="1.75"/><circle cx="194.9" cy="487.9" r="1.75"/><circle cx="191.2" cy="482.3" r="1.75"/><circle cx="187.4" cy="484.2" r="1.75"/><circle cx="183.7" cy="487.9" r="1.75"/><circle cx="181.9" cy="492.6" r="1.75"/><circle cx="185.6" cy="489.8" r="1.75"/><circle cx="181.9" cy="478.6" r="1.75"/><circle cx="187.4" cy="476.7" r="1.75"/><circle cx="191.2" cy="473.0" r="1.75"/><circle cx="196.7" cy="467.4" r="1.75"/><circle cx="198.6" cy="474.9" r="1.75"/><circle cx="194.9" cy="478.6" r="1.75"/><circle cx="189.3" cy="469.3" r="1.75"/><circle cx="183.7" cy="467.4" r="1.75"/><circle cx="185.6" cy="461.9" r="1.75"/><circle cx="193.0" cy="461.9" r="1.75"/><circle cx="200.5" cy="463.7" r="1.75"/><circle cx="207.9" cy="461.9" r="1.75"/><circle cx="217.2" cy="461.9" r="1.75"/><circle cx="223.7" cy="462.8" r="1.75"/><circle cx="204.2" cy="482.3" r="1.75"/><circle cx="207.9" cy="486.0" r="1.75"/><circle cx="212.6" cy="484.2" r="1.75"/><circle cx="215.3" cy="487.9" r="1.75"/><circle cx="213.5" cy="493.5" r="1.75"/><circle cx="204.2" cy="489.8" r="1.75"/><circle cx="200.5" cy="487.9" r="1.75"/><circle cx="194.0" cy="413.7" r="1.75"/><circle cx="153.0" cy="416.1" r="1.75"/><circle cx="212.9" cy="425.2" r="1.75"/><circle cx="219.6" cy="426.2" r="1.75"/><circle cx="168.1" cy="429.2" r="1.75"/><circle cx="172.2" cy="430.2" r="1.75"/><circle cx="185.3" cy="427.2" r="1.75"/><circle cx="196.4" cy="428.2" r="1.75"/><circle cx="207.5" cy="425.2" r="1.75"/><circle cx="151.0" cy="432.3" r="1.75"/><circle cx="163.1" cy="436.3" r="1.75"/><circle cx="167.1" cy="433.3" r="1.75"/><circle cx="171.2" cy="436.3" r="1.75"/><circle cx="184.3" cy="437.3" r="1.75"/><circle cx="196.4" cy="437.3" r="1.75"/><circle cx="209.5" cy="437.3" r="1.75"/><circle cx="228.6" cy="440.3" r="1.75"/><circle cx="152.0" cy="442.3" r="1.75"/><circle cx="157.1" cy="441.3" r="1.75"/><circle cx="161.1" cy="443.3" r="1.75"/><circle cx="166.1" cy="444.4" r="1.75"/><circle cx="170.2" cy="442.3" r="1.75"/><circle cx="174.2" cy="445.4" r="1.75"/><circle cx="178.2" cy="442.3" r="1.75"/><circle cx="190.3" cy="445.4" r="1.75"/><circle cx="210.5" cy="446.4" r="1.75"/><circle cx="221.6" cy="445.4" r="1.75"/><circle cx="153.0" cy="450.4" r="1.75"/><circle cx="157.1" cy="452.4" r="1.75"/><circle cx="161.1" cy="449.4" r="1.75"/><circle cx="165.1" cy="454.4" r="1.75"/><circle cx="169.2" cy="450.4" r="1.75"/><circle cx="173.2" cy="453.4" r="1.75"/><circle cx="177.2" cy="449.4" r="1.75"/><circle cx="181.2" cy="454.4" r="1.75"/><circle cx="185.3" cy="451.4" r="1.75"/><circle cx="189.3" cy="453.4" r="1.75"/><circle cx="193.3" cy="450.4" r="1.75"/><circle cx="201.4" cy="451.4" r="1.75"/><circle cx="205.4" cy="454.4" r="1.75"/><circle cx="209.5" cy="455.4" r="1.75"/><circle cx="219.6" cy="456.5" r="1.75"/><circle cx="152.0" cy="458.5" r="1.75"/><circle cx="156.0" cy="457.5" r="1.75"/><circle cx="160.1" cy="460.5" r="1.75"/><circle cx="164.1" cy="458.5" r="1.75"/><circle cx="168.1" cy="461.5" r="1.75"/><circle cx="172.2" cy="457.5" r="1.75"/><circle cx="176.2" cy="460.5" r="1.75"/><circle cx="180.2" cy="458.5" r="1.75"/><circle cx="188.3" cy="459.5" r="1.75"/><circle cx="196.4" cy="458.5" r="1.75"/><circle cx="200.4" cy="461.5" r="1.75"/><circle cx="204.4" cy="459.5" r="1.75"/><circle cx="222.6" cy="465.5" r="1.75"/><circle cx="226.6" cy="460.5" r="1.75"/><circle cx="230.6" cy="459.5" r="1.75"/><circle cx="153.0" cy="466.5" r="1.75"/><circle cx="157.1" cy="469.6" r="1.75"/><circle cx="161.1" cy="465.5" r="1.75"/><circle cx="165.1" cy="468.5" r="1.75"/><circle cx="169.2" cy="466.5" r="1.75"/><circle cx="173.2" cy="470.6" r="1.75"/><circle cx="177.2" cy="467.5" r="1.75"/><circle cx="181.2" cy="469.6" r="1.75"/><circle cx="193.3" cy="468.5" r="1.75"/><circle cx="198.4" cy="469.6" r="1.75"/><circle cx="208.5" cy="469.6" r="1.75"/><circle cx="211.5" cy="471.6" r="1.75"/><circle cx="152.0" cy="475.6" r="1.75"/><circle cx="156.0" cy="473.6" r="1.75"/><circle cx="160.1" cy="477.6" r="1.75"/><circle cx="164.1" cy="474.6" r="1.75"/><circle cx="168.1" cy="478.6" r="1.75"/><circle cx="172.2" cy="474.6" r="1.75"/><circle cx="176.2" cy="477.6" r="1.75"/><circle cx="180.2" cy="475.6" r="1.75"/><circle cx="184.3" cy="479.6" r="1.75"/><circle cx="203.4" cy="478.6" r="1.75"/><circle cx="219.6" cy="480.6" r="1.75"/><circle cx="154.0" cy="482.7" r="1.75"/><circle cx="158.1" cy="485.7" r="1.75"/><circle cx="162.1" cy="481.7" r="1.75"/><circle cx="166.1" cy="484.7" r="1.75"/><circle cx="170.2" cy="488.7" r="1.75"/><circle cx="174.2" cy="482.7" r="1.75"/><circle cx="178.2" cy="486.7" r="1.75"/><circle cx="183.3" cy="484.7" r="1.75"/><circle cx="187.3" cy="487.7" r="1.75"/><circle cx="196.4" cy="485.7" r="1.75"/><circle cx="202.4" cy="486.7" r="1.75"/><circle cx="208.5" cy="488.7" r="1.75"/><circle cx="216.5" cy="483.7" r="1.75"/><circle cx="227.6" cy="488.7" r="1.75"/><circle cx="151.0" cy="492.7" r="1.75"/><circle cx="155.0" cy="490.7" r="1.75"/><circle cx="159.1" cy="494.8" r="1.75"/><circle cx="163.1" cy="491.7" r="1.75"/><circle cx="168.1" cy="493.8" r="1.75"/><circle cx="172.2" cy="496.8" r="1.75"/><circle cx="176.2" cy="492.7" r="1.75"/><circle cx="181.2" cy="494.8" r="1.75"/><circle cx="197.4" cy="491.7" r="1.75"/><circle cx="210.5" cy="494.8" r="1.75"/><circle cx="153.0" cy="500.8" r="1.75"/><circle cx="158.1" cy="498.8" r="1.75"/><circle cx="163.1" cy="502.8" r="1.75"/><circle cx="167.1" cy="499.8" r="1.75"/><circle cx="171.2" cy="501.8" r="1.75"/><circle cx="176.2" cy="502.8" r="1.75"/><circle cx="180.2" cy="499.8" r="1.75"/><circle cx="161.1" cy="509.9" r="1.75"/><circle cx="166.1" cy="505.8" r="1.75"/><circle cx="170.2" cy="509.9" r="1.75"/><circle cx="180.2" cy="510.9" r="1.75"/><circle cx="162.1" cy="521.0" r="1.75"/><circle cx="159.1" cy="527.0" r="1.75"/><circle cx="179.2" cy="526.0" r="1.75"/><circle cx="123.2" cy="428.3" r="1.75"/><circle cx="117.7" cy="496.0" r="1.75"/><circle cx="116.3" cy="464.4" r="1.75"/><circle cx="119.4" cy="456.0" r="1.75"/><circle cx="123.2" cy="463.5" r="1.75"/><circle cx="116.9" cy="488.6" r="1.75"/><circle cx="120.4" cy="481.8" r="1.75"/><circle cx="122.1" cy="437.6" r="1.75"/><circle cx="118.6" cy="440.8" r="1.75"/><circle cx="124.1" cy="484.1" r="1.75"/><circle cx="117.6" cy="484.2" r="1.75"/><circle cx="119.6" cy="474.4" r="1.75"/><circle cx="115.3" cy="483.1" r="1.75"/><circle cx="121.1" cy="499.8" r="1.75"/><circle cx="115.7" cy="455.8" r="1.75"/><circle cx="122.9" cy="445.1" r="1.75"/><circle cx="122.7" cy="488.9" r="1.75"/><circle cx="114.3" cy="479.9" r="1.75"/><circle cx="116.1" cy="446.2" r="1.75"/><circle cx="120.9" cy="454.4" r="1.75"/><circle cx="121.6" cy="486.1" r="1.75"/><circle cx="114.7" cy="490.0" r="1.75"/><circle cx="124.0" cy="441.8" r="1.75"/><circle cx="118.6" cy="478.5" r="1.75"/><circle cx="112.2" cy="455.0" r="1.75"/><circle cx="119.6" cy="459.2" r="1.75"/><circle cx="119.1" cy="487.9" r="1.75"/><circle cx="116.0" cy="432.2" r="1.75"/><circle cx="118.5" cy="435.6" r="1.75"/><circle cx="118.4" cy="438.5" r="1.75"/><circle cx="118.2" cy="470.7" r="1.75"/><circle cx="121.4" cy="435.6" r="1.75"/><circle cx="123.9" cy="453.5" r="1.75"/><circle cx="113.2" cy="457.8" r="1.75"/><circle cx="122.2" cy="449.0" r="1.75"/><circle cx="123.4" cy="495.0" r="1.75"/><circle cx="123.4" cy="430.6" r="1.75"/><circle cx="117.9" cy="465.4" r="1.75"/><circle cx="121.1" cy="493.6" r="1.75"/><circle cx="122.6" cy="458.0" r="1.75"/><circle cx="117.4" cy="467.3" r="1.75"/><circle cx="118.2" cy="482.4" r="1.75"/><circle cx="115.2" cy="451.0" r="1.75"/><circle cx="113.5" cy="445.3" r="1.75"/><circle cx="115.9" cy="477.0" r="1.75"/><circle cx="114.0" cy="437.4" r="1.75"/><circle cx="122.6" cy="471.1" r="1.75"/><circle cx="125.5" cy="465.5" r="1.75"/><circle cx="113.3" cy="460.3" r="1.75"/><circle cx="113.3" cy="452.9" r="1.75"/><circle cx="112.6" cy="469.7" r="1.75"/><circle cx="114.5" cy="442.6" r="1.75"/><circle cx="116.5" cy="444.2" r="1.75"/><circle cx="119.9" cy="479.9" r="1.75"/><circle cx="115.9" cy="428.0" r="1.75"/><circle cx="120.0" cy="449.2" r="1.75"/><circle cx="125.2" cy="470.3" r="1.75"/><circle cx="112.7" cy="499.1" r="1.75"/><circle cx="112.2" cy="483.0" r="1.75"/><circle cx="113.2" cy="473.9" r="1.75"/><circle cx="113.8" cy="448.3" r="1.75"/><circle cx="112.7" cy="465.9" r="1.75"/><circle cx="120.1" cy="490.0" r="1.75"/><circle cx="125.1" cy="444.2" r="1.75"/><circle cx="124.8" cy="449.8" r="1.75"/><circle cx="113.8" cy="463.1" r="1.75"/><circle cx="120.0" cy="467.3" r="1.75"/><circle cx="119.3" cy="443.4" r="1.75"/><circle cx="118.9" cy="427.1" r="1.75"/><circle cx="112.5" cy="472.0" r="1.75"/><circle cx="112.3" cy="477.1" r="1.75"/><circle cx="123.9" cy="447.0" r="1.75"/><circle cx="122.9" cy="481.2" r="1.75"/><circle cx="114.8" cy="494.5" r="1.75"/><circle cx="115.5" cy="470.5" r="1.75"/><circle cx="122.4" cy="451.3" r="1.75"/><circle cx="116.5" cy="435.2" r="1.75"/><circle cx="125.1" cy="459.7" r="1.75"/><circle cx="122.1" cy="460.8" r="1.75"/><circle cx="115.6" cy="440.8" r="1.75"/><circle cx="116.2" cy="458.7" r="1.75"/><circle cx="123.4" cy="440.1" r="1.75"/><circle cx="119.6" cy="446.0" r="1.75"/><circle cx="117.2" cy="491.4" r="1.75"/><circle cx="119.4" cy="462.3" r="1.75"/><circle cx="120.8" cy="439.1" r="1.75"/><circle cx="112.1" cy="497.3" r="1.75"/><circle cx="123.9" cy="472.5" r="1.75"/><circle cx="119.8" cy="452.5" r="1.75"/><circle cx="119.9" cy="430.4" r="1.75"/><circle cx="112.0" cy="451.3" r="1.75"/><circle cx="116.5" cy="474.7" r="1.75"/><circle cx="121.1" cy="477.3" r="1.75"/><circle cx="123.7" cy="434.2" r="1.75"/><circle cx="114.0" cy="429.2" r="1.75"/><circle cx="121.8" cy="473.8" r="1.75"/><circle cx="124.4" cy="456.3" r="1.75"/><circle cx="120.9" cy="463.7" r="1.75"/><circle cx="117.9" cy="498.1" r="1.75"/><circle cx="123.9" cy="492.1" r="1.75"/><circle cx="114.0" cy="485.0" r="1.75"/><circle cx="154.3" cy="441.4" r="1.75"/><circle cx="131.8" cy="442.5" r="1.75"/><circle cx="153.6" cy="473.8" r="1.75"/><circle cx="129.8" cy="480.4" r="1.75"/><circle cx="150.2" cy="472.7" r="1.75"/><circle cx="162.8" cy="453.7" r="1.75"/><circle cx="140.3" cy="460.2" r="1.75"/><circle cx="158.1" cy="483.4" r="1.75"/><circle cx="156.1" cy="479.5" r="1.75"/><circle cx="146.3" cy="442.6" r="1.75"/><circle cx="130.2" cy="489.9" r="1.75"/><circle cx="159.8" cy="492.5" r="1.75"/><circle cx="163.5" cy="494.4" r="1.75"/><circle cx="129.7" cy="497.7" r="1.75"/><circle cx="160.5" cy="467.8" r="1.75"/><circle cx="165.4" cy="450.5" r="1.75"/><circle cx="161.4" cy="488.7" r="1.75"/><circle cx="135.7" cy="476.3" r="1.75"/><circle cx="127.5" cy="439.9" r="1.75"/><circle cx="139.0" cy="462.3" r="1.75"/><circle cx="139.1" cy="481.5" r="1.75"/><circle cx="129.9" cy="455.9" r="1.75"/><circle cx="152.6" cy="487.5" r="1.75"/><circle cx="135.4" cy="451.7" r="1.75"/><circle cx="141.0" cy="491.8" r="1.75"/><circle cx="138.3" cy="499.5" r="1.75"/><circle cx="134.9" cy="460.9" r="1.75"/><circle cx="146.9" cy="469.5" r="1.75"/><circle cx="166.3" cy="466.2" r="1.75"/><circle cx="146.3" cy="466.3" r="1.75"/><circle cx="138.5" cy="451.3" r="1.75"/><circle cx="129.0" cy="450.6" r="1.75"/><circle cx="142.4" cy="477.5" r="1.75"/><circle cx="130.4" cy="470.3" r="1.75"/><circle cx="143.0" cy="466.5" r="1.75"/><circle cx="140.8" cy="446.3" r="1.75"/><circle cx="130.2" cy="475.7" r="1.75"/><circle cx="131.5" cy="472.5" r="1.75"/><circle cx="125.3" cy="478.3" r="1.75"/><circle cx="140.0" cy="474.9" r="1.75"/><circle cx="154.7" cy="452.6" r="1.75"/><circle cx="126.6" cy="476.4" r="1.75"/><circle cx="129.0" cy="463.8" r="1.75"/><circle cx="124.8" cy="486.4" r="1.75"/><circle cx="156.1" cy="493.2" r="1.75"/><circle cx="157.8" cy="444.8" r="1.75"/><circle cx="133.7" cy="448.4" r="1.75"/><circle cx="128.0" cy="471.0" r="1.75"/><circle cx="165.5" cy="460.5" r="1.75"/><circle cx="137.7" cy="470.8" r="1.75"/><circle cx="132.9" cy="498.3" r="1.75"/><circle cx="150.6" cy="483.7" r="1.75"/><circle cx="140.1" cy="495.2" r="1.75"/><circle cx="149.6" cy="480.1" r="1.75"/><circle cx="132.0" cy="492.9" r="1.75"/><circle cx="134.8" cy="487.8" r="1.75"/><circle cx="135.0" cy="492.8" r="1.75"/><circle cx="127.0" cy="457.4" r="1.75"/><circle cx="139.7" cy="432.9" r="1.75"/><circle cx="127.0" cy="442.3" r="1.75"/><circle cx="136.8" cy="430.6" r="1.75"/><circle cx="147.6" cy="478.0" r="1.75"/><circle cx="135.1" cy="427.6" r="1.75"/><circle cx="162.1" cy="445.8" r="1.75"/><circle cx="147.3" cy="448.3" r="1.75"/><circle cx="138.0" cy="476.2" r="1.75"/><circle cx="127.0" cy="434.8" r="1.75"/><circle cx="159.3" cy="471.5" r="1.75"/><circle cx="144.6" cy="493.9" r="1.75"/><circle cx="148.6" cy="451.2" r="1.75"/><circle cx="151.6" cy="445.7" r="1.75"/><circle cx="155.4" cy="443.6" r="1.75"/><circle cx="147.0" cy="431.6" r="1.75"/><circle cx="147.1" cy="487.4" r="1.75"/><circle cx="133.2" cy="458.7" r="1.75"/><circle cx="148.4" cy="492.8" r="1.75"/><circle cx="126.0" cy="490.6" r="1.75"/><circle cx="137.2" cy="468.0" r="1.75"/><circle cx="147.3" cy="433.9" r="1.75"/><circle cx="130.6" cy="445.3" r="1.75"/><circle cx="153.9" cy="496.0" r="1.75"/><circle cx="136.4" cy="454.0" r="1.75"/><circle cx="147.9" cy="463.9" r="1.75"/><circle cx="137.5" cy="487.6" r="1.75"/><circle cx="129.5" cy="500.3" r="1.75"/><circle cx="162.9" cy="485.9" r="1.75"/><circle cx="161.2" cy="427.7" r="1.75"/><circle cx="140.4" cy="469.4" r="1.75"/><circle cx="135.0" cy="469.3" r="1.75"/><circle cx="143.1" cy="449.5" r="1.75"/><circle cx="147.1" cy="489.6" r="1.75"/><circle cx="138.3" cy="441.9" r="1.75"/><circle cx="158.1" cy="432.9" r="1.75"/><circle cx="143.2" cy="443.1" r="1.75"/><circle cx="141.2" cy="455.3" r="1.75"/><circle cx="127.2" cy="499.6" r="1.75"/><circle cx="153.4" cy="437.1" r="1.75"/><circle cx="163.6" cy="465.5" r="1.75"/><circle cx="133.1" cy="453.5" r="1.75"/><circle cx="127.9" cy="478.9" r="1.75"/><circle cx="134.4" cy="440.3" r="1.75"/><circle cx="143.4" cy="486.9" r="1.75"/><circle cx="135.9" cy="432.7" r="1.75"/><circle cx="138.1" cy="503.3" r="1.75"/><circle cx="151.3" cy="460.8" r="1.75"/><circle cx="135.8" cy="447.1" r="1.75"/><circle cx="134.4" cy="471.5" r="1.75"/><circle cx="134.9" cy="463.8" r="1.75"/><circle cx="162.1" cy="470.8" r="1.75"/><circle cx="154.3" cy="448.2" r="1.75"/><circle cx="129.1" cy="428.2" r="1.75"/><circle cx="148.8" cy="456.6" r="1.75"/><circle cx="157.3" cy="449.9" r="1.75"/><circle cx="157.9" cy="477.1" r="1.75"/><circle cx="154.8" cy="468.5" r="1.75"/><circle cx="136.1" cy="498.5" r="1.75"/><circle cx="144.9" cy="455.0" r="1.75"/><circle cx="157.1" cy="460.4" r="1.75"/><circle cx="166.9" cy="473.1" r="1.75"/><circle cx="152.3" cy="479.4" r="1.75"/><circle cx="143.5" cy="473.2" r="1.75"/><circle cx="137.7" cy="458.4" r="1.75"/><circle cx="159.3" cy="450.9" r="1.75"/><circle cx="150.0" cy="440.8" r="1.75"/><circle cx="142.7" cy="480.8" r="1.75"/><circle cx="163.9" cy="483.6" r="1.75"/><circle cx="163.9" cy="489.5" r="1.75"/><circle cx="164.3" cy="448.5" r="1.75"/><circle cx="127.2" cy="484.8" r="1.75"/><circle cx="148.1" cy="474.3" r="1.75"/><circle cx="158.8" cy="463.7" r="1.75"/><circle cx="145.0" cy="484.2" r="1.75"/><circle cx="128.6" cy="492.0" r="1.75"/><circle cx="142.6" cy="426.1" r="1.75"/><circle cx="159.7" cy="437.2" r="1.75"/><circle cx="156.1" cy="481.9" r="1.75"/><circle cx="135.7" cy="442.5" r="1.75"/><circle cx="127.9" cy="466.7" r="1.75"/><circle cx="165.8" cy="477.1" r="1.75"/><circle cx="144.1" cy="459.2" r="1.75"/><circle cx="152.7" cy="471.1" r="1.75"/><circle cx="132.4" cy="431.7" r="1.75"/><circle cx="140.7" cy="452.0" r="1.75"/><circle cx="148.1" cy="459.4" r="1.75"/><circle cx="166.0" cy="480.9" r="1.75"/><circle cx="128.0" cy="430.6" r="1.75"/><circle cx="131.2" cy="503.5" r="1.75"/><circle cx="148.3" cy="427.8" r="1.75"/><circle cx="136.7" cy="489.8" r="1.75"/><circle cx="139.5" cy="430.7" r="1.75"/><circle cx="149.1" cy="467.5" r="1.75"/><circle cx="134.4" cy="456.6" r="1.75"/><circle cx="111.8" cy="440.1" r="1.75"/><circle cx="143.5" cy="464.0" r="1.75"/><circle cx="130.1" cy="484.2" r="1.75"/><circle cx="131.8" cy="486.3" r="1.75"/><circle cx="146.5" cy="461.2" r="1.75"/><circle cx="140.1" cy="501.3" r="1.75"/><circle cx="146.0" cy="451.3" r="1.75"/><circle cx="164.2" cy="441.0" r="1.75"/><circle cx="167.1" cy="469.8" r="1.75"/><circle cx="138.7" cy="437.2" r="1.75"/><circle cx="130.0" cy="495.4" r="1.75"/><circle cx="152.7" cy="498.1" r="1.75"/><circle cx="144.5" cy="444.9" r="1.75"/><circle cx="151.2" cy="490.3" r="1.75"/><circle cx="126.5" cy="461.6" r="1.75"/><circle cx="133.6" cy="484.7" r="1.75"/><circle cx="126.6" cy="493.1" r="1.75"/><circle cx="147.5" cy="439.6" r="1.75"/><circle cx="129.6" cy="438.1" r="1.75"/><circle cx="138.1" cy="445.0" r="1.75"/><circle cx="139.3" cy="479.0" r="1.75"/><circle cx="129.7" cy="447.6" r="1.75"/><circle cx="130.5" cy="465.4" r="1.75"/><circle cx="132.2" cy="427.6" r="1.75"/><circle cx="158.3" cy="439.4" r="1.75"/><circle cx="129.3" cy="473.6" r="1.75"/><circle cx="152.9" cy="455.8" r="1.75"/><circle cx="132.6" cy="463.0" r="1.75"/><circle cx="161.5" cy="475.2" r="1.75"/><circle cx="134.6" cy="445.1" r="1.75"/><circle cx="153.0" cy="463.2" r="1.75"/><circle cx="137.5" cy="448.6" r="1.75"/><circle cx="125.4" cy="427.4" r="1.75"/><circle cx="160.9" cy="433.5" r="1.75"/><circle cx="156.0" cy="437.3" r="1.75"/><circle cx="126.1" cy="482.1" r="1.75"/><circle cx="156.4" cy="466.7" r="1.75"/><circle cx="146.4" cy="414.9" r="1.75"/><circle cx="189.1" cy="426.4" r="1.75"/><circle cx="188.7" cy="437.1" r="1.75"/><circle cx="134.1" cy="507.7" r="1.75"/><circle cx="185.1" cy="494.6" r="1.75"/><circle cx="189.5" cy="494.1" r="1.75"/><circle cx="191.0" cy="503.2" r="1.75"/><circle cx="119.8" cy="509.3" r="1.75"/><circle cx="114.8" cy="425.2" r="1.75"/><circle cx="177.8" cy="446.2" r="1.75"/><circle cx="192.5" cy="424.4" r="1.75"/><circle cx="157.4" cy="504.7" r="1.75"/><circle cx="193.4" cy="431.9" r="1.75"/><circle cx="186.6" cy="422.6" r="1.75"/><circle cx="193.6" cy="465.2" r="1.75"/><circle cx="119.2" cy="421.4" r="1.75"/><circle cx="116.4" cy="506.4" r="1.75"/><circle cx="181.7" cy="442.5" r="1.75"/><circle cx="177.7" cy="415.6" r="1.75"/><circle cx="195.3" cy="473.6" r="1.75"/><circle cx="176.3" cy="434.9" r="1.75"/><circle cx="154.0" cy="507.6" r="1.75"/><circle cx="166.9" cy="437.9" r="1.75"/><circle cx="168.9" cy="458.3" r="1.75"/><circle cx="190.0" cy="465.1" r="1.75"/><circle cx="150.7" cy="422.3" r="1.75"/><circle cx="191.2" cy="487.2" r="1.75"/><circle cx="151.1" cy="506.5" r="1.75"/><circle cx="153.2" cy="504.2" r="1.75"/><circle cx="200.7" cy="432.8" r="1.75"/></g>
<rect x="64.80" y="344.30" width="238.20" height="238.00" fill="none" stroke="#505050" stroke-width="1.4"/>
<line x1="64.80" y1="582.30" x2="64.80" y2="594.80" stroke="#505050" stroke-width="1.4" />
<text x="64.80" y="609.80" font-size="16.8" text-anchor="middle" font-weight="normal" fill="#151515" stroke="#151515" stroke-width="0.3">0</text>
<line x1="144.20" y1="582.30" x2="144.20" y2="594.80" stroke="#505050" stroke-width="1.4" />
<text x="144.20" y="609.80" font-size="16.8" text-anchor="middle" font-weight="normal" fill="#151515" stroke="#151515" stroke-width="0.3">1000</text>
<line x1="223.60" y1="582.30" x2="223.60" y2="594.80" stroke="#505050" stroke-width="1.4" />
<text x="223.60" y="609.80" font-size="16.8" text-anchor="middle" font-weight="normal" fill="#151515" stroke="#151515" stroke-width="0.3">2000</text>
<line x1="303.00" y1="582.30" x2="303.00" y2="594.80" stroke="#505050" stroke-width="1.4" />
<text x="303.00" y="609.80" font-size="16.8" text-anchor="middle" font-weight="normal" fill="#151515" stroke="#151515" stroke-width="0.3">3000</text>
<line x1="104.50" y1="582.30" x2="104.50" y2="588.30" stroke="#505050" stroke-width="1.4" />
<line x1="183.90" y1="582.30" x2="183.90" y2="588.30" stroke="#505050" stroke-width="1.4" />
<line x1="263.30" y1="582.30" x2="263.30" y2="588.30" stroke="#505050" stroke-width="1.4" />
<line x1="52.30" y1="582.30" x2="64.80" y2="582.30" stroke="#505050" stroke-width="1.4" />
<text x="49.10" y="586.20" font-size="16.8" text-anchor="end" font-weight="normal" fill="#151515" stroke="#151515" stroke-width="0.3">-4</text>
<line x1="52.30" y1="522.80" x2="64.80" y2="522.80" stroke="#505050" stroke-width="1.4" />
<text x="49.10" y="526.70" font-size="16.8" text-anchor="end" font-weight="normal" fill="#151515" stroke="#151515" stroke-width="0.3">-2</text>
<line x1="52.30" y1="463.30" x2="64.80" y2="463.30" stroke="#505050" stroke-width="1.4" />
<text x="49.10" y="467.20" font-size="16.8" text-anchor="end" font-weight="normal" fill="#151515" stroke="#151515" stroke-width="0.3">0</text>
<line x1="52.30" y1="403.80" x2="64.80" y2="403.80" stroke="#505050" stroke-width="1.4" />
<text x="49.10" y="407.70" font-size="16.8" text-anchor="end" font-weight="normal" fill="#151515" stroke="#151515" stroke-width="0.3">2</text>
<line x1="52.30" y1="344.30" x2="64.80" y2="344.30" stroke="#505050" stroke-width="1.4" />
<text x="49.10" y="348.20" font-size="16.8" text-anchor="end" font-weight="normal" fill="#151515" stroke="#151515" stroke-width="0.3">4</text>
<line x1="58.80" y1="552.55" x2="64.80" y2="552.55" stroke="#505050" stroke-width="1.4" />
<line x1="58.80" y1="493.05" x2="64.80" y2="493.05" stroke="#505050" stroke-width="1.4" />
<line x1="58.80" y1="433.55" x2="64.80" y2="433.55" stroke="#505050" stroke-width="1.4" />
<line x1="58.80" y1="374.05" x2="64.80" y2="374.05" stroke="#505050" stroke-width="1.4" />
<line x1="440.50" y1="401.90" x2="674.00" y2="401.90" stroke="#444" stroke-width="1.45" stroke-dasharray="2.4 1.35"/>
<line x1="440.50" y1="519.30" x2="674.00" y2="519.30" stroke="#444" stroke-width="1.45" stroke-dasharray="2.4 1.35"/>
<line x1="440.00" y1="461.00" x2="674.00" y2="461.00" stroke="#111" stroke-width="1.3" />
<path d="M457.55 346.5a1.75 1.75 0 1 0 -3.5 0a1.75 1.75 0 1 0 3.5 0M461.25 355.3a1.75 1.75 0 1 0 -3.5 0a1.75 1.75 0 1 0 3.5 0M470.05 358.2a1.75 1.75 0 1 0 -3.5 0a1.75 1.75 0 1 0 3.5 0M457.55 370.7a1.75 1.75 0 1 0 -3.5 0a1.75 1.75 0 1 0 3.5 0M479.85 376.8a1.75 1.75 0 1 0 -3.5 0a1.75 1.75 0 1 0 3.5 0M488.85 385.0a1.75 1.75 0 1 0 -3.5 0a1.75 1.75 0 1 0 3.5 0M532.35 356.4a1.75 1.75 0 1 0 -3.5 0a1.75 1.75 0 1 0 3.5 0M534.25 379.6a1.75 1.75 0 1 0 -3.5 0a1.75 1.75 0 1 0 3.5 0M541.85 381.9a1.75 1.75 0 1 0 -3.5 0a1.75 1.75 0 1 0 3.5 0M475.65 390.2a1.75 1.75 0 1 0 -3.5 0a1.75 1.75 0 1 0 3.5 0M482.35 394.3a1.75 1.75 0 1 0 -3.5 0a1.75 1.75 0 1 0 3.5 0M485.45 392.5a1.75 1.75 0 1 0 -3.5 0a1.75 1.75 0 1 0 3.5 0M489.15 394.9a1.75 1.75 0 1 0 -3.5 0a1.75 1.75 0 1 0 3.5 0M494.75 394.0a1.75 1.75 0 1 0 -3.5 0a1.75 1.75 0 1 0 3.5 0M486.45 398.0a1.75 1.75 0 1 0 -3.5 0a1.75 1.75 0 1 0 3.5 0M500.35 396.2a1.75 1.75 0 1 0 -3.5 0a1.75 1.75 0 1 0 3.5 0M504.65 395.4a1.75 1.75 0 1 0 -3.5 0a1.75 1.75 0 1 0 3.5 0M506.85 401.0a1.75 1.75 0 1 0 -3.5 0a1.75 1.75 0 1 0 3.5 0M491.65 401.0a1.75 1.75 0 1 0 -3.5 0a1.75 1.75 0 1 0 3.5 0M495.75 401.4a1.75 1.75 0 1 0 -3.5 0a1.75 1.75 0 1 0 3.5 0M500.35 402.3a1.75 1.75 0 1 0 -3.5 0a1.75 1.75 0 1 0 3.5 0M488.65 404.7a1.75 1.75 0 1 0 -3.5 0a1.75 1.75 0 1 0 3.5 0M476.15 399.2a1.75 1.75 0 1 0 -3.5 0a1.75 1.75 0 1 0 3.5 0M476.15 401.4a1.75 1.75 0 1 0 -3.5 0a1.75 1.75 0 1 0 3.5 0M523.25 394.3a1.75 1.75 0 1 0 -3.5 0a1.75 1.75 0 1 0 3.5 0M532.95 391.2a1.75 1.75 0 1 0 -3.5 0a1.75 1.75 0 1 0 3.5 0M531.05 396.7a1.75 1.75 0 1 0 -3.5 0a1.75 1.75 0 1 0 3.5 0M537.05 396.2a1.75 1.75 0 1 0 -3.5 0a1.75 1.75 0 1 0 3.5 0M545.55 390.6a1.75 1.75 0 1 0 -3.5 0a1.75 1.75 0 1 0 3.5 0M543.75 395.8a1.75 1.75 0 1 0 -3.5 0a1.75 1.75 0 1 0 3.5 0M547.75 397.3a1.75 1.75 0 1 0 -3.5 0a1.75 1.75 0 1 0 3.5 0M543.15 398.6a1.75 1.75 0 1 0 -3.5 0a1.75 1.75 0 1 0 3.5 0M553.35 403.6a1.75 1.75 0 1 0 -3.5 0a1.75 1.75 0 1 0 3.5 0M559.85 406.6a1.75 1.75 0 1 0 -3.5 0a1.75 1.75 0 1 0 3.5 0M459.75 407.3a1.75 1.75 0 1 0 -3.5 0a1.75 1.75 0 1 0 3.5 0M472.45 413.5a1.75 1.75 0 1 0 -3.5 0a1.75 1.75 0 1 0 3.5 0M470.55 414.4a1.75 1.75 0 1 0 -3.5 0a1.75 1.75 0 1 0 3.5 0M469.65 419.1a1.75 1.75 0 1 0 -3.5 0a1.75 1.75 0 1 0 3.5 0M469.65 422.8a1.75 1.75 0 1 0 -3.5 0a1.75 1.75 0 1 0 3.5 0M461.25 428.9a1.75 1.75 0 1 0 -3.5 0a1.75 1.75 0 1 0 3.5 0M465.05 435.8a1.75 1.75 0 1 0 -3.5 0a1.75 1.75 0 1 0 3.5 0M457.55 446.4a1.75 1.75 0 1 0 -3.5 0a1.75 1.75 0 1 0 3.5 0M467.75 447.5a1.75 1.75 0 1 0 -3.5 0a1.75 1.75 0 1 0 3.5 0M461.25 454.4a1.75 1.75 0 1 0 -3.5 0a1.75 1.75 0 1 0 3.5 0M476.15 442.3a1.75 1.75 0 1 0 -3.5 0a1.75 1.75 0 1 0 3.5 0M485.45 415.9a1.75 1.75 0 1 0 -3.5 0a1.75 1.75 0 1 0 3.5 0M494.75 411.3a1.75 1.75 0 1 0 -3.5 0a1.75 1.75 0 1 0 3.5 0M489.15 420.9a1.75 1.75 0 1 0 -3.5 0a1.75 1.75 0 1 0 3.5 0M494.25 419.1a1.75 1.75 0 1 0 -3.5 0a1.75 1.75 0 1 0 3.5 0M503.15 411.1a1.75 1.75 0 1 0 -3.5 0a1.75 1.75 0 1 0 3.5 0M512.05 411.6a1.75 1.75 0 1 0 -3.5 0a1.75 1.75 0 1 0 3.5 0M517.05 409.8a1.75 1.75 0 1 0 -3.5 0a1.75 1.75 0 1 0 3.5 0M513.35 416.3a1.75 1.75 0 1 0 -3.5 0a1.75 1.75 0 1 0 3.5 0M518.05 416.3a1.75 1.75 0 1 0 -3.5 0a1.75 1.75 0 1 0 3.5 0M526.45 415.9a1.75 1.75 0 1 0 -3.5 0a1.75 1.75 0 1 0 3.5 0M528.85 416.3a1.75 1.75 0 1 0 -3.5 0a1.75 1.75 0 1 0 3.5 0M531.65 408.5a1.75 1.75 0 1 0 -3.5 0a1.75 1.75 0 1 0 3.5 0M534.75 415.9a1.75 1.75 0 1 0 -3.5 0a1.75 1.75 0 1 0 3.5 0M540.35 415.3a1.75 1.75 0 1 0 -3.5 0a1.75 1.75 0 1 0 3.5 0M545.05 419.6a1.75 1.75 0 1 0 -3.5 0a1.75 1.75 0 1 0 3.5 0M550.55 421.9a1.75 1.75 0 1 0 -3.5 0a1.75 1.75 0 1 0 3.5 0M553.35 425.6a1.75 1.75 0 1 0 -3.5 0a1.75 1.75 0 1 0 3.5 0M560.85 419.6a1.75 1.75 0 1 0 -3.5 0a1.75 1.75 0 1 0 3.5 0M560.45 430.2a1.75 1.75 0 1 0 -3.5 0a1.75 1.75 0 1 0 3.5 0M480.85 424.7a1.75 1.75 0 1 0 -3.5 0a1.75 1.75 0 1 0 3.5 0M484.55 425.6a1.75 1.75 0 1 0 -3.5 0a1.75 1.75 0 1 0 3.5 0M477.05 431.2a1.75 1.75 0 1 0 -3.5 0a1.75 1.75 0 1 0 3.5 0M479.85 432.1a1.75 1.75 0 1 0 -3.5 0a1.75 1.75 0 1 0 3.5 0M491.95 426.0a1.75 1.75 0 1 0 -3.5 0a1.75 1.75 0 1 0 3.5 0M497.55 422.8a1.75 1.75 0 1 0 -3.5 0a1.75 1.75 0 1 0 3.5 0M501.65 427.4a1.75 1.75 0 1 0 -3.5 0a1.75 1.75 0 1 0 3.5 0M505.95 421.9a1.75 1.75 0 1 0 -3.5 0a1.75 1.75 0 1 0 3.5 0M508.75 424.7a1.75 1.75 0 1 0 -3.5 0a1.75 1.75 0 1 0 3.5 0M514.35 423.7a1.75 1.75 0 1 0 -3.5 0a1.75 1.75 0 1 0 3.5 0M519.85 420.0a1.75 1.75 0 1 0 -3.5 0a1.75 1.75 0 1 0 3.5 0M523.65 423.3a1.75 1.75 0 1 0 -3.5 0a1.75 1.75 0 1 0 3.5 0M530.15 421.9a1.75 1.75 0 1 0 -3.5 0a1.75 1.75 0 1 0 3.5 0M532.95 425.6a1.75 1.75 0 1 0 -3.5 0a1.75 1.75 0 1 0 3.5 0M538.45 423.7a1.75 1.75 0 1 0 -3.5 0a1.75 1.75 0 1 0 3.5 0M543.15 423.3a1.75 1.75 0 1 0 -3.5 0a1.75 1.75 0 1 0 3.5 0M603.25 399.9a1.75 1.75 0 1 0 -3.5 0a1.75 1.75 0 1 0 3.5 0M564.15 413.9a1.75 1.75 0 1 0 -3.5 0a1.75 1.75 0 1 0 3.5 0M592.45 422.8a1.75 1.75 0 1 0 -3.5 0a1.75 1.75 0 1 0 3.5 0M562.35 432.1a1.75 1.75 0 1 0 -3.5 0a1.75 1.75 0 1 0 3.5 0M566.05 434.0a1.75 1.75 0 1 0 -3.5 0a1.75 1.75 0 1 0 3.5 0M572.55 430.2a1.75 1.75 0 1 0 -3.5 0a1.75 1.75 0 1 0 3.5 0M579.45 429.3a1.75 1.75 0 1 0 -3.5 0a1.75 1.75 0 1 0 3.5 0M556.75 434.0a1.75 1.75 0 1 0 -3.5 0a1.75 1.75 0 1 0 3.5 0M591.15 437.1a1.75 1.75 0 1 0 -3.5 0a1.75 1.75 0 1 0 3.5 0M563.25 441.4a1.75 1.75 0 1 0 -3.5 0a1.75 1.75 0 1 0 3.5 0M558.65 445.1a1.75 1.75 0 1 0 -3.5 0a1.75 1.75 0 1 0 3.5 0M572.55 447.0a1.75 1.75 0 1 0 -3.5 0a1.75 1.75 0 1 0 3.5 0M585.55 446.6a1.75 1.75 0 1 0 -3.5 0a1.75 1.75 0 1 0 3.5 0M599.15 443.8a1.75 1.75 0 1 0 -3.5 0a1.75 1.75 0 1 0 3.5 0M578.75 452.9a1.75 1.75 0 1 0 -3.5 0a1.75 1.75 0 1 0 3.5 0M595.45 452.9a1.75 1.75 0 1 0 -3.5 0a1.75 1.75 0 1 0 3.5 0M569.45 452.2a1.75 1.75 0 1 0 -3.5 0a1.75 1.75 0 1 0 3.5 0M566.05 454.4a1.75 1.75 0 1 0 -3.5 0a1.75 1.75 0 1 0 3.5 0M561.45 451.6a1.75 1.75 0 1 0 -3.5 0a1.75 1.75 0 1 0 3.5 0M558.65 453.5a1.75 1.75 0 1 0 -3.5 0a1.75 1.75 0 1 0 3.5 0M621.45 451.3a1.75 1.75 0 1 0 -3.5 0a1.75 1.75 0 1 0 3.5 0M610.75 457.6a1.75 1.75 0 1 0 -3.5 0a1.75 1.75 0 1 0 3.5 0M571.65 459.1a1.75 1.75 0 1 0 -3.5 0a1.75 1.75 0 1 0 3.5 0M559.55 457.2a1.75 1.75 0 1 0 -3.5 0a1.75 1.75 0 1 0 3.5 0M564.15 457.2a1.75 1.75 0 1 0 -3.5 0a1.75 1.75 0 1 0 3.5 0M470.55 467.7a1.75 1.75 0 1 0 -3.5 0a1.75 1.75 0 1 0 3.5 0M469.65 469.5a1.75 1.75 0 1 0 -3.5 0a1.75 1.75 0 1 0 3.5 0M465.55 474.5a1.75 1.75 0 1 0 -3.5 0a1.75 1.75 0 1 0 3.5 0M476.15 471.7a1.75 1.75 0 1 0 -3.5 0a1.75 1.75 0 1 0 3.5 0M478.95 470.8a1.75 1.75 0 1 0 -3.5 0a1.75 1.75 0 1 0 3.5 0M475.25 477.7a1.75 1.75 0 1 0 -3.5 0a1.75 1.75 0 1 0 3.5 0M472.45 482.9a1.75 1.75 0 1 0 -3.5 0a1.75 1.75 0 1 0 3.5 0M471.55 484.8a1.75 1.75 0 1 0 -3.5 0a1.75 1.75 0 1 0 3.5 0M482.65 484.8a1.75 1.75 0 1 0 -3.5 0a1.75 1.75 0 1 0 3.5 0M486.45 485.7a1.75 1.75 0 1 0 -3.5 0a1.75 1.75 0 1 0 3.5 0M489.15 482.9a1.75 1.75 0 1 0 -3.5 0a1.75 1.75 0 1 0 3.5 0M491.95 481.0a1.75 1.75 0 1 0 -3.5 0a1.75 1.75 0 1 0 3.5 0M479.85 499.7a1.75 1.75 0 1 0 -3.5 0a1.75 1.75 0 1 0 3.5 0M480.85 491.3a1.75 1.75 0 1 0 -3.5 0a1.75 1.75 0 1 0 3.5 0M485.45 493.1a1.75 1.75 0 1 0 -3.5 0a1.75 1.75 0 1 0 3.5 0M486.45 495.9a1.75 1.75 0 1 0 -3.5 0a1.75 1.75 0 1 0 3.5 0M487.35 498.7a1.75 1.75 0 1 0 -3.5 0a1.75 1.75 0 1 0 3.5 0M491.05 493.1a1.75 1.75 0 1 0 -3.5 0a1.75 1.75 0 1 0 3.5 0M483.65 504.3a1.75 1.75 0 1 0 -3.5 0a1.75 1.75 0 1 0 3.5 0M488.25 504.3a1.75 1.75 0 1 0 -3.5 0a1.75 1.75 0 1 0 3.5 0M491.95 505.2a1.75 1.75 0 1 0 -3.5 0a1.75 1.75 0 1 0 3.5 0M494.75 506.2a1.75 1.75 0 1 0 -3.5 0a1.75 1.75 0 1 0 3.5 0M493.85 510.8a1.75 1.75 0 1 0 -3.5 0a1.75 1.75 0 1 0 3.5 0M495.75 490.3a1.75 1.75 0 1 0 -3.5 0a1.75 1.75 0 1 0 3.5 0M500.35 494.1a1.75 1.75 0 1 0 -3.5 0a1.75 1.75 0 1 0 3.5 0M501.25 500.6a1.75 1.75 0 1 0 -3.5 0a1.75 1.75 0 1 0 3.5 0M505.95 498.7a1.75 1.75 0 1 0 -3.5 0a1.75 1.75 0 1 0 3.5 0M507.75 504.3a1.75 1.75 0 1 0 -3.5 0a1.75 1.75 0 1 0 3.5 0M511.55 503.4a1.75 1.75 0 1 0 -3.5 0a1.75 1.75 0 1 0 3.5 0M513.35 501.5a1.75 1.75 0 1 0 -3.5 0a1.75 1.75 0 1 0 3.5 0M506.85 509.0a1.75 1.75 0 1 0 -3.5 0a1.75 1.75 0 1 0 3.5 0M512.45 507.1a1.75 1.75 0 1 0 -3.5 0a1.75 1.75 0 1 0 3.5 0M518.05 510.8a1.75 1.75 0 1 0 -3.5 0a1.75 1.75 0 1 0 3.5 0M482.35 514.9a1.75 1.75 0 1 0 -3.5 0a1.75 1.75 0 1 0 3.5 0M488.25 519.7a1.75 1.75 0 1 0 -3.5 0a1.75 1.75 0 1 0 3.5 0M486.45 524.2a1.75 1.75 0 1 0 -3.5 0a1.75 1.75 0 1 0 3.5 0M492.95 528.5a1.75 1.75 0 1 0 -3.5 0a1.75 1.75 0 1 0 3.5 0M502.75 526.6a1.75 1.75 0 1 0 -3.5 0a1.75 1.75 0 1 0 3.5 0M508.35 520.1a1.75 1.75 0 1 0 -3.5 0a1.75 1.75 0 1 0 3.5 0M516.15 525.3a1.75 1.75 0 1 0 -3.5 0a1.75 1.75 0 1 0 3.5 0M523.65 530.9a1.75 1.75 0 1 0 -3.5 0a1.75 1.75 0 1 0 3.5 0M517.05 514.2a1.75 1.75 0 1 0 -3.5 0a1.75 1.75 0 1 0 3.5 0M526.45 514.2a1.75 1.75 0 1 0 -3.5 0a1.75 1.75 0 1 0 3.5 0M524.55 521.0a1.75 1.75 0 1 0 -3.5 0a1.75 1.75 0 1 0 3.5 0M527.35 522.9a1.75 1.75 0 1 0 -3.5 0a1.75 1.75 0 1 0 3.5 0M535.75 517.3a1.75 1.75 0 1 0 -3.5 0a1.75 1.75 0 1 0 3.5 0M538.45 514.5a1.75 1.75 0 1 0 -3.5 0a1.75 1.75 0 1 0 3.5 0M541.25 517.3a1.75 1.75 0 1 0 -3.5 0a1.75 1.75 0 1 0 3.5 0M546.85 517.9a1.75 1.75 0 1 0 -3.5 0a1.75 1.75 0 1 0 3.5 0M545.95 524.2a1.75 1.75 0 1 0 -3.5 0a1.75 1.75 0 1 0 3.5 0M541.85 531.3a1.75 1.75 0 1 0 -3.5 0a1.75 1.75 0 1 0 3.5 0M555.25 514.5a1.75 1.75 0 1 0 -3.5 0a1.75 1.75 0 1 0 3.5 0M559.85 515.5a1.75 1.75 0 1 0 -3.5 0a1.75 1.75 0 1 0 3.5 0M559.85 525.3a1.75 1.75 0 1 0 -3.5 0a1.75 1.75 0 1 0 3.5 0M558.55 553.2a1.75 1.75 0 1 0 -3.5 0a1.75 1.75 0 1 0 3.5 0M529.15 503.4a1.75 1.75 0 1 0 -3.5 0a1.75 1.75 0 1 0 3.5 0M533.85 504.3a1.75 1.75 0 1 0 -3.5 0a1.75 1.75 0 1 0 3.5 0M538.45 505.2a1.75 1.75 0 1 0 -3.5 0a1.75 1.75 0 1 0 3.5 0M540.35 509.0a1.75 1.75 0 1 0 -3.5 0a1.75 1.75 0 1 0 3.5 0M543.15 508.0a1.75 1.75 0 1 0 -3.5 0a1.75 1.75 0 1 0 3.5 0M548.75 502.4a1.75 1.75 0 1 0 -3.5 0a1.75 1.75 0 1 0 3.5 0M553.35 505.2a1.75 1.75 0 1 0 -3.5 0a1.75 1.75 0 1 0 3.5 0M557.05 508.0a1.75 1.75 0 1 0 -3.5 0a1.75 1.75 0 1 0 3.5 0M560.85 505.2a1.75 1.75 0 1 0 -3.5 0a1.75 1.75 0 1 0 3.5 0M545.95 510.8a1.75 1.75 0 1 0 -3.5 0a1.75 1.75 0 1 0 3.5 0M551.55 501.5a1.75 1.75 0 1 0 -3.5 0a1.75 1.75 0 1 0 3.5 0M555.25 497.8a1.75 1.75 0 1 0 -3.5 0a1.75 1.75 0 1 0 3.5 0M558.95 495.9a1.75 1.75 0 1 0 -3.5 0a1.75 1.75 0 1 0 3.5 0M528.25 509.0a1.75 1.75 0 1 0 -3.5 0a1.75 1.75 0 1 0 3.5 0M534.75 496.9a1.75 1.75 0 1 0 -3.5 0a1.75 1.75 0 1 0 3.5 0M529.15 499.7a1.75 1.75 0 1 0 -3.5 0a1.75 1.75 0 1 0 3.5 0M542.25 499.7a1.75 1.75 0 1 0 -3.5 0a1.75 1.75 0 1 0 3.5 0M545.95 495.9a1.75 1.75 0 1 0 -3.5 0a1.75 1.75 0 1 0 3.5 0M550.55 494.1a1.75 1.75 0 1 0 -3.5 0a1.75 1.75 0 1 0 3.5 0M554.35 490.3a1.75 1.75 0 1 0 -3.5 0a1.75 1.75 0 1 0 3.5 0M560.85 490.3a1.75 1.75 0 1 0 -3.5 0a1.75 1.75 0 1 0 3.5 0M603.25 463.9a1.75 1.75 0 1 0 -3.5 0a1.75 1.75 0 1 0 3.5 0M613.85 466.7a1.75 1.75 0 1 0 -3.5 0a1.75 1.75 0 1 0 3.5 0M599.15 467.7a1.75 1.75 0 1 0 -3.5 0a1.75 1.75 0 1 0 3.5 0M603.25 471.4a1.75 1.75 0 1 0 -3.5 0a1.75 1.75 0 1 0 3.5 0M598.65 473.2a1.75 1.75 0 1 0 -3.5 0a1.75 1.75 0 1 0 3.5 0M590.65 467.7a1.75 1.75 0 1 0 -3.5 0a1.75 1.75 0 1 0 3.5 0M585.55 469.0a1.75 1.75 0 1 0 -3.5 0a1.75 1.75 0 1 0 3.5 0M585.55 472.7a1.75 1.75 0 1 0 -3.5 0a1.75 1.75 0 1 0 3.5 0M581.35 462.1a1.75 1.75 0 1 0 -3.5 0a1.75 1.75 0 1 0 3.5 0M576.85 462.1a1.75 1.75 0 1 0 -3.5 0a1.75 1.75 0 1 0 3.5 0M578.75 470.8a1.75 1.75 0 1 0 -3.5 0a1.75 1.75 0 1 0 3.5 0M575.35 468.4a1.75 1.75 0 1 0 -3.5 0a1.75 1.75 0 1 0 3.5 0M574.45 477.3a1.75 1.75 0 1 0 -3.5 0a1.75 1.75 0 1 0 3.5 0M577.25 477.3a1.75 1.75 0 1 0 -3.5 0a1.75 1.75 0 1 0 3.5 0M582.75 480.1a1.75 1.75 0 1 0 -3.5 0a1.75 1.75 0 1 0 3.5 0M586.15 479.6a1.75 1.75 0 1 0 -3.5 0a1.75 1.75 0 1 0 3.5 0M587.45 485.7a1.75 1.75 0 1 0 -3.5 0a1.75 1.75 0 1 0 3.5 0M579.45 485.7a1.75 1.75 0 1 0 -3.5 0a1.75 1.75 0 1 0 3.5 0M571.65 488.1a1.75 1.75 0 1 0 -3.5 0a1.75 1.75 0 1 0 3.5 0M591.75 489.4a1.75 1.75 0 1 0 -3.5 0a1.75 1.75 0 1 0 3.5 0M598.05 488.9a1.75 1.75 0 1 0 -3.5 0a1.75 1.75 0 1 0 3.5 0M605.45 477.0a1.75 1.75 0 1 0 -3.5 0a1.75 1.75 0 1 0 3.5 0M603.25 478.3a1.75 1.75 0 1 0 -3.5 0a1.75 1.75 0 1 0 3.5 0M593.55 478.3a1.75 1.75 0 1 0 -3.5 0a1.75 1.75 0 1 0 3.5 0M618.15 478.8a1.75 1.75 0 1 0 -3.5 0a1.75 1.75 0 1 0 3.5 0M620.95 482.0a1.75 1.75 0 1 0 -3.5 0a1.75 1.75 0 1 0 3.5 0M613.85 485.7a1.75 1.75 0 1 0 -3.5 0a1.75 1.75 0 1 0 3.5 0M612.15 488.1a1.75 1.75 0 1 0 -3.5 0a1.75 1.75 0 1 0 3.5 0M616.65 490.7a1.75 1.75 0 1 0 -3.5 0a1.75 1.75 0 1 0 3.5 0M652.95 482.5a1.75 1.75 0 1 0 -3.5 0a1.75 1.75 0 1 0 3.5 0M582.75 491.8a1.75 1.75 0 1 0 -3.5 0a1.75 1.75 0 1 0 3.5 0M578.75 496.9a1.75 1.75 0 1 0 -3.5 0a1.75 1.75 0 1 0 3.5 0M577.25 501.5a1.75 1.75 0 1 0 -3.5 0a1.75 1.75 0 1 0 3.5 0M572.55 497.8a1.75 1.75 0 1 0 -3.5 0a1.75 1.75 0 1 0 3.5 0M567.95 500.6a1.75 1.75 0 1 0 -3.5 0a1.75 1.75 0 1 0 3.5 0M563.25 501.5a1.75 1.75 0 1 0 -3.5 0a1.75 1.75 0 1 0 3.5 0M557.65 499.7a1.75 1.75 0 1 0 -3.5 0a1.75 1.75 0 1 0 3.5 0M589.35 498.7a1.75 1.75 0 1 0 -3.5 0a1.75 1.75 0 1 0 3.5 0M602.35 495.0a1.75 1.75 0 1 0 -3.5 0a1.75 1.75 0 1 0 3.5 0M605.45 496.9a1.75 1.75 0 1 0 -3.5 0a1.75 1.75 0 1 0 3.5 0M604.75 499.3a1.75 1.75 0 1 0 -3.5 0a1.75 1.75 0 1 0 3.5 0M611.05 498.7a1.75 1.75 0 1 0 -3.5 0a1.75 1.75 0 1 0 3.5 0M617.75 509.3a1.75 1.75 0 1 0 -3.5 0a1.75 1.75 0 1 0 3.5 0M570.75 510.8a1.75 1.75 0 1 0 -3.5 0a1.75 1.75 0 1 0 3.5 0M574.45 517.3a1.75 1.75 0 1 0 -3.5 0a1.75 1.75 0 1 0 3.5 0M562.35 518.3a1.75 1.75 0 1 0 -3.5 0a1.75 1.75 0 1 0 3.5 0M601.95 519.6a1.75 1.75 0 1 0 -3.5 0a1.75 1.75 0 1 0 3.5 0M613.45 530.3a1.75 1.75 0 1 0 -3.5 0a1.75 1.75 0 1 0 3.5 0M556.75 456.9a1.75 1.75 0 1 0 -3.5 0a1.75 1.75 0 1 0 3.5 0M567.95 464.3a1.75 1.75 0 1 0 -3.5 0a1.75 1.75 0 1 0 3.5 0M564.15 466.2a1.75 1.75 0 1 0 -3.5 0a1.75 1.75 0 1 0 3.5 0M560.45 469.9a1.75 1.75 0 1 0 -3.5 0a1.75 1.75 0 1 0 3.5 0M557.65 473.6a1.75 1.75 0 1 0 -3.5 0a1.75 1.75 0 1 0 3.5 0M562.35 475.5a1.75 1.75 0 1 0 -3.5 0a1.75 1.75 0 1 0 3.5 0M566.05 471.7a1.75 1.75 0 1 0 -3.5 0a1.75 1.75 0 1 0 3.5 0M569.75 468.0a1.75 1.75 0 1 0 -3.5 0a1.75 1.75 0 1 0 3.5 0M571.65 472.7a1.75 1.75 0 1 0 -3.5 0a1.75 1.75 0 1 0 3.5 0M567.95 479.2a1.75 1.75 0 1 0 -3.5 0a1.75 1.75 0 1 0 3.5 0M564.15 481.0a1.75 1.75 0 1 0 -3.5 0a1.75 1.75 0 1 0 3.5 0M560.45 482.9a1.75 1.75 0 1 0 -3.5 0a1.75 1.75 0 1 0 3.5 0M557.65 484.8a1.75 1.75 0 1 0 -3.5 0a1.75 1.75 0 1 0 3.5 0M565.15 489.4a1.75 1.75 0 1 0 -3.5 0a1.75 1.75 0 1 0 3.5 0M567.95 494.1a1.75 1.75 0 1 0 -3.5 0a1.75 1.75 0 1 0 3.5 0M557.65 494.1a1.75 1.75 0 1 0 -3.5 0a1.75 1.75 0 1 0 3.5 0M564.15 497.8a1.75 1.75 0 1 0 -3.5 0a1.75 1.75 0 1 0 3.5 0M558.65 505.2a1.75 1.75 0 1 0 -3.5 0a1.75 1.75 0 1 0 3.5 0M505.15 455.9a1.75 1.75 0 1 0 -3.5 0a1.75 1.75 0 1 0 3.5 0M517.95 474.4a1.75 1.75 0 1 0 -3.5 0a1.75 1.75 0 1 0 3.5 0M503.95 479.1a1.75 1.75 0 1 0 -3.5 0a1.75 1.75 0 1 0 3.5 0M511.85 465.9a1.75 1.75 0 1 0 -3.5 0a1.75 1.75 0 1 0 3.5 0M508.35 464.2a1.75 1.75 0 1 0 -3.5 0a1.75 1.75 0 1 0 3.5 0M507.75 485.2a1.75 1.75 0 1 0 -3.5 0a1.75 1.75 0 1 0 3.5 0M506.15 449.7a1.75 1.75 0 1 0 -3.5 0a1.75 1.75 0 1 0 3.5 0M528.55 462.0a1.75 1.75 0 1 0 -3.5 0a1.75 1.75 0 1 0 3.5 0M519.65 457.9a1.75 1.75 0 1 0 -3.5 0a1.75 1.75 0 1 0 3.5 0M498.85 454.8a1.75 1.75 0 1 0 -3.5 0a1.75 1.75 0 1 0 3.5 0M524.45 467.6a1.75 1.75 0 1 0 -3.5 0a1.75 1.75 0 1 0 3.5 0M520.25 475.2a1.75 1.75 0 1 0 -3.5 0a1.75 1.75 0 1 0 3.5 0M516.65 473.2a1.75 1.75 0 1 0 -3.5 0a1.75 1.75 0 1 0 3.5 0M501.45 453.4a1.75 1.75 0 1 0 -3.5 0a1.75 1.75 0 1 0 3.5 0M511.25 479.6a1.75 1.75 0 1 0 -3.5 0a1.75 1.75 0 1 0 3.5 0M502.75 477.1a1.75 1.75 0 1 0 -3.5 0a1.75 1.75 0 1 0 3.5 0M526.85 475.4a1.75 1.75 0 1 0 -3.5 0a1.75 1.75 0 1 0 3.5 0M526.05 454.8a1.75 1.75 0 1 0 -3.5 0a1.75 1.75 0 1 0 3.5 0M494.65 469.3a1.75 1.75 0 1 0 -3.5 0a1.75 1.75 0 1 0 3.5 0M521.65 478.9a1.75 1.75 0 1 0 -3.5 0a1.75 1.75 0 1 0 3.5 0M522.35 469.9a1.75 1.75 0 1 0 -3.5 0a1.75 1.75 0 1 0 3.5 0M508.15 483.1a1.75 1.75 0 1 0 -3.5 0a1.75 1.75 0 1 0 3.5 0M504.45 464.1a1.75 1.75 0 1 0 -3.5 0a1.75 1.75 0 1 0 3.5 0M498.25 469.0a1.75 1.75 0 1 0 -3.5 0a1.75 1.75 0 1 0 3.5 0M521.25 466.6a1.75 1.75 0 1 0 -3.5 0a1.75 1.75 0 1 0 3.5 0M508.75 447.8a1.75 1.75 0 1 0 -3.5 0a1.75 1.75 0 1 0 3.5 0M519.15 447.7a1.75 1.75 0 1 0 -3.5 0a1.75 1.75 0 1 0 3.5 0M524.15 470.7a1.75 1.75 0 1 0 -3.5 0a1.75 1.75 0 1 0 3.5 0M528.25 472.4a1.75 1.75 0 1 0 -3.5 0a1.75 1.75 0 1 0 3.5 0M524.25 457.3a1.75 1.75 0 1 0 -3.5 0a1.75 1.75 0 1 0 3.5 0M531.35 469.4a1.75 1.75 0 1 0 -3.5 0a1.75 1.75 0 1 0 3.5 0M515.65 461.4a1.75 1.75 0 1 0 -3.5 0a1.75 1.75 0 1 0 3.5 0M515.95 470.5a1.75 1.75 0 1 0 -3.5 0a1.75 1.75 0 1 0 3.5 0M507.45 458.3a1.75 1.75 0 1 0 -3.5 0a1.75 1.75 0 1 0 3.5 0M514.95 465.2a1.75 1.75 0 1 0 -3.5 0a1.75 1.75 0 1 0 3.5 0M509.85 458.0a1.75 1.75 0 1 0 -3.5 0a1.75 1.75 0 1 0 3.5 0M518.85 450.4a1.75 1.75 0 1 0 -3.5 0a1.75 1.75 0 1 0 3.5 0M500.85 461.0a1.75 1.75 0 1 0 -3.5 0a1.75 1.75 0 1 0 3.5 0M501.65 450.2a1.75 1.75 0 1 0 -3.5 0a1.75 1.75 0 1 0 3.5 0M524.35 465.7a1.75 1.75 0 1 0 -3.5 0a1.75 1.75 0 1 0 3.5 0M499.85 466.6a1.75 1.75 0 1 0 -3.5 0a1.75 1.75 0 1 0 3.5 0M511.15 454.5a1.75 1.75 0 1 0 -3.5 0a1.75 1.75 0 1 0 3.5 0M514.85 485.8a1.75 1.75 0 1 0 -3.5 0a1.75 1.75 0 1 0 3.5 0M514.95 473.8a1.75 1.75 0 1 0 -3.5 0a1.75 1.75 0 1 0 3.5 0M503.15 457.0a1.75 1.75 0 1 0 -3.5 0a1.75 1.75 0 1 0 3.5 0M501.25 479.8a1.75 1.75 0 1 0 -3.5 0a1.75 1.75 0 1 0 3.5 0M516.75 457.0a1.75 1.75 0 1 0 -3.5 0a1.75 1.75 0 1 0 3.5 0M508.15 456.2a1.75 1.75 0 1 0 -3.5 0a1.75 1.75 0 1 0 3.5 0M504.35 474.1a1.75 1.75 0 1 0 -3.5 0a1.75 1.75 0 1 0 3.5 0M530.35 458.2a1.75 1.75 0 1 0 -3.5 0a1.75 1.75 0 1 0 3.5 0M500.75 473.9a1.75 1.75 0 1 0 -3.5 0a1.75 1.75 0 1 0 3.5 0M528.05 452.4a1.75 1.75 0 1 0 -3.5 0a1.75 1.75 0 1 0 3.5 0M502.75 470.7a1.75 1.75 0 1 0 -3.5 0a1.75 1.75 0 1 0 3.5 0M505.75 477.5a1.75 1.75 0 1 0 -3.5 0a1.75 1.75 0 1 0 3.5 0M506.05 482.0a1.75 1.75 0 1 0 -3.5 0a1.75 1.75 0 1 0 3.5 0M531.95 474.3a1.75 1.75 0 1 0 -3.5 0a1.75 1.75 0 1 0 3.5 0M510.15 459.8a1.75 1.75 0 1 0 -3.5 0a1.75 1.75 0 1 0 3.5 0M497.05 465.2a1.75 1.75 0 1 0 -3.5 0a1.75 1.75 0 1 0 3.5 0M503.45 461.6a1.75 1.75 0 1 0 -3.5 0a1.75 1.75 0 1 0 3.5 0M506.75 471.8a1.75 1.75 0 1 0 -3.5 0a1.75 1.75 0 1 0 3.5 0M509.95 475.6a1.75 1.75 0 1 0 -3.5 0a1.75 1.75 0 1 0 3.5 0M524.45 451.6a1.75 1.75 0 1 0 -3.5 0a1.75 1.75 0 1 0 3.5 0M522.25 448.0a1.75 1.75 0 1 0 -3.5 0a1.75 1.75 0 1 0 3.5 0M525.75 460.0a1.75 1.75 0 1 0 -3.5 0a1.75 1.75 0 1 0 3.5 0M513.75 461.5a1.75 1.75 0 1 0 -3.5 0a1.75 1.75 0 1 0 3.5 0M499.65 462.9a1.75 1.75 0 1 0 -3.5 0a1.75 1.75 0 1 0 3.5 0M532.25 459.6a1.75 1.75 0 1 0 -3.5 0a1.75 1.75 0 1 0 3.5 0M525.95 478.6a1.75 1.75 0 1 0 -3.5 0a1.75 1.75 0 1 0 3.5 0M532.55 463.8a1.75 1.75 0 1 0 -3.5 0a1.75 1.75 0 1 0 3.5 0M524.25 482.7a1.75 1.75 0 1 0 -3.5 0a1.75 1.75 0 1 0 3.5 0M508.45 453.0a1.75 1.75 0 1 0 -3.5 0a1.75 1.75 0 1 0 3.5 0M508.95 450.2a1.75 1.75 0 1 0 -3.5 0a1.75 1.75 0 1 0 3.5 0M529.95 463.2a1.75 1.75 0 1 0 -3.5 0a1.75 1.75 0 1 0 3.5 0M512.05 470.1a1.75 1.75 0 1 0 -3.5 0a1.75 1.75 0 1 0 3.5 0M508.55 474.4a1.75 1.75 0 1 0 -3.5 0a1.75 1.75 0 1 0 3.5 0M529.25 467.5a1.75 1.75 0 1 0 -3.5 0a1.75 1.75 0 1 0 3.5 0M497.85 458.1a1.75 1.75 0 1 0 -3.5 0a1.75 1.75 0 1 0 3.5 0M513.45 480.3a1.75 1.75 0 1 0 -3.5 0a1.75 1.75 0 1 0 3.5 0M517.15 464.4a1.75 1.75 0 1 0 -3.5 0a1.75 1.75 0 1 0 3.5 0M518.85 483.3a1.75 1.75 0 1 0 -3.5 0a1.75 1.75 0 1 0 3.5 0M515.25 451.4a1.75 1.75 0 1 0 -3.5 0a1.75 1.75 0 1 0 3.5 0M503.55 472.4a1.75 1.75 0 1 0 -3.5 0a1.75 1.75 0 1 0 3.5 0M531.65 471.9a1.75 1.75 0 1 0 -3.5 0a1.75 1.75 0 1 0 3.5 0M502.95 465.8a1.75 1.75 0 1 0 -3.5 0a1.75 1.75 0 1 0 3.5 0M516.45 459.0a1.75 1.75 0 1 0 -3.5 0a1.75 1.75 0 1 0 3.5 0M517.35 469.3a1.75 1.75 0 1 0 -3.5 0a1.75 1.75 0 1 0 3.5 0M510.05 468.0a1.75 1.75 0 1 0 -3.5 0a1.75 1.75 0 1 0 3.5 0M528.45 476.3a1.75 1.75 0 1 0 -3.5 0a1.75 1.75 0 1 0 3.5 0M497.45 475.1a1.75 1.75 0 1 0 -3.5 0a1.75 1.75 0 1 0 3.5 0M503.25 459.1a1.75 1.75 0 1 0 -3.5 0a1.75 1.75 0 1 0 3.5 0M529.45 474.0a1.75 1.75 0 1 0 -3.5 0a1.75 1.75 0 1 0 3.5 0M518.85 461.6a1.75 1.75 0 1 0 -3.5 0a1.75 1.75 0 1 0 3.5 0M515.15 454.6a1.75 1.75 0 1 0 -3.5 0a1.75 1.75 0 1 0 3.5 0M515.15 449.2a1.75 1.75 0 1 0 -3.5 0a1.75 1.75 0 1 0 3.5 0M513.55 468.1a1.75 1.75 0 1 0 -3.5 0a1.75 1.75 0 1 0 3.5 0M495.05 461.7a1.75 1.75 0 1 0 -3.5 0a1.75 1.75 0 1 0 3.5 0M526.75 450.9a1.75 1.75 0 1 0 -3.5 0a1.75 1.75 0 1 0 3.5 0M515.45 483.2a1.75 1.75 0 1 0 -3.5 0a1.75 1.75 0 1 0 3.5 0M510.15 471.6a1.75 1.75 0 1 0 -3.5 0a1.75 1.75 0 1 0 3.5 0M515.45 476.9a1.75 1.75 0 1 0 -3.5 0a1.75 1.75 0 1 0 3.5 0M531.35 461.8a1.75 1.75 0 1 0 -3.5 0a1.75 1.75 0 1 0 3.5 0M519.25 485.4a1.75 1.75 0 1 0 -3.5 0a1.75 1.75 0 1 0 3.5 0M518.15 479.7a1.75 1.75 0 1 0 -3.5 0a1.75 1.75 0 1 0 3.5 0M500.85 470.7a1.75 1.75 0 1 0 -3.5 0a1.75 1.75 0 1 0 3.5 0M524.95 448.9a1.75 1.75 0 1 0 -3.5 0a1.75 1.75 0 1 0 3.5 0M521.65 472.6a1.75 1.75 0 1 0 -3.5 0a1.75 1.75 0 1 0 3.5 0M521.15 459.1a1.75 1.75 0 1 0 -3.5 0a1.75 1.75 0 1 0 3.5 0M496.05 473.9a1.75 1.75 0 1 0 -3.5 0a1.75 1.75 0 1 0 3.5 0M496.35 468.3a1.75 1.75 0 1 0 -3.5 0a1.75 1.75 0 1 0 3.5 0M511.15 447.8a1.75 1.75 0 1 0 -3.5 0a1.75 1.75 0 1 0 3.5 0M516.95 450.4a1.75 1.75 0 1 0 -3.5 0a1.75 1.75 0 1 0 3.5 0M493.85 466.4a1.75 1.75 0 1 0 -3.5 0a1.75 1.75 0 1 0 3.5 0M509.35 480.6a1.75 1.75 0 1 0 -3.5 0a1.75 1.75 0 1 0 3.5 0M499.55 478.8a1.75 1.75 0 1 0 -3.5 0a1.75 1.75 0 1 0 3.5 0M508.45 470.8a1.75 1.75 0 1 0 -3.5 0a1.75 1.75 0 1 0 3.5 0M524.15 461.2a1.75 1.75 0 1 0 -3.5 0a1.75 1.75 0 1 0 3.5 0M533.15 461.4a1.75 1.75 0 1 0 -3.5 0a1.75 1.75 0 1 0 3.5 0M511.25 473.2a1.75 1.75 0 1 0 -3.5 0a1.75 1.75 0 1 0 3.5 0M513.65 453.3a1.75 1.75 0 1 0 -3.5 0a1.75 1.75 0 1 0 3.5 0M516.05 467.1a1.75 1.75 0 1 0 -3.5 0a1.75 1.75 0 1 0 3.5 0M517.25 478.2a1.75 1.75 0 1 0 -3.5 0a1.75 1.75 0 1 0 3.5 0M522.35 482.9a1.75 1.75 0 1 0 -3.5 0a1.75 1.75 0 1 0 3.5 0M505.15 466.7a1.75 1.75 0 1 0 -3.5 0a1.75 1.75 0 1 0 3.5 0M520.85 468.5a1.75 1.75 0 1 0 -3.5 0a1.75 1.75 0 1 0 3.5 0M520.95 450.0a1.75 1.75 0 1 0 -3.5 0a1.75 1.75 0 1 0 3.5 0M524.65 473.6a1.75 1.75 0 1 0 -3.5 0a1.75 1.75 0 1 0 3.5 0M510.15 464.8a1.75 1.75 0 1 0 -3.5 0a1.75 1.75 0 1 0 3.5 0M531.25 475.9a1.75 1.75 0 1 0 -3.5 0a1.75 1.75 0 1 0 3.5 0M521.25 463.2a1.75 1.75 0 1 0 -3.5 0a1.75 1.75 0 1 0 3.5 0M518.25 459.5a1.75 1.75 0 1 0 -3.5 0a1.75 1.75 0 1 0 3.5 0M505.15 448.1a1.75 1.75 0 1 0 -3.5 0a1.75 1.75 0 1 0 3.5 0M506.15 461.7a1.75 1.75 0 1 0 -3.5 0a1.75 1.75 0 1 0 3.5 0M529.75 465.6a1.75 1.75 0 1 0 -3.5 0a1.75 1.75 0 1 0 3.5 0M526.95 458.2a1.75 1.75 0 1 0 -3.5 0a1.75 1.75 0 1 0 3.5 0M529.65 460.4a1.75 1.75 0 1 0 -3.5 0a1.75 1.75 0 1 0 3.5 0M519.75 456.0a1.75 1.75 0 1 0 -3.5 0a1.75 1.75 0 1 0 3.5 0M519.45 467.3a1.75 1.75 0 1 0 -3.5 0a1.75 1.75 0 1 0 3.5 0M517.25 448.1a1.75 1.75 0 1 0 -3.5 0a1.75 1.75 0 1 0 3.5 0M514.45 458.4a1.75 1.75 0 1 0 -3.5 0a1.75 1.75 0 1 0 3.5 0M507.55 468.9a1.75 1.75 0 1 0 -3.5 0a1.75 1.75 0 1 0 3.5 0M505.15 468.9a1.75 1.75 0 1 0 -3.5 0a1.75 1.75 0 1 0 3.5 0M513.05 472.6a1.75 1.75 0 1 0 -3.5 0a1.75 1.75 0 1 0 3.5 0M504.85 453.5a1.75 1.75 0 1 0 -3.5 0a1.75 1.75 0 1 0 3.5 0M499.25 451.4a1.75 1.75 0 1 0 -3.5 0a1.75 1.75 0 1 0 3.5 0M531.25 456.4a1.75 1.75 0 1 0 -3.5 0a1.75 1.75 0 1 0 3.5 0M497.15 471.6a1.75 1.75 0 1 0 -3.5 0a1.75 1.75 0 1 0 3.5 0M506.15 484.6a1.75 1.75 0 1 0 -3.5 0a1.75 1.75 0 1 0 3.5 0M499.75 457.8a1.75 1.75 0 1 0 -3.5 0a1.75 1.75 0 1 0 3.5 0M524.45 476.0a1.75 1.75 0 1 0 -3.5 0a1.75 1.75 0 1 0 3.5 0M518.15 466.0a1.75 1.75 0 1 0 -3.5 0a1.75 1.75 0 1 0 3.5 0M510.15 482.7a1.75 1.75 0 1 0 -3.5 0a1.75 1.75 0 1 0 3.5 0M511.65 481.4a1.75 1.75 0 1 0 -3.5 0a1.75 1.75 0 1 0 3.5 0M517.75 454.4a1.75 1.75 0 1 0 -3.5 0a1.75 1.75 0 1 0 3.5 0M511.05 485.2a1.75 1.75 0 1 0 -3.5 0a1.75 1.75 0 1 0 3.5 0M512.25 475.0a1.75 1.75 0 1 0 -3.5 0a1.75 1.75 0 1 0 3.5 0M494.85 471.5a1.75 1.75 0 1 0 -3.5 0a1.75 1.75 0 1 0 3.5 0M512.25 460.4a1.75 1.75 0 1 0 -3.5 0a1.75 1.75 0 1 0 3.5 0M527.85 466.3a1.75 1.75 0 1 0 -3.5 0a1.75 1.75 0 1 0 3.5 0M511.85 452.6a1.75 1.75 0 1 0 -3.5 0a1.75 1.75 0 1 0 3.5 0M507.25 451.2a1.75 1.75 0 1 0 -3.5 0a1.75 1.75 0 1 0 3.5 0M496.85 461.5a1.75 1.75 0 1 0 -3.5 0a1.75 1.75 0 1 0 3.5 0M511.65 450.5a1.75 1.75 0 1 0 -3.5 0a1.75 1.75 0 1 0 3.5 0M525.95 488.0a1.75 1.75 0 1 0 -3.5 0a1.75 1.75 0 1 0 3.5 0M545.75 476.6a1.75 1.75 0 1 0 -3.5 0a1.75 1.75 0 1 0 3.5 0M551.15 439.1a1.75 1.75 0 1 0 -3.5 0a1.75 1.75 0 1 0 3.5 0M537.15 470.8a1.75 1.75 0 1 0 -3.5 0a1.75 1.75 0 1 0 3.5 0M523.35 437.0a1.75 1.75 0 1 0 -3.5 0a1.75 1.75 0 1 0 3.5 0M519.75 488.7a1.75 1.75 0 1 0 -3.5 0a1.75 1.75 0 1 0 3.5 0M535.15 490.4a1.75 1.75 0 1 0 -3.5 0a1.75 1.75 0 1 0 3.5 0M539.85 433.4a1.75 1.75 0 1 0 -3.5 0a1.75 1.75 0 1 0 3.5 0M535.65 461.3a1.75 1.75 0 1 0 -3.5 0a1.75 1.75 0 1 0 3.5 0M494.85 440.2a1.75 1.75 0 1 0 -3.5 0a1.75 1.75 0 1 0 3.5 0M487.25 451.4a1.75 1.75 0 1 0 -3.5 0a1.75 1.75 0 1 0 3.5 0M506.95 445.0a1.75 1.75 0 1 0 -3.5 0a1.75 1.75 0 1 0 3.5 0M516.95 488.9a1.75 1.75 0 1 0 -3.5 0a1.75 1.75 0 1 0 3.5 0M550.75 476.8a1.75 1.75 0 1 0 -3.5 0a1.75 1.75 0 1 0 3.5 0M551.05 462.0a1.75 1.75 0 1 0 -3.5 0a1.75 1.75 0 1 0 3.5 0M528.25 437.9a1.75 1.75 0 1 0 -3.5 0a1.75 1.75 0 1 0 3.5 0M535.85 446.5a1.75 1.75 0 1 0 -3.5 0a1.75 1.75 0 1 0 3.5 0M523.65 444.3a1.75 1.75 0 1 0 -3.5 0a1.75 1.75 0 1 0 3.5 0M547.05 463.5a1.75 1.75 0 1 0 -3.5 0a1.75 1.75 0 1 0 3.5 0M538.95 446.0a1.75 1.75 0 1 0 -3.5 0a1.75 1.75 0 1 0 3.5 0M490.25 443.4a1.75 1.75 0 1 0 -3.5 0a1.75 1.75 0 1 0 3.5 0M516.95 486.6a1.75 1.75 0 1 0 -3.5 0a1.75 1.75 0 1 0 3.5 0M545.45 467.5a1.75 1.75 0 1 0 -3.5 0a1.75 1.75 0 1 0 3.5 0M532.05 435.3a1.75 1.75 0 1 0 -3.5 0a1.75 1.75 0 1 0 3.5 0M542.25 490.3a1.75 1.75 0 1 0 -3.5 0a1.75 1.75 0 1 0 3.5 0M537.45 440.4a1.75 1.75 0 1 0 -3.5 0a1.75 1.75 0 1 0 3.5 0M548.35 438.5a1.75 1.75 0 1 0 -3.5 0a1.75 1.75 0 1 0 3.5 0M484.85 475.3a1.75 1.75 0 1 0 -3.5 0a1.75 1.75 0 1 0 3.5 0M533.55 480.5a1.75 1.75 0 1 0 -3.5 0a1.75 1.75 0 1 0 3.5 0M521.85 433.6a1.75 1.75 0 1 0 -3.5 0a1.75 1.75 0 1 0 3.5 0M486.45 471.7a1.75 1.75 0 1 0 -3.5 0a1.75 1.75 0 1 0 3.5 0M538.55 451.9a1.75 1.75 0 1 0 -3.5 0a1.75 1.75 0 1 0 3.5 0M538.75 454.0a1.75 1.75 0 1 0 -3.5 0a1.75 1.75 0 1 0 3.5 0M493.75 474.5a1.75 1.75 0 1 0 -3.5 0a1.75 1.75 0 1 0 3.5 0M539.95 478.6a1.75 1.75 0 1 0 -3.5 0a1.75 1.75 0 1 0 3.5 0M553.75 446.1a1.75 1.75 0 1 0 -3.5 0a1.75 1.75 0 1 0 3.5 0M531.05 478.7a1.75 1.75 0 1 0 -3.5 0a1.75 1.75 0 1 0 3.5 0M509.15 439.3a1.75 1.75 0 1 0 -3.5 0a1.75 1.75 0 1 0 3.5 0M541.55 463.2a1.75 1.75 0 1 0 -3.5 0a1.75 1.75 0 1 0 3.5 0M554.45 471.8a1.75 1.75 0 1 0 -3.5 0a1.75 1.75 0 1 0 3.5 0M488.55 461.8a1.75 1.75 0 1 0 -3.5 0a1.75 1.75 0 1 0 3.5 0M492.55 470.8a1.75 1.75 0 1 0 -3.5 0a1.75 1.75 0 1 0 3.5 0M500.65 489.8a1.75 1.75 0 1 0 -3.5 0a1.75 1.75 0 1 0 3.5 0M530.35 432.2a1.75 1.75 0 1 0 -3.5 0a1.75 1.75 0 1 0 3.5 0M545.75 474.0a1.75 1.75 0 1 0 -3.5 0a1.75 1.75 0 1 0 3.5 0M532.35 487.9a1.75 1.75 0 1 0 -3.5 0a1.75 1.75 0 1 0 3.5 0M528.35 483.2a1.75 1.75 0 1 0 -3.5 0a1.75 1.75 0 1 0 3.5 0M489.15 476.1a1.75 1.75 0 1 0 -3.5 0a1.75 1.75 0 1 0 3.5 0M545.15 451.9a1.75 1.75 0 1 0 -3.5 0a1.75 1.75 0 1 0 3.5 0M529.75 492.4a1.75 1.75 0 1 0 -3.5 0a1.75 1.75 0 1 0 3.5 0M534.75 436.7a1.75 1.75 0 1 0 -3.5 0a1.75 1.75 0 1 0 3.5 0M548.25 475.8a1.75 1.75 0 1 0 -3.5 0a1.75 1.75 0 1 0 3.5 0M488.95 464.3a1.75 1.75 0 1 0 -3.5 0a1.75 1.75 0 1 0 3.5 0M496.55 433.9a1.75 1.75 0 1 0 -3.5 0a1.75 1.75 0 1 0 3.5 0M488.35 457.2a1.75 1.75 0 1 0 -3.5 0a1.75 1.75 0 1 0 3.5 0M510.05 443.5a1.75 1.75 0 1 0 -3.5 0a1.75 1.75 0 1 0 3.5 0M512.35 493.7a1.75 1.75 0 1 0 -3.5 0a1.75 1.75 0 1 0 3.5 0M493.85 483.8a1.75 1.75 0 1 0 -3.5 0a1.75 1.75 0 1 0 3.5 0M540.95 459.3a1.75 1.75 0 1 0 -3.5 0a1.75 1.75 0 1 0 3.5 0M538.35 483.2a1.75 1.75 0 1 0 -3.5 0a1.75 1.75 0 1 0 3.5 0M487.65 469.4a1.75 1.75 0 1 0 -3.5 0a1.75 1.75 0 1 0 3.5 0M537.45 433.8a1.75 1.75 0 1 0 -3.5 0a1.75 1.75 0 1 0 3.5 0M532.05 454.2a1.75 1.75 0 1 0 -3.5 0a1.75 1.75 0 1 0 3.5 0M500.25 445.5a1.75 1.75 0 1 0 -3.5 0a1.75 1.75 0 1 0 3.5 0M542.85 478.8a1.75 1.75 0 1 0 -3.5 0a1.75 1.75 0 1 0 3.5 0M514.65 494.4a1.75 1.75 0 1 0 -3.5 0a1.75 1.75 0 1 0 3.5 0M554.05 468.3a1.75 1.75 0 1 0 -3.5 0a1.75 1.75 0 1 0 3.5 0M511.15 434.8a1.75 1.75 0 1 0 -3.5 0a1.75 1.75 0 1 0 3.5 0M484.65 454.9a1.75 1.75 0 1 0 -3.5 0a1.75 1.75 0 1 0 3.5 0M514.85 434.6a1.75 1.75 0 1 0 -3.5 0a1.75 1.75 0 1 0 3.5 0M499.85 486.1a1.75 1.75 0 1 0 -3.5 0a1.75 1.75 0 1 0 3.5 0M548.85 479.4a1.75 1.75 0 1 0 -3.5 0a1.75 1.75 0 1 0 3.5 0M497.05 436.3a1.75 1.75 0 1 0 -3.5 0a1.75 1.75 0 1 0 3.5 0M535.95 458.2a1.75 1.75 0 1 0 -3.5 0a1.75 1.75 0 1 0 3.5 0M548.85 441.2a1.75 1.75 0 1 0 -3.5 0a1.75 1.75 0 1 0 3.5 0M536.65 478.5a1.75 1.75 0 1 0 -3.5 0a1.75 1.75 0 1 0 3.5 0M527.35 445.3a1.75 1.75 0 1 0 -3.5 0a1.75 1.75 0 1 0 3.5 0M546.75 454.5a1.75 1.75 0 1 0 -3.5 0a1.75 1.75 0 1 0 3.5 0M503.85 488.0a1.75 1.75 0 1 0 -3.5 0a1.75 1.75 0 1 0 3.5 0M550.65 464.8a1.75 1.75 0 1 0 -3.5 0a1.75 1.75 0 1 0 3.5 0M486.25 481.0a1.75 1.75 0 1 0 -3.5 0a1.75 1.75 0 1 0 3.5 0M545.45 437.9a1.75 1.75 0 1 0 -3.5 0a1.75 1.75 0 1 0 3.5 0M554.75 462.2a1.75 1.75 0 1 0 -3.5 0a1.75 1.75 0 1 0 3.5 0M551.65 446.5a1.75 1.75 0 1 0 -3.5 0a1.75 1.75 0 1 0 3.5 0M493.05 447.6a1.75 1.75 0 1 0 -3.5 0a1.75 1.75 0 1 0 3.5 0M542.65 450.5a1.75 1.75 0 1 0 -3.5 0a1.75 1.75 0 1 0 3.5 0M542.35 474.2a1.75 1.75 0 1 0 -3.5 0a1.75 1.75 0 1 0 3.5 0M500.65 435.3a1.75 1.75 0 1 0 -3.5 0a1.75 1.75 0 1 0 3.5 0M520.05 436.7a1.75 1.75 0 1 0 -3.5 0a1.75 1.75 0 1 0 3.5 0M543.65 482.3a1.75 1.75 0 1 0 -3.5 0a1.75 1.75 0 1 0 3.5 0M506.45 440.5a1.75 1.75 0 1 0 -3.5 0a1.75 1.75 0 1 0 3.5 0M545.95 445.7a1.75 1.75 0 1 0 -3.5 0a1.75 1.75 0 1 0 3.5 0M506.25 493.7a1.75 1.75 0 1 0 -3.5 0a1.75 1.75 0 1 0 3.5 0M519.15 491.9a1.75 1.75 0 1 0 -3.5 0a1.75 1.75 0 1 0 3.5 0M485.65 462.1a1.75 1.75 0 1 0 -3.5 0a1.75 1.75 0 1 0 3.5 0M544.45 464.3a1.75 1.75 0 1 0 -3.5 0a1.75 1.75 0 1 0 3.5 0M532.25 493.6a1.75 1.75 0 1 0 -3.5 0a1.75 1.75 0 1 0 3.5 0M531.25 443.8a1.75 1.75 0 1 0 -3.5 0a1.75 1.75 0 1 0 3.5 0M503.35 441.6a1.75 1.75 0 1 0 -3.5 0a1.75 1.75 0 1 0 3.5 0M490.25 479.2a1.75 1.75 0 1 0 -3.5 0a1.75 1.75 0 1 0 3.5 0M509.05 436.2a1.75 1.75 0 1 0 -3.5 0a1.75 1.75 0 1 0 3.5 0M493.35 441.9a1.75 1.75 0 1 0 -3.5 0a1.75 1.75 0 1 0 3.5 0M540.85 475.8a1.75 1.75 0 1 0 -3.5 0a1.75 1.75 0 1 0 3.5 0M541.75 445.4a1.75 1.75 0 1 0 -3.5 0a1.75 1.75 0 1 0 3.5 0M548.65 469.5a1.75 1.75 0 1 0 -3.5 0a1.75 1.75 0 1 0 3.5 0M551.25 467.1a1.75 1.75 0 1 0 -3.5 0a1.75 1.75 0 1 0 3.5 0M546.55 458.0a1.75 1.75 0 1 0 -3.5 0a1.75 1.75 0 1 0 3.5 0M535.65 465.6a1.75 1.75 0 1 0 -3.5 0a1.75 1.75 0 1 0 3.5 0M542.65 485.6a1.75 1.75 0 1 0 -3.5 0a1.75 1.75 0 1 0 3.5 0M534.05 431.6a1.75 1.75 0 1 0 -3.5 0a1.75 1.75 0 1 0 3.5 0M495.05 449.2a1.75 1.75 0 1 0 -3.5 0a1.75 1.75 0 1 0 3.5 0M544.95 455.9a1.75 1.75 0 1 0 -3.5 0a1.75 1.75 0 1 0 3.5 0M532.15 483.7a1.75 1.75 0 1 0 -3.5 0a1.75 1.75 0 1 0 3.5 0M543.95 435.6a1.75 1.75 0 1 0 -3.5 0a1.75 1.75 0 1 0 3.5 0M511.95 439.6a1.75 1.75 0 1 0 -3.5 0a1.75 1.75 0 1 0 3.5 0M516.85 440.2a1.75 1.75 0 1 0 -3.5 0a1.75 1.75 0 1 0 3.5 0M509.35 490.6a1.75 1.75 0 1 0 -3.5 0a1.75 1.75 0 1 0 3.5 0M517.65 436.6a1.75 1.75 0 1 0 -3.5 0a1.75 1.75 0 1 0 3.5 0M524.85 491.1a1.75 1.75 0 1 0 -3.5 0a1.75 1.75 0 1 0 3.5 0M544.45 442.0a1.75 1.75 0 1 0 -3.5 0a1.75 1.75 0 1 0 3.5 0M486.35 447.4a1.75 1.75 0 1 0 -3.5 0a1.75 1.75 0 1 0 3.5 0M522.05 429.2a1.75 1.75 0 1 0 -3.5 0a1.75 1.75 0 1 0 3.5 0M547.85 461.2a1.75 1.75 0 1 0 -3.5 0a1.75 1.75 0 1 0 3.5 0M535.75 480.8a1.75 1.75 0 1 0 -3.5 0a1.75 1.75 0 1 0 3.5 0M490.05 459.9a1.75 1.75 0 1 0 -3.5 0a1.75 1.75 0 1 0 3.5 0M504.55 431.9a1.75 1.75 0 1 0 -3.5 0a1.75 1.75 0 1 0 3.5 0M543.15 468.1a1.75 1.75 0 1 0 -3.5 0a1.75 1.75 0 1 0 3.5 0M526.85 435.5a1.75 1.75 0 1 0 -3.5 0a1.75 1.75 0 1 0 3.5 0M548.65 456.6a1.75 1.75 0 1 0 -3.5 0a1.75 1.75 0 1 0 3.5 0M491.65 465.5a1.75 1.75 0 1 0 -3.5 0a1.75 1.75 0 1 0 3.5 0M520.85 486.7a1.75 1.75 0 1 0 -3.5 0a1.75 1.75 0 1 0 3.5 0M515.65 442.9a1.75 1.75 0 1 0 -3.5 0a1.75 1.75 0 1 0 3.5 0M540.05 473.1a1.75 1.75 0 1 0 -3.5 0a1.75 1.75 0 1 0 3.5 0M523.55 494.2a1.75 1.75 0 1 0 -3.5 0a1.75 1.75 0 1 0 3.5 0M496.95 483.7a1.75 1.75 0 1 0 -3.5 0a1.75 1.75 0 1 0 3.5 0M525.65 439.8a1.75 1.75 0 1 0 -3.5 0a1.75 1.75 0 1 0 3.5 0M526.65 494.0a1.75 1.75 0 1 0 -3.5 0a1.75 1.75 0 1 0 3.5 0M529.15 489.3a1.75 1.75 0 1 0 -3.5 0a1.75 1.75 0 1 0 3.5 0M489.75 451.3a1.75 1.75 0 1 0 -3.5 0a1.75 1.75 0 1 0 3.5 0M503.55 439.3a1.75 1.75 0 1 0 -3.5 0a1.75 1.75 0 1 0 3.5 0M545.75 486.2a1.75 1.75 0 1 0 -3.5 0a1.75 1.75 0 1 0 3.5 0M507.45 488.5a1.75 1.75 0 1 0 -3.5 0a1.75 1.75 0 1 0 3.5 0M493.65 436.6a1.75 1.75 0 1 0 -3.5 0a1.75 1.75 0 1 0 3.5 0M551.35 455.0a1.75 1.75 0 1 0 -3.5 0a1.75 1.75 0 1 0 3.5 0M491.55 467.7a1.75 1.75 0 1 0 -3.5 0a1.75 1.75 0 1 0 3.5 0M551.75 472.9a1.75 1.75 0 1 0 -3.5 0a1.75 1.75 0 1 0 3.5 0M497.05 440.8a1.75 1.75 0 1 0 -3.5 0a1.75 1.75 0 1 0 3.5 0M535.55 450.3a1.75 1.75 0 1 0 -3.5 0a1.75 1.75 0 1 0 3.5 0M537.95 448.5a1.75 1.75 0 1 0 -3.5 0a1.75 1.75 0 1 0 3.5 0M519.95 441.3a1.75 1.75 0 1 0 -3.5 0a1.75 1.75 0 1 0 3.5 0M499.75 448.1a1.75 1.75 0 1 0 -3.5 0a1.75 1.75 0 1 0 3.5 0M511.45 490.4a1.75 1.75 0 1 0 -3.5 0a1.75 1.75 0 1 0 3.5 0M495.95 485.7a1.75 1.75 0 1 0 -3.5 0a1.75 1.75 0 1 0 3.5 0M535.05 467.8a1.75 1.75 0 1 0 -3.5 0a1.75 1.75 0 1 0 3.5 0M503.95 493.4a1.75 1.75 0 1 0 -3.5 0a1.75 1.75 0 1 0 3.5 0M504.75 436.5a1.75 1.75 0 1 0 -3.5 0a1.75 1.75 0 1 0 3.5 0M511.45 432.6a1.75 1.75 0 1 0 -3.5 0a1.75 1.75 0 1 0 3.5 0M524.85 430.5a1.75 1.75 0 1 0 -3.5 0a1.75 1.75 0 1 0 3.5 0M522.65 488.4a1.75 1.75 0 1 0 -3.5 0a1.75 1.75 0 1 0 3.5 0M498.45 490.0a1.75 1.75 0 1 0 -3.5 0a1.75 1.75 0 1 0 3.5 0M502.15 437.0a1.75 1.75 0 1 0 -3.5 0a1.75 1.75 0 1 0 3.5 0M488.95 447.5a1.75 1.75 0 1 0 -3.5 0a1.75 1.75 0 1 0 3.5 0M538.75 464.2a1.75 1.75 0 1 0 -3.5 0a1.75 1.75 0 1 0 3.5 0M552.55 481.0a1.75 1.75 0 1 0 -3.5 0a1.75 1.75 0 1 0 3.5 0M541.75 480.8a1.75 1.75 0 1 0 -3.5 0a1.75 1.75 0 1 0 3.5 0M551.55 457.5a1.75 1.75 0 1 0 -3.5 0a1.75 1.75 0 1 0 3.5 0M537.95 442.6a1.75 1.75 0 1 0 -3.5 0a1.75 1.75 0 1 0 3.5 0M513.75 438.0a1.75 1.75 0 1 0 -3.5 0a1.75 1.75 0 1 0 3.5 0M506.85 432.3a1.75 1.75 0 1 0 -3.5 0a1.75 1.75 0 1 0 3.5 0M484.35 457.6a1.75 1.75 0 1 0 -3.5 0a1.75 1.75 0 1 0 3.5 0M512.95 444.2a1.75 1.75 0 1 0 -3.5 0a1.75 1.75 0 1 0 3.5 0M518.35 444.0a1.75 1.75 0 1 0 -3.5 0a1.75 1.75 0 1 0 3.5 0M537.95 438.0a1.75 1.75 0 1 0 -3.5 0a1.75 1.75 0 1 0 3.5 0M540.45 441.4a1.75 1.75 0 1 0 -3.5 0a1.75 1.75 0 1 0 3.5 0M539.95 488.4a1.75 1.75 0 1 0 -3.5 0a1.75 1.75 0 1 0 3.5 0M519.35 439.2a1.75 1.75 0 1 0 -3.5 0a1.75 1.75 0 1 0 3.5 0M539.85 466.5a1.75 1.75 0 1 0 -3.5 0a1.75 1.75 0 1 0 3.5 0M533.95 439.0a1.75 1.75 0 1 0 -3.5 0a1.75 1.75 0 1 0 3.5 0M490.85 437.5a1.75 1.75 0 1 0 -3.5 0a1.75 1.75 0 1 0 3.5 0M486.75 466.4a1.75 1.75 0 1 0 -3.5 0a1.75 1.75 0 1 0 3.5 0M489.95 471.1a1.75 1.75 0 1 0 -3.5 0a1.75 1.75 0 1 0 3.5 0M554.15 453.5a1.75 1.75 0 1 0 -3.5 0a1.75 1.75 0 1 0 3.5 0M493.25 464.0a1.75 1.75 0 1 0 -3.5 0a1.75 1.75 0 1 0 3.5 0M489.05 453.6a1.75 1.75 0 1 0 -3.5 0a1.75 1.75 0 1 0 3.5 0M546.85 482.5a1.75 1.75 0 1 0 -3.5 0a1.75 1.75 0 1 0 3.5 0M514.95 489.5a1.75 1.75 0 1 0 -3.5 0a1.75 1.75 0 1 0 3.5 0M504.75 445.8a1.75 1.75 0 1 0 -3.5 0a1.75 1.75 0 1 0 3.5 0M485.05 451.2a1.75 1.75 0 1 0 -3.5 0a1.75 1.75 0 1 0 3.5 0M553.95 475.4a1.75 1.75 0 1 0 -3.5 0a1.75 1.75 0 1 0 3.5 0M540.05 470.0a1.75 1.75 0 1 0 -3.5 0a1.75 1.75 0 1 0 3.5 0M513.25 431.0a1.75 1.75 0 1 0 -3.5 0a1.75 1.75 0 1 0 3.5 0M518.65 429.2a1.75 1.75 0 1 0 -3.5 0a1.75 1.75 0 1 0 3.5 0M521.65 442.6a1.75 1.75 0 1 0 -3.5 0a1.75 1.75 0 1 0 3.5 0M503.05 490.9a1.75 1.75 0 1 0 -3.5 0a1.75 1.75 0 1 0 3.5 0M508.95 492.8a1.75 1.75 0 1 0 -3.5 0a1.75 1.75 0 1 0 3.5 0M508.35 441.8a1.75 1.75 0 1 0 -3.5 0a1.75 1.75 0 1 0 3.5 0M492.35 460.4a1.75 1.75 0 1 0 -3.5 0a1.75 1.75 0 1 0 3.5 0M493.15 445.1a1.75 1.75 0 1 0 -3.5 0a1.75 1.75 0 1 0 3.5 0M549.35 482.0a1.75 1.75 0 1 0 -3.5 0a1.75 1.75 0 1 0 3.5 0M491.05 462.9a1.75 1.75 0 1 0 -3.5 0a1.75 1.75 0 1 0 3.5 0M534.35 434.4a1.75 1.75 0 1 0 -3.5 0a1.75 1.75 0 1 0 3.5 0M527.45 441.9a1.75 1.75 0 1 0 -3.5 0a1.75 1.75 0 1 0 3.5 0M530.35 440.4a1.75 1.75 0 1 0 -3.5 0a1.75 1.75 0 1 0 3.5 0M487.15 444.8a1.75 1.75 0 1 0 -3.5 0a1.75 1.75 0 1 0 3.5 0M536.15 454.7a1.75 1.75 0 1 0 -3.5 0a1.75 1.75 0 1 0 3.5 0M527.45 490.9a1.75 1.75 0 1 0 -3.5 0a1.75 1.75 0 1 0 3.5 0M528.95 486.6a1.75 1.75 0 1 0 -3.5 0a1.75 1.75 0 1 0 3.5 0M528.05 432.1a1.75 1.75 0 1 0 -3.5 0a1.75 1.75 0 1 0 3.5 0M532.75 448.7a1.75 1.75 0 1 0 -3.5 0a1.75 1.75 0 1 0 3.5 0M531.45 452.0a1.75 1.75 0 1 0 -3.5 0a1.75 1.75 0 1 0 3.5 0M524.35 484.9a1.75 1.75 0 1 0 -3.5 0a1.75 1.75 0 1 0 3.5 0M541.65 454.6a1.75 1.75 0 1 0 -3.5 0a1.75 1.75 0 1 0 3.5 0M494.15 479.6a1.75 1.75 0 1 0 -3.5 0a1.75 1.75 0 1 0 3.5 0M543.25 476.1a1.75 1.75 0 1 0 -3.5 0a1.75 1.75 0 1 0 3.5 0M525.15 446.8a1.75 1.75 0 1 0 -3.5 0a1.75 1.75 0 1 0 3.5 0M499.75 483.8a1.75 1.75 0 1 0 -3.5 0a1.75 1.75 0 1 0 3.5 0M506.85 435.3a1.75 1.75 0 1 0 -3.5 0a1.75 1.75 0 1 0 3.5 0M502.55 448.0a1.75 1.75 0 1 0 -3.5 0a1.75 1.75 0 1 0 3.5 0M537.95 476.0a1.75 1.75 0 1 0 -3.5 0a1.75 1.75 0 1 0 3.5 0M550.15 452.2a1.75 1.75 0 1 0 -3.5 0a1.75 1.75 0 1 0 3.5 0M515.95 445.9a1.75 1.75 0 1 0 -3.5 0a1.75 1.75 0 1 0 3.5 0M493.75 487.0a1.75 1.75 0 1 0 -3.5 0a1.75 1.75 0 1 0 3.5 0M546.15 443.4a1.75 1.75 0 1 0 -3.5 0a1.75 1.75 0 1 0 3.5 0M499.85 431.7a1.75 1.75 0 1 0 -3.5 0a1.75 1.75 0 1 0 3.5 0M500.95 438.8a1.75 1.75 0 1 0 -3.5 0a1.75 1.75 0 1 0 3.5 0M493.55 452.1a1.75 1.75 0 1 0 -3.5 0a1.75 1.75 0 1 0 3.5 0M510.45 430.4a1.75 1.75 0 1 0 -3.5 0a1.75 1.75 0 1 0 3.5 0M539.45 435.4a1.75 1.75 0 1 0 -3.5 0a1.75 1.75 0 1 0 3.5 0M487.65 473.6a1.75 1.75 0 1 0 -3.5 0a1.75 1.75 0 1 0 3.5 0M534.35 443.5a1.75 1.75 0 1 0 -3.5 0a1.75 1.75 0 1 0 3.5 0M497.15 449.6a1.75 1.75 0 1 0 -3.5 0a1.75 1.75 0 1 0 3.5 0M498.15 442.7a1.75 1.75 0 1 0 -3.5 0a1.75 1.75 0 1 0 3.5 0M542.45 437.6a1.75 1.75 0 1 0 -3.5 0a1.75 1.75 0 1 0 3.5 0M507.05 491.5a1.75 1.75 0 1 0 -3.5 0a1.75 1.75 0 1 0 3.5 0M501.25 442.9a1.75 1.75 0 1 0 -3.5 0a1.75 1.75 0 1 0 3.5 0M554.15 450.0a1.75 1.75 0 1 0 -3.5 0a1.75 1.75 0 1 0 3.5 0M547.45 488.4a1.75 1.75 0 1 0 -3.5 0a1.75 1.75 0 1 0 3.5 0M539.05 461.5a1.75 1.75 0 1 0 -3.5 0a1.75 1.75 0 1 0 3.5 0M527.95 447.3a1.75 1.75 0 1 0 -3.5 0a1.75 1.75 0 1 0 3.5 0M549.25 484.8a1.75 1.75 0 1 0 -3.5 0a1.75 1.75 0 1 0 3.5 0M529.05 429.5a1.75 1.75 0 1 0 -3.5 0a1.75 1.75 0 1 0 3.5 0M548.95 447.7a1.75 1.75 0 1 0 -3.5 0a1.75 1.75 0 1 0 3.5 0M540.95 492.6a1.75 1.75 0 1 0 -3.5 0a1.75 1.75 0 1 0 3.5 0M533.95 457.0a1.75 1.75 0 1 0 -3.5 0a1.75 1.75 0 1 0 3.5 0M486.45 478.1a1.75 1.75 0 1 0 -3.5 0a1.75 1.75 0 1 0 3.5 0M542.85 487.8a1.75 1.75 0 1 0 -3.5 0a1.75 1.75 0 1 0 3.5 0M497.75 446.5a1.75 1.75 0 1 0 -3.5 0a1.75 1.75 0 1 0 3.5 0M503.05 483.7a1.75 1.75 0 1 0 -3.5 0a1.75 1.75 0 1 0 3.5 0M559.25 487.7a1.75 1.75 0 1 0 -3.5 0a1.75 1.75 0 1 0 3.5 0M484.45 430.4a1.75 1.75 0 1 0 -3.5 0a1.75 1.75 0 1 0 3.5 0M479.35 479.0a1.75 1.75 0 1 0 -3.5 0a1.75 1.75 0 1 0 3.5 0M476.95 465.4a1.75 1.75 0 1 0 -3.5 0a1.75 1.75 0 1 0 3.5 0M557.75 426.7a1.75 1.75 0 1 0 -3.5 0a1.75 1.75 0 1 0 3.5 0M538.25 412.3a1.75 1.75 0 1 0 -3.5 0a1.75 1.75 0 1 0 3.5 0M502.45 509.1a1.75 1.75 0 1 0 -3.5 0a1.75 1.75 0 1 0 3.5 0M494.35 495.2a1.75 1.75 0 1 0 -3.5 0a1.75 1.75 0 1 0 3.5 0M518.45 502.8a1.75 1.75 0 1 0 -3.5 0a1.75 1.75 0 1 0 3.5 0M566.95 448.4a1.75 1.75 0 1 0 -3.5 0a1.75 1.75 0 1 0 3.5 0M502.55 419.8a1.75 1.75 0 1 0 -3.5 0a1.75 1.75 0 1 0 3.5 0M528.45 411.7a1.75 1.75 0 1 0 -3.5 0a1.75 1.75 0 1 0 3.5 0M485.95 489.0a1.75 1.75 0 1 0 -3.5 0a1.75 1.75 0 1 0 3.5 0M533.95 428.6a1.75 1.75 0 1 0 -3.5 0a1.75 1.75 0 1 0 3.5 0M564.75 485.3a1.75 1.75 0 1 0 -3.5 0a1.75 1.75 0 1 0 3.5 0M538.15 494.8a1.75 1.75 0 1 0 -3.5 0a1.75 1.75 0 1 0 3.5 0M503.15 416.7a1.75 1.75 0 1 0 -3.5 0a1.75 1.75 0 1 0 3.5 0M479.65 446.0a1.75 1.75 0 1 0 -3.5 0a1.75 1.75 0 1 0 3.5 0M486.35 433.6a1.75 1.75 0 1 0 -3.5 0a1.75 1.75 0 1 0 3.5 0M485.25 439.6a1.75 1.75 0 1 0 -3.5 0a1.75 1.75 0 1 0 3.5 0M540.75 419.0a1.75 1.75 0 1 0 -3.5 0a1.75 1.75 0 1 0 3.5 0M498.25 427.0a1.75 1.75 0 1 0 -3.5 0a1.75 1.75 0 1 0 3.5 0M520.15 496.1a1.75 1.75 0 1 0 -3.5 0a1.75 1.75 0 1 0 3.5 0M479.95 459.1a1.75 1.75 0 1 0 -3.5 0a1.75 1.75 0 1 0 3.5 0M545.45 504.0a1.75 1.75 0 1 0 -3.5 0a1.75 1.75 0 1 0 3.5 0M523.95 506.0a1.75 1.75 0 1 0 -3.5 0a1.75 1.75 0 1 0 3.5 0M558.15 422.3a1.75 1.75 0 1 0 -3.5 0a1.75 1.75 0 1 0 3.5 0M482.35 437.5a1.75 1.75 0 1 0 -3.5 0a1.75 1.75 0 1 0 3.5 0M505.25 426.0a1.75 1.75 0 1 0 -3.5 0a1.75 1.75 0 1 0 3.5 0M513.45 419.5a1.75 1.75 0 1 0 -3.5 0a1.75 1.75 0 1 0 3.5 0M546.35 500.4a1.75 1.75 0 1 0 -3.5 0a1.75 1.75 0 1 0 3.5 0M554.25 439.2a1.75 1.75 0 1 0 -3.5 0a1.75 1.75 0 1 0 3.5 0M533.15 509.5a1.75 1.75 0 1 0 -3.5 0a1.75 1.75 0 1 0 3.5 0M482.75 480.8a1.75 1.75 0 1 0 -3.5 0a1.75 1.75 0 1 0 3.5 0M507.95 417.6a1.75 1.75 0 1 0 -3.5 0a1.75 1.75 0 1 0 3.5 0M524.25 499.1a1.75 1.75 0 1 0 -3.5 0a1.75 1.75 0 1 0 3.5 0M553.95 430.7a1.75 1.75 0 1 0 -3.5 0a1.75 1.75 0 1 0 3.5 0M548.45 431.1a1.75 1.75 0 1 0 -3.5 0a1.75 1.75 0 1 0 3.5 0M559.95 466.6a1.75 1.75 0 1 0 -3.5 0a1.75 1.75 0 1 0 3.5 0M556.15 478.2a1.75 1.75 0 1 0 -3.5 0a1.75 1.75 0 1 0 3.5 0M482.85 446.3a1.75 1.75 0 1 0 -3.5 0a1.75 1.75 0 1 0 3.5 0M508.85 495.9a1.75 1.75 0 1 0 -3.5 0a1.75 1.75 0 1 0 3.5 0M479.35 483.0a1.75 1.75 0 1 0 -3.5 0a1.75 1.75 0 1 0 3.5 0M541.95 503.4a1.75 1.75 0 1 0 -3.5 0a1.75 1.75 0 1 0 3.5 0M501.35 424.1a1.75 1.75 0 1 0 -3.5 0a1.75 1.75 0 1 0 3.5 0M551.95 487.9a1.75 1.75 0 1 0 -3.5 0a1.75 1.75 0 1 0 3.5 0M548.85 416.3a1.75 1.75 0 1 0 -3.5 0a1.75 1.75 0 1 0 3.5 0M558.45 462.7a1.75 1.75 0 1 0 -3.5 0a1.75 1.75 0 1 0 3.5 0M542.95 412.7a1.75 1.75 0 1 0 -3.5 0a1.75 1.75 0 1 0 3.5 0M491.85 430.3a1.75 1.75 0 1 0 -3.5 0a1.75 1.75 0 1 0 3.5 0M483.05 469.5a1.75 1.75 0 1 0 -3.5 0a1.75 1.75 0 1 0 3.5 0M477.55 452.3a1.75 1.75 0 1 0 -3.5 0a1.75 1.75 0 1 0 3.5 0M487.65 425.4a1.75 1.75 0 1 0 -3.5 0a1.75 1.75 0 1 0 3.5 0M525.85 420.8a1.75 1.75 0 1 0 -3.5 0a1.75 1.75 0 1 0 3.5 0M552.95 484.2a1.75 1.75 0 1 0 -3.5 0a1.75 1.75 0 1 0 3.5 0M497.25 502.6a1.75 1.75 0 1 0 -3.5 0a1.75 1.75 0 1 0 3.5 0M562.25 445.5a1.75 1.75 0 1 0 -3.5 0a1.75 1.75 0 1 0 3.5 0M490.85 497.5a1.75 1.75 0 1 0 -3.5 0a1.75 1.75 0 1 0 3.5 0M491.75 433.9a1.75 1.75 0 1 0 -3.5 0a1.75 1.75 0 1 0 3.5 0M550.95 428.8a1.75 1.75 0 1 0 -3.5 0a1.75 1.75 0 1 0 3.5 0M514.25 498.5a1.75 1.75 0 1 0 -3.5 0a1.75 1.75 0 1 0 3.5 0M541.45 430.7a1.75 1.75 0 1 0 -3.5 0a1.75 1.75 0 1 0 3.5 0M510.65 499.1a1.75 1.75 0 1 0 -3.5 0a1.75 1.75 0 1 0 3.5 0M568.15 460.4a1.75 1.75 0 1 0 -3.5 0a1.75 1.75 0 1 0 3.5 0M559.95 447.9a1.75 1.75 0 1 0 -3.5 0a1.75 1.75 0 1 0 3.5 0M565.05 463.2a1.75 1.75 0 1 0 -3.5 0a1.75 1.75 0 1 0 3.5 0M497.95 498.7a1.75 1.75 0 1 0 -3.5 0a1.75 1.75 0 1 0 3.5 0M558.15 439.1a1.75 1.75 0 1 0 -3.5 0a1.75 1.75 0 1 0 3.5 0M560.15 436.2a1.75 1.75 0 1 0 -3.5 0a1.75 1.75 0 1 0 3.5 0M517.95 413.1a1.75 1.75 0 1 0 -3.5 0a1.75 1.75 0 1 0 3.5 0M566.35 476.4a1.75 1.75 0 1 0 -3.5 0a1.75 1.75 0 1 0 3.5 0M525.05 509.4a1.75 1.75 0 1 0 -3.5 0a1.75 1.75 0 1 0 3.5 0M527.45 425.1a1.75 1.75 0 1 0 -3.5 0a1.75 1.75 0 1 0 3.5 0M493.75 500.0a1.75 1.75 0 1 0 -3.5 0a1.75 1.75 0 1 0 3.5 0M507.25 411.6a1.75 1.75 0 1 0 -3.5 0a1.75 1.75 0 1 0 3.5 0M559.45 477.3a1.75 1.75 0 1 0 -3.5 0a1.75 1.75 0 1 0 3.5 0M513.45 511.3a1.75 1.75 0 1 0 -3.5 0a1.75 1.75 0 1 0 3.5 0M547.25 423.1a1.75 1.75 0 1 0 -3.5 0a1.75 1.75 0 1 0 3.5 0M534.45 419.2a1.75 1.75 0 1 0 -3.5 0a1.75 1.75 0 1 0 3.5 0" fill="none" stroke="#9a9aff" stroke-width="1.4"/>
<g fill="none" stroke="#0000ff" stroke-width="1.4" stroke-opacity="0.6"><circle cx="455.8" cy="346.5" r="1.75"/><circle cx="459.5" cy="355.3" r="1.75"/><circle cx="468.3" cy="358.2" r="1.75"/><circle cx="455.8" cy="370.7" r="1.75"/><circle cx="478.1" cy="376.8" r="1.75"/><circle cx="487.1" cy="385.0" r="1.75"/><circle cx="530.6" cy="356.4" r="1.75"/><circle cx="532.5" cy="379.6" r="1.75"/><circle cx="540.1" cy="381.9" r="1.75"/><circle cx="473.9" cy="390.2" r="1.75"/><circle cx="480.6" cy="394.3" r="1.75"/><circle cx="483.7" cy="392.5" r="1.75"/><circle cx="487.4" cy="394.9" r="1.75"/><circle cx="493.0" cy="394.0" r="1.75"/><circle cx="484.7" cy="398.0" r="1.75"/><circle cx="498.6" cy="396.2" r="1.75"/><circle cx="502.9" cy="395.4" r="1.75"/><circle cx="505.1" cy="401.0" r="1.75"/><circle cx="489.9" cy="401.0" r="1.75"/><circle cx="494.0" cy="401.4" r="1.75"/><circle cx="498.6" cy="402.3" r="1.75"/><circle cx="486.9" cy="404.7" r="1.75"/><circle cx="474.4" cy="399.2" r="1.75"/><circle cx="474.4" cy="401.4" r="1.75"/><circle cx="521.5" cy="394.3" r="1.75"/><circle cx="531.2" cy="391.2" r="1.75"/><circle cx="529.3" cy="396.7" r="1.75"/><circle cx="535.3" cy="396.2" r="1.75"/><circle cx="543.8" cy="390.6" r="1.75"/><circle cx="542.0" cy="395.8" r="1.75"/><circle cx="546.0" cy="397.3" r="1.75"/><circle cx="541.4" cy="398.6" r="1.75"/><circle cx="551.6" cy="403.6" r="1.75"/><circle cx="558.1" cy="406.6" r="1.75"/><circle cx="458.0" cy="407.3" r="1.75"/><circle cx="470.7" cy="413.5" r="1.75"/><circle cx="468.8" cy="414.4" r="1.75"/><circle cx="467.9" cy="419.1" r="1.75"/><circle cx="467.9" cy="422.8" r="1.75"/><circle cx="459.5" cy="428.9" r="1.75"/><circle cx="463.3" cy="435.8" r="1.75"/><circle cx="455.8" cy="446.4" r="1.75"/><circle cx="466.0" cy="447.5" r="1.75"/><circle cx="459.5" cy="454.4" r="1.75"/><circle cx="474.4" cy="442.3" r="1.75"/><circle cx="483.7" cy="415.9" r="1.75"/><circle cx="493.0" cy="411.3" r="1.75"/><circle cx="487.4" cy="420.9" r="1.75"/><circle cx="492.5" cy="419.1" r="1.75"/><circle cx="501.4" cy="411.1" r="1.75"/><circle cx="510.3" cy="411.6" r="1.75"/><circle cx="515.3" cy="409.8" r="1.75"/><circle cx="511.6" cy="416.3" r="1.75"/><circle cx="516.3" cy="416.3" r="1.75"/><circle cx="524.7" cy="415.9" r="1.75"/><circle cx="527.1" cy="416.3" r="1.75"/><circle cx="529.9" cy="408.5" r="1.75"/><circle cx="533.0" cy="415.9" r="1.75"/><circle cx="538.6" cy="415.3" r="1.75"/><circle cx="543.3" cy="419.6" r="1.75"/><circle cx="548.8" cy="421.9" r="1.75"/><circle cx="551.6" cy="425.6" r="1.75"/><circle cx="559.1" cy="419.6" r="1.75"/><circle cx="558.7" cy="430.2" r="1.75"/><circle cx="479.1" cy="424.7" r="1.75"/><circle cx="482.8" cy="425.6" r="1.75"/><circle cx="475.3" cy="431.2" r="1.75"/><circle cx="478.1" cy="432.1" r="1.75"/><circle cx="490.2" cy="426.0" r="1.75"/><circle cx="495.8" cy="422.8" r="1.75"/><circle cx="499.9" cy="427.4" r="1.75"/><circle cx="504.2" cy="421.9" r="1.75"/><circle cx="507.0" cy="424.7" r="1.75"/><circle cx="512.6" cy="423.7" r="1.75"/><circle cx="518.1" cy="420.0" r="1.75"/><circle cx="521.9" cy="423.3" r="1.75"/><circle cx="528.4" cy="421.9" r="1.75"/><circle cx="531.2" cy="425.6" r="1.75"/><circle cx="536.7" cy="423.7" r="1.75"/><circle cx="541.4" cy="423.3" r="1.75"/><circle cx="601.5" cy="399.9" r="1.75"/><circle cx="562.4" cy="413.9" r="1.75"/><circle cx="590.7" cy="422.8" r="1.75"/><circle cx="560.6" cy="432.1" r="1.75"/><circle cx="564.3" cy="434.0" r="1.75"/><circle cx="570.8" cy="430.2" r="1.75"/><circle cx="577.7" cy="429.3" r="1.75"/><circle cx="555.0" cy="434.0" r="1.75"/><circle cx="589.4" cy="437.1" r="1.75"/><circle cx="561.5" cy="441.4" r="1.75"/><circle cx="556.9" cy="445.1" r="1.75"/><circle cx="570.8" cy="447.0" r="1.75"/><circle cx="583.8" cy="446.6" r="1.75"/><circle cx="597.4" cy="443.8" r="1.75"/><circle cx="577.0" cy="452.9" r="1.75"/><circle cx="593.7" cy="452.9" r="1.75"/><circle cx="567.7" cy="452.2" r="1.75"/><circle cx="564.3" cy="454.4" r="1.75"/><circle cx="559.7" cy="451.6" r="1.75"/><circle cx="556.9" cy="453.5" r="1.75"/><circle cx="619.7" cy="451.3" r="1.75"/><circle cx="609.0" cy="457.6" r="1.75"/><circle cx="569.9" cy="459.1" r="1.75"/><circle cx="557.8" cy="457.2" r="1.75"/><circle cx="562.4" cy="457.2" r="1.75"/><circle cx="468.8" cy="467.7" r="1.75"/><circle cx="467.9" cy="469.5" r="1.75"/><circle cx="463.8" cy="474.5" r="1.75"/><circle cx="474.4" cy="471.7" r="1.75"/><circle cx="477.2" cy="470.8" r="1.75"/><circle cx="473.5" cy="477.7" r="1.75"/><circle cx="470.7" cy="482.9" r="1.75"/><circle cx="469.8" cy="484.8" r="1.75"/><circle cx="480.9" cy="484.8" r="1.75"/><circle cx="484.7" cy="485.7" r="1.75"/><circle cx="487.4" cy="482.9" r="1.75"/><circle cx="490.2" cy="481.0" r="1.75"/><circle cx="478.1" cy="499.7" r="1.75"/><circle cx="479.1" cy="491.3" r="1.75"/><circle cx="483.7" cy="493.1" r="1.75"/><circle cx="484.7" cy="495.9" r="1.75"/><circle cx="485.6" cy="498.7" r="1.75"/><circle cx="489.3" cy="493.1" r="1.75"/><circle cx="481.9" cy="504.3" r="1.75"/><circle cx="486.5" cy="504.3" r="1.75"/><circle cx="490.2" cy="505.2" r="1.75"/><circle cx="493.0" cy="506.2" r="1.75"/><circle cx="492.1" cy="510.8" r="1.75"/><circle cx="494.0" cy="490.3" r="1.75"/><circle cx="498.6" cy="494.1" r="1.75"/><circle cx="499.5" cy="500.6" r="1.75"/><circle cx="504.2" cy="498.7" r="1.75"/><circle cx="506.0" cy="504.3" r="1.75"/><circle cx="509.8" cy="503.4" r="1.75"/><circle cx="511.6" cy="501.5" r="1.75"/><circle cx="505.1" cy="509.0" r="1.75"/><circle cx="510.7" cy="507.1" r="1.75"/><circle cx="516.3" cy="510.8" r="1.75"/><circle cx="480.6" cy="514.9" r="1.75"/><circle cx="486.5" cy="519.7" r="1.75"/><circle cx="484.7" cy="524.2" r="1.75"/><circle cx="491.2" cy="528.5" r="1.75"/><circle cx="501.0" cy="526.6" r="1.75"/><circle cx="506.6" cy="520.1" r="1.75"/><circle cx="514.4" cy="525.3" r="1.75"/><circle cx="521.9" cy="530.9" r="1.75"/><circle cx="515.3" cy="514.2" r="1.75"/><circle cx="524.7" cy="514.2" r="1.75"/><circle cx="522.8" cy="521.0" r="1.75"/><circle cx="525.6" cy="522.9" r="1.75"/><circle cx="534.0" cy="517.3" r="1.75"/><circle cx="536.7" cy="514.5" r="1.75"/><circle cx="539.5" cy="517.3" r="1.75"/><circle cx="545.1" cy="517.9" r="1.75"/><circle cx="544.2" cy="524.2" r="1.75"/><circle cx="540.1" cy="531.3" r="1.75"/><circle cx="553.5" cy="514.5" r="1.75"/><circle cx="558.1" cy="515.5" r="1.75"/><circle cx="558.1" cy="525.3" r="1.75"/><circle cx="556.8" cy="553.2" r="1.75"/><circle cx="527.4" cy="503.4" r="1.75"/><circle cx="532.1" cy="504.3" r="1.75"/><circle cx="536.7" cy="505.2" r="1.75"/><circle cx="538.6" cy="509.0" r="1.75"/><circle cx="541.4" cy="508.0" r="1.75"/><circle cx="547.0" cy="502.4" r="1.75"/><circle cx="551.6" cy="505.2" r="1.75"/><circle cx="555.3" cy="508.0" r="1.75"/><circle cx="559.1" cy="505.2" r="1.75"/><circle cx="544.2" cy="510.8" r="1.75"/><circle cx="549.8" cy="501.5" r="1.75"/><circle cx="553.5" cy="497.8" r="1.75"/><circle cx="557.2" cy="495.9" r="1.75"/><circle cx="526.5" cy="509.0" r="1.75"/><circle cx="533.0" cy="496.9" r="1.75"/><circle cx="527.4" cy="499.7" r="1.75"/><circle cx="540.5" cy="499.7" r="1.75"/><circle cx="544.2" cy="495.9" r="1.75"/><circle cx="548.8" cy="494.1" r="1.75"/><circle cx="552.6" cy="490.3" r="1.75"/><circle cx="559.1" cy="490.3" r="1.75"/><circle cx="601.5" cy="463.9" r="1.75"/><circle cx="612.1" cy="466.7" r="1.75"/><circle cx="597.4" cy="467.7" r="1.75"/><circle cx="601.5" cy="471.4" r="1.75"/><circle cx="596.9" cy="473.2" r="1.75"/><circle cx="588.9" cy="467.7" r="1.75"/><circle cx="583.8" cy="469.0" r="1.75"/><circle cx="583.8" cy="472.7" r="1.75"/><circle cx="579.6" cy="462.1" r="1.75"/><circle cx="575.1" cy="462.1" r="1.75"/><circle cx="577.0" cy="470.8" r="1.75"/><circle cx="573.6" cy="468.4" r="1.75"/><circle cx="572.7" cy="477.3" r="1.75"/><circle cx="575.5" cy="477.3" r="1.75"/><circle cx="581.0" cy="480.1" r="1.75"/><circle cx="584.4" cy="479.6" r="1.75"/><circle cx="585.7" cy="485.7" r="1.75"/><circle cx="577.7" cy="485.7" r="1.75"/><circle cx="569.9" cy="488.1" r="1.75"/><circle cx="590.0" cy="489.4" r="1.75"/><circle cx="596.3" cy="488.9" r="1.75"/><circle cx="603.7" cy="477.0" r="1.75"/><circle cx="601.5" cy="478.3" r="1.75"/><circle cx="591.8" cy="478.3" r="1.75"/><circle cx="616.4" cy="478.8" r="1.75"/><circle cx="619.2" cy="482.0" r="1.75"/><circle cx="612.1" cy="485.7" r="1.75"/><circle cx="610.4" cy="488.1" r="1.75"/><circle cx="614.9" cy="490.7" r="1.75"/><circle cx="651.2" cy="482.5" r="1.75"/><circle cx="581.0" cy="491.8" r="1.75"/><circle cx="577.0" cy="496.9" r="1.75"/><circle cx="575.5" cy="501.5" r="1.75"/><circle cx="570.8" cy="497.8" r="1.75"/><circle cx="566.2" cy="500.6" r="1.75"/><circle cx="561.5" cy="501.5" r="1.75"/><circle cx="555.9" cy="499.7" r="1.75"/><circle cx="587.6" cy="498.7" r="1.75"/><circle cx="600.6" cy="495.0" r="1.75"/><circle cx="603.7" cy="496.9" r="1.75"/><circle cx="603.0" cy="499.3" r="1.75"/><circle cx="609.3" cy="498.7" r="1.75"/><circle cx="616.0" cy="509.3" r="1.75"/><circle cx="569.0" cy="510.8" r="1.75"/><circle cx="572.7" cy="517.3" r="1.75"/><circle cx="560.6" cy="518.3" r="1.75"/><circle cx="600.2" cy="519.6" r="1.75"/><circle cx="611.7" cy="530.3" r="1.75"/><circle cx="555.0" cy="456.9" r="1.75"/><circle cx="566.2" cy="464.3" r="1.75"/><circle cx="562.4" cy="466.2" r="1.75"/><circle cx="558.7" cy="469.9" r="1.75"/><circle cx="555.9" cy="473.6" r="1.75"/><circle cx="560.6" cy="475.5" r="1.75"/><circle cx="564.3" cy="471.7" r="1.75"/><circle cx="568.0" cy="468.0" r="1.75"/><circle cx="569.9" cy="472.7" r="1.75"/><circle cx="566.2" cy="479.2" r="1.75"/><circle cx="562.4" cy="481.0" r="1.75"/><circle cx="558.7" cy="482.9" r="1.75"/><circle cx="555.9" cy="484.8" r="1.75"/><circle cx="563.4" cy="489.4" r="1.75"/><circle cx="566.2" cy="494.1" r="1.75"/><circle cx="555.9" cy="494.1" r="1.75"/><circle cx="562.4" cy="497.8" r="1.75"/><circle cx="556.9" cy="505.2" r="1.75"/><circle cx="503.4" cy="455.9" r="1.75"/><circle cx="516.2" cy="474.4" r="1.75"/><circle cx="502.2" cy="479.1" r="1.75"/><circle cx="510.1" cy="465.9" r="1.75"/><circle cx="506.6" cy="464.2" r="1.75"/><circle cx="506.0" cy="485.2" r="1.75"/><circle cx="504.4" cy="449.7" r="1.75"/><circle cx="526.8" cy="462.0" r="1.75"/><circle cx="517.9" cy="457.9" r="1.75"/><circle cx="497.1" cy="454.8" r="1.75"/><circle cx="522.7" cy="467.6" r="1.75"/><circle cx="518.5" cy="475.2" r="1.75"/><circle cx="514.9" cy="473.2" r="1.75"/><circle cx="499.7" cy="453.4" r="1.75"/><circle cx="509.5" cy="479.6" r="1.75"/><circle cx="501.0" cy="477.1" r="1.75"/><circle cx="525.1" cy="475.4" r="1.75"/><circle cx="524.3" cy="454.8" r="1.75"/><circle cx="492.9" cy="469.3" r="1.75"/><circle cx="519.9" cy="478.9" r="1.75"/><circle cx="520.6" cy="469.9" r="1.75"/><circle cx="506.4" cy="483.1" r="1.75"/><circle cx="502.7" cy="464.1" r="1.75"/><circle cx="496.5" cy="469.0" r="1.75"/><circle cx="519.5" cy="466.6" r="1.75"/><circle cx="507.0" cy="447.8" r="1.75"/><circle cx="517.4" cy="447.7" r="1.75"/><circle cx="522.4" cy="470.7" r="1.75"/><circle cx="526.5" cy="472.4" r="1.75"/><circle cx="522.5" cy="457.3" r="1.75"/><circle cx="529.6" cy="469.4" r="1.75"/><circle cx="513.9" cy="461.4" r="1.75"/><circle cx="514.2" cy="470.5" r="1.75"/><circle cx="505.7" cy="458.3" r="1.75"/><circle cx="513.2" cy="465.2" r="1.75"/><circle cx="508.1" cy="458.0" r="1.75"/><circle cx="517.1" cy="450.4" r="1.75"/><circle cx="499.1" cy="461.0" r="1.75"/><circle cx="499.9" cy="450.2" r="1.75"/><circle cx="522.6" cy="465.7" r="1.75"/><circle cx="498.1" cy="466.6" r="1.75"/><circle cx="509.4" cy="454.5" r="1.75"/><circle cx="513.1" cy="485.8" r="1.75"/><circle cx="513.2" cy="473.8" r="1.75"/><circle cx="501.4" cy="457.0" r="1.75"/><circle cx="499.5" cy="479.8" r="1.75"/><circle cx="515.0" cy="457.0" r="1.75"/><circle cx="506.4" cy="456.2" r="1.75"/><circle cx="502.6" cy="474.1" r="1.75"/><circle cx="528.6" cy="458.2" r="1.75"/><circle cx="499.0" cy="473.9" r="1.75"/><circle cx="526.3" cy="452.4" r="1.75"/><circle cx="501.0" cy="470.7" r="1.75"/><circle cx="504.0" cy="477.5" r="1.75"/><circle cx="504.3" cy="482.0" r="1.75"/><circle cx="530.2" cy="474.3" r="1.75"/><circle cx="508.4" cy="459.8" r="1.75"/><circle cx="495.3" cy="465.2" r="1.75"/><circle cx="501.7" cy="461.6" r="1.75"/><circle cx="505.0" cy="471.8" r="1.75"/><circle cx="508.2" cy="475.6" r="1.75"/><circle cx="522.7" cy="451.6" r="1.75"/><circle cx="520.5" cy="448.0" r="1.75"/><circle cx="524.0" cy="460.0" r="1.75"/><circle cx="512.0" cy="461.5" r="1.75"/><circle cx="497.9" cy="462.9" r="1.75"/><circle cx="530.5" cy="459.6" r="1.75"/><circle cx="524.2" cy="478.6" r="1.75"/><circle cx="530.8" cy="463.8" r="1.75"/><circle cx="522.5" cy="482.7" r="1.75"/><circle cx="506.7" cy="453.0" r="1.75"/><circle cx="507.2" cy="450.2" r="1.75"/><circle cx="528.2" cy="463.2" r="1.75"/><circle cx="510.3" cy="470.1" r="1.75"/><circle cx="506.8" cy="474.4" r="1.75"/><circle cx="527.5" cy="467.5" r="1.75"/><circle cx="496.1" cy="458.1" r="1.75"/><circle cx="511.7" cy="480.3" r="1.75"/><circle cx="515.4" cy="464.4" r="1.75"/><circle cx="517.1" cy="483.3" r="1.75"/><circle cx="513.5" cy="451.4" r="1.75"/><circle cx="501.8" cy="472.4" r="1.75"/><circle cx="529.9" cy="471.9" r="1.75"/><circle cx="501.2" cy="465.8" r="1.75"/><circle cx="514.7" cy="459.0" r="1.75"/><circle cx="515.6" cy="469.3" r="1.75"/><circle cx="508.3" cy="468.0" r="1.75"/><circle cx="526.7" cy="476.3" r="1.75"/><circle cx="495.7" cy="475.1" r="1.75"/><circle cx="501.5" cy="459.1" r="1.75"/><circle cx="527.7" cy="474.0" r="1.75"/><circle cx="517.1" cy="461.6" r="1.75"/><circle cx="513.4" cy="454.6" r="1.75"/><circle cx="513.4" cy="449.2" r="1.75"/><circle cx="511.8" cy="468.1" r="1.75"/><circle cx="493.3" cy="461.7" r="1.75"/><circle cx="525.0" cy="450.9" r="1.75"/><circle cx="513.7" cy="483.2" r="1.75"/><circle cx="508.4" cy="471.6" r="1.75"/><circle cx="513.7" cy="476.9" r="1.75"/><circle cx="529.6" cy="461.8" r="1.75"/><circle cx="517.5" cy="485.4" r="1.75"/><circle cx="516.4" cy="479.7" r="1.75"/><circle cx="499.1" cy="470.7" r="1.75"/><circle cx="523.2" cy="448.9" r="1.75"/><circle cx="519.9" cy="472.6" r="1.75"/><circle cx="519.4" cy="459.1" r="1.75"/><circle cx="494.3" cy="473.9" r="1.75"/><circle cx="494.6" cy="468.3" r="1.75"/><circle cx="509.4" cy="447.8" r="1.75"/><circle cx="515.2" cy="450.4" r="1.75"/><circle cx="492.1" cy="466.4" r="1.75"/><circle cx="507.6" cy="480.6" r="1.75"/><circle cx="497.8" cy="478.8" r="1.75"/><circle cx="506.7" cy="470.8" r="1.75"/><circle cx="522.4" cy="461.2" r="1.75"/><circle cx="531.4" cy="461.4" r="1.75"/><circle cx="509.5" cy="473.2" r="1.75"/><circle cx="511.9" cy="453.3" r="1.75"/><circle cx="514.3" cy="467.1" r="1.75"/><circle cx="515.5" cy="478.2" r="1.75"/><circle cx="520.6" cy="482.9" r="1.75"/><circle cx="503.4" cy="466.7" r="1.75"/><circle cx="519.1" cy="468.5" r="1.75"/><circle cx="519.2" cy="450.0" r="1.75"/><circle cx="522.9" cy="473.6" r="1.75"/><circle cx="508.4" cy="464.8" r="1.75"/><circle cx="529.5" cy="475.9" r="1.75"/><circle cx="519.5" cy="463.2" r="1.75"/><circle cx="516.5" cy="459.5" r="1.75"/><circle cx="503.4" cy="448.1" r="1.75"/><circle cx="504.4" cy="461.7" r="1.75"/><circle cx="528.0" cy="465.6" r="1.75"/><circle cx="525.2" cy="458.2" r="1.75"/><circle cx="527.9" cy="460.4" r="1.75"/><circle cx="518.0" cy="456.0" r="1.75"/><circle cx="517.7" cy="467.3" r="1.75"/><circle cx="515.5" cy="448.1" r="1.75"/><circle cx="512.7" cy="458.4" r="1.75"/><circle cx="505.8" cy="468.9" r="1.75"/><circle cx="503.4" cy="468.9" r="1.75"/><circle cx="511.3" cy="472.6" r="1.75"/><circle cx="503.1" cy="453.5" r="1.75"/><circle cx="497.5" cy="451.4" r="1.75"/><circle cx="529.5" cy="456.4" r="1.75"/><circle cx="495.4" cy="471.6" r="1.75"/><circle cx="504.4" cy="484.6" r="1.75"/><circle cx="498.0" cy="457.8" r="1.75"/><circle cx="522.7" cy="476.0" r="1.75"/><circle cx="516.4" cy="466.0" r="1.75"/><circle cx="508.4" cy="482.7" r="1.75"/><circle cx="509.9" cy="481.4" r="1.75"/><circle cx="516.0" cy="454.4" r="1.75"/><circle cx="509.3" cy="485.2" r="1.75"/><circle cx="510.5" cy="475.0" r="1.75"/><circle cx="493.1" cy="471.5" r="1.75"/><circle cx="510.5" cy="460.4" r="1.75"/><circle cx="526.1" cy="466.3" r="1.75"/><circle cx="510.1" cy="452.6" r="1.75"/><circle cx="505.5" cy="451.2" r="1.75"/><circle cx="495.1" cy="461.5" r="1.75"/><circle cx="509.9" cy="450.5" r="1.75"/><circle cx="524.2" cy="488.0" r="1.75"/><circle cx="544.0" cy="476.6" r="1.75"/><circle cx="549.4" cy="439.1" r="1.75"/><circle cx="535.4" cy="470.8" r="1.75"/><circle cx="521.6" cy="437.0" r="1.75"/><circle cx="518.0" cy="488.7" r="1.75"/><circle cx="533.4" cy="490.4" r="1.75"/><circle cx="538.1" cy="433.4" r="1.75"/><circle cx="533.9" cy="461.3" r="1.75"/><circle cx="493.1" cy="440.2" r="1.75"/><circle cx="485.5" cy="451.4" r="1.75"/><circle cx="505.2" cy="445.0" r="1.75"/><circle cx="515.2" cy="488.9" r="1.75"/><circle cx="549.0" cy="476.8" r="1.75"/><circle cx="549.3" cy="462.0" r="1.75"/><circle cx="526.5" cy="437.9" r="1.75"/><circle cx="534.1" cy="446.5" r="1.75"/><circle cx="521.9" cy="444.3" r="1.75"/><circle cx="545.3" cy="463.5" r="1.75"/><circle cx="537.2" cy="446.0" r="1.75"/><circle cx="488.5" cy="443.4" r="1.75"/><circle cx="515.2" cy="486.6" r="1.75"/><circle cx="543.7" cy="467.5" r="1.75"/><circle cx="530.3" cy="435.3" r="1.75"/><circle cx="540.5" cy="490.3" r="1.75"/><circle cx="535.7" cy="440.4" r="1.75"/><circle cx="546.6" cy="438.5" r="1.75"/><circle cx="483.1" cy="475.3" r="1.75"/><circle cx="531.8" cy="480.5" r="1.75"/><circle cx="520.1" cy="433.6" r="1.75"/><circle cx="484.7" cy="471.7" r="1.75"/><circle cx="536.8" cy="451.9" r="1.75"/><circle cx="537.0" cy="454.0" r="1.75"/><circle cx="492.0" cy="474.5" r="1.75"/><circle cx="538.2" cy="478.6" r="1.75"/><circle cx="552.0" cy="446.1" r="1.75"/><circle cx="529.3" cy="478.7" r="1.75"/><circle cx="507.4" cy="439.3" r="1.75"/><circle cx="539.8" cy="463.2" r="1.75"/><circle cx="552.7" cy="471.8" r="1.75"/><circle cx="486.8" cy="461.8" r="1.75"/><circle cx="490.8" cy="470.8" r="1.75"/><circle cx="498.9" cy="489.8" r="1.75"/><circle cx="528.6" cy="432.2" r="1.75"/><circle cx="544.0" cy="474.0" r="1.75"/><circle cx="530.6" cy="487.9" r="1.75"/><circle cx="526.6" cy="483.2" r="1.75"/><circle cx="487.4" cy="476.1" r="1.75"/><circle cx="543.4" cy="451.9" r="1.75"/><circle cx="528.0" cy="492.4" r="1.75"/><circle cx="533.0" cy="436.7" r="1.75"/><circle cx="546.5" cy="475.8" r="1.75"/><circle cx="487.2" cy="464.3" r="1.75"/><circle cx="494.8" cy="433.9" r="1.75"/><circle cx="486.6" cy="457.2" r="1.75"/><circle cx="508.3" cy="443.5" r="1.75"/><circle cx="510.6" cy="493.7" r="1.75"/><circle cx="492.1" cy="483.8" r="1.75"/><circle cx="539.2" cy="459.3" r="1.75"/><circle cx="536.6" cy="483.2" r="1.75"/><circle cx="485.9" cy="469.4" r="1.75"/><circle cx="535.7" cy="433.8" r="1.75"/><circle cx="530.3" cy="454.2" r="1.75"/><circle cx="498.5" cy="445.5" r="1.75"/><circle cx="541.1" cy="478.8" r="1.75"/><circle cx="512.9" cy="494.4" r="1.75"/><circle cx="552.3" cy="468.3" r="1.75"/><circle cx="509.4" cy="434.8" r="1.75"/><circle cx="482.9" cy="454.9" r="1.75"/><circle cx="513.1" cy="434.6" r="1.75"/><circle cx="498.1" cy="486.1" r="1.75"/><circle cx="547.1" cy="479.4" r="1.75"/><circle cx="495.3" cy="436.3" r="1.75"/><circle cx="534.2" cy="458.2" r="1.75"/><circle cx="547.1" cy="441.2" r="1.75"/><circle cx="534.9" cy="478.5" r="1.75"/><circle cx="525.6" cy="445.3" r="1.75"/><circle cx="545.0" cy="454.5" r="1.75"/><circle cx="502.1" cy="488.0" r="1.75"/><circle cx="548.9" cy="464.8" r="1.75"/><circle cx="484.5" cy="481.0" r="1.75"/><circle cx="543.7" cy="437.9" r="1.75"/><circle cx="553.0" cy="462.2" r="1.75"/><circle cx="549.9" cy="446.5" r="1.75"/><circle cx="491.3" cy="447.6" r="1.75"/><circle cx="540.9" cy="450.5" r="1.75"/><circle cx="540.6" cy="474.2" r="1.75"/><circle cx="498.9" cy="435.3" r="1.75"/><circle cx="518.3" cy="436.7" r="1.75"/><circle cx="541.9" cy="482.3" r="1.75"/><circle cx="504.7" cy="440.5" r="1.75"/><circle cx="544.2" cy="445.7" r="1.75"/><circle cx="504.5" cy="493.7" r="1.75"/><circle cx="517.4" cy="491.9" r="1.75"/><circle cx="483.9" cy="462.1" r="1.75"/><circle cx="542.7" cy="464.3" r="1.75"/><circle cx="530.5" cy="493.6" r="1.75"/><circle cx="529.5" cy="443.8" r="1.75"/><circle cx="501.6" cy="441.6" r="1.75"/><circle cx="488.5" cy="479.2" r="1.75"/><circle cx="507.3" cy="436.2" r="1.75"/><circle cx="491.6" cy="441.9" r="1.75"/><circle cx="539.1" cy="475.8" r="1.75"/><circle cx="540.0" cy="445.4" r="1.75"/><circle cx="546.9" cy="469.5" r="1.75"/><circle cx="549.5" cy="467.1" r="1.75"/><circle cx="544.8" cy="458.0" r="1.75"/><circle cx="533.9" cy="465.6" r="1.75"/><circle cx="540.9" cy="485.6" r="1.75"/><circle cx="532.3" cy="431.6" r="1.75"/><circle cx="493.3" cy="449.2" r="1.75"/><circle cx="543.2" cy="455.9" r="1.75"/><circle cx="530.4" cy="483.7" r="1.75"/><circle cx="542.2" cy="435.6" r="1.75"/><circle cx="510.2" cy="439.6" r="1.75"/><circle cx="515.1" cy="440.2" r="1.75"/><circle cx="507.6" cy="490.6" r="1.75"/><circle cx="515.9" cy="436.6" r="1.75"/><circle cx="523.1" cy="491.1" r="1.75"/><circle cx="542.7" cy="442.0" r="1.75"/><circle cx="484.6" cy="447.4" r="1.75"/><circle cx="520.3" cy="429.2" r="1.75"/><circle cx="546.1" cy="461.2" r="1.75"/><circle cx="534.0" cy="480.8" r="1.75"/><circle cx="488.3" cy="459.9" r="1.75"/><circle cx="502.8" cy="431.9" r="1.75"/><circle cx="541.4" cy="468.1" r="1.75"/><circle cx="525.1" cy="435.5" r="1.75"/><circle cx="546.9" cy="456.6" r="1.75"/><circle cx="489.9" cy="465.5" r="1.75"/><circle cx="519.1" cy="486.7" r="1.75"/><circle cx="513.9" cy="442.9" r="1.75"/><circle cx="538.3" cy="473.1" r="1.75"/><circle cx="521.8" cy="494.2" r="1.75"/><circle cx="495.2" cy="483.7" r="1.75"/><circle cx="523.9" cy="439.8" r="1.75"/><circle cx="524.9" cy="494.0" r="1.75"/><circle cx="527.4" cy="489.3" r="1.75"/><circle cx="488.0" cy="451.3" r="1.75"/><circle cx="501.8" cy="439.3" r="1.75"/><circle cx="544.0" cy="486.2" r="1.75"/><circle cx="505.7" cy="488.5" r="1.75"/><circle cx="491.9" cy="436.6" r="1.75"/><circle cx="549.6" cy="455.0" r="1.75"/><circle cx="489.8" cy="467.7" r="1.75"/><circle cx="550.0" cy="472.9" r="1.75"/><circle cx="495.3" cy="440.8" r="1.75"/><circle cx="533.8" cy="450.3" r="1.75"/><circle cx="536.2" cy="448.5" r="1.75"/><circle cx="518.2" cy="441.3" r="1.75"/><circle cx="498.0" cy="448.1" r="1.75"/><circle cx="509.7" cy="490.4" r="1.75"/><circle cx="494.2" cy="485.7" r="1.75"/><circle cx="533.3" cy="467.8" r="1.75"/><circle cx="502.2" cy="493.4" r="1.75"/><circle cx="503.0" cy="436.5" r="1.75"/><circle cx="509.7" cy="432.6" r="1.75"/><circle cx="523.1" cy="430.5" r="1.75"/><circle cx="520.9" cy="488.4" r="1.75"/><circle cx="496.7" cy="490.0" r="1.75"/><circle cx="500.4" cy="437.0" r="1.75"/><circle cx="487.2" cy="447.5" r="1.75"/><circle cx="537.0" cy="464.2" r="1.75"/><circle cx="550.8" cy="481.0" r="1.75"/><circle cx="540.0" cy="480.8" r="1.75"/><circle cx="549.8" cy="457.5" r="1.75"/><circle cx="536.2" cy="442.6" r="1.75"/><circle cx="512.0" cy="438.0" r="1.75"/><circle cx="505.1" cy="432.3" r="1.75"/><circle cx="482.6" cy="457.6" r="1.75"/><circle cx="511.2" cy="444.2" r="1.75"/><circle cx="516.6" cy="444.0" r="1.75"/><circle cx="536.2" cy="438.0" r="1.75"/><circle cx="538.7" cy="441.4" r="1.75"/><circle cx="538.2" cy="488.4" r="1.75"/><circle cx="517.6" cy="439.2" r="1.75"/><circle cx="538.1" cy="466.5" r="1.75"/><circle cx="532.2" cy="439.0" r="1.75"/><circle cx="489.1" cy="437.5" r="1.75"/><circle cx="485.0" cy="466.4" r="1.75"/><circle cx="488.2" cy="471.1" r="1.75"/><circle cx="552.4" cy="453.5" r="1.75"/><circle cx="491.5" cy="464.0" r="1.75"/><circle cx="487.3" cy="453.6" r="1.75"/><circle cx="545.1" cy="482.5" r="1.75"/><circle cx="513.2" cy="489.5" r="1.75"/><circle cx="503.0" cy="445.8" r="1.75"/><circle cx="483.3" cy="451.2" r="1.75"/><circle cx="552.2" cy="475.4" r="1.75"/><circle cx="538.3" cy="470.0" r="1.75"/><circle cx="511.5" cy="431.0" r="1.75"/><circle cx="516.9" cy="429.2" r="1.75"/><circle cx="519.9" cy="442.6" r="1.75"/><circle cx="501.3" cy="490.9" r="1.75"/><circle cx="507.2" cy="492.8" r="1.75"/><circle cx="506.6" cy="441.8" r="1.75"/><circle cx="490.6" cy="460.4" r="1.75"/><circle cx="491.4" cy="445.1" r="1.75"/><circle cx="547.6" cy="482.0" r="1.75"/><circle cx="489.3" cy="462.9" r="1.75"/><circle cx="532.6" cy="434.4" r="1.75"/><circle cx="525.7" cy="441.9" r="1.75"/><circle cx="528.6" cy="440.4" r="1.75"/><circle cx="485.4" cy="444.8" r="1.75"/><circle cx="534.4" cy="454.7" r="1.75"/><circle cx="525.7" cy="490.9" r="1.75"/><circle cx="527.2" cy="486.6" r="1.75"/><circle cx="526.3" cy="432.1" r="1.75"/><circle cx="531.0" cy="448.7" r="1.75"/><circle cx="529.7" cy="452.0" r="1.75"/><circle cx="522.6" cy="484.9" r="1.75"/><circle cx="539.9" cy="454.6" r="1.75"/><circle cx="492.4" cy="479.6" r="1.75"/><circle cx="541.5" cy="476.1" r="1.75"/><circle cx="523.4" cy="446.8" r="1.75"/><circle cx="498.0" cy="483.8" r="1.75"/><circle cx="505.1" cy="435.3" r="1.75"/><circle cx="500.8" cy="448.0" r="1.75"/><circle cx="536.2" cy="476.0" r="1.75"/><circle cx="548.4" cy="452.2" r="1.75"/><circle cx="514.2" cy="445.9" r="1.75"/><circle cx="492.0" cy="487.0" r="1.75"/><circle cx="544.4" cy="443.4" r="1.75"/><circle cx="498.1" cy="431.7" r="1.75"/><circle cx="499.2" cy="438.8" r="1.75"/><circle cx="491.8" cy="452.1" r="1.75"/><circle cx="508.7" cy="430.4" r="1.75"/><circle cx="537.7" cy="435.4" r="1.75"/><circle cx="485.9" cy="473.6" r="1.75"/><circle cx="532.6" cy="443.5" r="1.75"/><circle cx="495.4" cy="449.6" r="1.75"/><circle cx="496.4" cy="442.7" r="1.75"/><circle cx="540.7" cy="437.6" r="1.75"/><circle cx="505.3" cy="491.5" r="1.75"/><circle cx="499.5" cy="442.9" r="1.75"/><circle cx="552.4" cy="450.0" r="1.75"/><circle cx="545.7" cy="488.4" r="1.75"/><circle cx="537.3" cy="461.5" r="1.75"/><circle cx="526.2" cy="447.3" r="1.75"/><circle cx="547.5" cy="484.8" r="1.75"/><circle cx="527.3" cy="429.5" r="1.75"/><circle cx="547.2" cy="447.7" r="1.75"/><circle cx="539.2" cy="492.6" r="1.75"/><circle cx="532.2" cy="457.0" r="1.75"/><circle cx="484.7" cy="478.1" r="1.75"/><circle cx="541.1" cy="487.8" r="1.75"/><circle cx="496.0" cy="446.5" r="1.75"/><circle cx="501.3" cy="483.7" r="1.75"/><circle cx="557.5" cy="487.7" r="1.75"/><circle cx="482.7" cy="430.4" r="1.75"/><circle cx="477.6" cy="479.0" r="1.75"/><circle cx="475.2" cy="465.4" r="1.75"/><circle cx="556.0" cy="426.7" r="1.75"/><circle cx="536.5" cy="412.3" r="1.75"/><circle cx="500.7" cy="509.1" r="1.75"/><circle cx="492.6" cy="495.2" r="1.75"/><circle cx="516.7" cy="502.8" r="1.75"/><circle cx="565.2" cy="448.4" r="1.75"/><circle cx="500.8" cy="419.8" r="1.75"/><circle cx="526.7" cy="411.7" r="1.75"/><circle cx="484.2" cy="489.0" r="1.75"/><circle cx="532.2" cy="428.6" r="1.75"/><circle cx="563.0" cy="485.3" r="1.75"/><circle cx="536.4" cy="494.8" r="1.75"/><circle cx="501.4" cy="416.7" r="1.75"/><circle cx="477.9" cy="446.0" r="1.75"/><circle cx="484.6" cy="433.6" r="1.75"/><circle cx="483.5" cy="439.6" r="1.75"/><circle cx="539.0" cy="419.0" r="1.75"/><circle cx="496.5" cy="427.0" r="1.75"/><circle cx="518.4" cy="496.1" r="1.75"/><circle cx="478.2" cy="459.1" r="1.75"/><circle cx="543.7" cy="504.0" r="1.75"/><circle cx="522.2" cy="506.0" r="1.75"/><circle cx="556.4" cy="422.3" r="1.75"/><circle cx="480.6" cy="437.5" r="1.75"/><circle cx="503.5" cy="426.0" r="1.75"/><circle cx="511.7" cy="419.5" r="1.75"/><circle cx="544.6" cy="500.4" r="1.75"/><circle cx="552.5" cy="439.2" r="1.75"/><circle cx="531.4" cy="509.5" r="1.75"/><circle cx="481.0" cy="480.8" r="1.75"/><circle cx="506.2" cy="417.6" r="1.75"/><circle cx="522.5" cy="499.1" r="1.75"/><circle cx="552.2" cy="430.7" r="1.75"/><circle cx="546.7" cy="431.1" r="1.75"/><circle cx="558.2" cy="466.6" r="1.75"/><circle cx="554.4" cy="478.2" r="1.75"/><circle cx="481.1" cy="446.3" r="1.75"/><circle cx="507.1" cy="495.9" r="1.75"/><circle cx="477.6" cy="483.0" r="1.75"/><circle cx="540.2" cy="503.4" r="1.75"/><circle cx="499.6" cy="424.1" r="1.75"/><circle cx="550.2" cy="487.9" r="1.75"/><circle cx="547.1" cy="416.3" r="1.75"/><circle cx="556.7" cy="462.7" r="1.75"/><circle cx="541.2" cy="412.7" r="1.75"/><circle cx="490.1" cy="430.3" r="1.75"/><circle cx="481.3" cy="469.5" r="1.75"/><circle cx="475.8" cy="452.3" r="1.75"/><circle cx="485.9" cy="425.4" r="1.75"/><circle cx="524.1" cy="420.8" r="1.75"/><circle cx="551.2" cy="484.2" r="1.75"/><circle cx="495.5" cy="502.6" r="1.75"/><circle cx="560.5" cy="445.5" r="1.75"/><circle cx="489.1" cy="497.5" r="1.75"/><circle cx="490.0" cy="433.9" r="1.75"/><circle cx="549.2" cy="428.8" r="1.75"/><circle cx="512.5" cy="498.5" r="1.75"/><circle cx="539.7" cy="430.7" r="1.75"/><circle cx="508.9" cy="499.1" r="1.75"/><circle cx="566.4" cy="460.4" r="1.75"/><circle cx="558.2" cy="447.9" r="1.75"/><circle cx="563.3" cy="463.2" r="1.75"/><circle cx="496.2" cy="498.7" r="1.75"/><circle cx="556.4" cy="439.1" r="1.75"/><circle cx="558.4" cy="436.2" r="1.75"/><circle cx="516.2" cy="413.1" r="1.75"/><circle cx="564.6" cy="476.4" r="1.75"/><circle cx="523.3" cy="509.4" r="1.75"/><circle cx="525.7" cy="425.1" r="1.75"/><circle cx="492.0" cy="500.0" r="1.75"/><circle cx="505.5" cy="411.6" r="1.75"/><circle cx="557.7" cy="477.3" r="1.75"/><circle cx="511.7" cy="511.3" r="1.75"/><circle cx="545.5" cy="423.1" r="1.75"/><circle cx="532.7" cy="419.2" r="1.75"/></g>
<rect x="440.00" y="344.00" width="234.00" height="234.00" fill="none" stroke="#505050" stroke-width="1.4"/>
<line x1="440.00" y1="578.00" x2="440.00" y2="590.50" stroke="#505050" stroke-width="1.4" />
<text x="440.00" y="605.10" font-size="16.8" text-anchor="middle" font-weight="normal" fill="#151515" stroke="#151515" stroke-width="0.3">0</text>
<line x1="498.50" y1="578.00" x2="498.50" y2="590.50" stroke="#505050" stroke-width="1.4" />
<text x="498.50" y="605.10" font-size="16.8" text-anchor="middle" font-weight="normal" fill="#151515" stroke="#151515" stroke-width="0.3">10</text>
<line x1="557.00" y1="578.00" x2="557.00" y2="590.50" stroke="#505050" stroke-width="1.4" />
<text x="557.00" y="605.10" font-size="16.8" text-anchor="middle" font-weight="normal" fill="#151515" stroke="#151515" stroke-width="0.3">20</text>
<line x1="615.50" y1="578.00" x2="615.50" y2="590.50" stroke="#505050" stroke-width="1.4" />
<text x="615.50" y="605.10" font-size="16.8" text-anchor="middle" font-weight="normal" fill="#151515" stroke="#151515" stroke-width="0.3">30</text>
<line x1="674.00" y1="578.00" x2="674.00" y2="590.50" stroke="#505050" stroke-width="1.4" />
<text x="674.00" y="605.10" font-size="16.8" text-anchor="middle" font-weight="normal" fill="#151515" stroke="#151515" stroke-width="0.3">40</text>
<line x1="469.25" y1="578.00" x2="469.25" y2="584.00" stroke="#505050" stroke-width="1.4" />
<line x1="527.75" y1="578.00" x2="527.75" y2="584.00" stroke="#505050" stroke-width="1.4" />
<line x1="586.25" y1="578.00" x2="586.25" y2="584.00" stroke="#505050" stroke-width="1.4" />
<line x1="644.75" y1="578.00" x2="644.75" y2="584.00" stroke="#505050" stroke-width="1.4" />
<line x1="427.50" y1="578.00" x2="440.00" y2="578.00" stroke="#505050" stroke-width="1.4" />
<text x="425.50" y="582.80" font-size="16.8" text-anchor="end" font-weight="normal" fill="#151515" stroke="#151515" stroke-width="0.3">-4</text>
<line x1="427.50" y1="519.50" x2="440.00" y2="519.50" stroke="#505050" stroke-width="1.4" />
<text x="425.50" y="524.30" font-size="16.8" text-anchor="end" font-weight="normal" fill="#151515" stroke="#151515" stroke-width="0.3">-2</text>
<line x1="427.50" y1="461.00" x2="440.00" y2="461.00" stroke="#505050" stroke-width="1.4" />
<text x="425.50" y="465.80" font-size="16.8" text-anchor="end" font-weight="normal" fill="#151515" stroke="#151515" stroke-width="0.3">0</text>
<line x1="427.50" y1="402.50" x2="440.00" y2="402.50" stroke="#505050" stroke-width="1.4" />
<text x="425.50" y="407.30" font-size="16.8" text-anchor="end" font-weight="normal" fill="#151515" stroke="#151515" stroke-width="0.3">2</text>
<line x1="427.50" y1="344.00" x2="440.00" y2="344.00" stroke="#505050" stroke-width="1.4" />
<text x="425.50" y="348.80" font-size="16.8" text-anchor="end" font-weight="normal" fill="#151515" stroke="#151515" stroke-width="0.3">4</text>
<line x1="434.00" y1="548.75" x2="440.00" y2="548.75" stroke="#505050" stroke-width="1.4" />
<line x1="434.00" y1="490.25" x2="440.00" y2="490.25" stroke="#505050" stroke-width="1.4" />
<line x1="434.00" y1="431.75" x2="440.00" y2="431.75" stroke="#505050" stroke-width="1.4" />
<line x1="434.00" y1="373.25" x2="440.00" y2="373.25" stroke="#505050" stroke-width="1.4" />
<text x="181.50" y="303.60" font-size="17" text-anchor="middle" font-weight="normal" fill="#151515" stroke="#151515" stroke-width="0.3">IPRED (ng/ml)</text>
<text x="553.00" y="302.70" font-size="17" text-anchor="middle" font-weight="normal" fill="#151515" stroke="#151515" stroke-width="0.3">PRED (ng/ml)</text>
<text x="183.70" y="638.60" font-size="17" text-anchor="middle" font-weight="normal" fill="#151515" stroke="#151515" stroke-width="0.3">Time (h)</text>
<text x="556.50" y="633.20" font-size="17" text-anchor="middle" font-weight="normal" fill="#151515" stroke="#151515" stroke-width="0.3">PRED (ng/ml)</text>
<text x="15.00" y="128.00" font-size="17" text-anchor="middle" font-weight="normal" fill="#151515" stroke="#151515" stroke-width="0.55" transform="rotate(-90 15.00 128.00)">OBS (ng/ml)</text>
<text x="389.50" y="130.20" font-size="17" text-anchor="middle" font-weight="normal" fill="#151515" stroke="#151515" stroke-width="0.55" transform="rotate(-90 389.50 130.20)">OBS (ng/ml)</text>
<text x="19.90" y="462.40" font-size="17.6" text-anchor="middle" font-weight="normal" fill="#151515" stroke="#151515" stroke-width="0.55" transform="rotate(-90 19.90 462.40)">CWRES</text>
<text x="396.40" y="460.00" font-size="17.6" text-anchor="middle" font-weight="normal" fill="#151515" stroke="#151515" stroke-width="0.55" transform="rotate(-90 396.40 460.00)">CWRES</text>
<text x="1.80" y="15.50" font-size="20" text-anchor="start" font-weight="bold" fill="#000">A</text>
<text x="379.50" y="17.00" font-size="20" text-anchor="start" font-weight="bold" fill="#000">B</text>
<text x="2.60" y="347.00" font-size="20" text-anchor="start" font-weight="bold" fill="#000">C</text>
<text x="383.70" y="346.70" font-size="20" text-anchor="start" font-weight="bold" fill="#000">D</text>
</svg>
</body></html>
